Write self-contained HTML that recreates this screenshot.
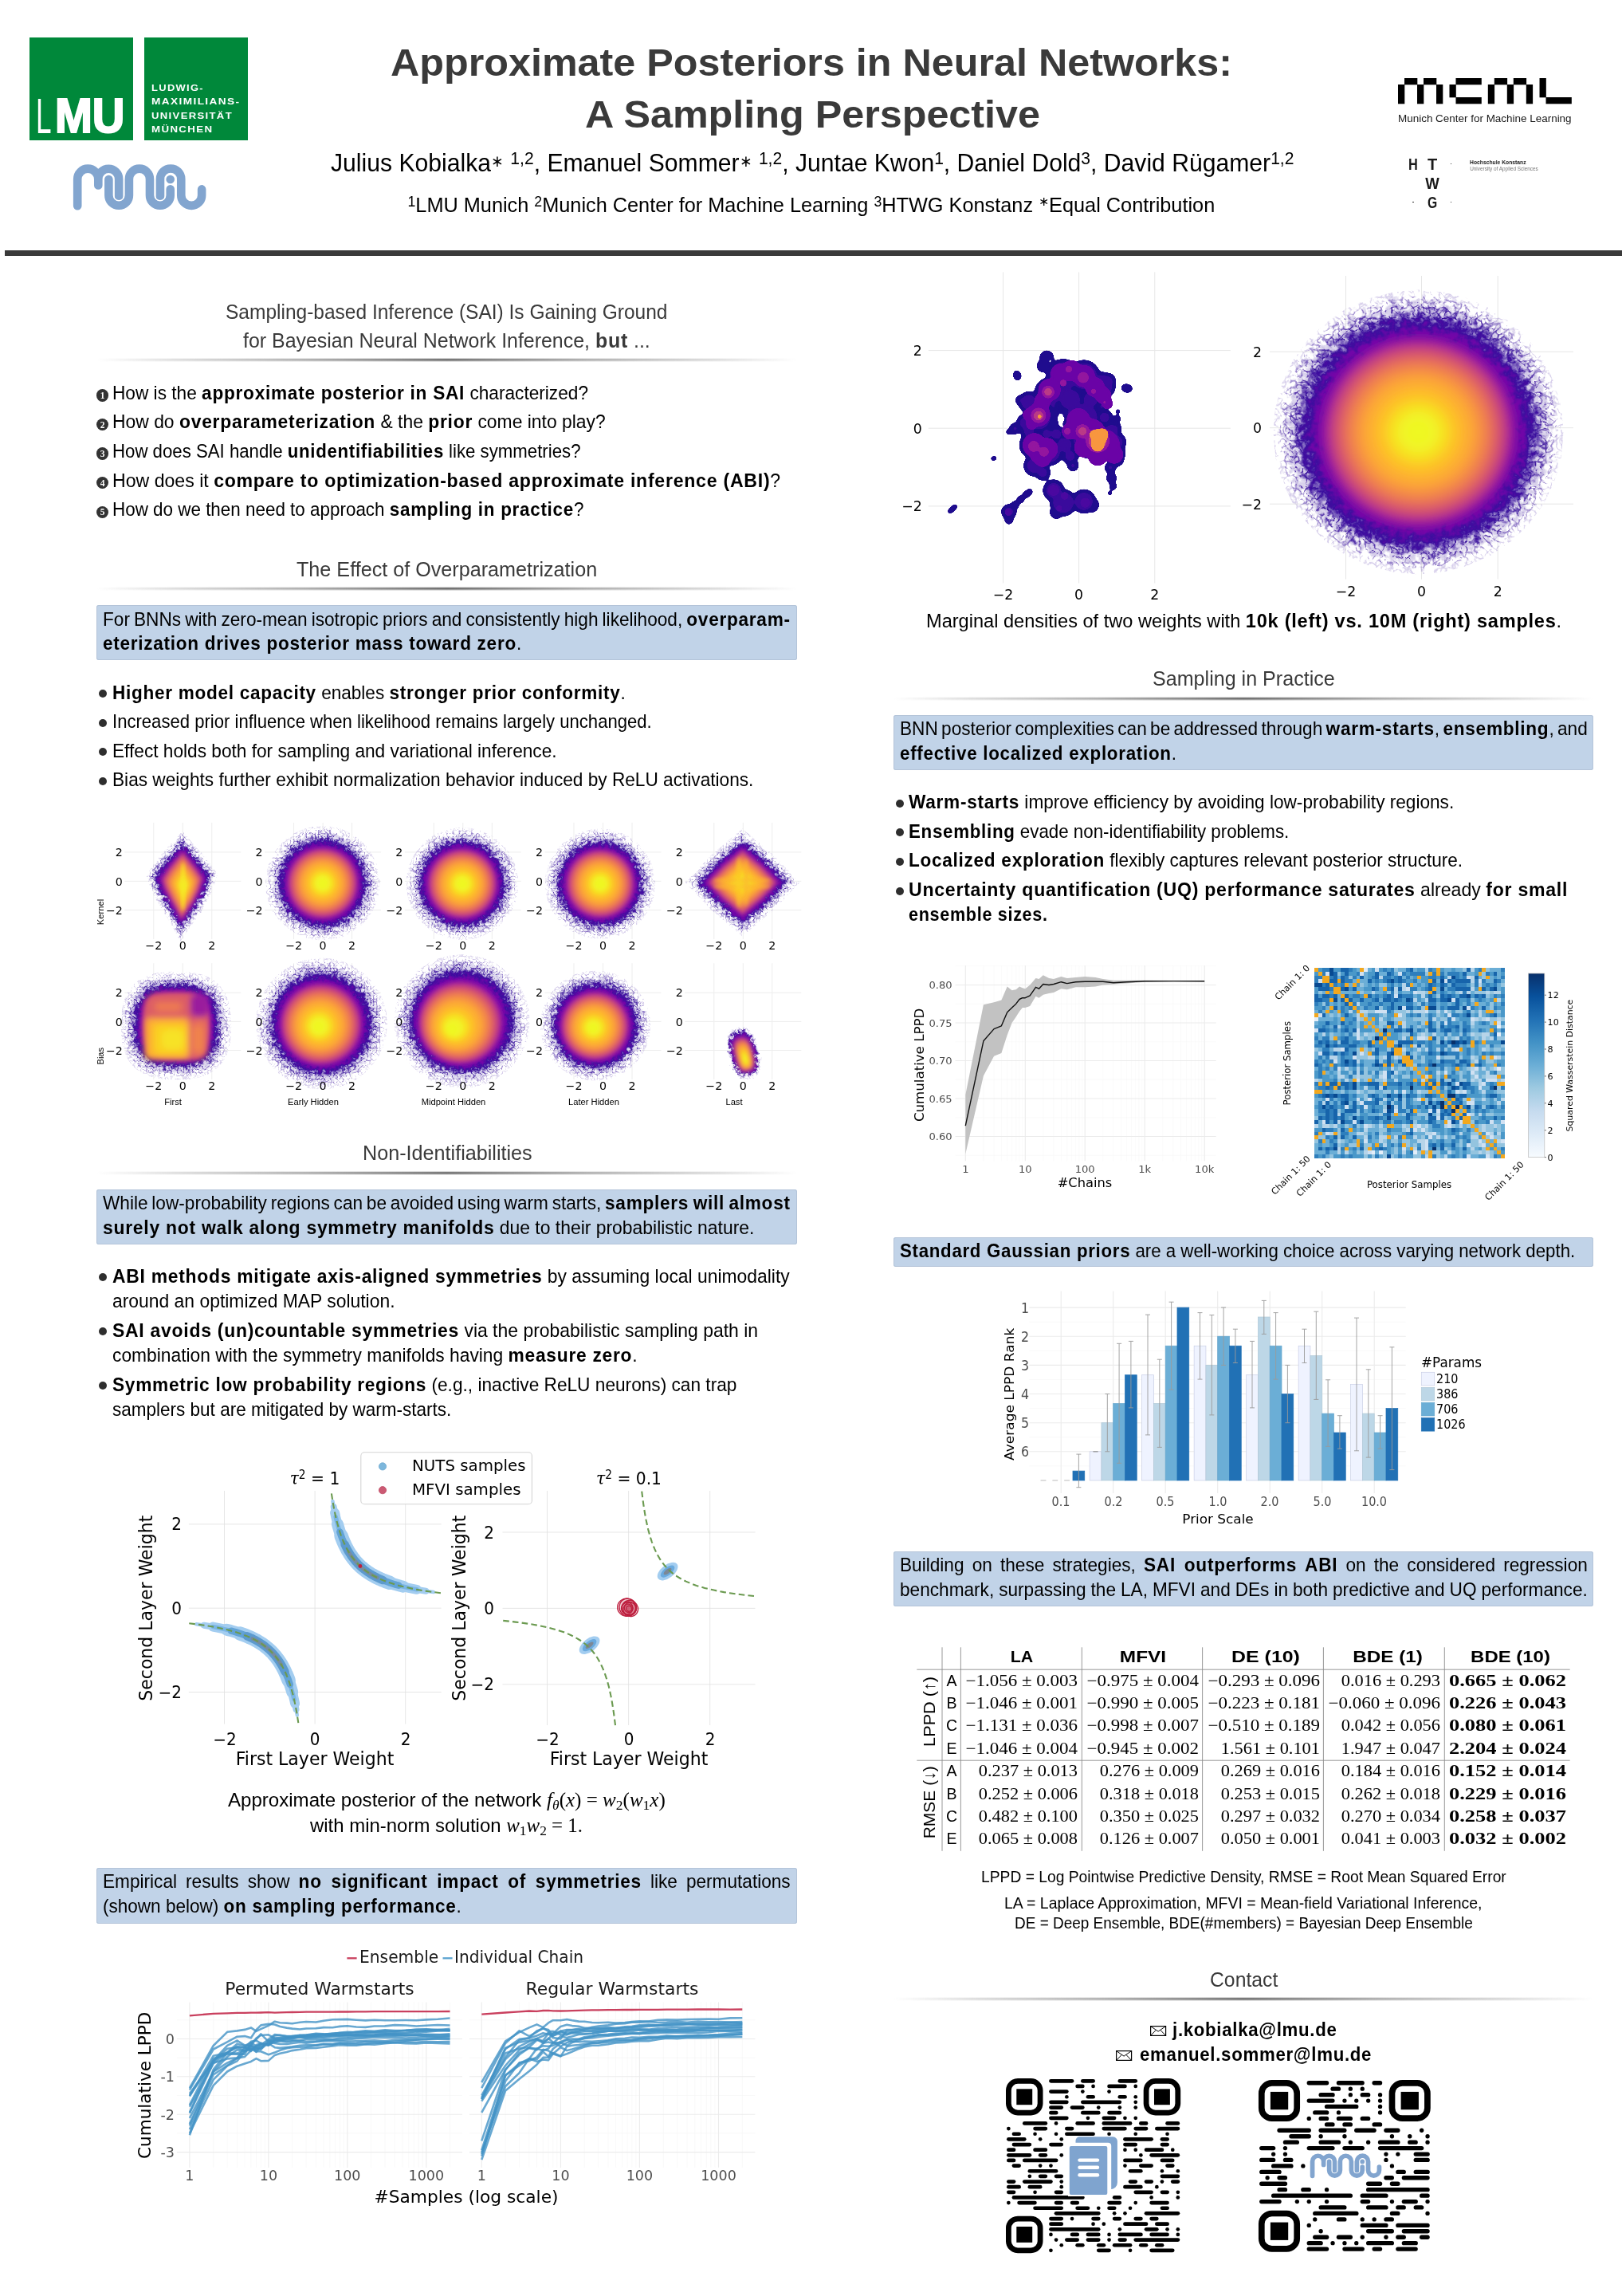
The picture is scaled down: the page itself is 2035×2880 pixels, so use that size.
<!DOCTYPE html><html lang="en"><head><meta charset="utf-8"><title>Approximate Posteriors in Neural Networks: A Sampling Perspective</title><style>
html,body{margin:0;padding:0;background:#fff}
html{width:2035px;height:2880px;overflow:hidden}
body{width:2035px;height:2880px;position:relative;overflow:hidden;color:#000}
.t{position:absolute;white-space:nowrap;line-height:1}
.t b{font-weight:700;letter-spacing:.032em}
svg{position:absolute;overflow:visible}
sup{font-size:70%;vertical-align:baseline;position:relative;top:-.42em}
.bm{display:inline-block;width:0;height:0}
sub{font-size:70%;vertical-align:baseline;position:relative;top:.22em}
</style></head><body>
<div style="position:absolute;left:36.8px;top:46.8px;width:129.8px;height:129.6px;background:#00883a"></div>
<div style="position:absolute;left:181px;top:46.8px;width:129.8px;height:129.6px;background:#00883a"></div>
<svg style="left:85px;top:200px" width="180" height="70" viewBox="0 0 180 70"><path d="M12.21,58.3 V24.64 A13.04,13.04 0 0 1 38.29,24.64 V32.4 M38.29,24.64 A12.925,12.925 0 0 1 64.14,24.64 V46.4" fill="none" stroke="#82a5cf" stroke-width="10.6" stroke-linecap="round" stroke-linejoin="round"/><path d="M115.97,46.6 V24.64 A13.15,13.15 0 0 1 142.27,24.64 V44.94 A12.93,12.93 0 0 0 168.13,44.94 V37.4" fill="none" stroke="#82a5cf" stroke-width="10.6" stroke-linecap="round" stroke-linejoin="round"/><path d="M51.38,24.97 V44.94 A12.76,12.76 0 0 0 76.9,44.94 V24.64 A13.04,13.04 0 0 1 102.98,24.64 V44.94 A12.875,12.875 0 0 0 128.73,44.94 V37.2" fill="none" stroke="#fff" stroke-width="13.399999999999999" stroke-linecap="round" stroke-linejoin="round"/><path d="M51.38,24.97 V44.94 A12.76,12.76 0 0 0 76.9,44.94 V24.64 A13.04,13.04 0 0 1 102.98,24.64 V44.94 A12.875,12.875 0 0 0 128.73,44.94 V37.2" fill="none" stroke="#82a5cf" stroke-width="10.6" stroke-linecap="round" stroke-linejoin="round"/><circle cx="128.7" cy="25" r="6.699999999999999" fill="#fff"/><circle cx="128.7" cy="25" r="5.3" fill="#82a5cf"/></svg>
<svg style="left:1753.8px;top:97.5px" width="224.0" height="33.0" fill="#000"><rect x="8.00" y="0.00" width="16.30" height="8.30"/><rect x="32.00" y="0.00" width="16.30" height="8.30"/><rect x="0.00" y="8.00" width="8.30" height="24.30"/><rect x="24.00" y="8.00" width="8.30" height="24.30"/><rect x="48.00" y="8.00" width="8.30" height="24.30"/><rect x="72.48" y="0.00" width="32.30" height="8.30"/><rect x="64.48" y="8.00" width="8.30" height="16.30"/><rect x="72.48" y="24.00" width="32.30" height="8.30"/><rect x="120.80" y="0.00" width="16.30" height="8.30"/><rect x="144.80" y="0.00" width="16.30" height="8.30"/><rect x="112.80" y="8.00" width="8.30" height="24.30"/><rect x="136.80" y="8.00" width="8.30" height="24.30"/><rect x="160.80" y="8.00" width="8.30" height="24.30"/><rect x="177.52" y="0.00" width="8.30" height="24.30"/><rect x="185.52" y="24.00" width="32.30" height="8.30"/></svg>
<div style="position:absolute;left:1819.8px;top:204.9px;width:1.4px;height:1.4px;background:#333"></div>
<div style="position:absolute;left:1772.3px;top:252.70000000000002px;width:1.4px;height:1.4px;background:#333"></div>
<div style="position:absolute;left:1819.8px;top:252.70000000000002px;width:1.4px;height:1.4px;background:#333"></div>
<div style="position:absolute;left:6.4px;top:314.3px;width:2028.6px;height:7px;background:#3a3a3a"></div>
<div style="position:absolute;left:121.0px;top:448.8px;width:879.0px;height:5.5px;background:linear-gradient(90deg,rgba(90,90,90,0) 0%,rgba(90,90,90,.22) 12%,rgba(90,90,90,.5) 30%,rgba(70,70,70,.8) 50%,rgba(90,90,90,.5) 70%,rgba(90,90,90,.22) 88%,rgba(90,90,90,0) 100%);-webkit-mask-image:linear-gradient(180deg,transparent 0%,#000 35%,#000 55%,transparent 100%);mask-image:linear-gradient(180deg,transparent 0%,#000 35%,#000 55%,transparent 100%)"></div>
<div style="position:absolute;left:121.0px;top:488.2px;width:15.4px;height:15.4px;border-radius:50%;background:#333"></div>
<div style="position:absolute;left:121.0px;top:524.8px;width:15.4px;height:15.4px;border-radius:50%;background:#333"></div>
<div style="position:absolute;left:121.0px;top:561.3px;width:15.4px;height:15.4px;border-radius:50%;background:#333"></div>
<div style="position:absolute;left:121.0px;top:597.9px;width:15.4px;height:15.4px;border-radius:50%;background:#333"></div>
<div style="position:absolute;left:121.0px;top:634.5px;width:15.4px;height:15.4px;border-radius:50%;background:#333"></div>
<div style="position:absolute;left:121.0px;top:735.6px;width:879.0px;height:5.5px;background:linear-gradient(90deg,rgba(90,90,90,0) 0%,rgba(90,90,90,.22) 12%,rgba(90,90,90,.5) 30%,rgba(70,70,70,.8) 50%,rgba(90,90,90,.5) 70%,rgba(90,90,90,.22) 88%,rgba(90,90,90,0) 100%);-webkit-mask-image:linear-gradient(180deg,transparent 0%,#000 35%,#000 55%,transparent 100%);mask-image:linear-gradient(180deg,transparent 0%,#000 35%,#000 55%,transparent 100%)"></div>
<div style="position:absolute;left:121.0px;top:759.2px;width:879.0px;height:69.3px;background:#c1d3e8;border-radius:3px;box-shadow:inset 0 0 0 1px #b4c4d9"></div>
<div style="position:absolute;left:124.0px;top:865.2px;width:10.0px;height:10.0px;border-radius:50%;background:#2e2e2e"></div>
<div style="position:absolute;left:124.0px;top:901.7px;width:10.0px;height:10.0px;border-radius:50%;background:#2e2e2e"></div>
<div style="position:absolute;left:124.0px;top:938.2px;width:10.0px;height:10.0px;border-radius:50%;background:#2e2e2e"></div>
<div style="position:absolute;left:124.0px;top:974.7px;width:10.0px;height:10.0px;border-radius:50%;background:#2e2e2e"></div>
<div style="position:absolute;left:121.0px;top:1468.5px;width:879.0px;height:5.5px;background:linear-gradient(90deg,rgba(90,90,90,0) 0%,rgba(90,90,90,.22) 12%,rgba(90,90,90,.5) 30%,rgba(70,70,70,.8) 50%,rgba(90,90,90,.5) 70%,rgba(90,90,90,.22) 88%,rgba(90,90,90,0) 100%);-webkit-mask-image:linear-gradient(180deg,transparent 0%,#000 35%,#000 55%,transparent 100%);mask-image:linear-gradient(180deg,transparent 0%,#000 35%,#000 55%,transparent 100%)"></div>
<div style="position:absolute;left:121.0px;top:1492.4px;width:879.0px;height:68.3px;background:#c1d3e8;border-radius:3px;box-shadow:inset 0 0 0 1px #b4c4d9"></div>
<div style="position:absolute;left:124.0px;top:1597.4px;width:10.0px;height:10.0px;border-radius:50%;background:#2e2e2e"></div>
<div style="position:absolute;left:124.0px;top:1665.4px;width:10.0px;height:10.0px;border-radius:50%;background:#2e2e2e"></div>
<div style="position:absolute;left:124.0px;top:1733.4px;width:10.0px;height:10.0px;border-radius:50%;background:#2e2e2e"></div>
<div style="position:absolute;left:121.0px;top:2342.8px;width:879.0px;height:70.3px;background:#c1d3e8;border-radius:3px;box-shadow:inset 0 0 0 1px #b4c4d9"></div>
<div style="position:absolute;left:1120.7px;top:873.6px;width:878.4px;height:5.5px;background:linear-gradient(90deg,rgba(90,90,90,0) 0%,rgba(90,90,90,.22) 12%,rgba(90,90,90,.5) 30%,rgba(70,70,70,.8) 50%,rgba(90,90,90,.5) 70%,rgba(90,90,90,.22) 88%,rgba(90,90,90,0) 100%);-webkit-mask-image:linear-gradient(180deg,transparent 0%,#000 35%,#000 55%,transparent 100%);mask-image:linear-gradient(180deg,transparent 0%,#000 35%,#000 55%,transparent 100%)"></div>
<div style="position:absolute;left:1120.9px;top:896.7px;width:878.4px;height:69.1px;background:#c1d3e8;border-radius:3px;box-shadow:inset 0 0 0 1px #b4c4d9"></div>
<div style="position:absolute;left:1124.0px;top:1002.7px;width:10.0px;height:10.0px;border-radius:50%;background:#2e2e2e"></div>
<div style="position:absolute;left:1124.0px;top:1039.4px;width:10.0px;height:10.0px;border-radius:50%;background:#2e2e2e"></div>
<div style="position:absolute;left:1124.0px;top:1076.0px;width:10.0px;height:10.0px;border-radius:50%;background:#2e2e2e"></div>
<div style="position:absolute;left:1124.0px;top:1112.6px;width:10.0px;height:10.0px;border-radius:50%;background:#2e2e2e"></div>
<div style="position:absolute;left:1120.9px;top:1551.7px;width:878.4px;height:37.5px;background:#c1d3e8;border-radius:3px;box-shadow:inset 0 0 0 1px #b4c4d9"></div>
<div style="position:absolute;left:1120.9px;top:1946.0px;width:878.4px;height:69.1px;background:#c1d3e8;border-radius:3px;box-shadow:inset 0 0 0 1px #b4c4d9"></div>
<div style="position:absolute;left:1120.7px;top:2504.8px;width:878.4px;height:5.5px;background:linear-gradient(90deg,rgba(90,90,90,0) 0%,rgba(90,90,90,.22) 12%,rgba(90,90,90,.5) 30%,rgba(70,70,70,.8) 50%,rgba(90,90,90,.5) 70%,rgba(90,90,90,.22) 88%,rgba(90,90,90,0) 100%);-webkit-mask-image:linear-gradient(180deg,transparent 0%,#000 35%,#000 55%,transparent 100%);mask-image:linear-gradient(180deg,transparent 0%,#000 35%,#000 55%,transparent 100%)"></div>
<svg style="left:1443.2px;top:2540.8px" width="20.2" height="13" viewBox="0 0 20.2 13"><rect x=".6" y=".6" width="19.0" height="11.8" fill="#fff" stroke="#000" stroke-width="1.2"/><path d="M.6,.6 L10.1,7.15 L19.599999999999998,.6 M.6,12.4 L7.271999999999999,5.46 M19.599999999999998,12.4 L12.927999999999999,5.46" fill="none" stroke="#000" stroke-width="1"/></svg>
<svg style="left:1400px;top:2572.3px" width="20.2" height="13" viewBox="0 0 20.2 13"><rect x=".6" y=".6" width="19.0" height="11.8" fill="#fff" stroke="#000" stroke-width="1.2"/><path d="M.6,.6 L10.1,7.15 L19.599999999999998,.6 M.6,12.4 L7.271999999999999,5.46 M19.599999999999998,12.4 L12.927999999999999,5.46" fill="none" stroke="#000" stroke-width="1"/></svg>
<svg width="0" height="0" style="left:0;top:0"><defs><filter id="fz" x="-30%" y="-30%" width="160%" height="160%" color-interpolation-filters="sRGB"><feGaussianBlur stdDeviation="1.2" result="b"/><feTurbulence type="fractalNoise" baseFrequency="0.22" numOctaves="3" seed="7" result="n"/><feDisplacementMap in="b" in2="n" scale="16" xChannelSelector="R" yChannelSelector="G"/></filter><filter id="fzb" x="-30%" y="-30%" width="160%" height="160%" color-interpolation-filters="sRGB"><feGaussianBlur stdDeviation="2.5" result="b"/><feTurbulence type="fractalNoise" baseFrequency="0.12" numOctaves="3" seed="3" result="n"/><feDisplacementMap in="b" in2="n" scale="34" xChannelSelector="R" yChannelSelector="G"/></filter><filter id="bl6" x="-30%" y="-30%" width="160%" height="160%"><feGaussianBlur stdDeviation="6"/></filter><filter id="bl5" x="-30%" y="-30%" width="160%" height="160%"><feGaussianBlur stdDeviation="3.6"/></filter><filter id="bl2"><feGaussianBlur stdDeviation="2"/></filter><filter id="bl3" x="-30%" y="-30%" width="160%" height="160%"><feGaussianBlur stdDeviation="2.4"/></filter><filter id="bl1"><feGaussianBlur stdDeviation="1"/></filter><filter id="vn" x="-5%" y="-5%" width="110%" height="110%" color-interpolation-filters="sRGB"><feTurbulence type="turbulence" baseFrequency="0.13" numOctaves="2" seed="5" result="t"/><feColorMatrix in="t" type="matrix" values="0 0 0 0 0.2  0 0 0 0 0.04  0 0 0 0 0.6  -8 0 0 0 1.1" result="l1"/><feColorMatrix in="t" type="matrix" values="0 0 0 0 0.2  0 0 0 0 0.04  0 0 0 0 0.6  0 -8 0 0 1.1" result="l2"/><feColorMatrix in="t" type="matrix" values="0 0 0 0 0.2  0 0 0 0 0.04  0 0 0 0 0.6  0 0 -8 0 1.1" result="l3"/><feMerge result="m"><feMergeNode in="l1"/><feMergeNode in="l2"/><feMergeNode in="l3"/></feMerge><feComposite in="m" in2="SourceGraphic" operator="in"/></filter><filter id="vnb" x="-5%" y="-5%" width="110%" height="110%" color-interpolation-filters="sRGB"><feTurbulence type="turbulence" baseFrequency="0.075" numOctaves="2" seed="9" result="t"/><feColorMatrix in="t" type="matrix" values="0 0 0 0 0.2  0 0 0 0 0.04  0 0 0 0 0.6  -8 0 0 0 1.1" result="l1"/><feColorMatrix in="t" type="matrix" values="0 0 0 0 0.2  0 0 0 0 0.04  0 0 0 0 0.6  0 -8 0 0 1.1" result="l2"/><feColorMatrix in="t" type="matrix" values="0 0 0 0 0.2  0 0 0 0 0.04  0 0 0 0 0.6  0 0 -8 0 1.1" result="l3"/><feMerge result="m"><feMergeNode in="l1"/><feMergeNode in="l2"/><feMergeNode in="l3"/></feMerge><feComposite in="m" in2="SourceGraphic" operator="in"/></filter></defs></svg>
<svg style="left:0;top:0" width="2035" height="2880" viewBox="0 0 2035 2880"><line x1="192.8" x2="192.8" y1="1031.9" y2="1178.1" stroke="#ededed" stroke-width="1"/><line x1="229.3" x2="229.3" y1="1031.9" y2="1178.1" stroke="#ededed" stroke-width="1"/><line x1="265.8" x2="265.8" y1="1031.9" y2="1178.1" stroke="#ededed" stroke-width="1"/><line x1="156.3" x2="302.3" y1="1068.9" y2="1068.9" stroke="#ededed" stroke-width="1"/><line x1="156.3" x2="302.3" y1="1105.3" y2="1105.3" stroke="#ededed" stroke-width="1"/><line x1="156.3" x2="302.3" y1="1141.6" y2="1141.6" stroke="#ededed" stroke-width="1"/><line x1="368.6" x2="368.6" y1="1031.9" y2="1178.1" stroke="#ededed" stroke-width="1"/><line x1="405.1" x2="405.1" y1="1031.9" y2="1178.1" stroke="#ededed" stroke-width="1"/><line x1="441.6" x2="441.6" y1="1031.9" y2="1178.1" stroke="#ededed" stroke-width="1"/><line x1="332.1" x2="478.1" y1="1068.9" y2="1068.9" stroke="#ededed" stroke-width="1"/><line x1="332.1" x2="478.1" y1="1105.3" y2="1105.3" stroke="#ededed" stroke-width="1"/><line x1="332.1" x2="478.1" y1="1141.6" y2="1141.6" stroke="#ededed" stroke-width="1"/><line x1="544.3" x2="544.3" y1="1031.9" y2="1178.1" stroke="#ededed" stroke-width="1"/><line x1="580.8" x2="580.8" y1="1031.9" y2="1178.1" stroke="#ededed" stroke-width="1"/><line x1="617.3" x2="617.3" y1="1031.9" y2="1178.1" stroke="#ededed" stroke-width="1"/><line x1="507.8" x2="653.8" y1="1068.9" y2="1068.9" stroke="#ededed" stroke-width="1"/><line x1="507.8" x2="653.8" y1="1105.3" y2="1105.3" stroke="#ededed" stroke-width="1"/><line x1="507.8" x2="653.8" y1="1141.6" y2="1141.6" stroke="#ededed" stroke-width="1"/><line x1="720.0" x2="720.0" y1="1031.9" y2="1178.1" stroke="#ededed" stroke-width="1"/><line x1="756.5" x2="756.5" y1="1031.9" y2="1178.1" stroke="#ededed" stroke-width="1"/><line x1="793.0" x2="793.0" y1="1031.9" y2="1178.1" stroke="#ededed" stroke-width="1"/><line x1="683.5" x2="829.5" y1="1068.9" y2="1068.9" stroke="#ededed" stroke-width="1"/><line x1="683.5" x2="829.5" y1="1105.3" y2="1105.3" stroke="#ededed" stroke-width="1"/><line x1="683.5" x2="829.5" y1="1141.6" y2="1141.6" stroke="#ededed" stroke-width="1"/><line x1="895.8" x2="895.8" y1="1031.9" y2="1178.1" stroke="#ededed" stroke-width="1"/><line x1="932.3" x2="932.3" y1="1031.9" y2="1178.1" stroke="#ededed" stroke-width="1"/><line x1="968.8" x2="968.8" y1="1031.9" y2="1178.1" stroke="#ededed" stroke-width="1"/><line x1="859.3" x2="1005.3" y1="1068.9" y2="1068.9" stroke="#ededed" stroke-width="1"/><line x1="859.3" x2="1005.3" y1="1105.3" y2="1105.3" stroke="#ededed" stroke-width="1"/><line x1="859.3" x2="1005.3" y1="1141.6" y2="1141.6" stroke="#ededed" stroke-width="1"/><line x1="192.8" x2="192.8" y1="1208.2" y2="1354.0" stroke="#ededed" stroke-width="1"/><line x1="229.3" x2="229.3" y1="1208.2" y2="1354.0" stroke="#ededed" stroke-width="1"/><line x1="265.8" x2="265.8" y1="1208.2" y2="1354.0" stroke="#ededed" stroke-width="1"/><line x1="156.3" x2="302.3" y1="1245.2" y2="1245.2" stroke="#ededed" stroke-width="1"/><line x1="156.3" x2="302.3" y1="1281.4" y2="1281.4" stroke="#ededed" stroke-width="1"/><line x1="156.3" x2="302.3" y1="1317.5" y2="1317.5" stroke="#ededed" stroke-width="1"/><line x1="368.6" x2="368.6" y1="1208.2" y2="1354.0" stroke="#ededed" stroke-width="1"/><line x1="405.1" x2="405.1" y1="1208.2" y2="1354.0" stroke="#ededed" stroke-width="1"/><line x1="441.6" x2="441.6" y1="1208.2" y2="1354.0" stroke="#ededed" stroke-width="1"/><line x1="332.1" x2="478.1" y1="1245.2" y2="1245.2" stroke="#ededed" stroke-width="1"/><line x1="332.1" x2="478.1" y1="1281.4" y2="1281.4" stroke="#ededed" stroke-width="1"/><line x1="332.1" x2="478.1" y1="1317.5" y2="1317.5" stroke="#ededed" stroke-width="1"/><line x1="544.3" x2="544.3" y1="1208.2" y2="1354.0" stroke="#ededed" stroke-width="1"/><line x1="580.8" x2="580.8" y1="1208.2" y2="1354.0" stroke="#ededed" stroke-width="1"/><line x1="617.3" x2="617.3" y1="1208.2" y2="1354.0" stroke="#ededed" stroke-width="1"/><line x1="507.8" x2="653.8" y1="1245.2" y2="1245.2" stroke="#ededed" stroke-width="1"/><line x1="507.8" x2="653.8" y1="1281.4" y2="1281.4" stroke="#ededed" stroke-width="1"/><line x1="507.8" x2="653.8" y1="1317.5" y2="1317.5" stroke="#ededed" stroke-width="1"/><line x1="720.0" x2="720.0" y1="1208.2" y2="1354.0" stroke="#ededed" stroke-width="1"/><line x1="756.5" x2="756.5" y1="1208.2" y2="1354.0" stroke="#ededed" stroke-width="1"/><line x1="793.0" x2="793.0" y1="1208.2" y2="1354.0" stroke="#ededed" stroke-width="1"/><line x1="683.5" x2="829.5" y1="1245.2" y2="1245.2" stroke="#ededed" stroke-width="1"/><line x1="683.5" x2="829.5" y1="1281.4" y2="1281.4" stroke="#ededed" stroke-width="1"/><line x1="683.5" x2="829.5" y1="1317.5" y2="1317.5" stroke="#ededed" stroke-width="1"/><line x1="895.8" x2="895.8" y1="1208.2" y2="1354.0" stroke="#ededed" stroke-width="1"/><line x1="932.3" x2="932.3" y1="1208.2" y2="1354.0" stroke="#ededed" stroke-width="1"/><line x1="968.8" x2="968.8" y1="1208.2" y2="1354.0" stroke="#ededed" stroke-width="1"/><line x1="859.3" x2="1005.3" y1="1245.2" y2="1245.2" stroke="#ededed" stroke-width="1"/><line x1="859.3" x2="1005.3" y1="1281.4" y2="1281.4" stroke="#ededed" stroke-width="1"/><line x1="859.3" x2="1005.3" y1="1317.5" y2="1317.5" stroke="#ededed" stroke-width="1"/><g filter="url(#vn)"><polygon points="229.1,1042.6 242.3,1058.5 259.4,1077.9 273.0,1096.6 265.1,1120.1 251.0,1145.7 236.6,1165.7 226.0,1180.9 216.8,1162.9 202.8,1140.1 188.7,1114.5 183.5,1097.9 197.1,1077.9 214.2,1058.5" fill="#2f0596" fill-opacity="0.2"/><polygon points="229.1,1046.6 241.5,1061.5 257.6,1079.8 270.4,1097.3 262.9,1119.4 249.7,1143.5 236.1,1162.3 226.2,1176.6 217.5,1159.7 204.3,1138.2 191.1,1114.2 186.2,1098.6 199.0,1079.8 215.1,1061.5" fill="#2f0596" fill-opacity="0.36"/><polygon points="229.1,1051.6 240.5,1065.3 255.3,1082.1 267.1,1098.2 260.2,1118.6 248.1,1140.7 235.6,1158.0 226.4,1171.2 218.5,1155.6 206.3,1135.9 194.2,1113.8 189.6,1099.4 201.4,1082.1 216.2,1065.3" fill="#2f0596" fill-opacity="0.65"/><polygon points="229.1,1056.1 239.6,1068.8 253.2,1084.2 264.1,1099.1 257.8,1117.8 246.6,1138.2 235.0,1154.2 226.7,1166.3 219.3,1152.0 208.1,1133.8 196.9,1113.4 192.7,1100.2 203.6,1084.2 217.2,1068.8" fill="#2f0596" fill-opacity="0.9"/></g><g filter="url(#fz)"><polygon points="229.1,1050.6 240.7,1064.6 255.7,1081.6 267.7,1098.0 260.8,1118.7 248.4,1141.2 235.7,1158.9 226.4,1172.3 218.3,1156.5 205.9,1136.4 193.6,1113.9 188.9,1099.3 200.9,1081.6 216.0,1064.6" fill="#3b1a9c" fill-opacity="0.16"/><polygon points="229.1,1056.1 239.6,1068.8 253.2,1084.2 264.1,1099.1 257.8,1117.8 246.6,1138.2 235.0,1154.2 226.7,1166.3 219.3,1152.0 208.1,1133.8 196.9,1113.4 192.7,1100.2 203.6,1084.2 217.2,1068.8" fill="#3d169e" fill-opacity="0.45"/><polygon points="229.1,1059.1 239.0,1071.0 251.9,1085.6 262.1,1099.6 256.2,1117.3 245.6,1136.6 234.7,1151.6 226.8,1163.1 219.9,1149.6 209.3,1132.4 198.7,1113.2 194.8,1100.7 205.0,1085.6 217.9,1071.0" fill="#3c0c9e"/><polygon points="229.2,1062.0 238.3,1073.3 250.2,1087.1 259.7,1100.3 254.2,1117.0 244.4,1135.2 234.4,1149.5 227.0,1160.3 220.6,1147.5 210.8,1131.3 201.1,1113.1 197.4,1101.3 206.9,1087.1 218.8,1073.3" fill="#560aa4"/><polygon points="229.2,1064.5 237.8,1075.2 248.9,1088.3 257.7,1100.9 252.6,1116.8 243.5,1134.1 234.1,1147.6 227.2,1157.9 221.2,1145.8 212.1,1130.4 203.0,1113.1 199.5,1101.9 208.4,1088.3 219.5,1075.2" fill="#6e06a8"/></g><g filter="url(#bl3)"><polygon points="229.2,1066.5 237.3,1076.8 247.8,1089.3 256.2,1101.4 251.3,1116.6 242.7,1133.2 233.8,1146.2 227.4,1156.0 221.7,1144.4 213.1,1129.6 204.5,1113.0 201.2,1102.3 209.6,1089.3 220.1,1076.8" fill="#8b0aa5"/><polygon points="229.3,1068.4 236.9,1078.3 246.8,1090.3 254.6,1101.9 250.1,1116.4 242.0,1132.3 233.6,1144.7 227.5,1154.1 222.2,1143.0 214.1,1128.8 206.0,1113.0 202.9,1102.7 210.8,1090.3 220.7,1078.3" fill="#a72197"/><polygon points="229.3,1070.4 236.5,1079.8 245.8,1091.3 253.1,1102.3 248.8,1116.2 241.2,1131.4 233.4,1143.2 227.7,1152.2 222.7,1141.6 215.0,1128.1 207.4,1113.0 204.6,1103.1 212.0,1091.3 221.2,1079.8" fill="#c33d80"/><polygon points="229.4,1072.9 235.9,1081.8 244.5,1092.5 251.3,1102.9 247.3,1116.0 240.3,1130.2 233.1,1141.4 227.8,1149.8 223.3,1139.8 216.2,1127.1 209.2,1112.9 206.6,1103.7 213.4,1092.5 221.9,1081.8" fill="#d6556d"/><polygon points="229.4,1075.5 235.4,1083.7 243.2,1093.8 249.4,1103.5 245.8,1115.7 239.4,1129.1 232.8,1139.5 228.0,1147.4 223.8,1138.0 217.4,1126.2 211.0,1112.9 208.6,1104.2 214.8,1093.8 222.6,1083.7" fill="#e56b5d"/><polygon points="229.5,1078.5 234.8,1086.1 241.8,1095.3 247.3,1104.2 244.1,1115.4 238.4,1127.7 232.5,1137.2 228.2,1144.5 224.5,1135.9 218.8,1125.0 213.1,1112.8 211.0,1104.9 216.5,1095.3 223.4,1086.1" fill="#f1844b"/><polygon points="229.6,1082.1 234.1,1088.8 240.1,1097.1 244.8,1105.1 242.1,1115.1 237.2,1126.0 232.2,1134.6 228.5,1141.1 225.3,1133.4 220.4,1123.7 215.5,1112.7 213.7,1105.7 218.4,1097.1 224.4,1088.8" fill="#f99a3e"/><polygon points="229.6,1085.7 233.5,1091.6 238.5,1098.9 242.5,1105.9 240.2,1114.7 236.1,1124.3 231.8,1131.9 228.7,1137.6 226.0,1130.8 221.9,1122.3 217.8,1112.7 216.3,1106.4 220.3,1098.9 225.3,1091.6" fill="#fdae32"/><polygon points="229.7,1090.9 232.6,1095.7 236.3,1101.5 239.3,1107.1 237.5,1114.2 234.5,1121.9 231.3,1128.0 229.1,1132.6 227.1,1127.1 224.0,1120.3 221.0,1112.6 219.8,1107.6 222.8,1101.5 226.5,1095.7" fill="#fdc328"/><polygon points="229.8,1096.2 231.8,1099.8 234.3,1104.2 236.3,1108.4 235.1,1113.7 233.0,1119.5 230.9,1124.0 229.4,1127.4 228.0,1123.4 226.0,1118.2 223.9,1112.4 223.2,1108.7 225.1,1104.2 227.6,1099.8" fill="#f7e024"/><polygon points="229.9,1101.2 231.1,1103.6 232.6,1106.6 233.8,1109.5 233.1,1113.2 231.9,1117.2 230.6,1120.3 229.6,1122.6 228.8,1119.8 227.6,1116.3 226.4,1112.3 225.9,1109.7 227.1,1106.6 228.6,1103.6" fill="#f1f426"/><polygon points="230.1,1106.6 230.6,1107.9 231.2,1109.4 231.7,1111.0 231.4,1112.9 230.9,1115.0 230.4,1116.7 230.0,1117.9 229.6,1116.4 229.1,1114.6 228.6,1112.5 228.4,1111.1 228.9,1109.4 229.5,1107.9" fill="#eff821"/></g><g filter="url(#bl2)" opacity=".8"><ellipse cx="229.6" cy="1112" rx="3" ry="30" fill="#f6e626"/></g><g filter="url(#vn)"><polygon points="476.5,1107.8 475.4,1120.3 472.2,1132.4 466.9,1143.7 459.7,1154.0 450.9,1162.8 440.6,1170.0 429.3,1175.3 417.2,1178.5 404.7,1179.6 392.2,1178.5 380.1,1175.3 368.8,1170.0 358.5,1162.8 349.7,1154.0 342.5,1143.7 337.2,1132.4 334.0,1120.3 332.9,1107.8 334.0,1095.3 337.2,1083.2 342.5,1071.9 349.7,1061.6 358.5,1052.8 368.8,1045.6 380.1,1040.3 392.2,1037.1 404.7,1036.0 417.2,1037.1 429.3,1040.3 440.6,1045.6 450.9,1052.8 459.7,1061.6 466.9,1071.9 472.2,1083.2 475.4,1095.3" fill="#2f0596" fill-opacity="0.2"/><polygon points="472.2,1107.8 471.2,1119.5 468.1,1130.9 463.2,1141.5 456.4,1151.2 448.1,1159.5 438.4,1166.3 427.8,1171.2 416.4,1174.3 404.7,1175.3 393.0,1174.3 381.6,1171.2 370.9,1166.3 361.3,1159.5 353.0,1151.2 346.2,1141.5 341.3,1130.9 338.2,1119.5 337.2,1107.8 338.2,1096.1 341.3,1084.7 346.2,1074.0 353.0,1064.4 361.3,1056.1 370.9,1049.3 381.6,1044.4 393.0,1041.3 404.7,1040.3 416.4,1041.3 427.8,1044.4 438.4,1049.3 448.1,1056.1 456.4,1064.4 463.2,1074.0 468.1,1084.7 471.2,1096.1" fill="#2f0596" fill-opacity="0.36"/><polygon points="466.8,1107.8 465.9,1118.6 463.1,1129.0 458.5,1138.8 452.3,1147.7 444.6,1155.4 435.8,1161.6 425.9,1166.2 415.5,1169.0 404.7,1169.9 393.9,1169.0 383.5,1166.2 373.6,1161.6 364.8,1155.4 357.1,1147.7 350.9,1138.8 346.3,1129.0 343.5,1118.6 342.6,1107.8 343.5,1097.0 346.3,1086.6 350.9,1076.8 357.1,1067.9 364.8,1060.2 373.6,1054.0 383.5,1049.4 393.9,1046.6 404.7,1045.7 415.5,1046.6 425.9,1049.4 435.7,1054.0 444.6,1060.2 452.3,1067.9 458.5,1076.8 463.1,1086.6 465.9,1097.0" fill="#2f0596" fill-opacity="0.65"/><polygon points="461.9,1107.8 461.1,1117.7 458.5,1127.4 454.3,1136.4 448.5,1144.6 441.5,1151.6 433.3,1157.4 424.3,1161.6 414.6,1164.2 404.7,1165.0 394.8,1164.2 385.1,1161.6 376.1,1157.4 367.9,1151.6 360.9,1144.6 355.1,1136.4 350.9,1127.4 348.3,1117.7 347.5,1107.8 348.3,1097.9 350.9,1088.2 355.1,1079.2 360.9,1071.0 367.9,1064.0 376.1,1058.2 385.1,1054.0 394.8,1051.4 404.7,1050.6 414.6,1051.4 424.3,1054.0 433.3,1058.2 441.5,1064.0 448.5,1071.0 454.3,1079.2 458.5,1088.2 461.1,1097.9" fill="#2f0596" fill-opacity="0.9"/></g><g filter="url(#fz)"><polygon points="467.9,1107.8 466.9,1118.8 464.1,1129.4 459.4,1139.4 453.1,1148.4 445.3,1156.2 436.3,1162.5 426.3,1167.2 415.7,1170.0 404.7,1171.0 393.7,1170.0 383.1,1167.2 373.1,1162.5 364.1,1156.2 356.3,1148.4 350.0,1139.4 345.3,1129.4 342.5,1118.8 341.5,1107.8 342.5,1096.8 345.3,1086.2 350.0,1076.2 356.3,1067.2 364.1,1059.4 373.1,1053.1 383.1,1048.4 393.7,1045.6 404.7,1044.6 415.7,1045.6 426.3,1048.4 436.3,1053.1 445.3,1059.4 453.1,1067.2 459.4,1076.2 464.1,1086.2 466.9,1096.8" fill="#3b1a9c" fill-opacity="0.16"/><polygon points="461.9,1107.8 461.1,1117.7 458.5,1127.4 454.3,1136.4 448.5,1144.6 441.5,1151.6 433.3,1157.4 424.3,1161.6 414.6,1164.2 404.7,1165.0 394.8,1164.2 385.1,1161.6 376.1,1157.4 367.9,1151.6 360.9,1144.6 355.1,1136.4 350.9,1127.4 348.3,1117.7 347.5,1107.8 348.3,1097.9 350.9,1088.2 355.1,1079.2 360.9,1071.0 367.9,1064.0 376.1,1058.2 385.1,1054.0 394.8,1051.4 404.7,1050.6 414.6,1051.4 424.3,1054.0 433.3,1058.2 441.5,1064.0 448.5,1071.0 454.3,1079.2 458.5,1088.2 461.1,1097.9" fill="#3d169e" fill-opacity="0.45"/><polygon points="458.7,1107.8 457.9,1117.2 455.4,1126.3 451.5,1134.8 446.1,1142.5 439.4,1149.2 431.7,1154.6 423.2,1158.5 414.1,1161.0 404.7,1161.8 395.3,1161.0 386.2,1158.5 377.7,1154.6 370.0,1149.2 363.3,1142.5 357.9,1134.8 354.0,1126.3 351.5,1117.2 350.7,1107.8 351.5,1098.4 354.0,1089.3 357.9,1080.8 363.3,1073.1 370.0,1066.4 377.7,1061.0 386.2,1057.1 395.3,1054.6 404.7,1053.8 414.1,1054.6 423.2,1057.1 431.7,1061.0 439.4,1066.4 446.1,1073.1 451.5,1080.8 455.4,1089.3 457.9,1098.4" fill="#3c0c9e"/><polygon points="455.5,1107.8 454.7,1116.6 452.4,1125.2 448.7,1133.2 443.6,1140.4 437.3,1146.7 430.1,1151.8 422.1,1155.5 413.5,1157.8 404.7,1158.6 395.9,1157.8 387.3,1155.5 379.3,1151.8 372.1,1146.7 365.8,1140.4 360.7,1133.2 357.0,1125.2 354.7,1116.6 353.9,1107.8 354.7,1099.0 357.0,1090.4 360.7,1082.4 365.8,1075.2 372.1,1068.9 379.3,1063.8 387.3,1060.1 395.9,1057.8 404.7,1057.0 413.5,1057.8 422.1,1060.1 430.1,1063.8 437.3,1068.9 443.6,1075.2 448.7,1082.4 452.4,1090.4 454.7,1099.0" fill="#560aa4"/><polygon points="452.8,1107.8 452.0,1116.1 449.9,1124.2 446.3,1131.8 441.5,1138.7 435.6,1144.6 428.7,1149.4 421.1,1153.0 413.0,1155.1 404.7,1155.9 396.4,1155.1 388.3,1153.0 380.7,1149.4 373.8,1144.6 367.9,1138.7 363.1,1131.8 359.5,1124.2 357.4,1116.1 356.6,1107.8 357.4,1099.5 359.5,1091.4 363.1,1083.8 367.9,1076.9 373.8,1071.0 380.7,1066.2 388.3,1062.6 396.4,1060.5 404.7,1059.7 413.0,1060.5 421.1,1062.6 428.7,1066.2 435.6,1071.0 441.5,1076.9 446.3,1083.8 449.9,1091.4 452.0,1099.5" fill="#6e06a8"/></g><g filter="url(#bl3)"><polygon points="450.6,1107.8 449.9,1115.8 447.8,1123.5 444.5,1130.8 439.9,1137.3 434.2,1143.0 427.6,1147.6 420.4,1150.9 412.7,1153.0 404.7,1153.7 396.7,1153.0 389.0,1150.9 381.8,1147.6 375.2,1143.0 369.5,1137.3 364.9,1130.8 361.6,1123.5 359.5,1115.8 358.8,1107.8 359.5,1099.8 361.6,1092.1 364.9,1084.8 369.5,1078.3 375.2,1072.6 381.7,1068.0 389.0,1064.7 396.7,1062.6 404.7,1061.9 412.7,1062.6 420.4,1064.7 427.6,1068.0 434.2,1072.6 439.9,1078.3 444.5,1084.8 447.8,1092.1 449.9,1099.8" fill="#8b0aa5"/><polygon points="448.4,1107.8 447.8,1115.4 445.8,1122.8 442.6,1129.7 438.2,1135.9 432.8,1141.3 426.6,1145.7 419.7,1148.9 412.3,1150.9 404.7,1151.5 397.1,1150.9 389.7,1148.9 382.8,1145.7 376.6,1141.3 371.2,1135.9 366.8,1129.7 363.6,1122.8 361.6,1115.4 361.0,1107.8 361.6,1100.2 363.6,1092.8 366.8,1085.9 371.2,1079.7 376.6,1074.3 382.8,1069.9 389.7,1066.7 397.1,1064.7 404.7,1064.1 412.3,1064.7 419.7,1066.7 426.6,1069.9 432.8,1074.3 438.2,1079.7 442.6,1085.9 445.8,1092.8 447.8,1100.2" fill="#a72197"/><polygon points="446.3,1107.8 445.6,1115.0 443.8,1122.0 440.7,1128.6 436.6,1134.5 431.4,1139.7 425.5,1143.8 418.9,1146.9 411.9,1148.7 404.7,1149.4 397.5,1148.7 390.5,1146.9 383.9,1143.8 378.0,1139.7 372.8,1134.5 368.7,1128.6 365.6,1122.0 363.8,1115.0 363.1,1107.8 363.8,1100.6 365.6,1093.6 368.7,1087.0 372.8,1081.1 378.0,1075.9 383.9,1071.8 390.5,1068.7 397.5,1066.9 404.7,1066.2 411.9,1066.9 418.9,1068.7 425.5,1071.8 431.4,1075.9 436.6,1081.1 440.7,1087.0 443.8,1093.6 445.6,1100.6" fill="#c33d80"/><polygon points="443.6,1107.8 443.0,1114.6 441.2,1121.1 438.4,1127.2 434.5,1132.8 429.7,1137.6 424.1,1141.5 418.0,1144.3 411.5,1146.1 404.7,1146.7 397.9,1146.1 391.4,1144.3 385.3,1141.5 379.7,1137.6 374.9,1132.8 371.0,1127.2 368.2,1121.1 366.4,1114.6 365.8,1107.8 366.4,1101.0 368.2,1094.5 371.0,1088.4 374.9,1082.8 379.7,1078.0 385.3,1074.1 391.4,1071.3 397.9,1069.5 404.7,1068.9 411.5,1069.5 418.0,1071.3 424.1,1074.1 429.7,1078.0 434.5,1082.8 438.4,1088.4 441.2,1094.5 443.0,1101.0" fill="#d6556d"/><polygon points="440.9,1107.8 440.3,1114.1 438.7,1120.2 436.0,1125.9 432.4,1131.1 428.0,1135.5 422.8,1139.1 417.1,1141.8 411.0,1143.4 404.7,1144.0 398.4,1143.4 392.3,1141.8 386.6,1139.1 381.4,1135.5 377.0,1131.1 373.4,1125.9 370.7,1120.2 369.1,1114.1 368.5,1107.8 369.1,1101.5 370.7,1095.4 373.4,1089.7 377.0,1084.5 381.4,1080.1 386.6,1076.5 392.3,1073.8 398.4,1072.2 404.7,1071.6 411.0,1072.2 417.1,1073.8 422.8,1076.5 428.0,1080.1 432.4,1084.5 436.0,1089.7 438.7,1095.4 440.3,1101.5" fill="#e56b5d"/><polygon points="437.6,1107.8 437.1,1113.5 435.7,1119.1 433.2,1124.3 429.9,1129.0 425.9,1133.0 421.2,1136.3 416.0,1138.8 410.4,1140.2 404.7,1140.7 399.0,1140.2 393.4,1138.8 388.2,1136.3 383.5,1133.0 379.5,1129.0 376.2,1124.3 373.7,1119.1 372.3,1113.5 371.8,1107.8 372.3,1102.1 373.7,1096.5 376.2,1091.3 379.5,1086.6 383.5,1082.6 388.2,1079.3 393.4,1076.8 399.0,1075.4 404.7,1074.9 410.4,1075.4 416.0,1076.8 421.2,1079.3 425.9,1082.6 429.9,1086.6 433.2,1091.3 435.7,1096.5 437.1,1102.1" fill="#f1844b"/><polygon points="433.9,1107.8 433.4,1112.9 432.1,1117.8 430.0,1122.4 427.0,1126.5 423.4,1130.1 419.3,1133.1 414.7,1135.2 409.8,1136.5 404.7,1137.0 399.6,1136.5 394.7,1135.2 390.1,1133.1 386.0,1130.1 382.4,1126.5 379.4,1122.4 377.3,1117.8 376.0,1112.9 375.5,1107.8 376.0,1102.7 377.3,1097.8 379.4,1093.2 382.4,1089.1 386.0,1085.5 390.1,1082.5 394.7,1080.4 399.6,1079.1 404.7,1078.6 409.8,1079.1 414.7,1080.4 419.3,1082.5 423.4,1085.5 427.0,1089.1 430.0,1093.2 432.1,1097.8 433.4,1102.7" fill="#f99a3e"/><polygon points="430.1,1107.8 429.7,1112.2 428.5,1116.5 426.7,1120.5 424.1,1124.1 421.0,1127.2 417.4,1129.8 413.4,1131.6 409.1,1132.8 404.7,1133.2 400.3,1132.8 396.0,1131.6 392.0,1129.8 388.4,1127.2 385.3,1124.1 382.7,1120.5 380.9,1116.5 379.7,1112.2 379.3,1107.8 379.7,1103.4 380.9,1099.1 382.7,1095.1 385.3,1091.5 388.4,1088.4 392.0,1085.8 396.0,1084.0 400.3,1082.8 404.7,1082.4 409.1,1082.8 413.4,1084.0 417.4,1085.8 421.0,1088.4 424.1,1091.5 426.7,1095.1 428.5,1099.1 429.7,1103.4" fill="#fdae32"/><polygon points="424.7,1107.8 424.4,1111.3 423.5,1114.6 422.0,1117.8 420.0,1120.6 417.5,1123.1 414.7,1125.1 411.5,1126.6 408.2,1127.5 404.7,1127.8 401.2,1127.5 397.9,1126.6 394.7,1125.1 391.9,1123.1 389.4,1120.6 387.4,1117.8 385.9,1114.6 385.0,1111.3 384.7,1107.8 385.0,1104.3 385.9,1101.0 387.4,1097.8 389.4,1095.0 391.9,1092.5 394.7,1090.5 397.9,1089.0 401.2,1088.1 404.7,1087.8 408.2,1088.1 411.5,1089.0 414.7,1090.5 417.5,1092.5 420.0,1095.0 422.0,1097.8 423.5,1101.0 424.4,1104.3" fill="#fdc328"/><polygon points="419.3,1107.8 419.1,1110.3 418.4,1112.8 417.3,1115.1 415.9,1117.2 414.1,1119.0 412.0,1120.4 409.7,1121.5 407.2,1122.2 404.7,1122.4 402.2,1122.2 399.7,1121.5 397.4,1120.4 395.3,1119.0 393.5,1117.2 392.1,1115.1 391.0,1112.8 390.3,1110.3 390.1,1107.8 390.3,1105.3 391.0,1102.8 392.1,1100.5 393.5,1098.4 395.3,1096.6 397.4,1095.2 399.7,1094.1 402.2,1093.4 404.7,1093.2 407.2,1093.4 409.7,1094.1 412.0,1095.2 414.1,1096.6 415.9,1098.4 417.3,1100.5 418.4,1102.8 419.1,1105.3" fill="#f7e024"/><polygon points="414.4,1107.8 414.3,1109.5 413.8,1111.1 413.1,1112.7 412.1,1114.0 410.9,1115.2 409.6,1116.2 408.0,1116.9 406.4,1117.4 404.7,1117.5 403.0,1117.4 401.4,1116.9 399.8,1116.2 398.5,1115.2 397.3,1114.0 396.3,1112.7 395.6,1111.1 395.1,1109.5 395.0,1107.8 395.1,1106.1 395.6,1104.5 396.3,1102.9 397.3,1101.6 398.5,1100.4 399.8,1099.4 401.4,1098.7 403.0,1098.2 404.7,1098.1 406.4,1098.2 408.0,1098.7 409.6,1099.4 410.9,1100.4 412.1,1101.6 413.1,1102.9 413.8,1104.5 414.3,1106.1" fill="#f1f426"/><polygon points="409.6,1107.8 409.5,1108.6 409.3,1109.5 408.9,1110.2 408.4,1110.9 407.8,1111.5 407.1,1112.0 406.4,1112.4 405.5,1112.6 404.7,1112.7 403.9,1112.6 403.0,1112.4 402.3,1112.0 401.6,1111.5 401.0,1110.9 400.5,1110.2 400.1,1109.5 399.9,1108.6 399.8,1107.8 399.9,1107.0 400.1,1106.1 400.5,1105.4 401.0,1104.7 401.6,1104.1 402.3,1103.6 403.0,1103.2 403.9,1103.0 404.7,1102.9 405.5,1103.0 406.4,1103.2 407.1,1103.6 407.8,1104.1 408.4,1104.7 408.9,1105.4 409.3,1106.1 409.5,1107.0" fill="#eff821"/></g><g filter="url(#vn)"><polygon points="650.5,1108.5 649.4,1120.7 646.2,1132.6 641.0,1143.7 634.0,1153.8 625.3,1162.5 615.2,1169.5 604.1,1174.7 592.2,1177.9 580.0,1179.0 567.8,1177.9 555.9,1174.7 544.8,1169.5 534.7,1162.5 526.0,1153.8 519.0,1143.7 513.8,1132.6 510.6,1120.7 509.5,1108.5 510.6,1096.3 513.8,1084.4 519.0,1073.3 526.0,1063.2 534.7,1054.5 544.8,1047.5 555.9,1042.3 567.8,1039.1 580.0,1038.0 592.2,1039.1 604.1,1042.3 615.2,1047.5 625.3,1054.5 634.0,1063.2 641.0,1073.3 646.2,1084.4 649.4,1096.3" fill="#2f0596" fill-opacity="0.2"/><polygon points="646.2,1108.5 645.2,1120.0 642.3,1131.2 637.4,1141.6 630.8,1151.1 622.6,1159.3 613.1,1165.9 602.7,1170.8 591.5,1173.7 580.0,1174.8 568.5,1173.7 557.3,1170.8 546.9,1165.9 537.4,1159.3 529.2,1151.1 522.6,1141.6 517.7,1131.2 514.8,1120.0 513.8,1108.5 514.8,1097.0 517.7,1085.8 522.6,1075.4 529.2,1065.9 537.4,1057.7 546.9,1051.1 557.3,1046.2 568.5,1043.3 580.0,1042.2 591.5,1043.3 602.7,1046.2 613.1,1051.1 622.6,1057.7 630.8,1065.9 637.4,1075.4 642.3,1085.8 645.2,1097.0" fill="#2f0596" fill-opacity="0.36"/><polygon points="641.0,1108.5 640.0,1119.1 637.3,1129.3 632.8,1139.0 626.7,1147.7 619.2,1155.2 610.5,1161.3 600.8,1165.8 590.6,1168.5 580.0,1169.5 569.4,1168.5 559.2,1165.8 549.5,1161.3 540.8,1155.2 533.3,1147.7 527.2,1139.0 522.7,1129.3 520.0,1119.1 519.0,1108.5 520.0,1097.9 522.7,1087.7 527.2,1078.0 533.3,1069.3 540.8,1061.8 549.5,1055.7 559.2,1051.2 569.4,1048.5 580.0,1047.5 590.6,1048.5 600.8,1051.2 610.5,1055.7 619.2,1061.8 626.7,1069.3 632.8,1078.0 637.3,1087.7 640.0,1097.9" fill="#2f0596" fill-opacity="0.65"/><polygon points="636.2,1108.5 635.3,1118.3 632.8,1127.7 628.7,1136.6 623.0,1144.6 616.1,1151.5 608.1,1157.2 599.2,1161.3 589.8,1163.8 580.0,1164.7 570.2,1163.8 560.8,1161.3 551.9,1157.2 543.9,1151.5 537.0,1144.6 531.3,1136.6 527.2,1127.7 524.7,1118.3 523.8,1108.5 524.7,1098.7 527.2,1089.3 531.3,1080.4 537.0,1072.4 543.9,1065.5 551.9,1059.8 560.8,1055.7 570.2,1053.2 580.0,1052.3 589.8,1053.2 599.2,1055.7 608.1,1059.8 616.1,1065.5 623.0,1072.4 628.7,1080.4 632.8,1089.3 635.3,1098.7" fill="#2f0596" fill-opacity="0.9"/></g><g filter="url(#fz)"><polygon points="642.0,1108.5 641.1,1119.3 638.3,1129.7 633.7,1139.5 627.5,1148.4 619.9,1156.0 611.0,1162.2 601.2,1166.8 590.8,1169.6 580.0,1170.5 569.2,1169.6 558.8,1166.8 549.0,1162.2 540.1,1156.0 532.5,1148.4 526.3,1139.5 521.7,1129.7 518.9,1119.3 518.0,1108.5 518.9,1097.7 521.7,1087.3 526.3,1077.5 532.5,1068.6 540.1,1061.0 549.0,1054.8 558.8,1050.2 569.2,1047.4 580.0,1046.5 590.8,1047.4 601.2,1050.2 611.0,1054.8 619.9,1061.0 627.5,1068.6 633.7,1077.5 638.3,1087.3 641.1,1097.7" fill="#3b1a9c" fill-opacity="0.16"/><polygon points="636.2,1108.5 635.3,1118.3 632.8,1127.7 628.7,1136.6 623.0,1144.6 616.1,1151.5 608.1,1157.2 599.2,1161.3 589.8,1163.8 580.0,1164.7 570.2,1163.8 560.8,1161.3 551.9,1157.2 543.9,1151.5 537.0,1144.6 531.3,1136.6 527.2,1127.7 524.7,1118.3 523.8,1108.5 524.7,1098.7 527.2,1089.3 531.3,1080.4 537.0,1072.4 543.9,1065.5 551.9,1059.8 560.8,1055.7 570.2,1053.2 580.0,1052.3 589.8,1053.2 599.2,1055.7 608.1,1059.8 616.1,1065.5 623.0,1072.4 628.7,1080.4 632.8,1089.3 635.3,1098.7" fill="#3d169e" fill-opacity="0.45"/><polygon points="633.0,1108.5 632.2,1117.7 629.8,1126.6 625.9,1135.0 620.6,1142.6 614.1,1149.1 606.5,1154.4 598.1,1158.3 589.2,1160.7 580.0,1161.5 570.8,1160.7 561.9,1158.3 553.5,1154.4 545.9,1149.1 539.4,1142.6 534.1,1135.0 530.2,1126.6 527.8,1117.7 527.0,1108.5 527.8,1099.3 530.2,1090.4 534.1,1082.0 539.4,1074.4 545.9,1067.9 553.5,1062.6 561.9,1058.7 570.8,1056.3 580.0,1055.5 589.2,1056.3 598.1,1058.7 606.5,1062.6 614.1,1067.9 620.6,1074.4 625.9,1082.0 629.8,1090.4 632.2,1099.3" fill="#3c0c9e"/><polygon points="629.8,1108.5 629.1,1117.2 626.8,1125.5 623.1,1133.4 618.2,1140.5 612.0,1146.7 604.9,1151.6 597.0,1155.3 588.7,1157.6 580.0,1158.3 571.3,1157.6 563.0,1155.3 555.1,1151.6 548.0,1146.7 541.8,1140.5 536.9,1133.4 533.2,1125.5 530.9,1117.2 530.2,1108.5 530.9,1099.8 533.2,1091.5 536.9,1083.6 541.8,1076.5 548.0,1070.3 555.1,1065.4 563.0,1061.7 571.3,1059.4 580.0,1058.7 588.7,1059.4 597.0,1061.7 604.9,1065.4 612.0,1070.3 618.2,1076.5 623.1,1083.6 626.8,1091.5 629.1,1099.8" fill="#560aa4"/><polygon points="627.2,1108.5 626.5,1116.7 624.3,1124.6 620.9,1132.1 616.1,1138.8 610.3,1144.6 603.6,1149.4 596.1,1152.8 588.2,1155.0 580.0,1155.7 571.8,1155.0 563.9,1152.8 556.4,1149.4 549.7,1144.6 543.9,1138.8 539.1,1132.1 535.7,1124.6 533.5,1116.7 532.8,1108.5 533.5,1100.3 535.7,1092.4 539.1,1084.9 543.9,1078.2 549.7,1072.4 556.4,1067.6 563.9,1064.2 571.8,1062.0 580.0,1061.3 588.2,1062.0 596.1,1064.2 603.6,1067.6 610.3,1072.4 616.1,1078.2 620.9,1084.9 624.3,1092.4 626.5,1100.3" fill="#6e06a8"/></g><g filter="url(#bl3)"><polygon points="625.0,1108.5 624.4,1116.3 622.3,1123.9 619.0,1131.0 614.5,1137.5 609.0,1143.0 602.5,1147.5 595.4,1150.8 587.8,1152.9 580.0,1153.5 572.2,1152.9 564.6,1150.8 557.5,1147.5 551.0,1143.0 545.5,1137.5 541.0,1131.0 537.7,1123.9 535.6,1116.3 535.0,1108.5 535.6,1100.7 537.7,1093.1 541.0,1086.0 545.5,1079.5 551.0,1074.0 557.5,1069.5 564.6,1066.2 572.2,1064.1 580.0,1063.5 587.8,1064.1 595.4,1066.2 602.5,1069.5 609.0,1074.0 614.5,1079.5 619.0,1086.0 622.3,1093.1 624.4,1100.7" fill="#8b0aa5"/><polygon points="622.9,1108.5 622.3,1116.0 620.3,1123.2 617.2,1130.0 612.9,1136.1 607.6,1141.4 601.5,1145.7 594.7,1148.8 587.5,1150.8 580.0,1151.4 572.5,1150.8 565.3,1148.8 558.5,1145.7 552.4,1141.4 547.1,1136.1 542.8,1130.0 539.7,1123.2 537.7,1116.0 537.1,1108.5 537.7,1101.0 539.7,1093.8 542.8,1087.0 547.1,1080.9 552.4,1075.6 558.5,1071.3 565.3,1068.2 572.5,1066.2 580.0,1065.6 587.5,1066.2 594.7,1068.2 601.5,1071.3 607.6,1075.6 612.9,1080.9 617.2,1087.0 620.3,1093.8 622.3,1101.0" fill="#a72197"/><polygon points="620.8,1108.5 620.2,1115.6 618.3,1122.5 615.3,1128.9 611.3,1134.7 606.2,1139.8 600.4,1143.8 594.0,1146.8 587.1,1148.7 580.0,1149.3 572.9,1148.7 566.0,1146.8 559.6,1143.8 553.8,1139.8 548.7,1134.7 544.7,1128.9 541.7,1122.5 539.8,1115.6 539.2,1108.5 539.8,1101.4 541.7,1094.5 544.7,1088.1 548.7,1082.3 553.8,1077.2 559.6,1073.2 566.0,1070.2 572.9,1068.3 580.0,1067.7 587.1,1068.3 594.0,1070.2 600.4,1073.2 606.2,1077.2 611.3,1082.3 615.3,1088.1 618.3,1094.5 620.2,1101.4" fill="#c33d80"/><polygon points="618.2,1108.5 617.6,1115.1 615.9,1121.6 613.0,1127.6 609.2,1133.0 604.5,1137.7 599.1,1141.5 593.1,1144.4 586.6,1146.1 580.0,1146.7 573.4,1146.1 566.9,1144.4 560.9,1141.5 555.5,1137.7 550.8,1133.0 547.0,1127.6 544.1,1121.6 542.4,1115.1 541.8,1108.5 542.4,1101.9 544.1,1095.4 547.0,1089.4 550.8,1084.0 555.5,1079.3 560.9,1075.5 566.9,1072.6 573.4,1070.9 580.0,1070.3 586.6,1070.9 593.1,1072.6 599.1,1075.5 604.5,1079.3 609.2,1084.0 613.0,1089.4 615.9,1095.4 617.6,1101.9" fill="#d6556d"/><polygon points="615.5,1108.5 615.0,1114.7 613.4,1120.6 610.8,1126.3 607.2,1131.3 602.8,1135.7 597.8,1139.3 592.1,1141.9 586.2,1143.5 580.0,1144.0 573.8,1143.5 567.9,1141.9 562.2,1139.3 557.2,1135.7 552.8,1131.3 549.2,1126.3 546.6,1120.6 545.0,1114.7 544.5,1108.5 545.0,1102.3 546.6,1096.4 549.2,1090.7 552.8,1085.7 557.2,1081.3 562.2,1077.7 567.9,1075.1 573.8,1073.5 580.0,1073.0 586.2,1073.5 592.1,1075.1 597.8,1077.7 602.8,1081.3 607.2,1085.7 610.8,1090.7 613.4,1096.4 615.0,1102.3" fill="#e56b5d"/><polygon points="612.3,1108.5 611.8,1114.1 610.4,1119.6 608.0,1124.7 604.8,1129.3 600.8,1133.3 596.2,1136.5 591.1,1138.9 585.6,1140.3 580.0,1140.8 574.4,1140.3 568.9,1138.9 563.8,1136.5 559.2,1133.3 555.2,1129.3 552.0,1124.7 549.6,1119.6 548.2,1114.1 547.7,1108.5 548.2,1102.9 549.6,1097.4 552.0,1092.3 555.2,1087.7 559.2,1083.7 563.8,1080.5 568.9,1078.1 574.4,1076.7 580.0,1076.2 585.6,1076.7 591.1,1078.1 596.2,1080.5 600.8,1083.7 604.8,1087.7 608.0,1092.3 610.4,1097.4 611.8,1102.9" fill="#f1844b"/><polygon points="608.6,1108.5 608.2,1113.5 606.9,1118.3 604.8,1122.8 601.9,1126.9 598.4,1130.4 594.3,1133.3 589.8,1135.4 585.0,1136.7 580.0,1137.1 575.0,1136.7 570.2,1135.4 565.7,1133.3 561.6,1130.4 558.1,1126.9 555.2,1122.8 553.1,1118.3 551.8,1113.5 551.4,1108.5 551.8,1103.5 553.1,1098.7 555.2,1094.2 558.1,1090.1 561.6,1086.6 565.7,1083.7 570.2,1081.6 575.0,1080.3 580.0,1079.9 585.0,1080.3 589.8,1081.6 594.3,1083.7 598.4,1086.6 601.9,1090.1 604.8,1094.2 606.9,1098.7 608.2,1103.5" fill="#f99a3e"/><polygon points="604.9,1108.5 604.5,1112.8 603.4,1117.0 601.6,1121.0 599.1,1124.5 596.0,1127.6 592.5,1130.1 588.5,1131.9 584.3,1133.0 580.0,1133.4 575.7,1133.0 571.5,1131.9 567.5,1130.1 564.0,1127.6 560.9,1124.5 558.4,1121.0 556.6,1117.0 555.5,1112.8 555.1,1108.5 555.5,1104.2 556.6,1100.0 558.4,1096.0 560.9,1092.5 564.0,1089.4 567.5,1086.9 571.5,1085.1 575.7,1084.0 580.0,1083.6 584.3,1084.0 588.5,1085.1 592.5,1086.9 596.0,1089.4 599.1,1092.5 601.6,1096.0 603.4,1100.0 604.5,1104.2" fill="#fdae32"/><polygon points="599.6,1108.5 599.3,1111.9 598.4,1115.2 597.0,1118.3 595.0,1121.1 592.6,1123.5 589.8,1125.5 586.7,1126.9 583.4,1127.8 580.0,1128.1 576.6,1127.8 573.3,1126.9 570.2,1125.5 567.4,1123.5 565.0,1121.1 563.0,1118.3 561.6,1115.2 560.7,1111.9 560.4,1108.5 560.7,1105.1 561.6,1101.8 563.0,1098.7 565.0,1095.9 567.4,1093.5 570.2,1091.5 573.3,1090.1 576.6,1089.2 580.0,1088.9 583.4,1089.2 586.7,1090.1 589.8,1091.5 592.6,1093.5 595.0,1095.9 597.0,1098.7 598.4,1101.8 599.3,1105.1" fill="#fdc328"/><polygon points="594.3,1108.5 594.1,1111.0 593.4,1113.4 592.4,1115.7 591.0,1117.7 589.2,1119.5 587.2,1120.9 584.9,1121.9 582.5,1122.6 580.0,1122.8 577.5,1122.6 575.1,1121.9 572.8,1120.9 570.8,1119.5 569.0,1117.7 567.6,1115.7 566.6,1113.4 565.9,1111.0 565.7,1108.5 565.9,1106.0 566.6,1103.6 567.6,1101.3 569.0,1099.3 570.8,1097.5 572.8,1096.1 575.1,1095.1 577.5,1094.4 580.0,1094.2 582.5,1094.4 584.9,1095.1 587.2,1096.1 589.2,1097.5 591.0,1099.3 592.4,1101.3 593.4,1103.6 594.1,1106.0" fill="#f7e024"/><polygon points="589.5,1108.5 589.4,1110.2 589.0,1111.8 588.3,1113.3 587.3,1114.6 586.1,1115.8 584.8,1116.8 583.3,1117.5 581.7,1117.9 580.0,1118.0 578.3,1117.9 576.7,1117.5 575.2,1116.8 573.9,1115.8 572.7,1114.6 571.7,1113.3 571.0,1111.8 570.6,1110.2 570.5,1108.5 570.6,1106.8 571.0,1105.2 571.7,1103.7 572.7,1102.4 573.9,1101.2 575.2,1100.2 576.7,1099.5 578.3,1099.1 580.0,1099.0 581.7,1099.1 583.3,1099.5 584.8,1100.2 586.1,1101.2 587.3,1102.4 588.3,1103.7 589.0,1105.2 589.4,1106.8" fill="#f1f426"/><polygon points="584.8,1108.5 584.7,1109.3 584.5,1110.1 584.1,1110.9 583.7,1111.6 583.1,1112.2 582.4,1112.6 581.6,1113.0 580.8,1113.2 580.0,1113.3 579.2,1113.2 578.4,1113.0 577.6,1112.6 576.9,1112.2 576.3,1111.6 575.9,1110.9 575.5,1110.1 575.3,1109.3 575.2,1108.5 575.3,1107.7 575.5,1106.9 575.9,1106.1 576.3,1105.4 576.9,1104.8 577.6,1104.4 578.4,1104.0 579.2,1103.8 580.0,1103.7 580.8,1103.8 581.6,1104.0 582.4,1104.4 583.1,1104.8 583.7,1105.4 584.1,1106.1 584.5,1106.9 584.7,1107.7" fill="#eff821"/></g><g filter="url(#vn)"><polygon points="822.2,1108.5 821.1,1120.5 818.0,1132.2 812.9,1143.1 806.0,1153.0 797.5,1161.5 787.6,1168.4 776.7,1173.5 765.0,1176.6 753.0,1177.7 741.0,1176.6 729.3,1173.5 718.4,1168.4 708.5,1161.5 700.0,1153.0 693.1,1143.1 688.0,1132.2 684.9,1120.5 683.8,1108.5 684.9,1096.5 688.0,1084.8 693.1,1073.9 700.0,1064.0 708.5,1055.5 718.4,1048.6 729.3,1043.5 741.0,1040.4 753.0,1039.3 765.0,1040.4 776.7,1043.5 787.6,1048.6 797.5,1055.5 806.0,1064.0 812.9,1073.9 818.0,1084.8 821.1,1096.5" fill="#2f0596" fill-opacity="0.2"/><polygon points="818.0,1108.5 817.0,1119.8 814.1,1130.7 809.3,1141.0 802.8,1150.3 794.8,1158.3 785.5,1164.8 775.2,1169.6 764.3,1172.5 753.0,1173.5 741.7,1172.5 730.8,1169.6 720.5,1164.8 711.2,1158.3 703.2,1150.3 696.7,1141.0 691.9,1130.7 689.0,1119.8 688.0,1108.5 689.0,1097.2 691.9,1086.3 696.7,1076.0 703.2,1066.7 711.2,1058.7 720.5,1052.2 730.8,1047.4 741.7,1044.5 753.0,1043.5 764.3,1044.5 775.2,1047.4 785.5,1052.2 794.8,1058.7 802.8,1066.7 809.3,1076.0 814.1,1086.3 817.0,1097.2" fill="#2f0596" fill-opacity="0.36"/><polygon points="812.8,1108.5 811.9,1118.9 809.2,1129.0 804.8,1138.4 798.8,1146.9 791.4,1154.3 782.9,1160.3 773.5,1164.7 763.4,1167.4 753.0,1168.3 742.6,1167.4 732.5,1164.7 723.1,1160.3 714.6,1154.3 707.2,1146.9 701.2,1138.4 696.8,1129.0 694.1,1118.9 693.2,1108.5 694.1,1098.1 696.8,1088.0 701.2,1078.6 707.2,1070.1 714.6,1062.7 723.1,1056.7 732.5,1052.3 742.6,1049.6 753.0,1048.7 763.4,1049.6 773.5,1052.3 782.9,1056.7 791.4,1062.7 798.8,1070.1 804.8,1078.6 809.2,1088.0 811.9,1098.1" fill="#2f0596" fill-opacity="0.65"/><polygon points="808.1,1108.5 807.3,1118.1 804.8,1127.4 800.7,1136.1 795.2,1143.9 788.4,1150.7 780.6,1156.2 771.9,1160.3 762.6,1162.8 753.0,1163.6 743.4,1162.8 734.1,1160.3 725.4,1156.2 717.6,1150.7 710.8,1143.9 705.3,1136.1 701.2,1127.4 698.7,1118.1 697.9,1108.5 698.7,1098.9 701.2,1089.6 705.3,1080.9 710.8,1073.1 717.6,1066.3 725.4,1060.8 734.1,1056.7 743.4,1054.2 753.0,1053.4 762.6,1054.2 771.9,1056.7 780.6,1060.8 788.4,1066.3 795.2,1073.1 800.7,1080.9 804.8,1089.6 807.3,1098.9" fill="#2f0596" fill-opacity="0.9"/></g><g filter="url(#fz)"><polygon points="813.8,1108.5 812.9,1119.1 810.2,1129.3 805.7,1138.9 799.6,1147.6 792.1,1155.1 783.4,1161.2 773.8,1165.7 763.6,1168.4 753.0,1169.3 742.4,1168.4 732.2,1165.7 722.6,1161.2 713.9,1155.1 706.4,1147.6 700.3,1138.9 695.8,1129.3 693.1,1119.1 692.2,1108.5 693.1,1097.9 695.8,1087.7 700.3,1078.1 706.4,1069.4 713.9,1061.9 722.6,1055.8 732.2,1051.3 742.4,1048.6 753.0,1047.7 763.6,1048.6 773.8,1051.3 783.4,1055.8 792.1,1061.9 799.6,1069.4 805.7,1078.1 810.2,1087.7 812.9,1097.9" fill="#3b1a9c" fill-opacity="0.16"/><polygon points="808.1,1108.5 807.3,1118.1 804.8,1127.4 800.7,1136.1 795.2,1143.9 788.4,1150.7 780.6,1156.2 771.9,1160.3 762.6,1162.8 753.0,1163.6 743.4,1162.8 734.1,1160.3 725.4,1156.2 717.6,1150.7 710.8,1143.9 705.3,1136.1 701.2,1127.4 698.7,1118.1 697.9,1108.5 698.7,1098.9 701.2,1089.6 705.3,1080.9 710.8,1073.1 717.6,1066.3 725.4,1060.8 734.1,1056.7 743.4,1054.2 753.0,1053.4 762.6,1054.2 771.9,1056.7 780.6,1060.8 788.4,1066.3 795.2,1073.1 800.7,1080.9 804.8,1089.6 807.3,1098.9" fill="#3d169e" fill-opacity="0.45"/><polygon points="805.0,1108.5 804.2,1117.5 801.9,1126.3 798.0,1134.5 792.8,1141.9 786.4,1148.3 779.0,1153.5 770.8,1157.4 762.0,1159.7 753.0,1160.5 744.0,1159.7 735.2,1157.4 727.0,1153.5 719.6,1148.3 713.2,1141.9 708.0,1134.5 704.1,1126.3 701.8,1117.5 701.0,1108.5 701.8,1099.5 704.1,1090.7 708.0,1082.5 713.2,1075.1 719.6,1068.7 727.0,1063.5 735.2,1059.6 744.0,1057.3 753.0,1056.5 762.0,1057.3 770.8,1059.6 779.0,1063.5 786.4,1068.7 792.8,1075.1 798.0,1082.5 801.9,1090.7 804.2,1099.5" fill="#3c0c9e"/><polygon points="801.9,1108.5 801.1,1117.0 798.9,1125.2 795.3,1132.9 790.4,1139.9 784.4,1145.9 777.4,1150.8 769.7,1154.4 761.5,1156.6 753.0,1157.4 744.5,1156.6 736.3,1154.4 728.6,1150.8 721.6,1145.9 715.6,1139.9 710.7,1132.9 707.1,1125.2 704.9,1117.0 704.1,1108.5 704.9,1100.0 707.1,1091.8 710.7,1084.1 715.6,1077.1 721.6,1071.1 728.6,1066.2 736.3,1062.6 744.5,1060.4 753.0,1059.6 761.5,1060.4 769.7,1062.6 777.4,1066.2 784.4,1071.1 790.4,1077.1 795.3,1084.1 798.9,1091.8 801.1,1100.0" fill="#560aa4"/><polygon points="799.3,1108.5 798.6,1116.5 796.5,1124.3 793.1,1131.6 788.5,1138.2 782.7,1144.0 776.1,1148.6 768.8,1152.0 761.0,1154.1 753.0,1154.8 745.0,1154.1 737.2,1152.0 729.9,1148.6 723.3,1144.0 717.5,1138.2 712.9,1131.6 709.5,1124.3 707.4,1116.5 706.7,1108.5 707.4,1100.5 709.5,1092.7 712.9,1085.4 717.5,1078.8 723.3,1073.0 729.9,1068.4 737.2,1065.0 745.0,1062.9 753.0,1062.2 761.0,1062.9 768.8,1065.0 776.1,1068.4 782.7,1073.0 788.5,1078.8 793.1,1085.4 796.5,1092.7 798.6,1100.5" fill="#6e06a8"/></g><g filter="url(#bl3)"><polygon points="797.2,1108.5 796.5,1116.2 794.5,1123.6 791.3,1130.6 786.9,1136.9 781.4,1142.4 775.1,1146.8 768.1,1150.0 760.7,1152.0 753.0,1152.7 745.3,1152.0 737.9,1150.0 730.9,1146.8 724.6,1142.4 719.1,1136.9 714.7,1130.6 711.5,1123.6 709.5,1116.2 708.8,1108.5 709.5,1100.8 711.5,1093.4 714.7,1086.4 719.1,1080.1 724.6,1074.6 730.9,1070.2 737.9,1067.0 745.3,1065.0 753.0,1064.3 760.7,1065.0 768.1,1067.0 775.1,1070.2 781.4,1074.6 786.9,1080.1 791.3,1086.4 794.5,1093.4 796.5,1100.8" fill="#8b0aa5"/><polygon points="795.1,1108.5 794.5,1115.8 792.6,1122.9 789.5,1129.6 785.3,1135.6 780.1,1140.8 774.1,1145.0 767.4,1148.1 760.3,1150.0 753.0,1150.6 745.7,1150.0 738.6,1148.1 731.9,1145.0 725.9,1140.8 720.7,1135.6 716.5,1129.6 713.4,1122.9 711.5,1115.8 710.9,1108.5 711.5,1101.2 713.4,1094.1 716.5,1087.4 720.7,1081.4 725.9,1076.2 731.9,1072.0 738.6,1068.9 745.7,1067.0 753.0,1066.4 760.3,1067.0 767.4,1068.9 774.1,1072.0 780.1,1076.2 785.3,1081.4 789.5,1087.4 792.6,1094.1 794.5,1101.2" fill="#a72197"/><polygon points="793.0,1108.5 792.4,1115.5 790.6,1122.2 787.7,1128.5 783.7,1134.2 778.7,1139.2 773.0,1143.2 766.7,1146.1 760.0,1147.9 753.0,1148.5 746.0,1147.9 739.3,1146.1 733.0,1143.2 727.3,1139.2 722.3,1134.2 718.3,1128.5 715.4,1122.2 713.6,1115.5 713.0,1108.5 713.6,1101.5 715.4,1094.8 718.3,1088.5 722.3,1082.8 727.3,1077.8 733.0,1073.8 739.3,1070.9 746.0,1069.1 753.0,1068.5 760.0,1069.1 766.7,1070.9 773.0,1073.8 778.7,1077.8 783.7,1082.8 787.7,1088.5 790.6,1094.8 792.4,1101.5" fill="#c33d80"/><polygon points="790.4,1108.5 789.9,1115.0 788.2,1121.3 785.4,1127.2 781.7,1132.6 777.1,1137.2 771.7,1140.9 765.8,1143.7 759.5,1145.4 753.0,1145.9 746.5,1145.4 740.2,1143.7 734.3,1140.9 728.9,1137.2 724.3,1132.6 720.6,1127.2 717.8,1121.3 716.1,1115.0 715.6,1108.5 716.1,1102.0 717.8,1095.7 720.6,1089.8 724.3,1084.4 728.9,1079.8 734.3,1076.1 740.2,1073.3 746.5,1071.6 753.0,1071.1 759.5,1071.6 765.8,1073.3 771.7,1076.1 777.1,1079.8 781.7,1084.4 785.4,1089.8 788.2,1095.7 789.9,1102.0" fill="#d6556d"/><polygon points="787.8,1108.5 787.3,1114.5 785.7,1120.4 783.2,1125.9 779.7,1130.9 775.4,1135.2 770.4,1138.7 764.9,1141.2 759.0,1142.8 753.0,1143.3 747.0,1142.8 741.1,1141.2 735.6,1138.7 730.6,1135.2 726.3,1130.9 722.8,1125.9 720.3,1120.4 718.7,1114.5 718.2,1108.5 718.7,1102.5 720.3,1096.6 722.8,1091.1 726.3,1086.1 730.6,1081.8 735.6,1078.3 741.1,1075.8 747.0,1074.2 753.0,1073.7 759.0,1074.2 764.9,1075.8 770.4,1078.3 775.4,1081.8 779.7,1086.1 783.2,1091.1 785.7,1096.6 787.3,1102.5" fill="#e56b5d"/><polygon points="784.7,1108.5 784.2,1114.0 782.8,1119.3 780.5,1124.4 777.3,1128.9 773.4,1132.8 768.9,1136.0 763.8,1138.3 758.5,1139.7 753.0,1140.2 747.5,1139.7 742.2,1138.3 737.1,1136.0 732.6,1132.8 728.7,1128.9 725.5,1124.4 723.2,1119.3 721.8,1114.0 721.3,1108.5 721.8,1103.0 723.2,1097.7 725.5,1092.6 728.7,1088.1 732.6,1084.2 737.1,1081.0 742.2,1078.7 747.5,1077.3 753.0,1076.8 758.5,1077.3 763.8,1078.7 768.9,1081.0 773.4,1084.2 777.3,1088.1 780.5,1092.6 782.8,1097.7 784.2,1103.0" fill="#f1844b"/><polygon points="781.1,1108.5 780.7,1113.4 779.4,1118.1 777.3,1122.5 774.5,1126.5 771.0,1130.0 767.0,1132.8 762.6,1134.9 757.9,1136.2 753.0,1136.6 748.1,1136.2 743.4,1134.9 739.0,1132.8 735.0,1130.0 731.5,1126.5 728.7,1122.5 726.6,1118.1 725.3,1113.4 724.9,1108.5 725.3,1103.6 726.6,1098.9 728.7,1094.5 731.5,1090.5 735.0,1087.0 739.0,1084.2 743.4,1082.1 748.1,1080.8 753.0,1080.4 757.9,1080.8 762.6,1082.1 767.0,1084.2 771.0,1087.0 774.5,1090.5 777.3,1094.5 779.4,1098.9 780.7,1103.6" fill="#f99a3e"/><polygon points="777.4,1108.5 777.1,1112.7 776.0,1116.9 774.2,1120.7 771.7,1124.2 768.7,1127.2 765.2,1129.7 761.4,1131.5 757.2,1132.6 753.0,1132.9 748.8,1132.6 744.6,1131.5 740.8,1129.7 737.3,1127.2 734.3,1124.2 731.8,1120.7 730.0,1116.9 728.9,1112.7 728.6,1108.5 728.9,1104.3 730.0,1100.1 731.8,1096.3 734.3,1092.8 737.3,1089.8 740.8,1087.3 744.6,1085.5 748.8,1084.4 753.0,1084.1 757.2,1084.4 761.4,1085.5 765.2,1087.3 768.7,1089.8 771.7,1092.8 774.2,1096.3 776.0,1100.1 777.1,1104.3" fill="#fdae32"/><polygon points="772.2,1108.5 771.9,1111.8 771.1,1115.1 769.7,1118.1 767.7,1120.9 765.4,1123.2 762.6,1125.2 759.6,1126.6 756.3,1127.4 753.0,1127.7 749.7,1127.4 746.4,1126.6 743.4,1125.2 740.6,1123.2 738.3,1120.9 736.3,1118.1 734.9,1115.1 734.1,1111.8 733.8,1108.5 734.1,1105.2 734.9,1101.9 736.3,1098.9 738.3,1096.1 740.6,1093.8 743.4,1091.8 746.4,1090.4 749.7,1089.6 753.0,1089.3 756.3,1089.6 759.6,1090.4 762.6,1091.8 765.4,1093.8 767.7,1096.1 769.7,1098.9 771.1,1101.9 771.9,1105.2" fill="#fdc328"/><polygon points="767.0,1108.5 766.8,1110.9 766.2,1113.3 765.2,1115.5 763.8,1117.5 762.0,1119.3 760.0,1120.7 757.8,1121.7 755.4,1122.3 753.0,1122.5 750.6,1122.3 748.2,1121.7 746.0,1120.7 744.0,1119.3 742.2,1117.5 740.8,1115.5 739.8,1113.3 739.2,1110.9 739.0,1108.5 739.2,1106.1 739.8,1103.7 740.8,1101.5 742.2,1099.5 744.0,1097.7 746.0,1096.3 748.2,1095.3 750.6,1094.7 753.0,1094.5 755.4,1094.7 757.8,1095.3 760.0,1096.3 762.0,1097.7 763.8,1099.5 765.2,1101.5 766.2,1103.7 766.8,1106.1" fill="#f7e024"/><polygon points="762.4,1108.5 762.2,1110.1 761.8,1111.7 761.1,1113.2 760.2,1114.5 759.0,1115.7 757.7,1116.6 756.2,1117.3 754.6,1117.7 753.0,1117.9 751.4,1117.7 749.8,1117.3 748.3,1116.6 747.0,1115.7 745.8,1114.5 744.9,1113.2 744.2,1111.7 743.8,1110.1 743.6,1108.5 743.8,1106.9 744.2,1105.3 744.9,1103.8 745.8,1102.5 747.0,1101.3 748.3,1100.4 749.8,1099.7 751.4,1099.3 753.0,1099.1 754.6,1099.3 756.2,1099.7 757.7,1100.4 759.0,1101.3 760.2,1102.5 761.1,1103.8 761.8,1105.3 762.2,1106.9" fill="#f1f426"/><polygon points="757.7,1108.5 757.6,1109.3 757.4,1110.1 757.1,1110.8 756.6,1111.5 756.0,1112.1 755.3,1112.6 754.6,1112.9 753.8,1113.1 753.0,1113.2 752.2,1113.1 751.4,1112.9 750.7,1112.6 750.0,1112.1 749.4,1111.5 748.9,1110.8 748.6,1110.1 748.4,1109.3 748.3,1108.5 748.4,1107.7 748.6,1106.9 748.9,1106.2 749.4,1105.5 750.0,1104.9 750.7,1104.4 751.4,1104.1 752.2,1103.9 753.0,1103.8 753.8,1103.9 754.6,1104.1 755.3,1104.4 756.0,1104.9 756.6,1105.5 757.1,1106.2 757.4,1106.9 757.6,1107.7" fill="#eff821"/></g><g filter="url(#vn)"><polygon points="931.5,1039.2 971.0,1073.1 1003.3,1107.0 971.0,1140.9 931.5,1174.8 892.0,1140.9 859.7,1107.0 892.0,1073.1" fill="#2f0596" fill-opacity="0.2"/><polygon points="931.5,1043.2 968.6,1075.1 999.0,1107.0 968.6,1138.9 931.5,1170.8 894.4,1138.9 864.0,1107.0 894.4,1075.1" fill="#2f0596" fill-opacity="0.36"/><polygon points="931.5,1048.3 965.7,1077.7 993.6,1107.0 965.7,1136.3 931.5,1165.7 897.3,1136.3 869.4,1107.0 897.3,1077.7" fill="#2f0596" fill-opacity="0.65"/><polygon points="931.5,1052.9 963.0,1080.0 988.7,1107.0 963.0,1134.0 931.5,1161.1 900.0,1134.0 874.3,1107.0 900.0,1080.0" fill="#2f0596" fill-opacity="0.9"/></g><g filter="url(#fz)"><polygon points="931.5,1047.3 966.2,1077.2 994.7,1107.0 966.2,1136.8 931.5,1166.7 896.8,1136.8 868.3,1107.0 896.8,1077.2" fill="#3b1a9c" fill-opacity="0.16"/><polygon points="931.5,1052.9 963.0,1080.0 988.7,1107.0 963.0,1134.0 931.5,1161.1 900.0,1134.0 874.3,1107.0 900.0,1080.0" fill="#3d169e" fill-opacity="0.45"/><polygon points="931.5,1056.0 961.2,1081.5 985.5,1107.0 961.2,1132.5 931.5,1158.0 901.8,1132.5 877.5,1107.0 901.8,1081.5" fill="#3c0c9e"/><polygon points="931.5,1059.1 959.5,1083.0 982.4,1107.0 959.5,1131.0 931.5,1154.9 903.5,1131.0 880.6,1107.0 903.5,1083.0" fill="#560aa4"/><polygon points="931.5,1061.6 958.1,1084.3 979.8,1107.0 958.1,1129.7 931.5,1152.4 904.9,1129.7 883.2,1107.0 904.9,1084.3" fill="#6e06a8"/></g><g filter="url(#bl3)"><polygon points="931.5,1063.7 957.0,1085.3 977.8,1107.0 957.0,1128.7 931.5,1150.3 906.0,1128.7 885.2,1107.0 906.0,1085.3" fill="#8b0aa5"/><polygon points="931.5,1065.7 955.8,1086.3 975.7,1107.0 955.8,1127.7 931.5,1148.3 907.2,1127.7 887.3,1107.0 907.2,1086.3" fill="#a72197"/><polygon points="931.5,1067.7 954.7,1087.4 973.6,1107.0 954.7,1126.6 931.5,1146.3 908.3,1126.6 889.4,1107.0 908.3,1087.4" fill="#c33d80"/><polygon points="931.5,1070.3 953.2,1088.6 971.0,1107.0 953.2,1125.4 931.5,1143.7 909.8,1125.4 892.0,1107.0 909.8,1088.6" fill="#d6556d"/><polygon points="931.5,1072.8 951.8,1089.9 968.4,1107.0 951.8,1124.1 931.5,1141.2 911.2,1124.1 894.6,1107.0 911.2,1089.9" fill="#e56b5d"/><polygon points="931.5,1075.9 950.1,1091.4 965.3,1107.0 950.1,1122.6 931.5,1138.1 912.9,1122.6 897.7,1107.0 912.9,1091.4" fill="#f1844b"/><polygon points="931.5,1079.5 948.0,1093.2 961.6,1107.0 948.0,1120.8 931.5,1134.5 915.0,1120.8 901.4,1107.0 915.0,1093.2" fill="#f99a3e"/><polygon points="931.5,1083.0 946.0,1095.0 957.9,1107.0 946.0,1119.0 931.5,1131.0 917.0,1119.0 905.1,1107.0 917.0,1095.0" fill="#fdae32"/><polygon points="931.5,1088.1 943.0,1097.6 952.5,1107.0 943.0,1116.4 931.5,1125.9 920.0,1116.4 910.5,1107.0 920.0,1097.6" fill="#fdc328"/><polygon points="931.5,1093.2 940.1,1100.1 947.1,1107.0 940.1,1113.9 931.5,1120.8 922.9,1113.9 915.9,1107.0 922.9,1100.1" fill="#f7e024"/><polygon points="931.5,1097.8 937.3,1102.4 942.1,1107.0 937.3,1111.6 931.5,1116.2 925.7,1111.6 920.9,1107.0 925.7,1102.4" fill="#f1f426"/><polygon points="931.5,1102.4 934.5,1104.7 937.0,1107.0 934.5,1109.3 931.5,1111.6 928.5,1109.3 926.0,1107.0 928.5,1104.7" fill="#eff821"/></g><g filter="url(#bl2)" opacity=".8"><ellipse cx="931" cy="1104" rx="36" ry="3" fill="#fdb42f"/><ellipse cx="931" cy="1112" rx="36" ry="3" fill="#fdb42f"/><ellipse cx="927" cy="1107" rx="3.5" ry="32" fill="#fdc527"/><ellipse cx="936" cy="1107" rx="3" ry="30" fill="#fdb42f"/></g><g filter="url(#vn)"><polygon points="290.2,1286.5 289.7,1300.7 288.3,1310.5 286.1,1318.9 282.9,1326.3 278.9,1332.8 274.0,1338.5 268.2,1343.3 261.6,1347.2 254.0,1350.3 245.5,1352.5 235.4,1353.9 221.0,1354.3 206.6,1353.9 196.5,1352.5 188.0,1350.3 180.4,1347.2 173.8,1343.3 168.0,1338.5 163.1,1332.8 159.1,1326.3 155.9,1318.9 153.7,1310.5 152.3,1300.7 151.8,1286.5 152.3,1272.3 153.7,1262.5 155.9,1254.1 159.1,1246.7 163.1,1240.2 168.0,1234.5 173.8,1229.7 180.4,1225.8 188.0,1222.7 196.5,1220.5 206.6,1219.1 221.0,1218.7 235.4,1219.1 245.5,1220.5 254.0,1222.7 261.6,1225.8 268.2,1229.7 274.0,1234.5 278.9,1240.2 282.9,1246.7 286.1,1254.1 288.3,1262.5 289.7,1272.3" fill="#2f0596" fill-opacity="0.2"/><polygon points="286.0,1286.5 285.6,1299.8 284.3,1309.0 282.2,1317.0 279.2,1323.9 275.4,1330.0 270.8,1335.3 265.4,1339.9 259.1,1343.6 252.0,1346.5 244.0,1348.6 234.6,1349.8 221.0,1350.2 207.4,1349.8 198.0,1348.6 190.0,1346.5 182.9,1343.6 176.6,1339.9 171.2,1335.3 166.6,1330.0 162.8,1323.9 159.8,1317.0 157.7,1309.0 156.4,1299.8 156.0,1286.5 156.4,1273.2 157.7,1264.0 159.8,1256.0 162.8,1249.1 166.6,1243.0 171.2,1237.7 176.6,1233.1 182.9,1229.4 190.0,1226.5 198.0,1224.4 207.4,1223.2 221.0,1222.8 234.6,1223.2 244.0,1224.4 252.0,1226.5 259.1,1229.4 265.4,1233.1 270.8,1237.7 275.4,1243.0 279.2,1249.1 282.2,1256.0 284.3,1264.0 285.6,1273.2" fill="#2f0596" fill-opacity="0.36"/><polygon points="280.8,1286.5 280.4,1298.7 279.2,1307.2 277.3,1314.5 274.5,1320.9 271.0,1326.5 266.8,1331.4 261.8,1335.6 256.1,1339.0 249.6,1341.7 242.1,1343.6 233.5,1344.8 221.0,1345.2 208.5,1344.8 199.9,1343.6 192.4,1341.7 185.9,1339.0 180.2,1335.6 175.2,1331.4 171.0,1326.5 167.5,1320.9 164.7,1314.5 162.8,1307.2 161.6,1298.7 161.2,1286.5 161.6,1274.3 162.8,1265.8 164.7,1258.5 167.5,1252.1 171.0,1246.5 175.2,1241.6 180.2,1237.4 185.9,1234.0 192.4,1231.3 199.9,1229.4 208.5,1228.2 221.0,1227.8 233.5,1228.2 242.1,1229.4 249.6,1231.3 256.1,1234.0 261.8,1237.4 266.8,1241.6 271.0,1246.5 274.5,1252.1 277.3,1258.5 279.2,1265.8 280.4,1274.3" fill="#2f0596" fill-opacity="0.65"/><polygon points="276.1,1286.5 275.8,1297.8 274.7,1305.6 272.9,1312.3 270.3,1318.2 267.1,1323.4 263.2,1327.9 258.6,1331.7 253.3,1334.9 247.3,1337.4 240.5,1339.1 232.5,1340.2 221.0,1340.6 209.5,1340.2 201.5,1339.1 194.7,1337.4 188.7,1334.9 183.4,1331.7 178.8,1327.9 174.9,1323.4 171.7,1318.2 169.1,1312.3 167.3,1305.6 166.2,1297.8 165.9,1286.5 166.2,1275.2 167.3,1267.4 169.1,1260.7 171.7,1254.8 174.9,1249.6 178.8,1245.1 183.4,1241.3 188.7,1238.1 194.7,1235.6 201.5,1233.9 209.5,1232.8 221.0,1232.4 232.5,1232.8 240.5,1233.9 247.3,1235.6 253.3,1238.1 258.6,1241.3 263.2,1245.1 267.1,1249.6 270.3,1254.8 272.9,1260.7 274.7,1267.4 275.8,1275.2" fill="#2f0596" fill-opacity="0.9"/></g><g filter="url(#fz)"><polygon points="281.8,1286.5 281.4,1299.0 280.2,1307.6 278.2,1315.0 275.5,1321.5 271.9,1327.2 267.6,1332.2 262.5,1336.4 256.7,1339.9 250.1,1342.6 242.5,1344.6 233.7,1345.8 221.0,1346.2 208.3,1345.8 199.5,1344.6 191.9,1342.6 185.3,1339.9 179.5,1336.4 174.4,1332.2 170.1,1327.2 166.5,1321.5 163.8,1315.0 161.8,1307.6 160.6,1299.0 160.2,1286.5 160.6,1274.0 161.8,1265.4 163.8,1258.0 166.5,1251.5 170.1,1245.8 174.4,1240.8 179.5,1236.6 185.3,1233.1 191.9,1230.4 199.5,1228.4 208.3,1227.2 221.0,1226.8 233.7,1227.2 242.5,1228.4 250.1,1230.4 256.7,1233.1 262.5,1236.6 267.6,1240.8 271.9,1245.8 275.5,1251.5 278.2,1258.0 280.2,1265.4 281.4,1274.0" fill="#3b1a9c" fill-opacity="0.16"/><polygon points="276.1,1286.5 275.8,1297.8 274.7,1305.6 272.9,1312.3 270.3,1318.2 267.1,1323.4 263.2,1327.9 258.6,1331.7 253.3,1334.9 247.3,1337.4 240.5,1339.1 232.5,1340.2 221.0,1340.6 209.5,1340.2 201.5,1339.1 194.7,1337.4 188.7,1334.9 183.4,1331.7 178.8,1327.9 174.9,1323.4 171.7,1318.2 169.1,1312.3 167.3,1305.6 166.2,1297.8 165.9,1286.5 166.2,1275.2 167.3,1267.4 169.1,1260.7 171.7,1254.8 174.9,1249.6 178.8,1245.1 183.4,1241.3 188.7,1238.1 194.7,1235.6 201.5,1233.9 209.5,1232.8 221.0,1232.4 232.5,1232.8 240.5,1233.9 247.3,1235.6 253.3,1238.1 258.6,1241.3 263.2,1245.1 267.1,1249.6 270.3,1254.8 272.9,1260.7 274.7,1267.4 275.8,1275.2" fill="#3d169e" fill-opacity="0.45"/><polygon points="273.0,1286.5 272.7,1297.1 271.6,1304.5 269.9,1310.9 267.6,1316.4 264.5,1321.3 260.8,1325.6 256.5,1329.2 251.5,1332.2 245.8,1334.5 239.4,1336.2 231.9,1337.2 221.0,1337.5 210.1,1337.2 202.6,1336.2 196.2,1334.5 190.5,1332.2 185.5,1329.2 181.2,1325.6 177.5,1321.3 174.4,1316.4 172.1,1310.9 170.4,1304.5 169.3,1297.1 169.0,1286.5 169.3,1275.9 170.4,1268.5 172.1,1262.1 174.4,1256.6 177.5,1251.7 181.2,1247.4 185.5,1243.8 190.5,1240.8 196.2,1238.5 202.6,1236.8 210.1,1235.8 221.0,1235.5 231.9,1235.8 239.4,1236.8 245.8,1238.5 251.5,1240.8 256.5,1243.8 260.8,1247.4 264.5,1251.7 267.6,1256.6 269.9,1262.1 271.6,1268.5 272.7,1275.9" fill="#3c0c9e"/><polygon points="269.9,1286.5 269.6,1296.5 268.6,1303.4 267.0,1309.4 264.8,1314.6 261.9,1319.2 258.4,1323.2 254.4,1326.6 249.7,1329.4 244.3,1331.6 238.3,1333.2 231.2,1334.1 221.0,1334.4 210.8,1334.1 203.7,1333.2 197.7,1331.6 192.3,1329.4 187.6,1326.6 183.6,1323.2 180.1,1319.2 177.2,1314.6 175.0,1309.4 173.4,1303.4 172.4,1296.5 172.1,1286.5 172.4,1276.5 173.4,1269.6 175.0,1263.6 177.2,1258.4 180.1,1253.8 183.6,1249.8 187.6,1246.4 192.3,1243.6 197.7,1241.4 203.7,1239.8 210.8,1238.9 221.0,1238.6 231.2,1238.9 238.3,1239.8 244.3,1241.4 249.7,1243.6 254.4,1246.4 258.4,1249.8 261.9,1253.8 264.8,1258.4 267.0,1263.6 268.6,1269.6 269.6,1276.5" fill="#560aa4"/><polygon points="267.3,1286.5 267.0,1296.0 266.1,1302.5 264.5,1308.2 262.4,1313.1 259.7,1317.5 256.4,1321.3 252.6,1324.5 248.2,1327.1 243.1,1329.2 237.4,1330.7 230.7,1331.6 221.0,1331.9 211.3,1331.6 204.6,1330.7 198.9,1329.2 193.8,1327.1 189.4,1324.5 185.6,1321.3 182.3,1317.5 179.6,1313.1 177.5,1308.2 175.9,1302.5 175.0,1296.0 174.7,1286.5 175.0,1277.0 175.9,1270.5 177.5,1264.8 179.6,1259.9 182.3,1255.5 185.6,1251.7 189.4,1248.5 193.8,1245.9 198.9,1243.8 204.6,1242.3 211.3,1241.4 221.0,1241.1 230.7,1241.4 237.4,1242.3 243.1,1243.8 248.2,1245.9 252.6,1248.5 256.4,1251.7 259.7,1255.5 262.4,1259.9 264.5,1264.8 266.1,1270.5 267.0,1277.0" fill="#6e06a8"/></g><g filter="url(#bl3)"><polygon points="265.2,1286.5 264.9,1295.6 264.0,1301.8 262.6,1307.2 260.6,1311.9 258.0,1316.1 254.9,1319.7 251.2,1322.8 246.9,1325.3 242.1,1327.3 236.6,1328.7 230.2,1329.6 221.0,1329.8 211.8,1329.6 205.4,1328.7 199.9,1327.3 195.1,1325.3 190.8,1322.8 187.1,1319.7 184.0,1316.1 181.4,1311.9 179.4,1307.2 178.0,1301.8 177.1,1295.6 176.8,1286.5 177.1,1277.4 178.0,1271.2 179.4,1265.8 181.4,1261.1 184.0,1256.9 187.1,1253.3 190.8,1250.2 195.1,1247.7 199.9,1245.7 205.4,1244.3 211.8,1243.4 221.0,1243.2 230.2,1243.4 236.6,1244.3 242.1,1245.7 246.9,1247.7 251.2,1250.2 254.9,1253.3 258.0,1256.9 260.6,1261.1 262.6,1265.8 264.0,1271.2 264.9,1277.4" fill="#8b0aa5"/><polygon points="263.1,1286.5 262.8,1295.1 262.0,1301.1 260.6,1306.2 258.7,1310.7 256.2,1314.7 253.3,1318.1 249.8,1321.1 245.7,1323.5 241.1,1325.4 235.9,1326.7 229.8,1327.5 221.0,1327.8 212.2,1327.5 206.1,1326.7 200.9,1325.4 196.3,1323.5 192.2,1321.1 188.7,1318.1 185.8,1314.7 183.3,1310.7 181.4,1306.2 180.0,1301.1 179.2,1295.1 178.9,1286.5 179.2,1277.9 180.0,1271.9 181.4,1266.8 183.3,1262.3 185.8,1258.3 188.7,1254.9 192.2,1251.9 196.3,1249.5 200.9,1247.6 206.1,1246.3 212.2,1245.5 221.0,1245.2 229.8,1245.5 235.9,1246.3 241.1,1247.6 245.7,1249.5 249.8,1251.9 253.3,1254.9 256.2,1258.3 258.7,1262.3 260.6,1266.8 262.0,1271.9 262.8,1277.9" fill="#a72197"/><polygon points="261.0,1286.5 260.8,1294.7 260.0,1300.4 258.7,1305.3 256.8,1309.5 254.5,1313.3 251.7,1316.6 248.3,1319.4 244.5,1321.7 240.1,1323.4 235.2,1324.7 229.4,1325.5 221.0,1325.8 212.6,1325.5 206.8,1324.7 201.9,1323.4 197.5,1321.7 193.7,1319.4 190.3,1316.6 187.5,1313.3 185.2,1309.5 183.3,1305.3 182.0,1300.4 181.2,1294.7 181.0,1286.5 181.2,1278.3 182.0,1272.6 183.3,1267.7 185.2,1263.5 187.5,1259.7 190.3,1256.4 193.7,1253.6 197.5,1251.3 201.9,1249.6 206.8,1248.3 212.6,1247.5 221.0,1247.2 229.4,1247.5 235.2,1248.3 240.1,1249.6 244.5,1251.3 248.3,1253.6 251.7,1256.4 254.5,1259.7 256.8,1263.5 258.7,1267.7 260.0,1272.6 260.8,1278.3" fill="#c33d80"/><polygon points="258.4,1286.5 258.2,1294.2 257.5,1299.5 256.2,1304.0 254.5,1308.0 252.3,1311.6 249.7,1314.6 246.6,1317.2 243.0,1319.4 238.9,1321.1 234.2,1322.3 228.8,1323.0 221.0,1323.2 213.2,1323.0 207.8,1322.3 203.1,1321.1 199.0,1319.4 195.4,1317.2 192.3,1314.6 189.7,1311.6 187.5,1308.0 185.8,1304.0 184.5,1299.5 183.8,1294.2 183.6,1286.5 183.8,1278.8 184.5,1273.5 185.8,1269.0 187.5,1265.0 189.7,1261.4 192.3,1258.4 195.4,1255.8 199.0,1253.6 203.1,1251.9 207.8,1250.7 213.2,1250.0 221.0,1249.8 228.8,1250.0 234.2,1250.7 238.9,1251.9 243.0,1253.6 246.6,1255.8 249.7,1258.4 252.3,1261.4 254.5,1265.0 256.2,1269.0 257.5,1273.5 258.2,1278.8" fill="#d6556d"/></g><g filter="url(#bl5)"><rect x="181" y="1246" width="80" height="84" rx="16" fill="#d6556d"/><rect x="183" y="1249" width="53" height="26" rx="8" fill="#dd5f65"/><rect x="194" y="1257" width="34" height="12" rx="6" fill="#ec7853"/><rect x="239" y="1247" width="23" height="28" rx="7" fill="#9a1a9d"/><rect x="240" y="1279" width="20" height="47" rx="7" fill="#e8705a"/><rect x="243" y="1287" width="11" height="32" rx="5" fill="#f1844b"/><rect x="181" y="1276" width="57" height="53" rx="7" fill="#f89c3d"/><rect x="186" y="1280" width="50" height="46" rx="7" fill="#fdb52e"/><rect x="193" y="1285" width="41" height="37" rx="8" fill="#fad024"/><rect x="203" y="1292" width="27" height="24" rx="8" fill="#f6e626" fill-opacity=".8"/></g><g filter="url(#vn)"><polygon points="486.0,1284.0 484.7,1298.3 481.0,1312.2 474.9,1325.2 466.7,1337.0 456.5,1347.2 444.7,1355.4 431.7,1361.5 417.8,1365.2 403.5,1366.5 389.2,1365.2 375.3,1361.5 362.3,1355.4 350.5,1347.2 340.3,1337.0 332.1,1325.2 326.0,1312.2 322.3,1298.3 321.0,1284.0 322.3,1269.7 326.0,1255.8 332.1,1242.8 340.3,1231.0 350.5,1220.8 362.3,1212.6 375.3,1206.5 389.2,1202.8 403.5,1201.5 417.8,1202.8 431.7,1206.5 444.7,1212.6 456.5,1220.8 466.7,1231.0 474.9,1242.8 481.0,1255.8 484.7,1269.7" fill="#2f0596" fill-opacity="0.2"/><polygon points="481.0,1284.0 479.8,1297.5 476.3,1310.5 470.6,1322.8 462.9,1333.8 453.3,1343.4 442.2,1351.1 430.0,1356.8 417.0,1360.3 403.5,1361.5 390.0,1360.3 377.0,1356.8 364.8,1351.1 353.7,1343.4 344.1,1333.8 336.4,1322.8 330.7,1310.5 327.2,1297.5 326.0,1284.0 327.2,1270.5 330.7,1257.5 336.4,1245.2 344.1,1234.2 353.7,1224.6 364.7,1216.9 377.0,1211.2 390.0,1207.7 403.5,1206.5 417.0,1207.7 430.0,1211.2 442.2,1216.9 453.3,1224.6 462.9,1234.2 470.6,1245.2 476.3,1257.5 479.8,1270.5" fill="#2f0596" fill-opacity="0.36"/><polygon points="474.8,1284.0 473.7,1296.4 470.5,1308.4 465.2,1319.7 458.1,1329.8 449.3,1338.6 439.1,1345.7 427.9,1351.0 415.9,1354.2 403.5,1355.3 391.1,1354.2 379.1,1351.0 367.9,1345.7 357.7,1338.6 348.9,1329.8 341.8,1319.7 336.5,1308.4 333.3,1296.4 332.2,1284.0 333.3,1271.6 336.5,1259.6 341.8,1248.3 348.9,1238.2 357.7,1229.4 367.8,1222.3 379.1,1217.0 391.1,1213.8 403.5,1212.7 415.9,1213.8 427.9,1217.0 439.1,1222.3 449.3,1229.4 458.1,1238.2 465.2,1248.3 470.5,1259.6 473.7,1271.6" fill="#2f0596" fill-opacity="0.65"/><polygon points="469.2,1284.0 468.2,1295.4 465.3,1306.5 460.4,1316.9 453.8,1326.2 445.7,1334.3 436.4,1340.9 426.0,1345.8 414.9,1348.7 403.5,1349.7 392.1,1348.7 381.0,1345.8 370.6,1340.9 361.3,1334.3 353.2,1326.2 346.6,1316.9 341.7,1306.5 338.8,1295.4 337.8,1284.0 338.8,1272.6 341.7,1261.5 346.6,1251.1 353.2,1241.8 361.3,1233.7 370.6,1227.1 381.0,1222.2 392.1,1219.3 403.5,1218.3 414.9,1219.3 426.0,1222.2 436.4,1227.1 445.7,1233.7 453.8,1241.8 460.4,1251.1 465.3,1261.5 468.2,1272.6" fill="#2f0596" fill-opacity="0.9"/></g><g filter="url(#fz)"><polygon points="476.0,1284.0 474.9,1296.6 471.7,1308.8 466.3,1320.3 459.1,1330.6 450.1,1339.6 439.8,1346.8 428.3,1352.2 416.1,1355.4 403.5,1356.5 390.9,1355.4 378.7,1352.2 367.2,1346.8 356.9,1339.6 347.9,1330.6 340.7,1320.3 335.3,1308.8 332.1,1296.6 331.0,1284.0 332.1,1271.4 335.3,1259.2 340.7,1247.7 347.9,1237.4 356.9,1228.4 367.2,1221.2 378.7,1215.8 390.9,1212.6 403.5,1211.5 416.1,1212.6 428.3,1215.8 439.8,1221.2 450.1,1228.4 459.1,1237.4 466.3,1247.7 471.7,1259.2 474.9,1271.4" fill="#3b1a9c" fill-opacity="0.16"/><polygon points="469.2,1284.0 468.2,1295.4 465.3,1306.5 460.4,1316.9 453.8,1326.2 445.7,1334.3 436.4,1340.9 426.0,1345.8 414.9,1348.7 403.5,1349.7 392.1,1348.7 381.0,1345.8 370.6,1340.9 361.3,1334.3 353.2,1326.2 346.6,1316.9 341.7,1306.5 338.8,1295.4 337.8,1284.0 338.8,1272.6 341.7,1261.5 346.6,1251.1 353.2,1241.8 361.3,1233.7 370.6,1227.1 381.0,1222.2 392.1,1219.3 403.5,1218.3 414.9,1219.3 426.0,1222.2 436.4,1227.1 445.7,1233.7 453.8,1241.8 460.4,1251.1 465.3,1261.5 468.2,1272.6" fill="#3d169e" fill-opacity="0.45"/><polygon points="465.5,1284.0 464.6,1294.8 461.8,1305.2 457.2,1315.0 451.0,1323.9 443.4,1331.5 434.5,1337.7 424.7,1342.3 414.3,1345.1 403.5,1346.0 392.7,1345.1 382.3,1342.3 372.5,1337.7 363.6,1331.5 356.0,1323.9 349.8,1315.0 345.2,1305.2 342.4,1294.8 341.5,1284.0 342.4,1273.2 345.2,1262.8 349.8,1253.0 356.0,1244.1 363.6,1236.5 372.5,1230.3 382.3,1225.7 392.7,1222.9 403.5,1222.0 414.3,1222.9 424.7,1225.7 434.5,1230.3 443.4,1236.5 451.0,1244.1 457.2,1253.0 461.8,1262.8 464.6,1273.2" fill="#3c0c9e"/><polygon points="461.5,1284.2 460.7,1294.4 458.0,1304.2 453.7,1313.4 447.9,1321.7 440.7,1328.9 432.4,1334.7 423.2,1339.0 413.4,1341.6 403.3,1342.5 393.1,1341.6 383.3,1339.0 374.1,1334.7 365.8,1328.9 358.6,1321.7 352.8,1313.4 348.5,1304.2 345.9,1294.4 345.0,1284.2 345.9,1274.1 348.5,1264.3 352.8,1255.1 358.6,1246.8 365.8,1239.6 374.1,1233.8 383.3,1229.5 393.1,1226.8 403.3,1226.0 413.4,1226.8 423.2,1229.5 432.4,1233.8 440.7,1239.6 447.9,1246.8 453.7,1255.1 458.0,1264.3 460.7,1274.1" fill="#560aa4"/><polygon points="458.2,1284.4 457.4,1294.0 454.9,1303.3 450.8,1312.0 445.3,1319.9 438.5,1326.7 430.7,1332.2 421.9,1336.3 412.6,1338.8 403.1,1339.6 393.5,1338.8 384.2,1336.3 375.5,1332.2 367.6,1326.7 360.8,1319.9 355.3,1312.0 351.2,1303.3 348.7,1294.0 347.9,1284.4 348.7,1274.9 351.2,1265.6 355.3,1256.9 360.8,1249.0 367.6,1242.2 375.5,1236.7 384.2,1232.6 393.5,1230.1 403.1,1229.3 412.6,1230.1 421.9,1232.6 430.6,1236.7 438.5,1242.2 445.3,1249.0 450.8,1256.9 454.9,1265.6 457.4,1274.9" fill="#6e06a8"/></g><g filter="url(#bl3)"><polygon points="455.6,1284.6 454.8,1293.8 452.4,1302.6 448.5,1310.9 443.3,1318.5 436.8,1325.0 429.2,1330.2 420.9,1334.1 412.1,1336.5 402.9,1337.3 393.7,1336.5 384.9,1334.1 376.6,1330.2 369.0,1325.0 362.5,1318.5 357.3,1310.9 353.4,1302.6 351.0,1293.8 350.2,1284.6 351.0,1275.4 353.4,1266.6 357.3,1258.2 362.5,1250.7 369.0,1244.2 376.5,1239.0 384.9,1235.1 393.7,1232.7 402.9,1231.9 412.1,1232.7 420.9,1235.1 429.2,1239.0 436.8,1244.2 443.3,1250.7 448.5,1258.2 452.4,1266.6 454.8,1275.4" fill="#8b0aa5"/><polygon points="453.0,1284.8 452.2,1293.5 449.9,1301.9 446.2,1309.9 441.2,1317.0 435.0,1323.2 427.9,1328.3 419.9,1332.0 411.5,1334.2 402.7,1335.0 394.0,1334.2 385.6,1332.0 377.6,1328.3 370.5,1323.2 364.3,1317.0 359.2,1309.9 355.5,1301.9 353.3,1293.5 352.5,1284.8 353.3,1276.0 355.5,1267.6 359.2,1259.7 364.3,1252.5 370.5,1246.3 377.6,1241.3 385.6,1237.6 394.0,1235.3 402.7,1234.5 411.5,1235.3 419.9,1237.6 427.8,1241.3 435.0,1246.3 441.2,1252.5 446.2,1259.7 449.9,1267.6 452.2,1276.0" fill="#a72197"/><polygon points="450.3,1284.9 449.6,1293.2 447.4,1301.2 443.9,1308.8 439.2,1315.6 433.3,1321.5 426.4,1326.3 418.9,1329.8 410.9,1331.9 402.6,1332.7 394.3,1331.9 386.3,1329.8 378.7,1326.3 371.9,1321.5 366.0,1315.6 361.2,1308.8 357.7,1301.2 355.6,1293.2 354.8,1284.9 355.6,1276.6 357.7,1268.6 361.2,1261.1 366.0,1254.2 371.9,1248.3 378.7,1243.6 386.3,1240.1 394.3,1237.9 402.6,1237.2 410.9,1237.9 418.9,1240.1 426.4,1243.6 433.3,1248.3 439.2,1254.2 443.9,1261.1 447.4,1268.6 449.6,1276.6" fill="#c33d80"/><polygon points="447.0,1285.1 446.3,1292.9 444.3,1300.4 441.0,1307.4 436.6,1313.8 431.1,1319.3 424.7,1323.8 417.6,1327.1 410.1,1329.1 402.4,1329.8 394.6,1329.1 387.1,1327.1 380.1,1323.8 373.7,1319.3 368.2,1313.8 363.7,1307.4 360.4,1300.4 358.4,1292.9 357.7,1285.1 358.4,1277.4 360.4,1269.9 363.7,1262.8 368.2,1256.4 373.7,1250.9 380.1,1246.5 387.1,1243.2 394.6,1241.2 402.4,1240.5 410.1,1241.2 417.6,1243.2 424.7,1246.5 431.1,1250.9 436.6,1256.4 441.0,1262.8 444.3,1269.9 446.3,1277.4" fill="#d6556d"/><polygon points="443.7,1285.3 443.1,1292.5 441.2,1299.5 438.2,1306.1 434.0,1312.0 428.9,1317.1 422.9,1321.3 416.4,1324.4 409.4,1326.2 402.2,1326.9 395.0,1326.2 388.0,1324.4 381.4,1321.3 375.5,1317.1 370.4,1312.0 366.2,1306.1 363.1,1299.5 361.3,1292.5 360.6,1285.3 361.3,1278.1 363.1,1271.1 366.2,1264.5 370.4,1258.6 375.5,1253.5 381.4,1249.3 388.0,1246.3 395.0,1244.4 402.2,1243.8 409.4,1244.4 416.4,1246.3 422.9,1249.3 428.9,1253.5 434.0,1258.6 438.2,1264.5 441.2,1271.1 443.1,1278.1" fill="#e56b5d"/><polygon points="439.8,1285.6 439.2,1292.1 437.5,1298.5 434.7,1304.5 430.9,1309.9 426.3,1314.5 420.9,1318.3 414.9,1321.1 408.5,1322.8 401.9,1323.4 395.4,1322.8 389.0,1321.1 383.0,1318.3 377.6,1314.5 373.0,1309.9 369.2,1304.5 366.4,1298.5 364.7,1292.1 364.1,1285.6 364.7,1279.0 366.4,1272.6 369.2,1266.6 373.0,1261.2 377.6,1256.6 383.0,1252.8 389.0,1250.0 395.4,1248.3 401.9,1247.7 408.5,1248.3 414.9,1250.0 420.8,1252.8 426.3,1256.6 430.9,1261.2 434.7,1266.6 437.5,1272.6 439.2,1279.0" fill="#f1844b"/><polygon points="435.1,1285.8 434.6,1291.7 433.1,1297.3 430.7,1302.6 427.3,1307.4 423.2,1311.5 418.4,1314.8 413.1,1317.3 407.5,1318.8 401.7,1319.3 395.8,1318.8 390.2,1317.3 384.9,1314.8 380.1,1311.5 376.0,1307.4 372.7,1302.6 370.2,1297.3 368.7,1291.7 368.2,1285.8 368.7,1280.0 370.2,1274.4 372.7,1269.1 376.0,1264.3 380.1,1260.2 384.9,1256.8 390.2,1254.4 395.8,1252.9 401.7,1252.4 407.5,1252.9 413.1,1254.4 418.4,1256.8 423.2,1260.2 427.3,1264.3 430.7,1269.1 433.1,1274.4 434.6,1280.0" fill="#f99a3e"/><polygon points="430.5,1286.1 430.1,1291.2 428.8,1296.1 426.6,1300.7 423.7,1304.9 420.1,1308.4 415.9,1311.4 411.3,1313.5 406.4,1314.8 401.4,1315.3 396.3,1314.8 391.4,1313.5 386.8,1311.4 382.6,1308.4 379.1,1304.9 376.1,1300.7 374.0,1296.1 372.7,1291.2 372.2,1286.1 372.7,1281.1 374.0,1276.2 376.1,1271.5 379.1,1267.4 382.6,1263.8 386.8,1260.9 391.4,1258.7 396.3,1257.4 401.4,1257.0 406.4,1257.4 411.3,1258.7 415.9,1260.9 420.1,1263.8 423.7,1267.4 426.6,1271.5 428.8,1276.2 430.1,1281.1" fill="#fdae32"/><polygon points="423.9,1286.5 423.6,1290.5 422.5,1294.4 420.8,1298.0 418.6,1301.3 415.7,1304.1 412.5,1306.4 408.8,1308.1 405.0,1309.1 401.0,1309.5 397.0,1309.1 393.1,1308.1 389.5,1306.4 386.2,1304.1 383.4,1301.3 381.1,1298.0 379.4,1294.4 378.4,1290.5 378.0,1286.5 378.4,1282.5 379.4,1278.7 381.1,1275.0 383.4,1271.8 386.2,1268.9 389.5,1266.7 393.1,1265.0 397.0,1263.9 401.0,1263.6 405.0,1263.9 408.8,1265.0 412.4,1266.7 415.7,1268.9 418.6,1271.8 420.8,1275.0 422.5,1278.7 423.6,1282.5" fill="#fdc328"/><polygon points="417.3,1286.9 417.1,1289.8 416.3,1292.6 415.1,1295.3 413.4,1297.7 411.3,1299.7 408.9,1301.4 406.3,1302.7 403.5,1303.4 400.6,1303.7 397.7,1303.4 394.9,1302.7 392.2,1301.4 389.8,1299.7 387.8,1297.7 386.1,1295.3 384.8,1292.6 384.1,1289.8 383.8,1286.9 384.1,1284.0 384.8,1281.2 386.1,1278.6 387.8,1276.2 389.8,1274.1 392.2,1272.4 394.9,1271.2 397.7,1270.4 400.6,1270.2 403.5,1270.4 406.3,1271.2 408.9,1272.4 411.3,1274.1 413.4,1276.2 415.1,1278.6 416.3,1281.2 417.1,1284.0" fill="#f7e024"/><polygon points="411.4,1287.3 411.2,1289.2 410.7,1291.1 409.9,1292.9 408.8,1294.5 407.4,1295.8 405.8,1296.9 404.0,1297.8 402.2,1298.3 400.2,1298.4 398.3,1298.3 396.4,1297.8 394.6,1296.9 393.0,1295.8 391.7,1294.5 390.6,1292.9 389.7,1291.1 389.2,1289.2 389.1,1287.3 389.2,1285.3 389.7,1283.5 390.6,1281.7 391.7,1280.1 393.0,1278.7 394.6,1277.6 396.4,1276.8 398.3,1276.3 400.2,1276.1 402.2,1276.3 404.0,1276.8 405.8,1277.6 407.4,1278.7 408.8,1280.1 409.9,1281.7 410.7,1283.5 411.2,1285.3" fill="#f1f426"/><polygon points="405.1,1288.0 405.0,1289.0 404.7,1289.9 404.3,1290.8 403.8,1291.6 403.1,1292.3 402.3,1292.8 401.4,1293.2 400.5,1293.5 399.5,1293.6 398.5,1293.5 397.6,1293.2 396.7,1292.8 395.9,1292.3 395.2,1291.6 394.7,1290.8 394.3,1289.9 394.0,1289.0 393.9,1288.0 394.0,1287.0 394.3,1286.1 394.7,1285.2 395.2,1284.4 395.9,1283.7 396.7,1283.2 397.6,1282.8 398.5,1282.5 399.5,1282.4 400.5,1282.5 401.4,1282.8 402.3,1283.2 403.1,1283.7 403.8,1284.4 404.3,1285.2 404.7,1286.1 405.0,1287.0" fill="#eff821"/></g><g filter="url(#vn)"><polygon points="664.6,1281.0 663.3,1295.5 659.5,1309.7 653.2,1322.9 644.7,1334.9 634.2,1345.2 622.1,1353.6 608.6,1359.7 594.3,1363.5 579.5,1364.8 564.7,1363.5 550.4,1359.7 536.9,1353.6 524.8,1345.2 514.3,1334.9 505.8,1322.9 499.5,1309.7 495.7,1295.5 494.4,1281.0 495.7,1266.5 499.5,1252.3 505.8,1239.1 514.3,1227.1 524.8,1216.8 536.9,1208.4 550.4,1202.3 564.7,1198.5 579.5,1197.2 594.3,1198.5 608.6,1202.3 622.1,1208.4 634.2,1216.8 644.7,1227.1 653.2,1239.1 659.5,1252.3 663.3,1266.5" fill="#2f0596" fill-opacity="0.2"/><polygon points="659.5,1281.0 658.3,1294.7 654.7,1307.9 648.8,1320.4 640.8,1331.6 630.9,1341.3 619.5,1349.2 606.9,1355.0 593.4,1358.6 579.5,1359.8 565.6,1358.6 552.1,1355.0 539.5,1349.2 528.1,1341.3 518.2,1331.6 510.2,1320.4 504.3,1307.9 500.7,1294.7 499.5,1281.0 500.7,1267.3 504.3,1254.1 510.2,1241.6 518.2,1230.4 528.1,1220.7 539.5,1212.8 552.1,1207.0 565.6,1203.4 579.5,1202.2 593.4,1203.4 606.9,1207.0 619.5,1212.8 630.9,1220.7 640.8,1230.4 648.8,1241.6 654.7,1254.1 658.3,1267.3" fill="#2f0596" fill-opacity="0.36"/><polygon points="653.1,1281.0 652.0,1293.6 648.7,1305.8 643.2,1317.2 635.9,1327.6 626.8,1336.5 616.3,1343.7 604.7,1349.1 592.3,1352.3 579.5,1353.5 566.7,1352.3 554.3,1349.1 542.7,1343.7 532.2,1336.5 523.1,1327.6 515.8,1317.2 510.3,1305.8 507.0,1293.6 505.9,1281.0 507.0,1268.4 510.3,1256.2 515.8,1244.8 523.1,1234.4 532.2,1225.5 542.7,1218.3 554.3,1212.9 566.7,1209.7 579.5,1208.5 592.3,1209.7 604.7,1212.9 616.3,1218.3 626.8,1225.5 635.9,1234.4 643.2,1244.8 648.7,1256.2 652.0,1268.4" fill="#2f0596" fill-opacity="0.65"/><polygon points="647.3,1281.0 646.3,1292.6 643.2,1303.8 638.3,1314.4 631.5,1323.9 623.1,1332.2 613.4,1338.8 602.7,1343.8 591.3,1346.8 579.5,1347.8 567.7,1346.8 556.3,1343.8 545.6,1338.8 535.9,1332.2 527.5,1323.9 520.7,1314.4 515.8,1303.8 512.7,1292.6 511.7,1281.0 512.7,1269.4 515.8,1258.2 520.7,1247.6 527.5,1238.1 535.9,1229.8 545.6,1223.2 556.3,1218.2 567.7,1215.2 579.5,1214.2 591.3,1215.2 602.7,1218.2 613.4,1223.2 623.1,1229.8 631.5,1238.1 638.3,1247.6 643.2,1258.2 646.3,1269.4" fill="#2f0596" fill-opacity="0.9"/></g><g filter="url(#fz)"><polygon points="654.4,1281.0 653.2,1293.8 649.9,1306.2 644.3,1317.9 636.9,1328.4 627.6,1337.5 616.9,1344.8 605.1,1350.3 592.5,1353.6 579.5,1354.7 566.5,1353.6 553.9,1350.3 542.1,1344.8 531.4,1337.5 522.1,1328.4 514.7,1317.9 509.1,1306.2 505.8,1293.8 504.6,1281.0 505.8,1268.2 509.1,1255.8 514.7,1244.1 522.1,1233.6 531.4,1224.5 542.1,1217.2 553.9,1211.7 566.5,1208.4 579.5,1207.3 592.5,1208.4 605.1,1211.7 616.9,1217.2 627.6,1224.5 636.9,1233.6 644.3,1244.1 649.9,1255.8 653.2,1268.2" fill="#3b1a9c" fill-opacity="0.16"/><polygon points="647.3,1281.0 646.3,1292.6 643.2,1303.8 638.3,1314.4 631.5,1323.9 623.1,1332.2 613.4,1338.8 602.7,1343.8 591.3,1346.8 579.5,1347.8 567.7,1346.8 556.3,1343.8 545.6,1338.8 535.9,1332.2 527.5,1323.9 520.7,1314.4 515.8,1303.8 512.7,1292.6 511.7,1281.0 512.7,1269.4 515.8,1258.2 520.7,1247.6 527.5,1238.1 535.9,1229.8 545.6,1223.2 556.3,1218.2 567.7,1215.2 579.5,1214.2 591.3,1215.2 602.7,1218.2 613.4,1223.2 623.1,1229.8 631.5,1238.1 638.3,1247.6 643.2,1258.2 646.3,1269.4" fill="#3d169e" fill-opacity="0.45"/><polygon points="643.5,1281.0 642.5,1291.9 639.6,1302.5 634.9,1312.5 628.5,1321.5 620.6,1329.3 611.5,1335.6 601.4,1340.2 590.6,1343.0 579.5,1344.0 568.4,1343.0 557.6,1340.2 547.5,1335.6 538.4,1329.3 530.5,1321.5 524.1,1312.5 519.4,1302.5 516.5,1291.9 515.5,1281.0 516.5,1270.1 519.4,1259.5 524.1,1249.5 530.5,1240.5 538.4,1232.7 547.5,1226.4 557.6,1221.8 568.4,1219.0 579.5,1218.0 590.6,1219.0 601.4,1221.8 611.5,1226.4 620.6,1232.7 628.5,1240.5 634.9,1249.5 639.6,1259.5 642.5,1270.1" fill="#3c0c9e"/><polygon points="638.9,1281.6 638.0,1291.9 635.3,1301.9 630.9,1311.2 624.9,1319.7 617.5,1327.0 608.9,1332.9 599.4,1337.2 589.2,1339.9 578.8,1340.8 568.3,1339.9 558.2,1337.2 548.7,1332.9 540.1,1327.0 532.7,1319.7 526.7,1311.2 522.2,1301.9 519.5,1291.9 518.6,1281.6 519.5,1271.3 522.2,1261.3 526.7,1252.0 532.7,1243.5 540.1,1236.2 548.7,1230.3 558.2,1226.0 568.3,1223.3 578.8,1222.4 589.2,1223.3 599.4,1226.0 608.9,1230.3 617.5,1236.2 624.9,1243.5 630.9,1252.0 635.3,1261.3 638.0,1271.3" fill="#560aa4"/><polygon points="635.1,1282.1 634.3,1291.8 631.7,1301.3 627.5,1310.1 621.8,1318.1 614.8,1325.1 606.7,1330.7 597.7,1334.8 588.1,1337.3 578.2,1338.2 568.3,1337.3 558.7,1334.8 549.7,1330.7 541.6,1325.1 534.5,1318.1 528.9,1310.1 524.7,1301.3 522.1,1291.8 521.2,1282.1 522.1,1272.4 524.7,1262.9 528.9,1254.1 534.5,1246.1 541.6,1239.1 549.7,1233.5 558.7,1229.4 568.3,1226.9 578.2,1226.0 588.1,1226.9 597.7,1229.4 606.7,1233.5 614.8,1239.1 621.8,1246.1 627.5,1254.1 631.7,1262.9 634.3,1272.4" fill="#6e06a8"/></g><g filter="url(#bl3)"><polygon points="632.1,1282.5 631.3,1291.8 628.8,1300.8 624.8,1309.3 619.4,1316.9 612.7,1323.5 604.9,1328.9 596.3,1332.8 587.1,1335.2 577.7,1336.0 568.3,1335.2 559.1,1332.8 550.5,1328.9 542.7,1323.5 536.0,1316.9 530.6,1309.3 526.6,1300.8 524.1,1291.8 523.3,1282.5 524.1,1273.2 526.6,1264.2 530.6,1255.7 536.0,1248.1 542.7,1241.5 550.5,1236.1 559.1,1232.2 568.3,1229.8 577.7,1229.0 587.1,1229.8 596.3,1232.2 604.9,1236.1 612.7,1241.5 619.4,1248.1 624.8,1255.7 628.8,1264.2 631.3,1273.2" fill="#8b0aa5"/><polygon points="629.1,1282.9 628.3,1291.8 625.9,1300.4 622.1,1308.4 616.9,1315.7 610.5,1322.0 603.1,1327.1 595.0,1330.9 586.2,1333.2 577.2,1333.9 568.2,1333.2 559.5,1330.9 551.3,1327.1 543.9,1322.0 537.5,1315.7 532.3,1308.4 528.5,1300.4 526.2,1291.8 525.4,1282.9 526.2,1274.0 528.5,1265.4 532.3,1257.4 537.5,1250.1 543.9,1243.8 551.3,1238.7 559.5,1234.9 568.2,1232.6 577.2,1231.9 586.2,1232.6 595.0,1234.9 603.1,1238.7 610.5,1243.8 616.9,1250.1 622.1,1257.4 625.9,1265.4 628.3,1274.0" fill="#a72197"/><polygon points="626.0,1283.3 625.3,1291.7 623.0,1299.9 619.4,1307.6 614.5,1314.5 608.4,1320.5 601.4,1325.3 593.6,1328.9 585.3,1331.1 576.7,1331.8 568.2,1331.1 559.9,1328.9 552.1,1325.3 545.1,1320.5 539.0,1314.5 534.1,1307.6 530.4,1299.9 528.2,1291.7 527.5,1283.3 528.2,1274.9 530.4,1266.7 534.1,1259.0 539.0,1252.1 545.1,1246.1 552.1,1241.3 559.9,1237.7 568.2,1235.5 576.7,1234.8 585.3,1235.5 593.6,1237.7 601.4,1241.3 608.4,1246.1 614.5,1252.1 619.4,1259.0 623.0,1266.7 625.3,1274.9" fill="#c33d80"/><polygon points="622.2,1283.8 621.5,1291.7 619.4,1299.3 616.0,1306.5 611.4,1313.0 605.8,1318.5 599.2,1323.1 591.9,1326.4 584.1,1328.5 576.1,1329.2 568.1,1328.5 560.4,1326.4 553.1,1323.1 546.5,1318.5 540.8,1313.0 536.2,1306.5 532.8,1299.3 530.8,1291.7 530.1,1283.8 530.8,1275.9 532.8,1268.3 536.2,1261.1 540.8,1254.6 546.5,1249.1 553.1,1244.5 560.4,1241.2 568.1,1239.1 576.1,1238.4 584.1,1239.1 591.9,1241.2 599.2,1244.5 605.8,1249.1 611.4,1254.6 616.0,1261.1 619.4,1268.3 621.5,1275.9" fill="#d6556d"/><polygon points="618.4,1284.3 617.8,1291.6 615.8,1298.7 612.7,1305.4 608.4,1311.4 603.1,1316.6 597.0,1320.9 590.2,1324.0 583.0,1325.9 575.5,1326.5 568.1,1325.9 560.9,1324.0 554.1,1320.9 548.0,1316.6 542.7,1311.4 538.4,1305.4 535.2,1298.7 533.3,1291.6 532.7,1284.3 533.3,1277.0 535.2,1269.9 538.4,1263.2 542.7,1257.2 548.0,1252.0 554.1,1247.7 560.9,1244.6 568.1,1242.7 575.5,1242.1 583.0,1242.7 590.2,1244.6 597.0,1247.7 603.1,1252.0 608.4,1257.2 612.7,1263.2 615.8,1269.9 617.8,1277.0" fill="#e56b5d"/><polygon points="613.9,1284.9 613.3,1291.6 611.5,1298.0 608.6,1304.1 604.7,1309.6 599.9,1314.3 594.3,1318.2 588.2,1321.0 581.6,1322.7 574.8,1323.3 568.0,1322.7 561.5,1321.0 555.3,1318.2 549.7,1314.3 544.9,1309.6 541.0,1304.1 538.1,1298.0 536.4,1291.6 535.8,1284.9 536.4,1278.2 538.1,1271.8 541.0,1265.7 544.9,1260.2 549.7,1255.5 555.3,1251.6 561.5,1248.8 568.0,1247.1 574.8,1246.5 581.6,1247.1 588.2,1248.8 594.3,1251.6 599.9,1255.5 604.7,1260.2 608.6,1265.7 611.5,1271.8 613.3,1278.2" fill="#f1844b"/><polygon points="608.5,1285.6 608.0,1291.5 606.5,1297.2 603.9,1302.6 600.5,1307.5 596.2,1311.7 591.3,1315.1 585.8,1317.6 580.0,1319.1 574.0,1319.6 568.0,1319.1 562.2,1317.6 556.7,1315.1 551.8,1311.7 547.5,1307.5 544.1,1302.6 541.5,1297.2 539.9,1291.5 539.4,1285.6 539.9,1279.7 541.5,1274.0 544.1,1268.6 547.5,1263.7 551.8,1259.5 556.7,1256.1 562.2,1253.6 568.0,1252.1 574.0,1251.6 580.0,1252.1 585.8,1253.6 591.3,1256.1 596.2,1259.5 600.5,1263.7 603.9,1268.6 606.5,1274.0 608.0,1279.7" fill="#f99a3e"/><polygon points="603.2,1286.3 602.8,1291.4 601.4,1296.4 599.2,1301.1 596.2,1305.3 592.5,1309.0 588.2,1311.9 583.4,1314.1 578.4,1315.5 573.1,1315.9 567.9,1315.5 562.9,1314.1 558.1,1311.9 553.8,1309.0 550.1,1305.3 547.1,1301.1 544.9,1296.4 543.5,1291.4 543.1,1286.3 543.5,1281.2 544.9,1276.2 547.1,1271.5 550.1,1267.3 553.8,1263.6 558.1,1260.7 562.9,1258.5 567.9,1257.1 573.1,1256.7 578.4,1257.1 583.4,1258.5 588.2,1260.7 592.5,1263.6 596.2,1267.3 599.2,1271.5 601.4,1276.2 602.8,1281.2" fill="#fdae32"/><polygon points="595.6,1287.3 595.3,1291.3 594.2,1295.3 592.4,1299.0 590.1,1302.3 587.2,1305.2 583.8,1307.5 580.0,1309.2 576.1,1310.3 571.9,1310.6 567.8,1310.3 563.8,1309.2 560.1,1307.5 556.7,1305.2 553.8,1302.3 551.4,1299.0 549.7,1295.3 548.6,1291.3 548.3,1287.3 548.6,1283.3 549.7,1279.3 551.4,1275.6 553.8,1272.3 556.7,1269.4 560.1,1267.1 563.8,1265.4 567.8,1264.3 571.9,1264.0 576.1,1264.3 580.0,1265.4 583.8,1267.1 587.2,1269.4 590.1,1272.3 592.4,1275.6 594.2,1279.3 595.3,1283.3" fill="#fdc328"/><polygon points="588.0,1288.3 587.8,1291.3 587.0,1294.1 585.7,1296.8 584.0,1299.2 581.8,1301.3 579.4,1303.0 576.7,1304.3 573.7,1305.1 570.7,1305.3 567.7,1305.1 564.8,1304.3 562.1,1303.0 559.6,1301.3 557.5,1299.2 555.8,1296.8 554.5,1294.1 553.7,1291.3 553.5,1288.3 553.7,1285.3 554.5,1282.5 555.8,1279.8 557.5,1277.4 559.6,1275.3 562.1,1273.6 564.8,1272.3 567.7,1271.5 570.7,1271.3 573.7,1271.5 576.7,1272.3 579.4,1273.6 581.8,1275.3 584.0,1277.4 585.7,1279.8 587.0,1282.5 587.8,1285.3" fill="#f7e024"/><polygon points="581.2,1289.2 581.0,1291.2 580.5,1293.1 579.6,1294.9 578.5,1296.5 577.1,1297.9 575.4,1299.0 573.6,1299.9 571.7,1300.4 569.7,1300.5 567.7,1300.4 565.7,1299.9 563.9,1299.0 562.3,1297.9 560.8,1296.5 559.7,1294.9 558.8,1293.1 558.3,1291.2 558.1,1289.2 558.3,1287.2 558.8,1285.3 559.7,1283.5 560.8,1281.9 562.3,1280.5 563.9,1279.4 565.7,1278.5 567.7,1278.0 569.7,1277.9 571.7,1278.0 573.6,1278.5 575.4,1279.4 577.1,1280.5 578.5,1281.9 579.6,1283.5 580.5,1285.3 581.0,1287.2" fill="#f1f426"/><polygon points="573.3,1291.0 573.2,1292.0 572.9,1292.9 572.5,1293.8 571.9,1294.6 571.2,1295.3 570.4,1295.9 569.5,1296.3 568.5,1296.6 567.5,1296.7 566.5,1296.6 565.5,1296.3 564.6,1295.9 563.8,1295.3 563.1,1294.6 562.5,1293.8 562.1,1292.9 561.8,1292.0 561.7,1291.0 561.8,1290.0 562.1,1289.1 562.5,1288.2 563.1,1287.4 563.8,1286.7 564.6,1286.1 565.5,1285.7 566.5,1285.4 567.5,1285.3 568.5,1285.4 569.5,1285.7 570.4,1286.1 571.2,1286.7 571.9,1287.4 572.5,1288.2 572.9,1289.1 573.2,1290.0" fill="#eff821"/></g><g filter="url(#vn)"><polygon points="816.2,1286.5 815.1,1298.5 812.0,1310.2 806.9,1321.1 800.0,1331.0 791.5,1339.5 781.6,1346.4 770.7,1351.5 759.0,1354.6 747.0,1355.7 735.0,1354.6 723.3,1351.5 712.4,1346.4 702.5,1339.5 694.0,1331.0 687.1,1321.1 682.0,1310.2 678.9,1298.5 677.8,1286.5 678.9,1274.5 682.0,1262.8 687.1,1251.9 694.0,1242.0 702.5,1233.5 712.4,1226.6 723.3,1221.5 735.0,1218.4 747.0,1217.3 759.0,1218.4 770.7,1221.5 781.6,1226.6 791.5,1233.5 800.0,1242.0 806.9,1251.9 812.0,1262.8 815.1,1274.5" fill="#2f0596" fill-opacity="0.2"/><polygon points="812.0,1286.5 811.0,1297.8 808.1,1308.7 803.3,1319.0 796.8,1328.3 788.8,1336.3 779.5,1342.8 769.2,1347.6 758.3,1350.5 747.0,1351.5 735.7,1350.5 724.8,1347.6 714.5,1342.8 705.2,1336.3 697.2,1328.3 690.7,1319.0 685.9,1308.7 683.0,1297.8 682.0,1286.5 683.0,1275.2 685.9,1264.3 690.7,1254.0 697.2,1244.7 705.2,1236.7 714.5,1230.2 724.8,1225.4 735.7,1222.5 747.0,1221.5 758.3,1222.5 769.2,1225.4 779.5,1230.2 788.8,1236.7 796.8,1244.7 803.3,1254.0 808.1,1264.3 811.0,1275.2" fill="#2f0596" fill-opacity="0.36"/><polygon points="806.8,1286.5 805.9,1296.9 803.2,1307.0 798.8,1316.4 792.8,1324.9 785.4,1332.3 776.9,1338.3 767.5,1342.7 757.4,1345.4 747.0,1346.3 736.6,1345.4 726.5,1342.7 717.1,1338.3 708.6,1332.3 701.2,1324.9 695.2,1316.4 690.8,1307.0 688.1,1296.9 687.2,1286.5 688.1,1276.1 690.8,1266.0 695.2,1256.6 701.2,1248.1 708.6,1240.7 717.1,1234.7 726.5,1230.3 736.6,1227.6 747.0,1226.7 757.4,1227.6 767.5,1230.3 776.9,1234.7 785.4,1240.7 792.8,1248.1 798.8,1256.6 803.2,1266.0 805.9,1276.1" fill="#2f0596" fill-opacity="0.65"/><polygon points="802.1,1286.5 801.3,1296.1 798.8,1305.4 794.7,1314.1 789.2,1321.9 782.4,1328.7 774.6,1334.2 765.9,1338.3 756.6,1340.8 747.0,1341.6 737.4,1340.8 728.1,1338.3 719.4,1334.2 711.6,1328.7 704.8,1321.9 699.3,1314.1 695.2,1305.4 692.7,1296.1 691.9,1286.5 692.7,1276.9 695.2,1267.6 699.3,1258.9 704.8,1251.1 711.6,1244.3 719.4,1238.8 728.1,1234.7 737.4,1232.2 747.0,1231.4 756.6,1232.2 765.9,1234.7 774.6,1238.8 782.4,1244.3 789.2,1251.1 794.7,1258.9 798.8,1267.6 801.3,1276.9" fill="#2f0596" fill-opacity="0.9"/></g><g filter="url(#fz)"><polygon points="807.8,1286.5 806.9,1297.1 804.2,1307.3 799.7,1316.9 793.6,1325.6 786.1,1333.1 777.4,1339.2 767.8,1343.7 757.6,1346.4 747.0,1347.3 736.4,1346.4 726.2,1343.7 716.6,1339.2 707.9,1333.1 700.4,1325.6 694.3,1316.9 689.8,1307.3 687.1,1297.1 686.2,1286.5 687.1,1275.9 689.8,1265.7 694.3,1256.1 700.4,1247.4 707.9,1239.9 716.6,1233.8 726.2,1229.3 736.4,1226.6 747.0,1225.7 757.6,1226.6 767.8,1229.3 777.4,1233.8 786.1,1239.9 793.6,1247.4 799.7,1256.1 804.2,1265.7 806.9,1275.9" fill="#3b1a9c" fill-opacity="0.16"/><polygon points="802.1,1286.5 801.3,1296.1 798.8,1305.4 794.7,1314.1 789.2,1321.9 782.4,1328.7 774.6,1334.2 765.9,1338.3 756.6,1340.8 747.0,1341.6 737.4,1340.8 728.1,1338.3 719.4,1334.2 711.6,1328.7 704.8,1321.9 699.3,1314.1 695.2,1305.4 692.7,1296.1 691.9,1286.5 692.7,1276.9 695.2,1267.6 699.3,1258.9 704.8,1251.1 711.6,1244.3 719.4,1238.8 728.1,1234.7 737.4,1232.2 747.0,1231.4 756.6,1232.2 765.9,1234.7 774.6,1238.8 782.4,1244.3 789.2,1251.1 794.7,1258.9 798.8,1267.6 801.3,1276.9" fill="#3d169e" fill-opacity="0.45"/><polygon points="799.0,1286.5 798.2,1295.5 795.9,1304.3 792.0,1312.5 786.8,1319.9 780.4,1326.3 773.0,1331.5 764.8,1335.4 756.0,1337.7 747.0,1338.5 738.0,1337.7 729.2,1335.4 721.0,1331.5 713.6,1326.3 707.2,1319.9 702.0,1312.5 698.1,1304.3 695.8,1295.5 695.0,1286.5 695.8,1277.5 698.1,1268.7 702.0,1260.5 707.2,1253.1 713.6,1246.7 721.0,1241.5 729.2,1237.6 738.0,1235.3 747.0,1234.5 756.0,1235.3 764.8,1237.6 773.0,1241.5 780.4,1246.7 786.8,1253.1 792.0,1260.5 795.9,1268.7 798.2,1277.5" fill="#3c0c9e"/><polygon points="795.7,1286.7 795.0,1295.2 792.8,1303.4 789.2,1311.1 784.3,1318.1 778.2,1324.1 771.3,1329.0 763.5,1332.6 755.3,1334.8 746.8,1335.6 738.3,1334.8 730.1,1332.6 722.4,1329.0 715.4,1324.1 709.4,1318.1 704.5,1311.1 700.9,1303.4 698.7,1295.2 697.9,1286.7 698.7,1278.2 700.9,1270.0 704.5,1262.2 709.4,1255.3 715.4,1249.2 722.4,1244.3 730.1,1240.7 738.3,1238.5 746.8,1237.8 755.3,1238.5 763.5,1240.7 771.3,1244.3 778.2,1249.2 784.3,1255.3 789.2,1262.2 792.8,1270.0 795.0,1278.2" fill="#560aa4"/><polygon points="792.9,1286.8 792.2,1294.9 790.2,1302.7 786.7,1310.0 782.1,1316.6 776.4,1322.3 769.8,1326.9 762.5,1330.3 754.7,1332.4 746.7,1333.1 738.6,1332.4 730.8,1330.3 723.5,1326.9 716.9,1322.3 711.2,1316.6 706.6,1310.0 703.2,1302.7 701.1,1294.9 700.4,1286.8 701.1,1278.8 703.2,1271.0 706.6,1263.7 711.2,1257.1 716.9,1251.4 723.5,1246.8 730.8,1243.3 738.6,1241.3 746.7,1240.5 754.7,1241.3 762.5,1243.3 769.8,1246.8 776.4,1251.4 782.1,1257.1 786.7,1263.7 790.2,1271.0 792.2,1278.8" fill="#6e06a8"/></g><g filter="url(#bl3)"><polygon points="790.8,1287.0 790.1,1294.6 788.1,1302.1 784.8,1309.0 780.4,1315.4 775.0,1320.8 768.6,1325.2 761.7,1328.5 754.2,1330.5 746.5,1331.2 738.9,1330.5 731.4,1328.5 724.4,1325.2 718.1,1320.8 712.7,1315.4 708.3,1309.0 705.0,1302.1 703.0,1294.6 702.3,1287.0 703.0,1279.3 705.0,1271.8 708.3,1264.9 712.7,1258.5 718.1,1253.1 724.4,1248.7 731.4,1245.4 738.9,1243.4 746.5,1242.8 754.2,1243.4 761.7,1245.4 768.6,1248.7 775.0,1253.1 780.4,1258.5 784.8,1264.9 788.1,1271.8 790.1,1279.3" fill="#8b0aa5"/><polygon points="788.5,1287.1 787.9,1294.4 786.0,1301.5 782.9,1308.1 778.7,1314.1 773.5,1319.3 767.5,1323.5 760.8,1326.6 753.7,1328.6 746.4,1329.2 739.1,1328.6 732.0,1326.6 725.4,1323.5 719.4,1319.3 714.2,1314.1 710.0,1308.1 706.9,1301.5 704.9,1294.4 704.3,1287.1 704.9,1279.8 706.9,1272.7 710.0,1266.0 714.2,1260.0 719.4,1254.8 725.4,1250.6 732.0,1247.5 739.1,1245.6 746.4,1244.9 753.7,1245.6 760.8,1247.5 767.5,1250.6 773.5,1254.8 778.7,1260.0 782.9,1266.0 786.0,1272.7 787.9,1279.8" fill="#a72197"/><polygon points="786.3,1287.2 785.7,1294.1 783.9,1300.9 781.0,1307.2 777.0,1312.9 772.0,1317.9 766.3,1321.9 760.0,1324.8 753.3,1326.6 746.3,1327.2 739.4,1326.6 732.6,1324.8 726.3,1321.9 720.6,1317.9 715.6,1312.9 711.6,1307.2 708.7,1300.9 706.9,1294.1 706.3,1287.2 706.9,1280.2 708.7,1273.5 711.6,1267.2 715.6,1261.5 720.6,1256.5 726.3,1252.5 732.6,1249.6 739.4,1247.8 746.3,1247.2 753.3,1247.8 760.0,1249.6 766.3,1252.5 772.0,1256.5 777.0,1261.5 781.0,1267.2 783.9,1273.5 785.7,1280.2" fill="#c33d80"/><polygon points="783.6,1287.3 783.0,1293.8 781.3,1300.1 778.6,1306.1 774.8,1311.4 770.2,1316.0 764.9,1319.8 759.0,1322.5 752.7,1324.2 746.2,1324.8 739.7,1324.2 733.4,1322.5 727.4,1319.8 722.1,1316.0 717.5,1311.4 713.7,1306.1 711.0,1300.1 709.3,1293.8 708.7,1287.3 709.3,1280.8 711.0,1274.5 713.7,1268.6 717.5,1263.3 722.1,1258.7 727.4,1254.9 733.4,1252.2 739.7,1250.5 746.2,1249.9 752.7,1250.5 759.0,1252.2 764.9,1254.9 770.2,1258.7 774.8,1263.3 778.6,1268.6 781.3,1274.5 783.0,1280.8" fill="#d6556d"/><polygon points="780.9,1287.5 780.3,1293.5 778.7,1299.4 776.2,1304.9 772.7,1309.9 768.4,1314.2 763.4,1317.7 757.9,1320.2 752.1,1321.8 746.0,1322.3 740.0,1321.8 734.1,1320.2 728.6,1317.7 723.6,1314.2 719.3,1309.9 715.8,1304.9 713.3,1299.4 711.7,1293.5 711.2,1287.5 711.7,1281.4 713.3,1275.6 715.8,1270.1 719.3,1265.1 723.6,1260.8 728.6,1257.3 734.1,1254.8 740.0,1253.2 746.0,1252.7 752.1,1253.2 757.9,1254.8 763.4,1257.3 768.4,1260.8 772.7,1265.1 776.2,1270.1 778.7,1275.6 780.3,1281.4" fill="#e56b5d"/><polygon points="777.6,1287.7 777.1,1293.2 775.6,1298.5 773.3,1303.5 770.1,1308.1 766.2,1312.0 761.7,1315.1 756.7,1317.5 751.3,1318.9 745.8,1319.4 740.3,1318.9 735.0,1317.5 730.0,1315.1 725.4,1312.0 721.5,1308.1 718.4,1303.5 716.0,1298.5 714.6,1293.2 714.1,1287.7 714.6,1282.2 716.0,1276.8 718.4,1271.8 721.5,1267.3 725.4,1263.4 730.0,1260.2 735.0,1257.9 740.3,1256.4 745.8,1256.0 751.3,1256.4 756.7,1257.9 761.7,1260.2 766.2,1263.4 770.1,1267.3 773.3,1271.8 775.6,1276.8 777.1,1282.2" fill="#f1844b"/><polygon points="773.7,1287.9 773.3,1292.8 772.0,1297.5 769.9,1301.9 767.1,1305.9 763.7,1309.4 759.7,1312.2 755.2,1314.3 750.5,1315.5 745.6,1316.0 740.7,1315.5 736.0,1314.3 731.6,1312.2 727.6,1309.4 724.1,1305.9 721.3,1301.9 719.2,1297.5 718.0,1292.8 717.5,1287.9 718.0,1283.0 719.2,1278.3 721.3,1273.8 724.1,1269.8 727.6,1266.4 731.6,1263.6 736.0,1261.5 740.7,1260.2 745.6,1259.8 750.5,1260.2 755.2,1261.5 759.7,1263.6 763.7,1266.4 767.1,1269.8 769.9,1273.8 772.0,1278.3 773.3,1283.0" fill="#f99a3e"/><polygon points="769.8,1288.1 769.5,1292.3 768.4,1296.4 766.6,1300.3 764.1,1303.8 761.1,1306.8 757.6,1309.3 753.8,1311.1 749.7,1312.2 745.4,1312.5 741.2,1312.2 737.1,1311.1 733.2,1309.3 729.7,1306.8 726.7,1303.8 724.2,1300.3 722.4,1296.4 721.3,1292.3 721.0,1288.1 721.3,1283.8 722.4,1279.7 724.2,1275.9 726.7,1272.4 729.7,1269.4 733.2,1266.9 737.1,1265.1 741.2,1264.0 745.4,1263.6 749.7,1264.0 753.8,1265.1 757.6,1266.9 761.1,1269.4 764.1,1272.4 766.6,1275.9 768.4,1279.7 769.5,1283.8" fill="#fdae32"/><polygon points="764.4,1288.4 764.1,1291.7 763.2,1295.0 761.8,1298.0 759.8,1300.8 757.5,1303.1 754.7,1305.1 751.7,1306.5 748.5,1307.3 745.1,1307.6 741.8,1307.3 738.5,1306.5 735.5,1305.1 732.7,1303.1 730.4,1300.8 728.4,1298.0 727.0,1295.0 726.2,1291.7 725.9,1288.4 726.2,1285.0 727.0,1281.8 728.4,1278.8 730.4,1276.0 732.7,1273.7 735.5,1271.7 738.5,1270.3 741.8,1269.4 745.1,1269.2 748.5,1269.4 751.7,1270.3 754.7,1271.7 757.5,1273.7 759.8,1276.0 761.8,1278.8 763.2,1281.8 764.1,1285.0" fill="#fdc328"/><polygon points="758.8,1288.7 758.6,1291.1 758.0,1293.5 757.0,1295.7 755.6,1297.7 753.8,1299.4 751.8,1300.8 749.6,1301.9 747.2,1302.5 744.8,1302.7 742.4,1302.5 740.0,1301.9 737.8,1300.8 735.8,1299.4 734.1,1297.7 732.7,1295.7 731.6,1293.5 731.0,1291.1 730.8,1288.7 731.0,1286.3 731.6,1283.9 732.7,1281.7 734.1,1279.7 735.8,1277.9 737.8,1276.5 740.0,1275.5 742.4,1274.9 744.8,1274.7 747.2,1274.9 749.6,1275.5 751.8,1276.5 753.8,1277.9 755.6,1279.7 757.0,1281.7 758.0,1283.9 758.6,1286.3" fill="#f7e024"/><polygon points="753.9,1289.0 753.8,1290.6 753.3,1292.2 752.6,1293.6 751.7,1295.0 750.6,1296.1 749.2,1297.1 747.7,1297.8 746.2,1298.2 744.5,1298.3 742.9,1298.2 741.3,1297.8 739.9,1297.1 738.5,1296.1 737.4,1295.0 736.4,1293.6 735.7,1292.2 735.3,1290.6 735.2,1289.0 735.3,1287.3 735.7,1285.8 736.4,1284.3 737.4,1282.9 738.5,1281.8 739.9,1280.9 741.3,1280.2 742.9,1279.7 744.5,1279.6 746.2,1279.7 747.7,1280.2 749.2,1280.9 750.6,1281.8 751.7,1282.9 752.6,1284.3 753.3,1285.8 753.8,1287.3" fill="#f1f426"/><polygon points="748.7,1289.5 748.6,1290.3 748.4,1291.1 748.1,1291.8 747.6,1292.5 747.0,1293.1 746.3,1293.6 745.6,1293.9 744.8,1294.1 744.0,1294.2 743.2,1294.1 742.4,1293.9 741.7,1293.6 741.0,1293.1 740.4,1292.5 739.9,1291.8 739.6,1291.1 739.4,1290.3 739.3,1289.5 739.4,1288.7 739.6,1287.9 739.9,1287.2 740.4,1286.5 741.0,1285.9 741.7,1285.4 742.4,1285.1 743.2,1284.9 744.0,1284.8 744.8,1284.9 745.6,1285.1 746.3,1285.4 747.0,1285.9 747.6,1286.5 748.1,1287.2 748.4,1287.9 748.6,1288.7" fill="#eff821"/></g><g filter="url(#vn)"><polygon points="950.8,1316.6 952.5,1324.0 953.4,1328.8 953.8,1332.9 953.9,1336.4 953.7,1339.6 953.1,1342.4 952.2,1344.9 951.0,1347.1 949.5,1348.9 947.5,1350.4 945.1,1351.7 941.0,1352.9 936.7,1353.7 934.0,1353.8 931.6,1353.4 929.3,1352.5 927.3,1351.1 925.3,1349.4 923.5,1347.1 921.8,1344.4 920.2,1341.2 918.7,1337.5 917.2,1332.9 915.2,1325.4 913.5,1318.0 912.6,1313.2 912.2,1309.1 912.1,1305.6 912.3,1302.4 912.9,1299.6 913.8,1297.1 915.0,1294.9 916.5,1293.1 918.5,1291.6 920.9,1290.3 925.0,1289.1 929.3,1288.3 932.0,1288.2 934.4,1288.6 936.7,1289.5 938.7,1290.9 940.7,1292.6 942.5,1294.9 944.2,1297.6 945.8,1300.8 947.3,1304.5 948.8,1309.1" fill="#2f0596" fill-opacity="0.2"/><polygon points="949.9,1316.8 951.5,1323.9 952.3,1328.4 952.8,1332.3 952.8,1335.7 952.6,1338.7 952.1,1341.3 951.2,1343.7 950.1,1345.8 948.6,1347.5 946.8,1348.9 944.4,1350.1 940.5,1351.3 936.6,1352.1 933.9,1352.1 931.6,1351.7 929.5,1350.9 927.6,1349.6 925.7,1347.9 924.0,1345.8 922.4,1343.3 920.8,1340.2 919.4,1336.6 918.0,1332.3 916.1,1325.2 914.5,1318.1 913.7,1313.6 913.2,1309.7 913.2,1306.3 913.4,1303.3 913.9,1300.7 914.8,1298.3 915.9,1296.2 917.4,1294.5 919.2,1293.1 921.6,1291.9 925.5,1290.7 929.4,1289.9 932.1,1289.9 934.4,1290.3 936.5,1291.1 938.4,1292.4 940.3,1294.1 942.0,1296.2 943.6,1298.7 945.2,1301.8 946.6,1305.4 948.0,1309.7" fill="#2f0596" fill-opacity="0.36"/><polygon points="948.8,1317.1 950.3,1323.7 951.1,1327.9 951.4,1331.5 951.5,1334.7 951.3,1337.5 950.8,1340.0 950.0,1342.2 949.0,1344.1 947.6,1345.7 945.9,1347.1 943.7,1348.2 940.0,1349.3 936.3,1350.0 933.9,1350.1 931.7,1349.7 929.8,1348.9 927.9,1347.7 926.2,1346.1 924.6,1344.2 923.1,1341.8 921.7,1338.9 920.3,1335.6 919.0,1331.5 917.2,1324.9 915.7,1318.3 914.9,1314.1 914.6,1310.5 914.5,1307.3 914.7,1304.5 915.2,1302.0 916.0,1299.8 917.0,1297.9 918.4,1296.3 920.1,1294.9 922.3,1293.8 926.0,1292.7 929.7,1292.0 932.1,1291.9 934.3,1292.3 936.2,1293.1 938.1,1294.3 939.8,1295.9 941.4,1297.8 942.9,1300.2 944.3,1303.1 945.7,1306.4 947.0,1310.5" fill="#2f0596" fill-opacity="0.65"/><polygon points="947.8,1317.3 949.2,1323.5 949.9,1327.5 950.3,1330.9 950.4,1333.8 950.2,1336.5 949.7,1338.8 949.0,1340.9 948.0,1342.7 946.7,1344.2 945.1,1345.4 943.0,1346.5 939.6,1347.5 936.1,1348.2 933.8,1348.2 931.8,1347.9 930.0,1347.1 928.2,1346.0 926.6,1344.6 925.1,1342.7 923.7,1340.5 922.4,1337.8 921.1,1334.7 919.9,1330.8 918.2,1324.7 916.8,1318.5 916.1,1314.5 915.7,1311.1 915.6,1308.2 915.8,1305.5 916.3,1303.2 917.0,1301.1 918.0,1299.3 919.3,1297.8 920.9,1296.6 923.0,1295.5 926.4,1294.5 929.9,1293.8 932.2,1293.8 934.2,1294.1 936.0,1294.9 937.8,1296.0 939.4,1297.4 940.9,1299.3 942.3,1301.5 943.6,1304.2 944.9,1307.3 946.1,1311.2" fill="#2f0596" fill-opacity="0.9"/></g><g filter="url(#fz)"><polygon points="948.8,1317.1 950.3,1323.7 951.1,1327.9 951.4,1331.5 951.5,1334.7 951.3,1337.5 950.8,1340.0 950.0,1342.2 949.0,1344.1 947.6,1345.7 945.9,1347.1 943.7,1348.2 940.0,1349.3 936.3,1350.0 933.9,1350.1 931.7,1349.7 929.8,1348.9 927.9,1347.7 926.2,1346.1 924.6,1344.2 923.1,1341.8 921.7,1338.9 920.3,1335.6 919.0,1331.5 917.2,1324.9 915.7,1318.3 914.9,1314.1 914.6,1310.5 914.5,1307.3 914.7,1304.5 915.2,1302.0 916.0,1299.8 917.0,1297.9 918.4,1296.3 920.1,1294.9 922.3,1293.8 926.0,1292.7 929.7,1292.0 932.1,1291.9 934.3,1292.3 936.2,1293.1 938.1,1294.3 939.8,1295.9 941.4,1297.8 942.9,1300.2 944.3,1303.1 945.7,1306.4 947.0,1310.5" fill="#3b1a9c" fill-opacity="0.16"/><polygon points="947.8,1317.3 949.2,1323.5 949.9,1327.5 950.3,1330.9 950.4,1333.8 950.2,1336.5 949.7,1338.8 949.0,1340.9 948.0,1342.7 946.7,1344.2 945.1,1345.4 943.0,1346.5 939.6,1347.5 936.1,1348.2 933.8,1348.2 931.8,1347.9 930.0,1347.1 928.2,1346.0 926.6,1344.6 925.1,1342.7 923.7,1340.5 922.4,1337.8 921.1,1334.7 919.9,1330.8 918.2,1324.7 916.8,1318.5 916.1,1314.5 915.7,1311.1 915.6,1308.2 915.8,1305.5 916.3,1303.2 917.0,1301.1 918.0,1299.3 919.3,1297.8 920.9,1296.6 923.0,1295.5 926.4,1294.5 929.9,1293.8 932.2,1293.8 934.2,1294.1 936.0,1294.9 937.8,1296.0 939.4,1297.4 940.9,1299.3 942.3,1301.5 943.6,1304.2 944.9,1307.3 946.1,1311.2" fill="#3d169e" fill-opacity="0.45"/><polygon points="947.1,1317.5 948.5,1323.4 949.1,1327.2 949.5,1330.4 949.5,1333.2 949.3,1335.7 948.9,1338.0 948.2,1339.9 947.3,1341.6 946.0,1343.1 944.5,1344.3 942.5,1345.3 939.3,1346.2 936.0,1346.9 933.8,1346.9 931.9,1346.6 930.1,1345.9 928.5,1344.8 926.9,1343.4 925.5,1341.7 924.1,1339.5 922.9,1337.0 921.7,1334.0 920.5,1330.4 918.9,1324.5 917.5,1318.6 916.9,1314.8 916.5,1311.6 916.5,1308.8 916.7,1306.3 917.1,1304.0 917.8,1302.1 918.7,1300.4 920.0,1298.9 921.5,1297.7 923.5,1296.7 926.7,1295.8 930.0,1295.1 932.2,1295.1 934.1,1295.4 935.9,1296.1 937.5,1297.2 939.1,1298.6 940.5,1300.3 941.9,1302.5 943.1,1305.0 944.3,1308.0 945.5,1311.6" fill="#3c0c9e"/><polygon points="946.3,1318.3 947.6,1323.9 948.2,1327.4 948.5,1330.5 948.6,1333.1 948.4,1335.5 948.0,1337.6 947.4,1339.5 946.5,1341.1 945.4,1342.4 943.9,1343.6 942.1,1344.5 939.1,1345.4 936.0,1346.0 934.0,1346.1 932.2,1345.7 930.5,1345.1 929.0,1344.1 927.6,1342.7 926.2,1341.0 925.0,1339.0 923.8,1336.6 922.6,1333.8 921.5,1330.4 920.0,1324.8 918.7,1319.2 918.1,1315.6 917.8,1312.6 917.7,1309.9 917.9,1307.6 918.3,1305.5 918.9,1303.6 919.8,1302.0 920.9,1300.6 922.4,1299.5 924.2,1298.6 927.2,1297.7 930.3,1297.1 932.3,1297.0 934.1,1297.3 935.8,1298.0 937.3,1299.0 938.7,1300.4 940.1,1302.0 941.3,1304.0 942.5,1306.4 943.7,1309.3 944.8,1312.7" fill="#560aa4"/><polygon points="945.6,1318.9 946.8,1324.2 947.4,1327.6 947.8,1330.5 947.8,1333.1 947.7,1335.3 947.3,1337.3 946.7,1339.1 945.9,1340.6 944.8,1341.9 943.5,1343.0 941.8,1343.9 938.9,1344.7 936.0,1345.3 934.1,1345.3 932.4,1345.0 930.9,1344.4 929.4,1343.4 928.1,1342.1 926.8,1340.5 925.6,1338.6 924.5,1336.3 923.4,1333.6 922.4,1330.3 921.0,1325.1 919.7,1319.7 919.1,1316.3 918.8,1313.5 918.7,1310.9 918.9,1308.7 919.2,1306.7 919.8,1304.9 920.7,1303.4 921.7,1302.1 923.1,1301.0 924.8,1300.1 927.6,1299.3 930.5,1298.7 932.4,1298.7 934.1,1299.0 935.7,1299.6 937.1,1300.6 938.5,1301.9 939.7,1303.5 940.9,1305.4 942.1,1307.7 943.1,1310.3 944.2,1313.6" fill="#6e06a8"/></g><g filter="url(#bl3)"><polygon points="945.0,1319.4 946.2,1324.5 946.8,1327.8 947.1,1330.6 947.2,1333.0 947.1,1335.2 946.7,1337.1 946.2,1338.8 945.4,1340.2 944.4,1341.5 943.1,1342.5 941.5,1343.3 938.8,1344.1 936.1,1344.7 934.2,1344.7 932.6,1344.4 931.2,1343.8 929.8,1342.9 928.5,1341.6 927.3,1340.1 926.2,1338.3 925.1,1336.1 924.1,1333.5 923.0,1330.3 921.7,1325.3 920.5,1320.2 919.9,1316.9 919.6,1314.1 919.5,1311.7 919.7,1309.5 920.0,1307.6 920.6,1305.9 921.4,1304.5 922.4,1303.2 923.6,1302.2 925.2,1301.4 927.9,1300.6 930.7,1300.0 932.5,1300.0 934.1,1300.3 935.6,1300.9 937.0,1301.8 938.2,1303.1 939.5,1304.6 940.6,1306.4 941.7,1308.6 942.7,1311.2 943.7,1314.4" fill="#8b0aa5"/><polygon points="944.5,1320.0 945.7,1324.8 946.2,1328.0 946.5,1330.6 946.6,1332.9 946.5,1335.0 946.2,1336.9 945.6,1338.5 944.9,1339.9 944.0,1341.0 942.8,1342.0 941.2,1342.8 938.7,1343.6 936.1,1344.1 934.3,1344.1 932.8,1343.8 931.4,1343.2 930.1,1342.3 928.9,1341.2 927.8,1339.7 926.7,1337.9 925.7,1335.8 924.7,1333.3 923.7,1330.3 922.4,1325.5 921.3,1320.6 920.7,1317.4 920.4,1314.8 920.3,1312.5 920.5,1310.4 920.8,1308.6 921.3,1307.0 922.0,1305.6 923.0,1304.4 924.2,1303.4 925.7,1302.6 928.3,1301.8 930.9,1301.3 932.6,1301.3 934.1,1301.6 935.5,1302.2 936.8,1303.1 938.0,1304.3 939.2,1305.7 940.3,1307.5 941.3,1309.6 942.3,1312.1 943.2,1315.1" fill="#a72197"/><polygon points="944.0,1320.5 945.1,1325.1 945.6,1328.1 945.9,1330.7 946.0,1332.9 945.9,1334.9 945.6,1336.6 945.1,1338.1 944.4,1339.5 943.5,1340.6 942.4,1341.5 940.9,1342.3 938.5,1343.0 936.1,1343.5 934.5,1343.5 933.0,1343.2 931.7,1342.6 930.5,1341.8 929.3,1340.7 928.2,1339.3 927.2,1337.6 926.2,1335.6 925.3,1333.2 924.4,1330.3 923.2,1325.7 922.1,1321.0 921.5,1318.0 921.2,1315.5 921.1,1313.3 921.3,1311.3 921.6,1309.5 922.1,1308.0 922.7,1306.7 923.6,1305.5 924.8,1304.6 926.2,1303.9 928.6,1303.1 931.1,1302.6 932.7,1302.6 934.1,1302.9 935.4,1303.5 936.7,1304.3 937.8,1305.5 938.9,1306.9 939.9,1308.6 940.9,1310.6 941.8,1312.9 942.8,1315.8" fill="#c33d80"/><polygon points="943.3,1321.1 944.4,1325.5 944.9,1328.3 945.2,1330.7 945.3,1332.8 945.2,1334.6 944.9,1336.3 944.4,1337.7 943.8,1339.0 943.0,1340.0 941.9,1340.9 940.6,1341.6 938.4,1342.3 936.1,1342.7 934.6,1342.7 933.3,1342.5 932.0,1341.9 930.9,1341.1 929.8,1340.1 928.8,1338.7 927.9,1337.1 926.9,1335.2 926.1,1333.0 925.2,1330.3 924.1,1325.9 923.0,1321.5 922.5,1318.7 922.2,1316.3 922.1,1314.2 922.2,1312.4 922.5,1310.7 923.0,1309.3 923.6,1308.0 924.4,1307.0 925.5,1306.1 926.8,1305.4 929.0,1304.7 931.3,1304.3 932.8,1304.3 934.1,1304.6 935.4,1305.1 936.5,1305.9 937.6,1307.0 938.6,1308.3 939.5,1309.9 940.5,1311.8 941.3,1314.0 942.2,1316.7" fill="#d6556d"/><polygon points="942.7,1321.8 943.7,1325.9 944.2,1328.5 944.4,1330.7 944.5,1332.7 944.4,1334.4 944.2,1336.0 943.8,1337.3 943.2,1338.5 942.4,1339.5 941.5,1340.3 940.3,1340.9 938.2,1341.6 936.1,1342.0 934.7,1342.0 933.5,1341.7 932.4,1341.2 931.3,1340.4 930.3,1339.4 929.4,1338.2 928.5,1336.7 927.6,1334.9 926.8,1332.8 926.0,1330.3 924.9,1326.2 924.0,1322.1 923.5,1319.4 923.2,1317.2 923.1,1315.2 923.2,1313.5 923.5,1312.0 923.9,1310.6 924.5,1309.4 925.2,1308.5 926.2,1307.6 927.4,1307.0 929.4,1306.4 931.5,1306.0 932.9,1306.0 934.1,1306.2 935.3,1306.7 936.3,1307.5 937.3,1308.5 938.3,1309.8 939.2,1311.2 940.0,1313.0 940.8,1315.1 941.6,1317.7" fill="#e56b5d"/><polygon points="941.9,1322.5 942.8,1326.3 943.3,1328.7 943.5,1330.8 943.6,1332.6 943.6,1334.2 943.3,1335.6 943.0,1336.8 942.5,1337.9 941.8,1338.8 940.9,1339.5 939.8,1340.1 938.0,1340.7 936.1,1341.0 934.9,1341.0 933.8,1340.8 932.8,1340.3 931.8,1339.6 930.9,1338.7 930.0,1337.5 929.2,1336.2 928.5,1334.5 927.7,1332.6 927.0,1330.3 926.0,1326.5 925.1,1322.7 924.7,1320.3 924.4,1318.2 924.3,1316.4 924.4,1314.9 924.6,1313.4 925.0,1312.2 925.5,1311.1 926.2,1310.2 927.0,1309.5 928.1,1308.9 929.9,1308.3 931.8,1308.0 933.1,1308.0 934.2,1308.2 935.2,1308.7 936.1,1309.4 937.0,1310.3 937.9,1311.5 938.7,1312.9 939.5,1314.5 940.2,1316.4 941.0,1318.8" fill="#f1844b"/><polygon points="941.1,1323.4 941.9,1326.8 942.3,1329.0 942.5,1330.8 942.6,1332.4 942.6,1333.8 942.4,1335.1 942.1,1336.2 941.6,1337.2 941.1,1338.0 940.3,1338.6 939.4,1339.1 937.8,1339.6 936.1,1339.9 935.0,1339.9 934.1,1339.7 933.2,1339.3 932.4,1338.6 931.6,1337.8 930.8,1336.8 930.1,1335.5 929.4,1334.1 928.8,1332.3 928.1,1330.2 927.2,1326.9 926.4,1323.5 926.0,1321.3 925.8,1319.5 925.7,1317.9 925.7,1316.4 925.9,1315.2 926.2,1314.1 926.7,1313.1 927.2,1312.3 928.0,1311.7 928.9,1311.1 930.5,1310.7 932.2,1310.3 933.3,1310.3 934.2,1310.6 935.1,1311.0 935.9,1311.6 936.7,1312.5 937.5,1313.5 938.2,1314.8 938.9,1316.2 939.5,1317.9 940.2,1320.0" fill="#f99a3e"/><polygon points="940.2,1324.3 940.9,1327.3 941.3,1329.2 941.5,1330.8 941.6,1332.2 941.6,1333.5 941.4,1334.6 941.2,1335.6 940.8,1336.4 940.3,1337.1 939.7,1337.7 938.9,1338.1 937.5,1338.6 936.1,1338.8 935.2,1338.8 934.4,1338.6 933.6,1338.2 932.9,1337.6 932.2,1336.9 931.6,1336.0 930.9,1334.9 930.4,1333.6 929.8,1332.1 929.2,1330.2 928.4,1327.2 927.7,1324.2 927.4,1322.3 927.1,1320.7 927.1,1319.3 927.1,1318.0 927.2,1316.9 927.5,1316.0 927.8,1315.1 928.3,1314.4 929.0,1313.9 929.8,1313.4 931.1,1313.0 932.5,1312.7 933.5,1312.7 934.3,1312.9 935.0,1313.3 935.8,1313.9 936.4,1314.6 937.1,1315.6 937.7,1316.6 938.3,1317.9 938.9,1319.5 939.4,1321.3" fill="#fdae32"/><polygon points="939.1,1325.6 939.6,1328.0 939.9,1329.5 940.1,1330.8 940.2,1331.9 940.2,1333.0 940.1,1333.8 939.9,1334.6 939.6,1335.3 939.3,1335.9 938.8,1336.3 938.2,1336.7 937.1,1337.0 936.1,1337.2 935.4,1337.2 934.7,1337.0 934.2,1336.7 933.6,1336.2 933.1,1335.6 932.6,1334.9 932.1,1334.0 931.6,1332.9 931.2,1331.7 930.7,1330.2 930.1,1327.8 929.5,1325.4 929.2,1323.8 929.0,1322.5 929.0,1321.4 929.0,1320.4 929.1,1319.5 929.3,1318.7 929.5,1318.0 929.9,1317.5 930.4,1317.0 931.0,1316.7 932.0,1316.4 933.1,1316.2 933.8,1316.2 934.4,1316.4 935.0,1316.7 935.5,1317.1 936.1,1317.7 936.6,1318.5 937.1,1319.4 937.5,1320.4 938.0,1321.7 938.4,1323.2" fill="#fdc328"/><polygon points="937.9,1326.8 938.4,1328.6 938.6,1329.8 938.7,1330.7 938.8,1331.6 938.8,1332.4 938.8,1333.0 938.7,1333.6 938.5,1334.1 938.2,1334.5 937.9,1334.8 937.5,1335.1 936.8,1335.3 936.0,1335.5 935.5,1335.4 935.1,1335.3 934.7,1335.1 934.3,1334.7 933.9,1334.2 933.5,1333.7 933.2,1333.0 932.9,1332.2 932.5,1331.3 932.2,1330.2 931.7,1328.3 931.3,1326.5 931.0,1325.4 930.9,1324.4 930.8,1323.5 930.8,1322.8 930.9,1322.1 931.0,1321.5 931.2,1321.0 931.4,1320.6 931.7,1320.3 932.2,1320.0 932.9,1319.8 933.6,1319.7 934.1,1319.7 934.6,1319.8 935.0,1320.1 935.4,1320.4 935.8,1320.9 936.1,1321.5 936.5,1322.1 936.8,1322.9 937.1,1323.9 937.5,1325.0" fill="#f7e024"/><polygon points="937.0,1327.9 937.3,1329.2 937.5,1330.0 937.6,1330.6 937.6,1331.2 937.7,1331.7 937.6,1332.2 937.6,1332.6 937.5,1332.9 937.3,1333.2 937.1,1333.5 936.8,1333.6 936.4,1333.8 935.9,1333.9 935.6,1333.8 935.3,1333.7 935.1,1333.5 934.8,1333.3 934.6,1333.0 934.3,1332.6 934.1,1332.1 933.9,1331.6 933.7,1330.9 933.4,1330.1 933.1,1328.9 932.8,1327.6 932.6,1326.8 932.5,1326.1 932.5,1325.5 932.4,1325.0 932.5,1324.6 932.5,1324.2 932.6,1323.8 932.8,1323.5 933.0,1323.3 933.3,1323.1 933.7,1323.0 934.2,1322.9 934.5,1322.9 934.8,1323.0 935.0,1323.2 935.3,1323.5 935.5,1323.8 935.8,1324.2 936.0,1324.7 936.2,1325.2 936.4,1325.9 936.7,1326.6" fill="#f1f426"/><polygon points="936.4,1329.8 936.5,1330.5 936.6,1330.9 936.7,1331.2 936.7,1331.6 936.8,1331.8 936.8,1332.1 936.7,1332.3 936.7,1332.5 936.6,1332.6 936.5,1332.7 936.4,1332.8 936.2,1332.9 936.0,1332.9 935.9,1332.9 935.7,1332.8 935.6,1332.7 935.5,1332.6 935.4,1332.4 935.3,1332.2 935.1,1332.0 935.0,1331.7 934.9,1331.3 934.8,1330.9 934.6,1330.2 934.5,1329.5 934.4,1329.1 934.3,1328.8 934.3,1328.4 934.2,1328.2 934.2,1327.9 934.3,1327.7 934.3,1327.5 934.4,1327.4 934.5,1327.3 934.6,1327.2 934.8,1327.1 935.0,1327.1 935.1,1327.1 935.3,1327.2 935.4,1327.3 935.5,1327.4 935.6,1327.6 935.7,1327.8 935.9,1328.0 936.0,1328.3 936.1,1328.7 936.2,1329.1" fill="#eff821"/></g></svg>
<svg style="left:0;top:0" width="2035" height="2880" viewBox="0 0 2035 2880"><line x1="281.5" x2="281.5" y1="1870" y2="2162.5" stroke="#e2e2e2" stroke-width=".85"/><line x1="395.1" x2="395.1" y1="1870" y2="2162.5" stroke="#e2e2e2" stroke-width=".85"/><line x1="508.7" x2="508.7" y1="1870" y2="2162.5" stroke="#e2e2e2" stroke-width=".85"/><line x1="236.9" x2="553.6" y1="2122.5" y2="2122.5" stroke="#e2e2e2" stroke-width=".85"/><line x1="236.9" x2="553.6" y1="2017.2" y2="2017.2" stroke="#e2e2e2" stroke-width=".85"/><line x1="236.9" x2="553.6" y1="1911.9" y2="1911.9" stroke="#e2e2e2" stroke-width=".85"/><path d="M417.4,1882.9 L418.4,1889.1 L419.6,1895.1 L420.8,1900.7 L422.0,1906.1 L423.3,1911.3 L424.7,1916.2 L426.1,1920.9 L427.7,1925.3 L429.2,1929.6 L430.9,1933.7 L432.6,1937.5 L434.5,1941.2 L436.4,1944.8 L438.4,1948.1 L440.5,1951.3 L442.7,1954.4 L445.0,1957.3 L447.4,1960.1 L450.0,1962.7 L452.7,1965.2 L455.5,1967.7 L458.4,1970.0 L461.5,1972.1 L464.7,1974.2 L468.1,1976.2 L471.6,1978.1 L475.4,1979.9 L479.3,1981.7 L483.4,1983.3 L487.7,1984.9 L492.2,1986.4 L496.9,1987.8 L501.8,1989.2 L507.0,1990.5 L512.5,1991.7 L518.2,1992.9 L524.2,1994.0 L530.4,1995.1 L537.0,1996.1 L543.9,1997.1" stroke="#a3cdf0" stroke-width="4.5" fill="none" stroke-linecap="round" stroke-linejoin="round"/><path d="M418.7,1890.3 L419.7,1895.8 L420.9,1901.1 L422.0,1906.2 L423.3,1911.0 L424.5,1915.6 L425.9,1920.0 L427.3,1924.2 L428.7,1928.3 L430.2,1932.1 L431.8,1935.8 L433.5,1939.3 L435.3,1942.7 L437.1,1946.0 L439.0,1949.1 L441.0,1952.0 L443.1,1954.8 L445.2,1957.5 L447.5,1960.1 L449.9,1962.6 L452.4,1965.0 L455.0,1967.3 L457.7,1969.4 L460.5,1971.5 L463.5,1973.5 L466.6,1975.4 L469.9,1977.2 L473.2,1978.9 L476.8,1980.6 L480.5,1982.2 L484.4,1983.7 L488.4,1985.2 L492.7,1986.5 L497.1,1987.9 L501.7,1989.2 L506.6,1990.4 L511.6,1991.5 L516.9,1992.6 L522.4,1993.7 L528.2,1994.7 L534.3,1995.7" stroke="#a3cdf0" stroke-width="8" fill="none" stroke-linecap="round" stroke-linejoin="round"/><path d="M420.1,1897.5 L421.1,1902.3 L422.2,1906.9 L423.3,1911.3 L424.5,1915.6 L425.7,1919.6 L427.0,1923.5 L428.4,1927.3 L429.7,1930.9 L431.2,1934.3 L432.7,1937.6 L434.2,1940.8 L435.9,1943.9 L437.6,1946.8 L439.3,1949.6 L441.2,1952.3 L443.1,1954.9 L445.1,1957.4 L447.2,1959.8 L449.4,1962.1 L451.6,1964.3 L454.0,1966.4 L456.4,1968.4 L459.0,1970.4 L461.6,1972.3 L464.4,1974.0 L467.3,1975.8 L470.3,1977.4 L473.4,1979.0 L476.7,1980.5 L480.1,1982.0 L483.6,1983.4 L487.3,1984.8 L491.2,1986.1 L495.2,1987.3 L499.3,1988.5 L503.7,1989.7 L508.2,1990.8 L512.9,1991.8 L517.8,1992.8 L522.9,1993.8" stroke="#a3cdf0" stroke-width="12" fill="none" stroke-linecap="round" stroke-linejoin="round"/><path d="M423.5,1911.9 L424.5,1915.4 L425.5,1918.8 L426.6,1922.1 L427.6,1925.3 L428.8,1928.4 L429.9,1931.3 L431.1,1934.2 L432.4,1937.0 L433.7,1939.7 L435.0,1942.3 L436.4,1944.8 L437.8,1947.2 L439.3,1949.5 L440.8,1951.8 L442.4,1954.0 L444.0,1956.1 L445.7,1958.1 L447.5,1960.1 L449.3,1962.0 L451.2,1963.9 L453.1,1965.7 L455.1,1967.4 L457.2,1969.1 L459.4,1970.7 L461.6,1972.2 L463.9,1973.7 L466.3,1975.2 L468.7,1976.6 L471.3,1977.9 L473.9,1979.3 L476.6,1980.5 L479.5,1981.8 L482.4,1982.9 L485.4,1984.1 L488.5,1985.2 L491.8,1986.3 L495.1,1987.3 L498.6,1988.3 L502.2,1989.3 L505.9,1990.2" stroke="#a3cdf0" stroke-width="15" fill="none" stroke-linecap="round" stroke-linejoin="round"/><path d="M428.0,1926.4 L428.9,1928.8 L429.8,1931.0 L430.7,1933.3 L431.7,1935.4 L432.6,1937.5 L433.6,1939.6 L434.7,1941.6 L435.7,1943.6 L436.8,1945.5 L437.9,1947.3 L439.0,1949.1 L440.2,1950.9 L441.4,1952.6 L442.6,1954.2 L443.9,1955.9 L445.1,1957.4 L446.5,1959.0 L447.8,1960.5 L449.2,1962.0 L450.7,1963.4 L452.1,1964.8 L453.6,1966.1 L455.2,1967.4 L456.8,1968.7 L458.4,1970.0 L460.1,1971.2 L461.8,1972.4 L463.6,1973.5 L465.4,1974.7 L467.3,1975.8 L469.2,1976.8 L471.1,1977.9 L473.1,1978.9 L475.2,1979.9 L477.3,1980.8 L479.5,1981.8 L481.8,1982.7 L484.0,1983.6 L486.4,1984.4 L488.8,1985.3" stroke="#a3cdf0" stroke-width="17.5" fill="none" stroke-linecap="round" stroke-linejoin="round"/><path d="M421.2,1902.7 L422.3,1907.2 L423.4,1911.5 L424.5,1915.6 L425.7,1919.5 L427.0,1923.3 L428.3,1927.0 L429.6,1930.5 L431.0,1933.9 L432.4,1937.1 L434.0,1940.2 L435.5,1943.2 L437.2,1946.1 L438.9,1948.9 L440.6,1951.5 L442.5,1954.1 L444.4,1956.5 L446.4,1958.9 L448.5,1961.2 L450.6,1963.4 L452.9,1965.4 L455.2,1967.5 L457.7,1969.4 L460.2,1971.3 L462.8,1973.0 L465.6,1974.8 L468.4,1976.4 L471.4,1978.0 L474.5,1979.5 L477.7,1981.0 L481.0,1982.4 L484.5,1983.8 L488.1,1985.1 L491.9,1986.3 L495.8,1987.5 L499.9,1988.7 L504.1,1989.8 L508.6,1990.8 L513.1,1991.9 L517.9,1992.9 L522.9,1993.8" stroke="#7ab6e5" stroke-width="5.5" fill="none" stroke-linecap="round" stroke-linejoin="round"/><path d="M426.3,1921.5 L427.3,1924.3 L428.3,1927.1 L429.3,1929.8 L430.4,1932.4 L431.5,1934.9 L432.6,1937.4 L433.7,1939.8 L434.9,1942.1 L436.1,1944.3 L437.4,1946.5 L438.7,1948.6 L440.1,1950.7 L441.4,1952.7 L442.9,1954.6 L444.3,1956.5 L445.8,1958.3 L447.4,1960.0 L449.0,1961.7 L450.7,1963.4 L452.4,1965.0 L454.2,1966.6 L456.0,1968.1 L457.9,1969.5 L459.8,1971.0 L461.8,1972.3 L463.8,1973.7 L465.9,1975.0 L468.1,1976.2 L470.4,1977.5 L472.7,1978.7 L475.1,1979.8 L477.5,1980.9 L480.1,1982.0 L482.7,1983.1 L485.4,1984.1 L488.2,1985.1 L491.0,1986.0 L494.0,1987.0 L497.0,1987.9 L500.2,1988.7" stroke="#62a3d6" stroke-width="8.5" fill="none" stroke-linecap="round" stroke-linejoin="round"/><path d="M432.6,1937.4 L433.4,1939.0 L434.2,1940.6 L435.0,1942.2 L435.8,1943.7 L436.6,1945.2 L437.5,1946.7 L438.4,1948.1 L439.3,1949.5 L440.2,1950.9 L441.1,1952.2 L442.1,1953.5 L443.1,1954.8 L444.1,1956.1 L445.1,1957.4 L446.1,1958.6 L447.2,1959.8 L448.2,1960.9 L449.3,1962.1 L450.5,1963.2 L451.6,1964.3 L452.8,1965.4 L454.0,1966.4 L455.2,1967.4 L456.5,1968.5 L457.7,1969.4 L459.0,1970.4 L460.3,1971.4 L461.7,1972.3 L463.1,1973.2 L464.5,1974.1 L465.9,1975.0 L467.4,1975.8 L468.9,1976.7 L470.4,1977.5 L472.0,1978.3 L473.6,1979.1 L475.2,1979.9 L476.9,1980.6 L478.6,1981.4 L480.3,1982.1" stroke="#5c9ace" stroke-width="10.5" fill="none" stroke-linecap="round" stroke-linejoin="round"/><path d="M437.1,1946.1 L437.8,1947.2 L438.5,1948.2 L439.1,1949.3 L439.8,1950.3 L440.5,1951.4 L441.3,1952.4 L442.0,1953.4 L442.7,1954.4 L443.5,1955.4 L444.2,1956.3 L445.0,1957.3 L445.8,1958.2 L446.6,1959.1 L447.4,1960.0 L448.2,1960.9 L449.0,1961.7 L449.9,1962.6 L450.7,1963.5 L451.6,1964.3 L452.5,1965.1 L453.4,1965.9 L454.3,1966.7 L455.2,1967.5 L456.2,1968.2 L457.1,1969.0 L458.1,1969.7 L459.1,1970.5 L460.1,1971.2 L461.1,1971.9 L462.2,1972.6 L463.2,1973.3 L464.3,1974.0 L465.4,1974.7 L466.5,1975.3 L467.6,1976.0 L468.7,1976.6 L469.9,1977.2 L471.1,1977.8 L472.3,1978.4 L473.5,1979.0" stroke="#7c8896" stroke-width="4.5" fill="none" stroke-linecap="round" stroke-linejoin="round" opacity=".85"/><path d="M372.8,2151.5 L371.8,2145.3 L370.6,2139.3 L369.4,2133.7 L368.2,2128.3 L366.9,2123.1 L365.5,2118.2 L364.1,2113.5 L362.5,2109.1 L361.0,2104.8 L359.3,2100.7 L357.6,2096.9 L355.7,2093.2 L353.8,2089.6 L351.8,2086.3 L349.7,2083.1 L347.5,2080.0 L345.2,2077.1 L342.8,2074.3 L340.2,2071.7 L337.5,2069.2 L334.7,2066.7 L331.8,2064.4 L328.7,2062.3 L325.5,2060.2 L322.1,2058.2 L318.6,2056.3 L314.8,2054.5 L310.9,2052.7 L306.8,2051.1 L302.5,2049.5 L298.0,2048.0 L293.3,2046.6 L288.4,2045.2 L283.2,2043.9 L277.7,2042.7 L272.0,2041.5 L266.0,2040.4 L259.8,2039.3 L253.2,2038.3 L246.3,2037.3" stroke="#a3cdf0" stroke-width="4.5" fill="none" stroke-linecap="round" stroke-linejoin="round"/><path d="M371.5,2144.1 L370.5,2138.6 L369.3,2133.3 L368.2,2128.2 L366.9,2123.4 L365.7,2118.8 L364.3,2114.4 L362.9,2110.2 L361.5,2106.1 L360.0,2102.3 L358.4,2098.6 L356.7,2095.1 L354.9,2091.7 L353.1,2088.4 L351.2,2085.3 L349.2,2082.4 L347.1,2079.6 L345.0,2076.9 L342.7,2074.3 L340.3,2071.8 L337.8,2069.4 L335.2,2067.1 L332.5,2065.0 L329.7,2062.9 L326.7,2060.9 L323.6,2059.0 L320.3,2057.2 L317.0,2055.5 L313.4,2053.8 L309.7,2052.2 L305.8,2050.7 L301.8,2049.2 L297.5,2047.9 L293.1,2046.5 L288.5,2045.2 L283.6,2044.0 L278.6,2042.9 L273.3,2041.8 L267.8,2040.7 L262.0,2039.7 L255.9,2038.7" stroke="#a3cdf0" stroke-width="8" fill="none" stroke-linecap="round" stroke-linejoin="round"/><path d="M370.1,2136.9 L369.1,2132.1 L368.0,2127.5 L366.9,2123.1 L365.7,2118.8 L364.5,2114.8 L363.2,2110.9 L361.8,2107.1 L360.5,2103.5 L359.0,2100.1 L357.5,2096.8 L356.0,2093.6 L354.3,2090.5 L352.6,2087.6 L350.9,2084.8 L349.0,2082.1 L347.1,2079.5 L345.1,2077.0 L343.0,2074.6 L340.8,2072.3 L338.6,2070.1 L336.2,2068.0 L333.8,2066.0 L331.2,2064.0 L328.6,2062.1 L325.8,2060.4 L322.9,2058.6 L319.9,2057.0 L316.8,2055.4 L313.5,2053.9 L310.1,2052.4 L306.6,2051.0 L302.9,2049.6 L299.0,2048.3 L295.0,2047.1 L290.9,2045.9 L286.5,2044.7 L282.0,2043.6 L277.3,2042.6 L272.4,2041.6 L267.3,2040.6" stroke="#a3cdf0" stroke-width="12" fill="none" stroke-linecap="round" stroke-linejoin="round"/><path d="M366.7,2122.5 L365.7,2119.0 L364.7,2115.6 L363.6,2112.3 L362.6,2109.1 L361.4,2106.0 L360.3,2103.1 L359.1,2100.2 L357.8,2097.4 L356.5,2094.7 L355.2,2092.1 L353.8,2089.6 L352.4,2087.2 L350.9,2084.9 L349.4,2082.6 L347.8,2080.4 L346.2,2078.3 L344.5,2076.3 L342.7,2074.3 L340.9,2072.4 L339.0,2070.5 L337.1,2068.7 L335.1,2067.0 L333.0,2065.3 L330.8,2063.7 L328.6,2062.2 L326.3,2060.7 L323.9,2059.2 L321.5,2057.8 L318.9,2056.5 L316.3,2055.1 L313.6,2053.9 L310.7,2052.6 L307.8,2051.5 L304.8,2050.3 L301.7,2049.2 L298.4,2048.1 L295.1,2047.1 L291.6,2046.1 L288.0,2045.1 L284.3,2044.2" stroke="#a3cdf0" stroke-width="15" fill="none" stroke-linecap="round" stroke-linejoin="round"/><path d="M362.2,2108.0 L361.3,2105.6 L360.4,2103.4 L359.5,2101.1 L358.5,2099.0 L357.6,2096.9 L356.6,2094.8 L355.5,2092.8 L354.5,2090.8 L353.4,2088.9 L352.3,2087.1 L351.2,2085.3 L350.0,2083.5 L348.8,2081.8 L347.6,2080.2 L346.3,2078.5 L345.1,2077.0 L343.7,2075.4 L342.4,2073.9 L341.0,2072.4 L339.5,2071.0 L338.1,2069.6 L336.6,2068.3 L335.0,2067.0 L333.4,2065.7 L331.8,2064.4 L330.1,2063.2 L328.4,2062.0 L326.6,2060.9 L324.8,2059.7 L322.9,2058.6 L321.0,2057.6 L319.1,2056.5 L317.1,2055.5 L315.0,2054.5 L312.9,2053.6 L310.7,2052.6 L308.4,2051.7 L306.2,2050.8 L303.8,2050.0 L301.4,2049.1" stroke="#a3cdf0" stroke-width="17.5" fill="none" stroke-linecap="round" stroke-linejoin="round"/><path d="M369.0,2131.7 L367.9,2127.2 L366.8,2122.9 L365.7,2118.8 L364.5,2114.9 L363.2,2111.1 L361.9,2107.4 L360.6,2103.9 L359.2,2100.5 L357.8,2097.3 L356.2,2094.2 L354.7,2091.2 L353.0,2088.3 L351.3,2085.5 L349.6,2082.9 L347.7,2080.3 L345.8,2077.9 L343.8,2075.5 L341.7,2073.2 L339.6,2071.0 L337.3,2069.0 L335.0,2066.9 L332.5,2065.0 L330.0,2063.1 L327.4,2061.4 L324.6,2059.6 L321.8,2058.0 L318.8,2056.4 L315.7,2054.9 L312.5,2053.4 L309.2,2052.0 L305.7,2050.6 L302.1,2049.3 L298.3,2048.1 L294.4,2046.9 L290.3,2045.7 L286.1,2044.6 L281.6,2043.6 L277.1,2042.5 L272.3,2041.5 L267.3,2040.6" stroke="#7ab6e5" stroke-width="5.5" fill="none" stroke-linecap="round" stroke-linejoin="round"/><path d="M363.9,2112.9 L362.9,2110.1 L361.9,2107.3 L360.9,2104.6 L359.8,2102.0 L358.7,2099.5 L357.6,2097.0 L356.5,2094.6 L355.3,2092.3 L354.1,2090.1 L352.8,2087.9 L351.5,2085.8 L350.1,2083.7 L348.8,2081.7 L347.3,2079.8 L345.9,2077.9 L344.4,2076.1 L342.8,2074.4 L341.2,2072.7 L339.5,2071.0 L337.8,2069.4 L336.0,2067.8 L334.2,2066.3 L332.3,2064.9 L330.4,2063.4 L328.4,2062.1 L326.4,2060.7 L324.3,2059.4 L322.1,2058.2 L319.8,2056.9 L317.5,2055.7 L315.1,2054.6 L312.7,2053.5 L310.1,2052.4 L307.5,2051.3 L304.8,2050.3 L302.0,2049.3 L299.2,2048.4 L296.2,2047.4 L293.2,2046.5 L290.0,2045.7" stroke="#62a3d6" stroke-width="8.5" fill="none" stroke-linecap="round" stroke-linejoin="round"/><path d="M357.6,2097.0 L356.8,2095.4 L356.0,2093.8 L355.2,2092.2 L354.4,2090.7 L353.6,2089.2 L352.7,2087.7 L351.8,2086.3 L350.9,2084.9 L350.0,2083.5 L349.1,2082.2 L348.1,2080.9 L347.1,2079.6 L346.1,2078.3 L345.1,2077.0 L344.1,2075.8 L343.0,2074.6 L342.0,2073.5 L340.9,2072.3 L339.7,2071.2 L338.6,2070.1 L337.4,2069.0 L336.2,2068.0 L335.0,2067.0 L333.7,2065.9 L332.5,2065.0 L331.2,2064.0 L329.9,2063.0 L328.5,2062.1 L327.1,2061.2 L325.7,2060.3 L324.3,2059.4 L322.8,2058.6 L321.3,2057.7 L319.8,2056.9 L318.2,2056.1 L316.6,2055.3 L315.0,2054.5 L313.3,2053.8 L311.6,2053.0 L309.9,2052.3" stroke="#5c9ace" stroke-width="10.5" fill="none" stroke-linecap="round" stroke-linejoin="round"/><path d="M353.1,2088.3 L352.4,2087.2 L351.7,2086.2 L351.1,2085.1 L350.4,2084.1 L349.7,2083.0 L348.9,2082.0 L348.2,2081.0 L347.5,2080.0 L346.7,2079.0 L346.0,2078.1 L345.2,2077.1 L344.4,2076.2 L343.6,2075.3 L342.8,2074.4 L342.0,2073.5 L341.2,2072.7 L340.3,2071.8 L339.5,2070.9 L338.6,2070.1 L337.7,2069.3 L336.8,2068.5 L335.9,2067.7 L335.0,2066.9 L334.0,2066.2 L333.1,2065.4 L332.1,2064.7 L331.1,2063.9 L330.1,2063.2 L329.1,2062.5 L328.0,2061.8 L327.0,2061.1 L325.9,2060.4 L324.8,2059.7 L323.7,2059.1 L322.6,2058.4 L321.5,2057.8 L320.3,2057.2 L319.1,2056.6 L317.9,2056.0 L316.7,2055.4" stroke="#7c8896" stroke-width="4.5" fill="none" stroke-linecap="round" stroke-linejoin="round" opacity=".85"/><path d="M415.9,1873.3 L417.0,1880.5 L418.1,1887.2 L419.3,1893.7 L420.6,1899.8 L421.9,1905.6 L423.3,1911.1 L424.8,1916.4 L426.3,1921.4 L427.9,1926.1 L429.6,1930.6 L431.4,1934.9 L433.3,1939.0 L435.3,1942.9 L437.4,1946.5 L439.6,1950.0 L441.9,1953.4 L444.4,1956.5 L447.0,1959.5 L449.7,1962.4 L452.5,1965.1 L455.5,1967.7 L458.6,1970.1 L461.9,1972.5 L465.4,1974.7 L469.1,1976.8 L472.9,1978.8 L477.0,1980.7 L481.3,1982.5 L485.8,1984.2 L490.5,1985.8 L495.4,1987.4 L500.7,1988.9 L506.2,1990.3 L512.0,1991.6 L518.0,1992.9 L524.4,1994.1 L531.2,1995.2 L538.3,1996.3 L545.7,1997.3 L553.6,1998.3" fill="none" stroke="#6b9a50" stroke-width="2.1" stroke-dasharray="7.6 4.2"/><path d="M374.3,2161.1 L373.2,2153.9 L372.1,2147.2 L370.9,2140.7 L369.6,2134.6 L368.3,2128.8 L366.9,2123.3 L365.4,2118.0 L363.9,2113.0 L362.3,2108.3 L360.6,2103.8 L358.8,2099.5 L356.9,2095.4 L354.9,2091.5 L352.8,2087.9 L350.6,2084.4 L348.3,2081.0 L345.8,2077.9 L343.2,2074.9 L340.5,2072.0 L337.7,2069.3 L334.7,2066.7 L331.6,2064.3 L328.3,2061.9 L324.8,2059.7 L321.1,2057.6 L317.3,2055.6 L313.2,2053.7 L308.9,2051.9 L304.4,2050.2 L299.7,2048.6 L294.8,2047.0 L289.5,2045.5 L284.0,2044.1 L278.2,2042.8 L272.2,2041.5 L265.8,2040.3 L259.0,2039.2 L251.9,2038.1 L244.5,2037.1 L236.6,2036.1" fill="none" stroke="#6b9a50" stroke-width="2.1" stroke-dasharray="7.6 4.2"/><circle cx="451.9" cy="1964.5" r="2.4" fill="#bf1f3e"/><line x1="686.5" x2="686.5" y1="1870" y2="2164" stroke="#e2e2e2" stroke-width=".85"/><line x1="788.6" x2="788.6" y1="1870" y2="2164" stroke="#e2e2e2" stroke-width=".85"/><line x1="890.7" x2="890.7" y1="1870" y2="2164" stroke="#e2e2e2" stroke-width=".85"/><line x1="630.5" x2="947.5" y1="2112.8" y2="2112.8" stroke="#e2e2e2" stroke-width=".85"/><line x1="630.5" x2="947.5" y1="2017.4" y2="2017.4" stroke="#e2e2e2" stroke-width=".85"/><line x1="630.5" x2="947.5" y1="1922.0" y2="1922.0" stroke="#e2e2e2" stroke-width=".85"/><g transform="rotate(-38 837.6 1971.1)"><ellipse cx="837.6" cy="1971.1" rx="15" ry="8.2" fill="#a3cdf0"/><ellipse cx="837.6" cy="1971.1" rx="10.5" ry="5" fill="#6aaade"/><ellipse cx="837.6" cy="1971.1" rx="6" ry="2.6" fill="#7c8896"/></g><g transform="rotate(-38 739.6 2063.7)"><ellipse cx="739.6" cy="2063.7" rx="15" ry="8.2" fill="#a3cdf0"/><ellipse cx="739.6" cy="2063.7" rx="10.5" ry="5" fill="#6aaade"/><ellipse cx="739.6" cy="2063.7" rx="6" ry="2.6" fill="#7c8896"/></g><path d="M805.2,1870.6 L806.2,1878.7 L807.2,1886.3 L808.3,1893.5 L809.4,1900.3 L810.6,1906.7 L811.9,1912.8 L813.2,1918.5 L814.7,1924.0 L816.2,1929.1 L817.8,1934.0 L819.5,1938.5 L821.3,1942.9 L823.2,1947.0 L825.2,1950.8 L827.3,1954.5 L829.5,1957.9 L831.9,1961.2 L834.4,1964.3 L837.1,1967.2 L839.9,1970.0 L842.9,1972.6 L846.1,1975.0 L849.4,1977.3 L852.9,1979.5 L856.7,1981.6 L860.6,1983.6 L864.8,1985.4 L869.2,1987.2 L873.9,1988.9 L878.9,1990.4 L884.1,1991.9 L889.7,1993.3 L895.5,1994.6 L901.7,1995.9 L908.3,1997.1 L915.3,1998.2 L922.6,1999.2 L930.4,2000.2 L938.6,2001.2 L947.4,2002.1" fill="none" stroke="#6b9a50" stroke-width="2.1" stroke-dasharray="7.6 4.2"/><path d="M772.0,2164.2 L771.0,2156.1 L770.0,2148.5 L768.9,2141.3 L767.8,2134.5 L766.6,2128.1 L765.3,2122.0 L764.0,2116.3 L762.5,2110.8 L761.0,2105.7 L759.4,2100.8 L757.7,2096.3 L755.9,2091.9 L754.0,2087.8 L752.0,2084.0 L749.9,2080.3 L747.7,2076.9 L745.3,2073.6 L742.8,2070.5 L740.1,2067.6 L737.3,2064.8 L734.3,2062.2 L731.1,2059.8 L727.8,2057.5 L724.3,2055.3 L720.5,2053.2 L716.6,2051.2 L712.4,2049.4 L708.0,2047.6 L703.3,2045.9 L698.3,2044.4 L693.1,2042.9 L687.5,2041.5 L681.7,2040.2 L675.5,2038.9 L668.9,2037.7 L661.9,2036.6 L654.6,2035.6 L646.8,2034.6 L638.6,2033.6 L629.8,2032.7" fill="none" stroke="#6b9a50" stroke-width="2.1" stroke-dasharray="7.6 4.2"/><g fill="#c0203f" fill-opacity=".13" stroke="#bd1e3e" stroke-width="1.3"><ellipse cx="788.6" cy="2017.4" rx="9" ry="8.4" transform="rotate(0 788.6 2017.4)"/><ellipse cx="790.1" cy="2016.4" rx="10.5" ry="9.8" transform="rotate(37 788.6 2017.4)"/><ellipse cx="787.1" cy="2018.4" rx="11" ry="10.2" transform="rotate(74 788.6 2017.4)"/><ellipse cx="789.1" cy="2018.9" rx="7.5" ry="7.0" transform="rotate(111 788.6 2017.4)"/><ellipse cx="787.6" cy="2015.9" rx="8.5" ry="7.9" transform="rotate(148 788.6 2017.4)"/><ellipse cx="790.6" cy="2018.4" rx="12" ry="11.2" transform="rotate(185 788.6 2017.4)"/><ellipse cx="788.6" cy="2017.4" rx="5.5" ry="5.1" transform="rotate(222 788.6 2017.4)"/><ellipse cx="788.1" cy="2017.9" rx="3.5" ry="3.3" transform="rotate(259 788.6 2017.4)"/></g><rect x="452.8" y="1821.8" width="214.6" height="65" rx="4.5" fill="#fff" fill-opacity=".85" stroke="#d4d4d4" stroke-width="1.1"/><circle cx="480" cy="1839.4" r="4.6" fill="#7db7dc" stroke="#6fa9d0" stroke-width=".8"/><circle cx="480" cy="1869.2" r="4.6" fill="#cb5a73" stroke="#bf4a64" stroke-width=".8"/></svg>
<svg style="left:0;top:0" width="2035" height="2880" viewBox="0 0 2035 2880"><line x1="267.7" x2="267.7" y1="2511.4" y2="2718.9" stroke="#f5f5f5" stroke-width=".6"/><line x1="285.1" x2="285.1" y1="2511.4" y2="2718.9" stroke="#f5f5f5" stroke-width=".6"/><line x1="297.5" x2="297.5" y1="2511.4" y2="2718.9" stroke="#f5f5f5" stroke-width=".6"/><line x1="307.1" x2="307.1" y1="2511.4" y2="2718.9" stroke="#f5f5f5" stroke-width=".6"/><line x1="314.9" x2="314.9" y1="2511.4" y2="2718.9" stroke="#f5f5f5" stroke-width=".6"/><line x1="321.5" x2="321.5" y1="2511.4" y2="2718.9" stroke="#f5f5f5" stroke-width=".6"/><line x1="327.3" x2="327.3" y1="2511.4" y2="2718.9" stroke="#f5f5f5" stroke-width=".6"/><line x1="332.3" x2="332.3" y1="2511.4" y2="2718.9" stroke="#f5f5f5" stroke-width=".6"/><line x1="366.6" x2="366.6" y1="2511.4" y2="2718.9" stroke="#f5f5f5" stroke-width=".6"/><line x1="384.1" x2="384.1" y1="2511.4" y2="2718.9" stroke="#f5f5f5" stroke-width=".6"/><line x1="396.4" x2="396.4" y1="2511.4" y2="2718.9" stroke="#f5f5f5" stroke-width=".6"/><line x1="406.0" x2="406.0" y1="2511.4" y2="2718.9" stroke="#f5f5f5" stroke-width=".6"/><line x1="413.8" x2="413.8" y1="2511.4" y2="2718.9" stroke="#f5f5f5" stroke-width=".6"/><line x1="420.5" x2="420.5" y1="2511.4" y2="2718.9" stroke="#f5f5f5" stroke-width=".6"/><line x1="426.2" x2="426.2" y1="2511.4" y2="2718.9" stroke="#f5f5f5" stroke-width=".6"/><line x1="431.3" x2="431.3" y1="2511.4" y2="2718.9" stroke="#f5f5f5" stroke-width=".6"/><line x1="465.6" x2="465.6" y1="2511.4" y2="2718.9" stroke="#f5f5f5" stroke-width=".6"/><line x1="483.0" x2="483.0" y1="2511.4" y2="2718.9" stroke="#f5f5f5" stroke-width=".6"/><line x1="495.4" x2="495.4" y1="2511.4" y2="2718.9" stroke="#f5f5f5" stroke-width=".6"/><line x1="505.0" x2="505.0" y1="2511.4" y2="2718.9" stroke="#f5f5f5" stroke-width=".6"/><line x1="512.8" x2="512.8" y1="2511.4" y2="2718.9" stroke="#f5f5f5" stroke-width=".6"/><line x1="519.4" x2="519.4" y1="2511.4" y2="2718.9" stroke="#f5f5f5" stroke-width=".6"/><line x1="525.2" x2="525.2" y1="2511.4" y2="2718.9" stroke="#f5f5f5" stroke-width=".6"/><line x1="530.2" x2="530.2" y1="2511.4" y2="2718.9" stroke="#f5f5f5" stroke-width=".6"/><line x1="564.5" x2="564.5" y1="2511.4" y2="2718.9" stroke="#f5f5f5" stroke-width=".6"/><line x1="221.9" x2="580" y1="2533.8" y2="2533.8" stroke="#f5f5f5" stroke-width=".6"/><line x1="221.9" x2="580" y1="2581.2" y2="2581.2" stroke="#f5f5f5" stroke-width=".6"/><line x1="221.9" x2="580" y1="2628.5" y2="2628.5" stroke="#f5f5f5" stroke-width=".6"/><line x1="221.9" x2="580" y1="2675.9" y2="2675.9" stroke="#f5f5f5" stroke-width=".6"/><line x1="237.9" x2="237.9" y1="2511.4" y2="2718.9" stroke="#ebebeb" stroke-width="1.1"/><line x1="336.9" x2="336.9" y1="2511.4" y2="2718.9" stroke="#ebebeb" stroke-width="1.1"/><line x1="435.8" x2="435.8" y1="2511.4" y2="2718.9" stroke="#ebebeb" stroke-width="1.1"/><line x1="534.8" x2="534.8" y1="2511.4" y2="2718.9" stroke="#ebebeb" stroke-width="1.1"/><line x1="221.9" x2="580" y1="2557.5" y2="2557.5" stroke="#ebebeb" stroke-width="1.1"/><line x1="221.9" x2="580" y1="2604.8" y2="2604.8" stroke="#ebebeb" stroke-width="1.1"/><line x1="221.9" x2="580" y1="2652.2" y2="2652.2" stroke="#ebebeb" stroke-width="1.1"/><line x1="221.9" x2="580" y1="2699.6" y2="2699.6" stroke="#ebebeb" stroke-width="1.1"/><g fill="none" stroke="#4292c6" stroke-opacity=".8" stroke-width="2.6" stroke-linejoin="round"><path d="M237.9,2619.1 L267.7,2566.0 L285.1,2548.8 L297.5,2547.4 L307.1,2545.9 L314.9,2543.4 L321.5,2547.9 L327.3,2545.1 L336.9,2540.8 L344.7,2535.7 L351.3,2537.3 L359.7,2537.6 L366.6,2538.3 L376.2,2536.8 L384.1,2536.0 L396.4,2536.5 L406.0,2534.7 L417.3,2533.3 L426.2,2533.1 L435.8,2532.9 L447.1,2533.7 L458.6,2534.4 L469.7,2533.7 L483.0,2534.2 L495.4,2534.2 L509.1,2534.0 L522.4,2534.3 L534.8,2533.4 L549.2,2532.8 L564.5,2531.5"/><path d="M237.9,2621.4 L267.7,2570.5 L285.1,2561.3 L297.5,2554.7 L307.1,2554.1 L314.9,2556.2 L321.5,2546.1 L327.3,2540.4 L336.9,2538.7 L344.7,2539.5 L351.3,2542.0 L359.7,2543.6 L366.6,2544.6 L376.2,2545.5 L384.1,2544.5 L396.4,2544.3 L406.0,2543.1 L417.3,2543.2 L426.2,2541.9 L435.8,2541.2 L447.1,2542.5 L458.6,2542.9 L469.7,2541.5 L483.0,2541.4 L495.4,2540.1 L509.1,2540.5 L522.4,2541.5 L534.8,2540.8 L549.2,2540.0 L564.5,2540.5"/><path d="M237.9,2626.2 L267.7,2584.8 L285.1,2565.9 L297.5,2559.6 L307.1,2565.5 L314.9,2566.5 L321.5,2568.8 L327.3,2570.4 L336.9,2559.1 L344.7,2562.0 L351.3,2559.2 L359.7,2557.2 L366.6,2556.3 L376.2,2554.0 L384.1,2553.8 L396.4,2552.0 L406.0,2552.0 L417.3,2551.1 L426.2,2550.9 L435.8,2550.6 L447.1,2548.5 L458.6,2547.4 L469.7,2547.7 L483.0,2546.4 L495.4,2547.0 L509.1,2546.9 L522.4,2545.8 L534.8,2545.4 L549.2,2546.3 L564.5,2544.8"/><path d="M237.9,2628.5 L267.7,2586.1 L285.1,2569.7 L297.5,2568.3 L307.1,2567.8 L314.9,2570.5 L321.5,2571.4 L327.3,2564.2 L336.9,2564.3 L344.7,2558.7 L351.3,2557.6 L359.7,2556.2 L366.6,2554.1 L376.2,2553.3 L384.1,2552.5 L396.4,2550.9 L406.0,2551.4 L417.3,2551.5 L426.2,2549.9 L435.8,2548.9 L447.1,2549.3 L458.6,2549.7 L469.7,2548.6 L483.0,2547.3 L495.4,2548.0 L509.1,2546.7 L522.4,2545.8 L534.8,2545.9 L549.2,2546.2 L564.5,2547.1"/><path d="M237.9,2629.5 L267.7,2578.7 L285.1,2575.0 L297.5,2566.8 L307.1,2568.7 L314.9,2560.9 L321.5,2559.6 L327.3,2563.2 L336.9,2565.8 L344.7,2558.8 L351.3,2559.0 L359.7,2558.3 L366.6,2557.1 L376.2,2555.2 L384.1,2554.3 L396.4,2554.0 L406.0,2552.4 L417.3,2552.7 L426.2,2553.3 L435.8,2553.0 L447.1,2552.2 L458.6,2552.5 L469.7,2552.3 L483.0,2551.6 L495.4,2550.6 L509.1,2550.8 L522.4,2550.4 L534.8,2548.8 L549.2,2547.4 L564.5,2547.1"/><path d="M237.9,2640.4 L267.7,2582.0 L285.1,2576.7 L297.5,2576.6 L307.1,2576.7 L314.9,2562.9 L321.5,2558.2 L327.3,2551.3 L336.9,2560.9 L344.7,2556.6 L351.3,2556.1 L359.7,2554.8 L366.6,2554.9 L376.2,2553.0 L384.1,2553.8 L396.4,2552.9 L406.0,2551.9 L417.3,2550.6 L426.2,2550.1 L435.8,2549.7 L447.1,2549.1 L458.6,2548.3 L469.7,2549.0 L483.0,2548.6 L495.4,2547.8 L509.1,2547.2 L522.4,2547.8 L534.8,2547.4 L549.2,2546.8 L564.5,2547.0"/><path d="M237.9,2642.7 L267.7,2588.1 L285.1,2574.7 L297.5,2568.1 L307.1,2572.4 L314.9,2565.9 L321.5,2556.6 L327.3,2553.0 L336.9,2552.3 L344.7,2556.9 L351.3,2556.5 L359.7,2556.3 L366.6,2556.4 L376.2,2555.2 L384.1,2556.1 L396.4,2554.8 L406.0,2555.6 L417.3,2554.7 L426.2,2554.3 L435.8,2554.5 L447.1,2553.4 L458.6,2553.0 L469.7,2552.5 L483.0,2551.3 L495.4,2551.9 L509.1,2552.8 L522.4,2552.7 L534.8,2551.8 L549.2,2552.1 L564.5,2552.4"/><path d="M237.9,2649.8 L267.7,2584.2 L285.1,2574.5 L297.5,2563.7 L307.1,2566.2 L314.9,2562.1 L321.5,2566.6 L327.3,2565.3 L336.9,2558.0 L344.7,2552.1 L351.3,2552.9 L359.7,2554.3 L366.6,2554.8 L376.2,2555.4 L384.1,2556.2 L396.4,2555.6 L406.0,2554.5 L417.3,2553.5 L426.2,2553.1 L435.8,2552.1 L447.1,2552.9 L458.6,2553.6 L469.7,2553.4 L483.0,2553.6 L495.4,2553.8 L509.1,2553.4 L522.4,2552.6 L534.8,2552.3 L549.2,2552.5 L564.5,2551.3"/><path d="M237.9,2650.8 L267.7,2587.8 L285.1,2582.4 L297.5,2581.4 L307.1,2568.1 L314.9,2573.0 L321.5,2565.3 L327.3,2562.9 L336.9,2564.7 L344.7,2558.1 L351.3,2559.4 L359.7,2559.7 L366.6,2559.2 L376.2,2559.5 L384.1,2557.9 L396.4,2557.7 L406.0,2557.9 L417.3,2558.0 L426.2,2556.8 L435.8,2556.3 L447.1,2555.4 L458.6,2554.6 L469.7,2553.7 L483.0,2552.6 L495.4,2552.4 L509.1,2553.3 L522.4,2553.3 L534.8,2553.9 L549.2,2554.7 L564.5,2554.1"/><path d="M237.9,2656.9 L267.7,2598.7 L285.1,2587.6 L297.5,2581.7 L307.1,2573.0 L314.9,2570.5 L321.5,2567.4 L327.3,2563.2 L336.9,2565.4 L344.7,2560.4 L351.3,2560.1 L359.7,2561.5 L366.6,2560.4 L376.2,2559.8 L384.1,2560.8 L396.4,2560.3 L406.0,2559.5 L417.3,2558.2 L426.2,2558.5 L435.8,2558.1 L447.1,2557.1 L458.6,2556.4 L469.7,2555.5 L483.0,2555.9 L495.4,2555.7 L509.1,2556.5 L522.4,2555.8 L534.8,2555.1 L549.2,2554.9 L564.5,2554.5"/><path d="M237.9,2664.0 L267.7,2598.4 L285.1,2580.0 L297.5,2571.1 L307.1,2572.6 L314.9,2569.2 L321.5,2573.9 L327.3,2567.2 L336.9,2563.1 L344.7,2568.2 L351.3,2568.9 L359.7,2568.1 L366.6,2567.3 L376.2,2565.8 L384.1,2565.3 L396.4,2565.4 L406.0,2563.8 L417.3,2564.1 L426.2,2562.6 L435.8,2562.9 L447.1,2562.5 L458.6,2561.1 L469.7,2561.5 L483.0,2561.6 L495.4,2560.7 L509.1,2559.6 L522.4,2558.4 L534.8,2557.9 L549.2,2556.8 L564.5,2557.1"/><path d="M237.9,2666.4 L267.7,2602.4 L285.1,2591.0 L297.5,2581.6 L307.1,2579.9 L314.9,2572.0 L321.5,2568.7 L327.3,2568.3 L336.9,2562.2 L344.7,2563.0 L351.3,2563.9 L359.7,2564.0 L366.6,2563.0 L376.2,2561.8 L384.1,2562.6 L396.4,2561.2 L406.0,2560.1 L417.3,2560.1 L426.2,2560.0 L435.8,2560.6 L447.1,2560.2 L458.6,2559.9 L469.7,2559.4 L483.0,2560.2 L495.4,2558.7 L509.1,2558.5 L522.4,2558.6 L534.8,2557.7 L549.2,2557.6 L564.5,2557.6"/><path d="M237.9,2671.1 L267.7,2608.6 L285.1,2591.4 L297.5,2585.3 L307.1,2573.6 L314.9,2567.2 L321.5,2573.3 L327.3,2573.2 L336.9,2577.2 L344.7,2574.6 L351.3,2571.7 L359.7,2569.2 L366.6,2568.3 L376.2,2567.7 L384.1,2567.5 L396.4,2565.9 L406.0,2564.2 L417.3,2564.6 L426.2,2563.3 L435.8,2564.1 L447.1,2564.1 L458.6,2563.9 L469.7,2562.6 L483.0,2562.5 L495.4,2562.2 L509.1,2561.4 L522.4,2561.9 L534.8,2560.8 L549.2,2561.3 L564.5,2560.7"/><path d="M237.9,2675.9 L267.7,2615.8 L285.1,2598.5 L297.5,2591.7 L307.1,2588.6 L314.9,2585.9 L321.5,2582.1 L327.3,2585.2 L336.9,2584.9 L344.7,2577.9 L351.3,2575.8 L359.7,2574.1 L366.6,2572.1 L376.2,2570.8 L384.1,2569.2 L396.4,2569.0 L406.0,2567.7 L417.3,2566.4 L426.2,2565.3 L435.8,2565.6 L447.1,2565.7 L458.6,2564.2 L469.7,2564.7 L483.0,2563.1 L495.4,2562.2 L509.1,2563.1 L522.4,2563.5 L534.8,2562.5 L549.2,2562.9 L564.5,2563.4"/><path d="M237.9,2678.2 L267.7,2595.9 L285.1,2575.2 L297.5,2575.6 L307.1,2571.5 L314.9,2564.6 L321.5,2570.4 L327.3,2570.5 L336.9,2562.0 L344.7,2553.5 L351.3,2553.0 L359.7,2554.1 L366.6,2554.0 L376.2,2552.9 L384.1,2552.7 L396.4,2551.6 L406.0,2552.1 L417.3,2552.4 L426.2,2552.5 L435.8,2552.7 L447.1,2551.4 L458.6,2550.5 L469.7,2549.7 L483.0,2549.9 L495.4,2550.0 L509.1,2549.8 L522.4,2548.3 L534.8,2546.8 L549.2,2545.8 L564.5,2546.9"/></g><path d="M237.9,2528.3 L267.7,2525.9 L285.1,2525.4 L297.5,2524.8 L307.1,2524.9 L314.9,2524.7 L321.5,2524.6 L327.3,2524.5 L336.9,2524.2 L344.7,2524.7 L351.3,2524.4 L359.7,2524.1 L366.6,2524.0 L376.2,2523.9 L384.1,2523.7 L396.4,2523.6 L406.0,2523.6 L417.3,2523.6 L426.2,2523.5 L435.8,2523.5 L447.1,2523.4 L458.6,2523.3 L469.7,2523.2 L483.0,2523.1 L495.4,2523.1 L509.1,2523.2 L522.4,2523.1 L534.8,2523.1 L549.2,2523.1 L564.5,2523.0" fill="none" stroke="#c9405e" stroke-width="2.3"/><line x1="634.1" x2="634.1" y1="2511.4" y2="2718.9" stroke="#f5f5f5" stroke-width=".6"/><line x1="651.6" x2="651.6" y1="2511.4" y2="2718.9" stroke="#f5f5f5" stroke-width=".6"/><line x1="663.9" x2="663.9" y1="2511.4" y2="2718.9" stroke="#f5f5f5" stroke-width=".6"/><line x1="673.5" x2="673.5" y1="2511.4" y2="2718.9" stroke="#f5f5f5" stroke-width=".6"/><line x1="681.4" x2="681.4" y1="2511.4" y2="2718.9" stroke="#f5f5f5" stroke-width=".6"/><line x1="688.0" x2="688.0" y1="2511.4" y2="2718.9" stroke="#f5f5f5" stroke-width=".6"/><line x1="693.8" x2="693.8" y1="2511.4" y2="2718.9" stroke="#f5f5f5" stroke-width=".6"/><line x1="698.8" x2="698.8" y1="2511.4" y2="2718.9" stroke="#f5f5f5" stroke-width=".6"/><line x1="733.2" x2="733.2" y1="2511.4" y2="2718.9" stroke="#f5f5f5" stroke-width=".6"/><line x1="750.6" x2="750.6" y1="2511.4" y2="2718.9" stroke="#f5f5f5" stroke-width=".6"/><line x1="763.0" x2="763.0" y1="2511.4" y2="2718.9" stroke="#f5f5f5" stroke-width=".6"/><line x1="772.6" x2="772.6" y1="2511.4" y2="2718.9" stroke="#f5f5f5" stroke-width=".6"/><line x1="780.5" x2="780.5" y1="2511.4" y2="2718.9" stroke="#f5f5f5" stroke-width=".6"/><line x1="787.1" x2="787.1" y1="2511.4" y2="2718.9" stroke="#f5f5f5" stroke-width=".6"/><line x1="792.8" x2="792.8" y1="2511.4" y2="2718.9" stroke="#f5f5f5" stroke-width=".6"/><line x1="797.9" x2="797.9" y1="2511.4" y2="2718.9" stroke="#f5f5f5" stroke-width=".6"/><line x1="832.3" x2="832.3" y1="2511.4" y2="2718.9" stroke="#f5f5f5" stroke-width=".6"/><line x1="849.7" x2="849.7" y1="2511.4" y2="2718.9" stroke="#f5f5f5" stroke-width=".6"/><line x1="862.1" x2="862.1" y1="2511.4" y2="2718.9" stroke="#f5f5f5" stroke-width=".6"/><line x1="871.7" x2="871.7" y1="2511.4" y2="2718.9" stroke="#f5f5f5" stroke-width=".6"/><line x1="879.5" x2="879.5" y1="2511.4" y2="2718.9" stroke="#f5f5f5" stroke-width=".6"/><line x1="886.2" x2="886.2" y1="2511.4" y2="2718.9" stroke="#f5f5f5" stroke-width=".6"/><line x1="891.9" x2="891.9" y1="2511.4" y2="2718.9" stroke="#f5f5f5" stroke-width=".6"/><line x1="897.0" x2="897.0" y1="2511.4" y2="2718.9" stroke="#f5f5f5" stroke-width=".6"/><line x1="931.3" x2="931.3" y1="2511.4" y2="2718.9" stroke="#f5f5f5" stroke-width=".6"/><line x1="588.9" x2="947.4" y1="2533.8" y2="2533.8" stroke="#f5f5f5" stroke-width=".6"/><line x1="588.9" x2="947.4" y1="2581.2" y2="2581.2" stroke="#f5f5f5" stroke-width=".6"/><line x1="588.9" x2="947.4" y1="2628.5" y2="2628.5" stroke="#f5f5f5" stroke-width=".6"/><line x1="588.9" x2="947.4" y1="2675.9" y2="2675.9" stroke="#f5f5f5" stroke-width=".6"/><line x1="604.3" x2="604.3" y1="2511.4" y2="2718.9" stroke="#ebebeb" stroke-width="1.1"/><line x1="703.4" x2="703.4" y1="2511.4" y2="2718.9" stroke="#ebebeb" stroke-width="1.1"/><line x1="802.4" x2="802.4" y1="2511.4" y2="2718.9" stroke="#ebebeb" stroke-width="1.1"/><line x1="901.5" x2="901.5" y1="2511.4" y2="2718.9" stroke="#ebebeb" stroke-width="1.1"/><line x1="588.9" x2="947.4" y1="2557.5" y2="2557.5" stroke="#ebebeb" stroke-width="1.1"/><line x1="588.9" x2="947.4" y1="2604.8" y2="2604.8" stroke="#ebebeb" stroke-width="1.1"/><line x1="588.9" x2="947.4" y1="2652.2" y2="2652.2" stroke="#ebebeb" stroke-width="1.1"/><line x1="588.9" x2="947.4" y1="2699.6" y2="2699.6" stroke="#ebebeb" stroke-width="1.1"/><g fill="none" stroke="#4292c6" stroke-opacity=".8" stroke-width="2.6" stroke-linejoin="round"><path d="M604.3,2612.0 L634.1,2560.4 L651.6,2549.1 L663.9,2543.4 L673.5,2539.4 L681.4,2543.1 L688.0,2537.4 L693.8,2534.2 L703.4,2534.3 L711.2,2533.0 L717.8,2534.3 L726.2,2535.6 L733.2,2535.8 L742.8,2537.0 L750.6,2537.3 L763.0,2536.8 L772.6,2537.5 L783.9,2537.0 L792.8,2536.0 L802.4,2535.2 L813.7,2535.5 L825.3,2533.9 L836.4,2533.4 L849.7,2533.6 L862.1,2533.1 L875.8,2532.8 L889.1,2532.6 L901.5,2532.7 L916.0,2531.4 L931.3,2531.2"/><path d="M604.3,2619.1 L634.1,2563.0 L651.6,2547.3 L663.9,2554.2 L673.5,2548.9 L681.4,2543.9 L688.0,2548.1 L693.8,2548.0 L703.4,2552.4 L711.2,2552.4 L717.8,2549.3 L726.2,2547.5 L733.2,2545.8 L742.8,2542.8 L750.6,2541.6 L763.0,2540.4 L772.6,2538.6 L783.9,2538.1 L792.8,2536.8 L802.4,2536.6 L813.7,2535.9 L825.3,2537.0 L836.4,2536.6 L849.7,2535.8 L862.1,2536.9 L875.8,2535.5 L889.1,2536.3 L901.5,2536.1 L916.0,2536.6 L931.3,2536.1"/><path d="M604.3,2630.9 L634.1,2580.5 L651.6,2559.2 L663.9,2556.6 L673.5,2553.5 L681.4,2550.3 L688.0,2551.8 L693.8,2553.5 L703.4,2547.8 L711.2,2546.0 L717.8,2546.0 L726.2,2544.7 L733.2,2544.7 L742.8,2545.0 L750.6,2544.6 L763.0,2544.5 L772.6,2544.1 L783.9,2542.3 L792.8,2541.9 L802.4,2540.3 L813.7,2539.5 L825.3,2540.4 L836.4,2538.8 L849.7,2537.7 L862.1,2538.8 L875.8,2537.7 L889.1,2537.9 L901.5,2537.9 L916.0,2536.7 L931.3,2537.5"/><path d="M604.3,2633.3 L634.1,2570.1 L651.6,2557.9 L663.9,2556.2 L673.5,2547.4 L681.4,2544.6 L688.0,2546.0 L693.8,2553.9 L703.4,2549.5 L711.2,2549.4 L717.8,2549.1 L726.2,2548.9 L733.2,2547.7 L742.8,2547.4 L750.6,2546.4 L763.0,2544.8 L772.6,2544.2 L783.9,2544.1 L792.8,2543.2 L802.4,2542.9 L813.7,2541.7 L825.3,2541.3 L836.4,2539.9 L849.7,2539.0 L862.1,2538.7 L875.8,2539.6 L889.1,2540.4 L901.5,2539.2 L916.0,2538.5 L931.3,2538.4"/><path d="M604.3,2633.3 L634.1,2583.0 L651.6,2566.8 L663.9,2560.9 L673.5,2557.0 L681.4,2553.8 L688.0,2549.9 L693.8,2556.0 L703.4,2557.4 L711.2,2546.8 L717.8,2546.4 L726.2,2545.8 L733.2,2547.2 L742.8,2547.8 L750.6,2547.8 L763.0,2546.9 L772.6,2545.9 L783.9,2546.2 L792.8,2545.3 L802.4,2545.7 L813.7,2545.8 L825.3,2544.4 L836.4,2543.7 L849.7,2542.8 L862.1,2542.8 L875.8,2542.4 L889.1,2542.7 L901.5,2542.6 L916.0,2541.5 L931.3,2540.5"/><path d="M604.3,2635.6 L634.1,2591.0 L651.6,2571.4 L663.9,2564.5 L673.5,2558.2 L681.4,2562.7 L688.0,2561.5 L693.8,2563.0 L703.4,2554.3 L711.2,2555.9 L717.8,2554.3 L726.2,2552.0 L733.2,2551.8 L742.8,2550.8 L750.6,2549.5 L763.0,2547.8 L772.6,2547.7 L783.9,2547.5 L792.8,2548.0 L802.4,2546.4 L813.7,2547.0 L825.3,2547.2 L836.4,2546.2 L849.7,2545.5 L862.1,2544.5 L875.8,2544.6 L889.1,2543.5 L901.5,2544.3 L916.0,2544.4 L931.3,2543.4"/><path d="M604.3,2649.8 L634.1,2595.9 L651.6,2577.3 L663.9,2568.7 L673.5,2569.8 L681.4,2572.1 L688.0,2569.6 L693.8,2562.2 L703.4,2562.3 L711.2,2565.8 L717.8,2562.1 L726.2,2559.4 L733.2,2556.7 L742.8,2554.2 L750.6,2552.5 L763.0,2551.8 L772.6,2550.5 L783.9,2550.5 L792.8,2550.4 L802.4,2550.0 L813.7,2548.3 L825.3,2547.1 L836.4,2547.6 L849.7,2547.6 L862.1,2547.4 L875.8,2547.2 L889.1,2546.9 L901.5,2546.7 L916.0,2546.8 L931.3,2546.0"/><path d="M604.3,2685.3 L634.1,2596.5 L651.6,2574.8 L663.9,2568.9 L673.5,2571.3 L681.4,2563.4 L688.0,2556.7 L693.8,2561.7 L703.4,2567.0 L711.2,2562.2 L717.8,2559.9 L726.2,2557.8 L733.2,2555.3 L742.8,2553.9 L750.6,2552.5 L763.0,2552.7 L772.6,2551.7 L783.9,2550.3 L792.8,2550.8 L802.4,2551.1 L813.7,2549.6 L825.3,2548.1 L836.4,2548.8 L849.7,2547.9 L862.1,2548.3 L875.8,2547.1 L889.1,2546.5 L901.5,2546.9 L916.0,2547.1 L931.3,2546.0"/><path d="M604.3,2697.2 L634.1,2603.5 L651.6,2588.2 L663.9,2582.5 L673.5,2569.6 L681.4,2566.4 L688.0,2566.8 L693.8,2565.9 L703.4,2561.0 L711.2,2558.1 L717.8,2557.5 L726.2,2557.7 L733.2,2556.9 L742.8,2556.1 L750.6,2555.0 L763.0,2553.8 L772.6,2552.9 L783.9,2551.8 L792.8,2550.9 L802.4,2550.8 L813.7,2550.8 L825.3,2550.2 L836.4,2549.5 L849.7,2549.7 L862.1,2549.7 L875.8,2550.2 L889.1,2549.2 L901.5,2547.8 L916.0,2548.1 L931.3,2548.7"/><path d="M604.3,2699.6 L634.1,2617.0 L651.6,2600.1 L663.9,2582.3 L673.5,2585.9 L681.4,2583.4 L688.0,2584.3 L693.8,2576.2 L703.4,2568.0 L711.2,2572.1 L717.8,2570.5 L726.2,2567.9 L733.2,2565.7 L742.8,2562.8 L750.6,2562.7 L763.0,2561.7 L772.6,2560.8 L783.9,2559.8 L792.8,2559.0 L802.4,2557.2 L813.7,2555.9 L825.3,2555.7 L836.4,2555.5 L849.7,2554.9 L862.1,2554.7 L875.8,2553.0 L889.1,2552.8 L901.5,2552.0 L916.0,2550.7 L931.3,2550.4"/><path d="M604.3,2701.9 L634.1,2610.5 L651.6,2587.4 L663.9,2585.1 L673.5,2580.3 L681.4,2570.8 L688.0,2572.2 L693.8,2576.3 L703.4,2579.4 L711.2,2567.1 L717.8,2565.7 L726.2,2565.0 L733.2,2564.1 L742.8,2562.8 L750.6,2562.5 L763.0,2559.8 L772.6,2558.8 L783.9,2558.7 L792.8,2559.1 L802.4,2558.1 L813.7,2557.4 L825.3,2555.8 L836.4,2554.7 L849.7,2554.0 L862.1,2554.4 L875.8,2554.5 L889.1,2554.2 L901.5,2554.0 L916.0,2552.3 L931.3,2551.8"/><path d="M604.3,2704.3 L634.1,2603.0 L651.6,2591.0 L663.9,2582.4 L673.5,2583.2 L681.4,2573.7 L688.0,2579.6 L693.8,2570.0 L703.4,2562.7 L711.2,2558.7 L717.8,2560.8 L726.2,2561.3 L733.2,2560.6 L742.8,2560.9 L750.6,2560.3 L763.0,2559.2 L772.6,2557.4 L783.9,2556.7 L792.8,2555.6 L802.4,2555.9 L813.7,2554.8 L825.3,2554.7 L836.4,2553.4 L849.7,2554.2 L862.1,2553.0 L875.8,2553.5 L889.1,2553.0 L901.5,2552.6 L916.0,2553.0 L931.3,2551.7"/><path d="M604.3,2709.0 L634.1,2622.6 L651.6,2607.7 L663.9,2597.9 L673.5,2589.7 L681.4,2580.8 L688.0,2580.6 L693.8,2575.0 L703.4,2578.9 L711.2,2576.3 L717.8,2573.6 L726.2,2569.9 L733.2,2567.5 L742.8,2565.6 L750.6,2565.7 L763.0,2564.2 L772.6,2562.4 L783.9,2561.9 L792.8,2560.8 L802.4,2560.1 L813.7,2560.3 L825.3,2558.1 L836.4,2556.8 L849.7,2557.1 L862.1,2556.2 L875.8,2556.2 L889.1,2555.9 L901.5,2555.3 L916.0,2555.2 L931.3,2555.0"/><path d="M604.3,2628.5 L634.1,2575.6 L651.6,2569.5 L663.9,2568.0 L673.5,2559.0 L681.4,2559.7 L688.0,2550.5 L693.8,2550.9 L703.4,2547.7 L711.2,2551.7 L717.8,2550.3 L726.2,2550.6 L733.2,2550.7 L742.8,2550.5 L750.6,2549.1 L763.0,2547.6 L772.6,2547.8 L783.9,2547.2 L792.8,2545.8 L802.4,2545.3 L813.7,2545.9 L825.3,2546.0 L836.4,2546.1 L849.7,2546.1 L862.1,2545.5 L875.8,2545.7 L889.1,2543.9 L901.5,2543.7 L916.0,2543.3 L931.3,2542.6"/><path d="M604.3,2632.3 L634.1,2568.9 L651.6,2561.6 L663.9,2559.6 L673.5,2557.2 L681.4,2561.5 L688.0,2557.8 L693.8,2550.9 L703.4,2541.9 L711.2,2539.7 L717.8,2541.1 L726.2,2541.8 L733.2,2543.7 L742.8,2543.9 L750.6,2544.1 L763.0,2543.1 L772.6,2543.7 L783.9,2543.3 L792.8,2542.8 L802.4,2541.6 L813.7,2540.6 L825.3,2540.4 L836.4,2541.1 L849.7,2540.2 L862.1,2539.2 L875.8,2539.2 L889.1,2539.6 L901.5,2539.5 L916.0,2540.2 L931.3,2539.4"/></g><path d="M604.3,2526.7 L634.1,2524.5 L651.6,2523.3 L663.9,2522.5 L673.5,2522.8 L681.4,2522.0 L688.0,2521.9 L693.8,2522.3 L703.4,2522.5 L711.2,2522.4 L717.8,2522.1 L726.2,2521.8 L733.2,2521.6 L742.8,2521.4 L750.6,2521.3 L763.0,2521.2 L772.6,2521.2 L783.9,2521.0 L792.8,2521.0 L802.4,2520.8 L813.7,2520.8 L825.3,2520.8 L836.4,2520.7 L849.7,2520.7 L862.1,2520.6 L875.8,2520.5 L889.1,2520.5 L901.5,2520.5 L916.0,2520.6 L931.3,2520.5" fill="none" stroke="#c9405e" stroke-width="2.3"/><line x1="435.4" x2="447.6" y1="2456.3" y2="2456.3" stroke="#c9405e" stroke-width="2.3"/><line x1="555.5" x2="567.6" y1="2456.3" y2="2456.3" stroke="#5ba3d0" stroke-width="2.3"/></svg>
<svg style="left:0;top:0" width="2035" height="2880" viewBox="0 0 2035 2880"><line x1="1258.6" x2="1258.6" y1="341.4" y2="731.5" stroke="#e6e6e6"/><line x1="1353.6" x2="1353.6" y1="341.4" y2="731.5" stroke="#e6e6e6"/><line x1="1448.8" x2="1448.8" y1="341.4" y2="731.5" stroke="#e6e6e6"/><line x1="1164.8" x2="1543.8" y1="439.6" y2="439.6" stroke="#e6e6e6"/><line x1="1164.8" x2="1543.8" y1="537.2" y2="537.2" stroke="#e6e6e6"/><line x1="1164.8" x2="1543.8" y1="634.9" y2="634.9" stroke="#e6e6e6"/><line x1="1688.5" x2="1688.5" y1="346" y2="726.6" stroke="#e6e6e6"/><line x1="1783.5" x2="1783.5" y1="346" y2="726.6" stroke="#e6e6e6"/><line x1="1879.2" x2="1879.2" y1="346" y2="726.6" stroke="#e6e6e6"/><line x1="1593" x2="1974" y1="441.2" y2="441.2" stroke="#e6e6e6"/><line x1="1593" x2="1974" y1="536.7" y2="536.7" stroke="#e6e6e6"/><line x1="1593" x2="1974" y1="632.2" y2="632.2" stroke="#e6e6e6"/><g filter="url(#vnb)"><polygon points="1961.6,542.0 1958.9,573.0 1950.6,603.0 1937.2,631.2 1919.0,656.6 1896.6,678.6 1870.6,696.5 1841.8,709.6 1811.1,717.6 1779.5,720.4 1747.9,717.6 1717.2,709.6 1688.4,696.5 1662.4,678.6 1640.0,656.6 1621.8,631.2 1608.4,603.0 1600.1,573.0 1597.4,542.0 1600.1,511.0 1608.4,481.0 1621.8,452.8 1640.0,427.4 1662.4,405.4 1688.4,387.5 1717.2,374.4 1747.9,366.4 1779.5,363.6 1811.1,366.4 1841.8,374.4 1870.6,387.5 1896.6,405.4 1919.0,427.4 1937.2,452.8 1950.6,481.0 1958.9,511.0" fill="#2f0596" fill-opacity="0.2"/><polygon points="1953.5,542.0 1950.9,571.6 1943.0,600.3 1930.2,627.2 1912.8,651.5 1891.3,672.5 1866.5,689.6 1839.0,702.1 1809.7,709.8 1779.5,712.4 1749.3,709.8 1720.0,702.1 1692.5,689.6 1667.7,672.5 1646.2,651.5 1628.8,627.2 1616.0,600.3 1608.1,571.6 1605.5,542.0 1608.1,512.4 1616.0,483.7 1628.8,456.8 1646.2,432.5 1667.7,411.5 1692.5,394.4 1720.0,381.9 1749.3,374.2 1779.5,371.6 1809.7,374.2 1839.0,381.9 1866.5,394.4 1891.3,411.5 1912.8,432.5 1930.2,456.8 1943.0,483.7 1950.9,512.4" fill="#2f0596" fill-opacity="0.36"/><polygon points="1943.3,542.0 1940.9,569.9 1933.5,596.9 1921.4,622.2 1905.0,645.1 1884.8,664.9 1861.4,681.0 1835.5,692.8 1808.0,700.0 1779.5,702.5 1751.0,700.0 1723.5,692.8 1697.6,681.0 1674.2,664.9 1654.0,645.1 1637.6,622.2 1625.5,596.9 1618.1,569.9 1615.7,542.0 1618.1,514.1 1625.5,487.1 1637.6,461.8 1654.0,438.9 1674.2,419.1 1697.6,403.0 1723.5,391.2 1751.0,384.0 1779.5,381.5 1808.0,384.0 1835.5,391.2 1861.4,403.0 1884.8,419.1 1905.0,438.9 1921.4,461.8 1933.5,487.1 1940.9,514.1" fill="#2f0596" fill-opacity="0.65"/><polygon points="1933.2,542.0 1930.9,568.1 1923.9,593.5 1912.6,617.3 1897.2,638.8 1878.3,657.3 1856.3,672.4 1832.1,683.4 1806.2,690.2 1779.5,692.5 1752.8,690.2 1726.9,683.4 1702.7,672.4 1680.7,657.3 1661.8,638.8 1646.4,617.3 1635.1,593.5 1628.1,568.1 1625.8,542.0 1628.1,515.9 1635.1,490.5 1646.4,466.7 1661.8,445.2 1680.7,426.7 1702.6,411.6 1726.9,400.6 1752.8,393.8 1779.5,391.5 1806.2,393.8 1832.1,400.6 1856.3,411.6 1878.3,426.7 1897.2,445.2 1912.6,466.7 1923.9,490.5 1930.9,515.9" fill="#2f0596" fill-opacity="0.9"/></g><g filter="url(#fzb)"><polygon points="1944.8,542.0 1942.3,570.1 1934.8,597.4 1922.7,622.9 1906.1,646.1 1885.8,666.0 1862.2,682.2 1836.0,694.1 1808.2,701.4 1779.5,703.9 1750.8,701.4 1723.0,694.1 1696.9,682.2 1673.2,666.0 1652.9,646.1 1636.3,622.9 1624.2,597.4 1616.7,570.1 1614.2,542.0 1616.7,513.9 1624.2,486.6 1636.3,461.1 1652.9,437.9 1673.2,418.0 1696.8,401.8 1723.0,389.9 1750.8,382.6 1779.5,380.1 1808.2,382.6 1836.0,389.9 1862.1,401.8 1885.8,418.0 1906.1,437.9 1922.7,461.1 1934.8,486.6 1942.3,513.9" fill="#3b1a9c" fill-opacity="0.2"/><polygon points="1933.2,542.0 1930.9,568.1 1923.9,593.5 1912.6,617.3 1897.2,638.8 1878.3,657.3 1856.3,672.4 1832.1,683.4 1806.2,690.2 1779.5,692.5 1752.8,690.2 1726.9,683.4 1702.7,672.4 1680.7,657.3 1661.8,638.8 1646.4,617.3 1635.1,593.5 1628.1,568.1 1625.8,542.0 1628.1,515.9 1635.1,490.5 1646.4,466.7 1661.8,445.2 1680.7,426.7 1702.6,411.6 1726.9,400.6 1752.8,393.8 1779.5,391.5 1806.2,393.8 1832.1,400.6 1856.3,411.6 1878.3,426.7 1897.2,445.2 1912.6,466.7 1923.9,490.5 1930.9,515.9" fill="#3d169e" fill-opacity="0.6"/><polygon points="1924.5,542.0 1922.3,566.7 1915.8,590.6 1905.1,613.0 1890.6,633.3 1872.7,650.8 1852.0,665.0 1829.1,675.4 1804.7,681.8 1779.5,684.0 1754.3,681.8 1729.9,675.4 1707.0,665.0 1686.3,650.8 1668.4,633.3 1653.9,613.0 1643.2,590.6 1636.7,566.7 1634.5,542.0 1636.7,517.3 1643.2,493.4 1653.9,471.0 1668.4,450.7 1686.3,433.2 1707.0,419.0 1729.9,408.6 1754.3,402.2 1779.5,400.0 1804.7,402.2 1829.1,408.6 1852.0,419.0 1872.7,433.2 1890.6,450.7 1905.1,471.0 1915.8,493.4 1922.3,517.3" fill="#3c0c9e"/><polygon points="1915.8,542.0 1913.7,565.2 1907.6,587.7 1897.5,608.7 1883.9,627.8 1867.1,644.3 1847.7,657.6 1826.1,667.4 1803.2,673.5 1779.5,675.5 1755.8,673.5 1732.9,667.4 1711.4,657.6 1691.9,644.3 1675.1,627.8 1661.5,608.7 1651.4,587.7 1645.3,565.2 1643.2,542.0 1645.3,518.8 1651.4,496.3 1661.5,475.3 1675.1,456.2 1691.9,439.7 1711.3,426.4 1732.9,416.6 1755.8,410.5 1779.5,408.5 1803.2,410.5 1826.1,416.6 1847.6,426.4 1867.1,439.7 1883.9,456.2 1897.5,475.3 1907.6,496.3 1913.7,518.8" fill="#560aa4"/><polygon points="1908.5,542.0 1906.6,563.9 1900.8,585.2 1891.3,605.2 1878.4,623.2 1862.5,638.8 1844.0,651.4 1823.6,660.8 1801.9,666.5 1779.5,668.4 1757.1,666.5 1735.4,660.8 1715.0,651.4 1696.5,638.8 1680.6,623.2 1667.7,605.2 1658.2,585.2 1652.4,563.9 1650.5,542.0 1652.4,520.1 1658.2,498.8 1667.7,478.8 1680.6,460.8 1696.5,445.2 1715.0,432.6 1735.4,423.2 1757.1,417.5 1779.5,415.6 1801.9,417.5 1823.6,423.2 1844.0,432.6 1862.5,445.2 1878.4,460.8 1891.3,478.8 1900.8,498.8 1906.6,520.1" fill="#6e06a8"/></g><g filter="url(#bl6)"><polygon points="1902.8,542.0 1900.9,563.0 1895.3,583.3 1886.2,602.4 1873.9,619.6 1858.7,634.5 1841.1,646.5 1821.7,655.4 1800.9,660.9 1779.5,662.7 1758.1,660.9 1737.3,655.4 1717.9,646.5 1700.3,634.5 1685.1,619.6 1672.8,602.4 1663.7,583.3 1658.1,563.0 1656.2,542.0 1658.1,521.0 1663.7,500.7 1672.8,481.6 1685.1,464.4 1700.3,449.5 1717.9,437.5 1737.3,428.6 1758.1,423.1 1779.5,421.3 1800.9,423.1 1821.7,428.6 1841.1,437.5 1858.7,449.5 1873.9,464.4 1886.2,481.7 1895.3,500.7 1900.9,521.0" fill="#8b0aa5"/><polygon points="1897.0,542.0 1895.2,562.0 1889.9,581.3 1881.2,599.5 1869.5,615.9 1855.0,630.1 1838.2,641.6 1819.7,650.1 1799.9,655.3 1779.5,657.0 1759.1,655.3 1739.3,650.1 1720.8,641.6 1704.0,630.1 1689.5,615.9 1677.8,599.5 1669.1,581.3 1663.8,562.0 1662.0,542.0 1663.8,522.0 1669.1,502.7 1677.8,484.5 1689.5,468.1 1704.0,453.9 1720.8,442.4 1739.3,433.9 1759.1,428.7 1779.5,427.0 1799.9,428.7 1819.7,433.9 1838.2,442.4 1855.0,453.9 1869.5,468.1 1881.2,484.5 1889.9,502.7 1895.2,522.0" fill="#a72197"/><polygon points="1891.2,542.0 1889.5,561.0 1884.4,579.4 1876.2,596.7 1865.0,612.3 1851.3,625.8 1835.3,636.7 1817.7,644.7 1798.9,649.7 1779.5,651.3 1760.1,649.7 1741.3,644.7 1723.7,636.7 1707.7,625.8 1694.0,612.3 1682.8,596.7 1674.6,579.4 1669.5,561.0 1667.8,542.0 1669.5,523.0 1674.6,504.6 1682.8,487.3 1694.0,471.7 1707.7,458.2 1723.7,447.3 1741.3,439.3 1760.1,434.3 1779.5,432.7 1798.9,434.3 1817.7,439.3 1835.3,447.3 1851.3,458.2 1865.0,471.7 1876.2,487.3 1884.4,504.6 1889.5,523.0" fill="#c33d80"/><polygon points="1883.9,542.0 1882.3,559.8 1877.6,577.0 1869.9,593.1 1859.5,607.7 1846.6,620.3 1831.7,630.5 1815.2,638.1 1797.6,642.7 1779.5,644.2 1761.4,642.7 1743.8,638.1 1727.3,630.5 1712.4,620.3 1699.5,607.7 1689.1,593.1 1681.4,577.0 1676.7,559.8 1675.1,542.0 1676.7,524.2 1681.4,507.0 1689.1,490.9 1699.5,476.3 1712.4,463.7 1727.3,453.5 1743.8,445.9 1761.4,441.3 1779.5,439.8 1797.6,441.3 1815.2,445.9 1831.7,453.5 1846.6,463.7 1859.5,476.3 1869.9,490.9 1877.6,507.0 1882.3,524.2" fill="#d6556d"/><polygon points="1876.7,542.0 1875.2,558.5 1870.8,574.5 1863.6,589.6 1853.9,603.2 1841.9,614.9 1828.1,624.4 1812.7,631.4 1796.4,635.7 1779.5,637.1 1762.6,635.7 1746.3,631.4 1730.9,624.4 1717.1,614.9 1705.1,603.2 1695.4,589.6 1688.2,574.5 1683.8,558.5 1682.3,542.0 1683.8,525.5 1688.2,509.5 1695.4,494.4 1705.1,480.8 1717.1,469.1 1730.9,459.6 1746.3,452.6 1762.6,448.3 1779.5,446.9 1796.4,448.3 1812.7,452.6 1828.1,459.6 1841.9,469.1 1853.9,480.8 1863.6,494.4 1870.8,509.5 1875.2,525.5" fill="#e56b5d"/><polygon points="1868.0,542.0 1866.6,557.0 1862.6,571.6 1856.1,585.3 1847.3,597.7 1836.4,608.4 1823.7,617.0 1809.8,623.4 1794.9,627.3 1779.5,628.6 1764.1,627.3 1749.2,623.4 1735.3,617.0 1722.6,608.4 1711.7,597.7 1702.9,585.3 1696.4,571.6 1692.4,557.0 1691.0,542.0 1692.4,527.0 1696.4,512.4 1702.9,498.7 1711.7,486.3 1722.6,475.6 1735.3,467.0 1749.2,460.6 1764.1,456.7 1779.5,455.4 1794.9,456.7 1809.8,460.6 1823.7,467.0 1836.4,475.6 1847.3,486.3 1856.1,498.7 1862.6,512.4 1866.6,527.0" fill="#f1844b"/><polygon points="1857.8,542.0 1856.6,555.3 1853.1,568.2 1847.3,580.3 1839.5,591.3 1829.8,600.7 1818.7,608.4 1806.3,614.1 1793.1,617.5 1779.5,618.7 1765.9,617.5 1752.7,614.1 1740.3,608.4 1729.2,600.7 1719.5,591.3 1711.7,580.3 1705.9,568.2 1702.4,555.3 1701.2,542.0 1702.4,528.7 1705.9,515.8 1711.7,503.7 1719.5,492.7 1729.2,483.3 1740.3,475.6 1752.7,469.9 1765.9,466.5 1779.5,465.3 1793.1,466.5 1806.3,469.9 1818.6,475.6 1829.8,483.3 1839.5,492.7 1847.3,503.7 1853.1,515.8 1856.6,528.7" fill="#f99a3e"/><polygon points="1847.7,542.0 1846.6,553.6 1843.5,564.8 1838.5,575.4 1831.7,584.9 1823.3,593.1 1813.6,599.8 1802.8,604.7 1791.3,607.7 1779.5,608.7 1767.7,607.7 1756.2,604.7 1745.4,599.8 1735.7,593.1 1727.3,584.9 1720.5,575.4 1715.5,564.8 1712.4,553.6 1711.3,542.0 1712.4,530.4 1715.5,519.2 1720.5,508.6 1727.3,499.1 1735.7,490.9 1745.4,484.2 1756.2,479.3 1767.7,476.3 1779.5,475.3 1791.3,476.3 1802.8,479.3 1813.6,484.2 1823.3,490.9 1831.7,499.1 1838.5,508.6 1843.5,519.2 1846.6,530.4" fill="#fdae32"/><polygon points="1833.2,542.0 1832.3,551.1 1829.9,560.0 1826.0,568.3 1820.6,575.8 1814.0,582.2 1806.3,587.5 1797.8,591.4 1788.8,593.7 1779.5,594.5 1770.2,593.7 1761.2,591.4 1752.7,587.5 1745.0,582.2 1738.4,575.8 1733.0,568.3 1729.1,560.0 1726.7,551.1 1725.8,542.0 1726.7,532.9 1729.1,524.0 1733.0,515.7 1738.4,508.2 1745.0,501.8 1752.7,496.5 1761.2,492.6 1770.2,490.3 1779.5,489.5 1788.8,490.3 1797.8,492.6 1806.3,496.5 1814.0,501.8 1820.6,508.2 1826.0,515.7 1829.9,524.0 1832.3,532.9" fill="#fdc328"/><polygon points="1818.7,542.0 1818.1,548.7 1816.3,555.1 1813.4,561.2 1809.5,566.6 1804.7,571.4 1799.1,575.2 1792.9,578.0 1786.3,579.8 1779.5,580.3 1772.7,579.8 1766.1,578.0 1759.9,575.2 1754.3,571.4 1749.5,566.6 1745.6,561.2 1742.7,555.1 1740.9,548.7 1740.3,542.0 1740.9,535.3 1742.7,528.9 1745.6,522.8 1749.5,517.4 1754.3,512.6 1759.9,508.8 1766.1,506.0 1772.7,504.2 1779.5,503.7 1786.3,504.2 1792.9,506.0 1799.1,508.8 1804.7,512.6 1809.5,517.4 1813.4,522.8 1816.3,528.9 1818.1,535.3" fill="#f7e024"/><polygon points="1805.6,542.0 1805.2,546.4 1804.0,550.7 1802.1,554.8 1799.5,558.4 1796.3,561.6 1792.5,564.1 1788.4,566.0 1784.0,567.2 1779.5,567.6 1775.0,567.2 1770.6,566.0 1766.5,564.1 1762.7,561.6 1759.5,558.4 1756.9,554.8 1755.0,550.7 1753.8,546.4 1753.4,542.0 1753.8,537.6 1755.0,533.3 1756.9,529.2 1759.5,525.6 1762.7,522.4 1766.5,519.9 1770.6,518.0 1775.0,516.8 1779.5,516.4 1784.0,516.8 1788.4,518.0 1792.5,519.9 1796.3,522.4 1799.5,525.6 1802.1,529.2 1804.0,533.3 1805.2,537.6" fill="#f1f426"/><polygon points="1792.5,542.0 1792.4,544.2 1791.8,546.4 1790.8,548.4 1789.5,550.2 1787.9,551.8 1786.0,553.1 1784.0,554.0 1781.8,554.6 1779.5,554.8 1777.2,554.6 1775.0,554.0 1773.0,553.1 1771.1,551.8 1769.5,550.2 1768.2,548.4 1767.2,546.4 1766.6,544.2 1766.5,542.0 1766.6,539.8 1767.2,537.6 1768.2,535.6 1769.5,533.8 1771.1,532.2 1773.0,530.9 1775.0,530.0 1777.2,529.4 1779.5,529.2 1781.8,529.4 1784.0,530.0 1786.0,530.9 1787.9,532.2 1789.5,533.8 1790.8,535.6 1791.8,537.6 1792.4,539.8" fill="#eff821"/></g></svg>
<svg style="left:1170px;top:420px" width="280.0" height="260.0" viewBox="0 0 1622 1506"><defs><filter id="goo" x="-10%" y="-10%" width="120%" height="120%" color-interpolation-filters="sRGB"><feGaussianBlur stdDeviation="11" result="b"/><feColorMatrix in="b" type="matrix" values="1 0 0 0 0  0 1 0 0 0  0 0 1 0 0  0 0 0 22 -9"/></filter></defs><g filter="url(#goo)" fill="#1f0c8e"><circle cx="830" cy="165" r="52"/><circle cx="805" cy="225" r="48"/><circle cx="950" cy="300" r="125"/><circle cx="1100" cy="300" r="118"/><circle cx="1230" cy="370" r="100"/><circle cx="1275" cy="335" r="58"/><circle cx="850" cy="420" r="110"/><circle cx="700" cy="490" r="78"/><circle cx="640" cy="475" r="38"/><circle cx="600" cy="680" r="42"/><circle cx="680" cy="640" r="70"/><circle cx="555" cy="705" r="22"/><circle cx="770" cy="600" r="110"/><circle cx="730" cy="800" r="100"/><circle cx="850" cy="850" r="100"/><circle cx="1100" cy="600" r="120"/><circle cx="1150" cy="750" r="150"/><circle cx="1280" cy="800" r="100"/><circle cx="1335" cy="900" r="58"/><circle cx="1347" cy="555" r="18"/><circle cx="1342" cy="610" r="26"/><circle cx="1335" cy="670" r="36"/><circle cx="740" cy="950" r="78"/><circle cx="800" cy="1000" r="58"/><circle cx="1300" cy="1040" r="38"/><circle cx="1312" cy="1100" r="28"/><circle cx="1288" cy="1150" r="18"/><circle cx="1020" cy="950" r="42"/><circle cx="1000" cy="470" r="95"/><circle cx="1010" cy="575" r="55"/><circle cx="900" cy="720" r="60"/><circle cx="960" cy="800" r="75"/><circle cx="1000" cy="880" r="60"/><circle cx="880" cy="520" r="40"/><circle cx="1250" cy="600" r="60"/><circle cx="1300" cy="700" r="70"/><circle cx="1150" cy="470" r="75"/><circle cx="830" cy="720" r="55"/><circle cx="880" cy="640" r="35"/><circle cx="1292" cy="965" r="42"/><circle cx="960" cy="560" r="30"/><circle cx="700" cy="700" r="60"/><circle cx="885" cy="575" r="32"/><circle cx="980" cy="645" r="34"/><circle cx="1335" cy="780" r="72"/><circle cx="1345" cy="860" r="58"/><circle cx="1230" cy="520" r="42"/><circle cx="880" cy="1130" r="78"/><circle cx="950" cy="1220" r="98"/><circle cx="1100" cy="1210" r="88"/><circle cx="1155" cy="1235" r="55"/><circle cx="900" cy="1290" r="48"/><circle cx="555" cy="1285" r="56"/><circle cx="555" cy="1345" r="32"/><circle cx="600" cy="1235" r="30"/><circle cx="640" cy="1195" r="28"/><circle cx="680" cy="1160" r="26"/><circle cx="705" cy="1140" r="24"/><ellipse cx="615" cy="295" rx="30" ry="38" transform="rotate(-15 615 295)"/><ellipse cx="1412" cy="388" rx="42" ry="32" transform="rotate(10 1412 388)"/><ellipse cx="445" cy="898" rx="25" ry="17" transform="rotate(-15 445 898)"/><ellipse cx="145" cy="1265" rx="47" ry="20" transform="rotate(-42 145 1265)"/></g><g filter="url(#goo)" fill="#3a0a9c"><circle cx="950" cy="300" r="99"/><circle cx="1100" cy="300" r="92"/><circle cx="1230" cy="370" r="74"/><circle cx="1275" cy="335" r="32"/><circle cx="850" cy="420" r="84"/><circle cx="700" cy="490" r="52"/><circle cx="640" cy="475" r="12"/><circle cx="600" cy="680" r="16"/><circle cx="680" cy="640" r="44"/><circle cx="770" cy="600" r="84"/><circle cx="730" cy="800" r="74"/><circle cx="850" cy="850" r="74"/><circle cx="1100" cy="600" r="94"/><circle cx="1150" cy="750" r="124"/><circle cx="1280" cy="800" r="74"/><circle cx="1335" cy="900" r="32"/><circle cx="1335" cy="670" r="10"/><circle cx="740" cy="950" r="52"/><circle cx="800" cy="1000" r="32"/><circle cx="1300" cy="1040" r="12"/><circle cx="1020" cy="950" r="16"/><circle cx="1000" cy="470" r="69"/><circle cx="1010" cy="575" r="29"/><circle cx="900" cy="720" r="34"/><circle cx="960" cy="800" r="49"/><circle cx="1000" cy="880" r="34"/><circle cx="880" cy="520" r="14"/><circle cx="1250" cy="600" r="34"/><circle cx="1300" cy="700" r="44"/><circle cx="1150" cy="470" r="49"/><circle cx="830" cy="720" r="29"/><circle cx="880" cy="640" r="9"/><circle cx="1292" cy="965" r="16"/><circle cx="700" cy="700" r="34"/><circle cx="885" cy="575" r="6"/><circle cx="980" cy="645" r="8"/><circle cx="1335" cy="780" r="46"/><circle cx="1345" cy="860" r="32"/><circle cx="1230" cy="520" r="16"/><circle cx="880" cy="1130" r="52"/><circle cx="950" cy="1220" r="72"/><circle cx="1100" cy="1210" r="62"/><circle cx="555" cy="1285" r="30"/></g><g filter="url(#goo)" fill="#4a08a0"><circle cx="880" cy="1130" r="40"/><circle cx="960" cy="1170" r="28"/><circle cx="1110" cy="1220" r="36"/><circle cx="920" cy="1260" r="22"/><circle cx="550" cy="1290" r="26"/></g><g filter="url(#goo)" fill="#6a03a6"><circle cx="930" cy="280" r="70"/><circle cx="1010" cy="260" r="75"/><circle cx="1100" cy="300" r="80"/><circle cx="1180" cy="380" r="70"/><circle cx="1240" cy="440" r="60"/><circle cx="1270" cy="500" r="40"/><circle cx="850" cy="400" r="80"/><circle cx="800" cy="480" r="60"/><circle cx="770" cy="580" r="85"/><circle cx="700" cy="580" r="45"/><circle cx="720" cy="650" r="40"/><circle cx="740" cy="800" r="85"/><circle cx="830" cy="830" r="80"/><circle cx="800" cy="900" r="60"/><circle cx="760" cy="880" r="50"/><circle cx="1060" cy="620" r="85"/><circle cx="1000" cy="700" r="60"/><circle cx="1150" cy="720" r="110"/><circle cx="1250" cy="800" r="110"/><circle cx="1320" cy="870" r="65"/><circle cx="1100" cy="820" r="70"/><circle cx="1200" cy="880" r="70"/></g><g filter="url(#goo)" fill="#93169f"><circle cx="1095" cy="310" r="40"/><circle cx="990" cy="250" r="25"/><circle cx="950" cy="350" r="25"/><circle cx="840" cy="415" r="45"/><circle cx="770" cy="585" r="55"/><circle cx="735" cy="810" r="40"/><circle cx="810" cy="850" r="35"/><circle cx="1090" cy="700" r="50"/><circle cx="1200" cy="770" r="85"/><circle cx="980" cy="700" r="25"/><circle cx="1170" cy="410" r="20"/><circle cx="1250" cy="490" r="15"/></g><g filter="url(#goo)" fill="#b93a87"><circle cx="840" cy="415" r="28"/><circle cx="770" cy="588" r="35"/><circle cx="1090" cy="700" r="30"/><circle cx="1200" cy="770" r="65"/><circle cx="735" cy="810" r="12"/></g><g filter="url(#goo)" fill="#f8963f"><circle cx="1212" cy="742" r="58"/><circle cx="1200" cy="800" r="48"/><circle cx="1235" cy="722" r="42"/><circle cx="1175" cy="725" r="34"/><circle cx="778" cy="594" r="17"/><circle cx="812" cy="858" r="8"/></g><ellipse cx="930" cy="597" rx="16" ry="24" fill="#fff" transform="rotate(25 930 597)"/><ellipse cx="855" cy="191" rx="5" ry="8" fill="#fff" transform="rotate(25 855 191)"/></svg>
<svg style="left:0;top:0" width="2035" height="2880" viewBox="0 0 2035 2880"><line x1="1233.9" x2="1233.9" y1="1210.9" y2="1456.3" stroke="#f6f6f6" stroke-width=".6"/><line x1="1247.1" x2="1247.1" y1="1210.9" y2="1456.3" stroke="#f6f6f6" stroke-width=".6"/><line x1="1256.4" x2="1256.4" y1="1210.9" y2="1456.3" stroke="#f6f6f6" stroke-width=".6"/><line x1="1263.7" x2="1263.7" y1="1210.9" y2="1456.3" stroke="#f6f6f6" stroke-width=".6"/><line x1="1269.6" x2="1269.6" y1="1210.9" y2="1456.3" stroke="#f6f6f6" stroke-width=".6"/><line x1="1274.7" x2="1274.7" y1="1210.9" y2="1456.3" stroke="#f6f6f6" stroke-width=".6"/><line x1="1279.0" x2="1279.0" y1="1210.9" y2="1456.3" stroke="#f6f6f6" stroke-width=".6"/><line x1="1282.8" x2="1282.8" y1="1210.9" y2="1456.3" stroke="#f6f6f6" stroke-width=".6"/><line x1="1308.8" x2="1308.8" y1="1210.9" y2="1456.3" stroke="#f6f6f6" stroke-width=".6"/><line x1="1322.0" x2="1322.0" y1="1210.9" y2="1456.3" stroke="#f6f6f6" stroke-width=".6"/><line x1="1331.4" x2="1331.4" y1="1210.9" y2="1456.3" stroke="#f6f6f6" stroke-width=".6"/><line x1="1338.7" x2="1338.7" y1="1210.9" y2="1456.3" stroke="#f6f6f6" stroke-width=".6"/><line x1="1344.6" x2="1344.6" y1="1210.9" y2="1456.3" stroke="#f6f6f6" stroke-width=".6"/><line x1="1349.6" x2="1349.6" y1="1210.9" y2="1456.3" stroke="#f6f6f6" stroke-width=".6"/><line x1="1354.0" x2="1354.0" y1="1210.9" y2="1456.3" stroke="#f6f6f6" stroke-width=".6"/><line x1="1357.8" x2="1357.8" y1="1210.9" y2="1456.3" stroke="#f6f6f6" stroke-width=".6"/><line x1="1383.8" x2="1383.8" y1="1210.9" y2="1456.3" stroke="#f6f6f6" stroke-width=".6"/><line x1="1397.0" x2="1397.0" y1="1210.9" y2="1456.3" stroke="#f6f6f6" stroke-width=".6"/><line x1="1406.4" x2="1406.4" y1="1210.9" y2="1456.3" stroke="#f6f6f6" stroke-width=".6"/><line x1="1413.6" x2="1413.6" y1="1210.9" y2="1456.3" stroke="#f6f6f6" stroke-width=".6"/><line x1="1419.6" x2="1419.6" y1="1210.9" y2="1456.3" stroke="#f6f6f6" stroke-width=".6"/><line x1="1424.6" x2="1424.6" y1="1210.9" y2="1456.3" stroke="#f6f6f6" stroke-width=".6"/><line x1="1428.9" x2="1428.9" y1="1210.9" y2="1456.3" stroke="#f6f6f6" stroke-width=".6"/><line x1="1432.8" x2="1432.8" y1="1210.9" y2="1456.3" stroke="#f6f6f6" stroke-width=".6"/><line x1="1458.8" x2="1458.8" y1="1210.9" y2="1456.3" stroke="#f6f6f6" stroke-width=".6"/><line x1="1472.0" x2="1472.0" y1="1210.9" y2="1456.3" stroke="#f6f6f6" stroke-width=".6"/><line x1="1481.3" x2="1481.3" y1="1210.9" y2="1456.3" stroke="#f6f6f6" stroke-width=".6"/><line x1="1488.6" x2="1488.6" y1="1210.9" y2="1456.3" stroke="#f6f6f6" stroke-width=".6"/><line x1="1494.5" x2="1494.5" y1="1210.9" y2="1456.3" stroke="#f6f6f6" stroke-width=".6"/><line x1="1499.6" x2="1499.6" y1="1210.9" y2="1456.3" stroke="#f6f6f6" stroke-width=".6"/><line x1="1503.9" x2="1503.9" y1="1210.9" y2="1456.3" stroke="#f6f6f6" stroke-width=".6"/><line x1="1507.7" x2="1507.7" y1="1210.9" y2="1456.3" stroke="#f6f6f6" stroke-width=".6"/><line x1="1198.6" x2="1525.7" y1="1449.2" y2="1449.2" stroke="#f6f6f6" stroke-width=".6"/><line x1="1198.6" x2="1525.7" y1="1401.8" y2="1401.8" stroke="#f6f6f6" stroke-width=".6"/><line x1="1198.6" x2="1525.7" y1="1354.2" y2="1354.2" stroke="#f6f6f6" stroke-width=".6"/><line x1="1198.6" x2="1525.7" y1="1306.8" y2="1306.8" stroke="#f6f6f6" stroke-width=".6"/><line x1="1198.6" x2="1525.7" y1="1259.2" y2="1259.2" stroke="#f6f6f6" stroke-width=".6"/><line x1="1198.6" x2="1525.7" y1="1211.8" y2="1211.8" stroke="#f6f6f6" stroke-width=".6"/><line x1="1211.3" x2="1211.3" y1="1210.9" y2="1456.3" stroke="#ebebeb" stroke-width="1.1"/><line x1="1286.3" x2="1286.3" y1="1210.9" y2="1456.3" stroke="#ebebeb" stroke-width="1.1"/><line x1="1361.2" x2="1361.2" y1="1210.9" y2="1456.3" stroke="#ebebeb" stroke-width="1.1"/><line x1="1436.2" x2="1436.2" y1="1210.9" y2="1456.3" stroke="#ebebeb" stroke-width="1.1"/><line x1="1511.2" x2="1511.2" y1="1210.9" y2="1456.3" stroke="#ebebeb" stroke-width="1.1"/><line x1="1198.6" x2="1525.7" y1="1425.5" y2="1425.5" stroke="#ebebeb" stroke-width="1.1"/><line x1="1198.6" x2="1525.7" y1="1378.0" y2="1378.0" stroke="#ebebeb" stroke-width="1.1"/><line x1="1198.6" x2="1525.7" y1="1330.5" y2="1330.5" stroke="#ebebeb" stroke-width="1.1"/><line x1="1198.6" x2="1525.7" y1="1283.0" y2="1283.0" stroke="#ebebeb" stroke-width="1.1"/><line x1="1198.6" x2="1525.7" y1="1235.5" y2="1235.5" stroke="#ebebeb" stroke-width="1.1"/><path d="M1211.3,1373.2 L1233.9,1260.2 L1247.1,1257.3 L1256.4,1254.5 L1263.7,1237.4 L1269.6,1242.2 L1274.7,1241.2 L1279.0,1237.4 L1282.8,1239.3 L1286.3,1240.2 L1292.2,1235.5 L1299.5,1227.0 L1303.5,1227.9 L1308.8,1223.2 L1316.1,1227.0 L1322.0,1227.9 L1331.4,1225.0 L1338.7,1227.0 L1349.6,1226.0 L1361.2,1225.0 L1374.4,1226.0 L1383.8,1227.9 L1397.0,1229.8 L1413.6,1229.8 L1436.2,1229.8 L1472.0,1230.0 L1511.2,1230.3 L1511.2,1231.2 L1472.0,1231.2 L1436.2,1231.7 L1413.6,1233.6 L1397.0,1234.5 L1383.8,1235.5 L1374.4,1237.4 L1361.2,1238.3 L1349.6,1238.3 L1338.7,1241.2 L1331.4,1240.2 L1322.0,1245.0 L1316.1,1246.0 L1308.8,1247.8 L1303.5,1251.7 L1299.5,1249.8 L1292.2,1262.1 L1286.3,1264.0 L1282.8,1264.0 L1279.0,1268.8 L1274.7,1275.4 L1269.6,1283.0 L1263.7,1298.2 L1256.4,1321.0 L1247.1,1324.8 L1233.9,1349.5 L1211.3,1447.4 Z" fill="#c2c2c2"/><path d="M1211.3,1412.2 L1233.9,1305.8 L1247.1,1290.6 L1256.4,1286.8 L1263.7,1269.7 L1269.6,1264.0 L1274.7,1259.2 L1279.0,1253.5 L1282.8,1251.7 L1286.3,1251.7 L1292.2,1248.8 L1299.5,1238.3 L1303.5,1240.2 L1308.8,1234.5 L1316.1,1235.5 L1322.0,1234.5 L1331.4,1231.7 L1338.7,1233.6 L1349.6,1231.7 L1361.2,1231.2 L1374.4,1231.2 L1383.8,1231.2 L1397.0,1232.7 L1413.6,1231.7 L1436.2,1230.8 L1472.0,1230.6 L1511.2,1230.8" fill="none" stroke="#111" stroke-width="1.4" stroke-linejoin="round"/><defs><linearGradient id="cb" x1="0" y1="1" x2="0" y2="0"><stop offset="0.000" stop-color="#f7fbff"/><stop offset="0.125" stop-color="#deebf7"/><stop offset="0.250" stop-color="#c6dbef"/><stop offset="0.375" stop-color="#9ecae1"/><stop offset="0.500" stop-color="#6baed6"/><stop offset="0.625" stop-color="#4292c6"/><stop offset="0.750" stop-color="#2171b5"/><stop offset="0.875" stop-color="#08519c"/><stop offset="1.000" stop-color="#08306b"/></linearGradient></defs><rect x="1917.6" y="1221" width="20.2" height="230.6" fill="url(#cb)" stroke="#bbb" stroke-width=".7"/><line x1="1937.8" x2="1940" y1="1451.6" y2="1451.6" stroke="#555" stroke-width=".8"/><line x1="1937.8" x2="1940" y1="1417.7" y2="1417.7" stroke="#555" stroke-width=".8"/><line x1="1937.8" x2="1940" y1="1383.8" y2="1383.8" stroke="#555" stroke-width=".8"/><line x1="1937.8" x2="1940" y1="1349.9" y2="1349.9" stroke="#555" stroke-width=".8"/><line x1="1937.8" x2="1940" y1="1316.0" y2="1316.0" stroke="#555" stroke-width=".8"/><line x1="1937.8" x2="1940" y1="1282.1" y2="1282.1" stroke="#555" stroke-width=".8"/><line x1="1937.8" x2="1940" y1="1248.2" y2="1248.2" stroke="#555" stroke-width=".8"/></svg>
<svg style="left:1648.9px;top:1214.2px" width="239" height="239" viewBox="0 0 50 50" shape-rendering="crispEdges"><rect width="50" height="50" fill="#4a98c9"/><path d="M0 0h1v1h-1zM12 0h1v1h-1zM32 0h1v1h-1zM44 0h1v1h-1zM1 1h1v1h-1zM30 1h1v1h-1zM32 1h1v1h-1zM43 1h1v1h-1zM2 2h2v1h-2zM27 2h1v1h-1zM45 2h1v1h-1zM2 3h2v1h-2zM6 3h1v1h-1zM11 3h1v1h-1zM30 3h1v1h-1zM4 4h1v1h-1zM8 4h1v1h-1zM10 4h1v1h-1zM25 4h1v1h-1zM5 5h2v1h-2zM18 5h1v1h-1zM31 5h1v1h-1zM43 5h1v1h-1zM3 6h1v1h-1zM5 6h2v1h-2zM11 6h1v1h-1zM30 6h1v1h-1zM7 7h1v1h-1zM13 7h1v1h-1zM4 8h1v1h-1zM8 8h1v1h-1zM47 8h1v1h-1zM9 9h1v1h-1zM42 9h1v1h-1zM4 10h1v1h-1zM10 10h1v1h-1zM29 10h1v1h-1zM3 11h1v1h-1zM6 11h1v1h-1zM11 11h1v1h-1zM45 11h2v1h-2zM0 12h1v1h-1zM12 12h1v1h-1zM21 12h1v1h-1zM7 13h1v1h-1zM13 13h1v1h-1zM15 13h1v1h-1zM14 14h1v1h-1zM22 14h1v1h-1zM29 14h1v1h-1zM47 14h1v1h-1zM13 15h1v1h-1zM15 15h1v1h-1zM19 15h1v1h-1zM16 16h1v1h-1zM46 16h1v1h-1zM17 17h1v1h-1zM19 17h1v1h-1zM5 18h1v1h-1zM18 18h1v1h-1zM25 18h1v1h-1zM30 18h1v1h-1zM15 19h1v1h-1zM17 19h1v1h-1zM19 19h2v1h-2zM41 19h1v1h-1zM44 19h1v1h-1zM19 20h2v1h-2zM25 20h1v1h-1zM41 20h1v1h-1zM12 21h1v1h-1zM21 21h2v1h-2zM38 21h1v1h-1zM14 22h1v1h-1zM21 22h2v1h-2zM23 23h2v1h-2zM44 23h1v1h-1zM46 23h1v1h-1zM23 24h3v1h-3zM4 25h1v1h-1zM18 25h1v1h-1zM20 25h1v1h-1zM24 25h2v1h-2zM41 25h1v1h-1zM47 25h1v1h-1zM26 26h1v1h-1zM29 26h1v1h-1zM37 26h1v1h-1zM2 27h1v1h-1zM27 27h1v1h-1zM28 28h1v1h-1zM30 28h1v1h-1zM34 28h1v1h-1zM48 28h1v1h-1zM10 29h1v1h-1zM14 29h1v1h-1zM26 29h1v1h-1zM29 29h1v1h-1zM1 30h1v1h-1zM3 30h1v1h-1zM6 30h1v1h-1zM18 30h1v1h-1zM28 30h1v1h-1zM30 30h1v1h-1zM32 30h1v1h-1zM48 30h2v1h-2zM5 31h1v1h-1zM31 31h1v1h-1zM0 32h2v1h-2zM30 32h1v1h-1zM32 32h1v1h-1zM33 33h1v1h-1zM28 34h1v1h-1zM34 34h1v1h-1zM36 34h1v1h-1zM40 34h1v1h-1zM35 35h1v1h-1zM34 36h1v1h-1zM36 36h1v1h-1zM38 36h1v1h-1zM26 37h1v1h-1zM37 37h1v1h-1zM39 37h1v1h-1zM21 38h1v1h-1zM36 38h1v1h-1zM38 38h1v1h-1zM37 39h1v1h-1zM39 39h2v1h-2zM34 40h1v1h-1zM39 40h2v1h-2zM19 41h2v1h-2zM25 41h1v1h-1zM41 41h1v1h-1zM9 42h1v1h-1zM42 42h1v1h-1zM1 43h1v1h-1zM5 43h1v1h-1zM43 43h1v1h-1zM0 44h1v1h-1zM19 44h1v1h-1zM23 44h1v1h-1zM44 44h1v1h-1zM2 45h1v1h-1zM11 45h1v1h-1zM45 45h1v1h-1zM47 45h1v1h-1zM11 46h1v1h-1zM16 46h1v1h-1zM23 46h1v1h-1zM46 46h1v1h-1zM8 47h1v1h-1zM14 47h1v1h-1zM25 47h1v1h-1zM45 47h1v1h-1zM47 47h1v1h-1zM28 48h1v1h-1zM30 48h1v1h-1zM48 48h1v1h-1zM30 49h1v1h-1zM49 49h1v1h-1z" fill="#f2a81f"/><path d="M1 0h1v1h-1zM5 0h2v1h-2zM10 0h1v1h-1zM15 0h1v1h-1zM17 0h1v1h-1zM19 0h1v1h-1zM27 0h2v1h-2zM31 0h1v1h-1zM33 0h1v1h-1zM36 0h1v1h-1zM42 0h1v1h-1zM0 1h1v1h-1zM7 1h1v1h-1zM9 1h2v1h-2zM14 1h2v1h-2zM24 1h1v1h-1zM38 1h1v1h-1zM42 1h1v1h-1zM46 1h1v1h-1zM49 1h1v1h-1zM14 2h1v1h-1zM20 2h1v1h-1zM26 2h1v1h-1zM28 2h2v1h-2zM32 2h1v1h-1zM34 2h1v1h-1zM38 2h1v1h-1zM47 2h1v1h-1zM15 3h1v1h-1zM17 3h1v1h-1zM24 3h2v1h-2zM28 3h2v1h-2zM6 4h1v1h-1zM11 4h1v1h-1zM14 4h1v1h-1zM16 4h1v1h-1zM19 4h1v1h-1zM22 4h1v1h-1zM27 4h1v1h-1zM29 4h1v1h-1zM32 4h1v1h-1zM40 4h1v1h-1zM44 4h1v1h-1zM46 4h1v1h-1zM0 5h1v1h-1zM9 5h1v1h-1zM13 5h2v1h-2zM28 5h1v1h-1zM42 5h1v1h-1zM45 5h1v1h-1zM49 5h1v1h-1zM0 6h1v1h-1zM4 6h1v1h-1zM18 6h1v1h-1zM22 6h1v1h-1zM25 6h1v1h-1zM34 6h1v1h-1zM36 6h1v1h-1zM49 6h1v1h-1zM1 7h1v1h-1zM9 7h1v1h-1zM12 7h1v1h-1zM15 7h1v1h-1zM17 7h1v1h-1zM27 7h1v1h-1zM29 7h1v1h-1zM31 7h1v1h-1zM37 7h1v1h-1zM41 7h1v1h-1zM48 7h1v1h-1zM10 8h2v1h-2zM13 8h2v1h-2zM23 8h1v1h-1zM27 8h1v1h-1zM32 8h1v1h-1zM38 8h2v1h-2zM42 8h1v1h-1zM44 8h1v1h-1zM46 8h1v1h-1zM49 8h1v1h-1zM1 9h1v1h-1zM5 9h1v1h-1zM7 9h1v1h-1zM12 9h2v1h-2zM15 9h2v1h-2zM18 9h2v1h-2zM21 9h3v1h-3zM33 9h2v1h-2zM36 9h1v1h-1zM38 9h1v1h-1zM45 9h1v1h-1zM47 9h1v1h-1zM0 10h2v1h-2zM8 10h1v1h-1zM11 10h1v1h-1zM14 10h2v1h-2zM18 10h1v1h-1zM21 10h1v1h-1zM26 10h1v1h-1zM34 10h1v1h-1zM42 10h1v1h-1zM48 10h2v1h-2zM4 11h1v1h-1zM8 11h1v1h-1zM10 11h1v1h-1zM20 11h1v1h-1zM36 11h1v1h-1zM39 11h1v1h-1zM49 11h1v1h-1zM7 12h1v1h-1zM9 12h1v1h-1zM14 12h3v1h-3zM19 12h2v1h-2zM24 12h1v1h-1zM26 12h1v1h-1zM31 12h1v1h-1zM34 12h1v1h-1zM38 12h1v1h-1zM42 12h1v1h-1zM45 12h1v1h-1zM49 12h1v1h-1zM5 13h1v1h-1zM8 13h2v1h-2zM16 13h1v1h-1zM19 13h1v1h-1zM38 13h3v1h-3zM1 14h2v1h-2zM4 14h2v1h-2zM8 14h1v1h-1zM10 14h1v1h-1zM12 14h1v1h-1zM16 14h1v1h-1zM27 14h1v1h-1zM31 14h1v1h-1zM36 14h2v1h-2zM40 14h1v1h-1zM43 14h1v1h-1zM45 14h1v1h-1zM49 14h1v1h-1zM0 15h2v1h-2zM3 15h1v1h-1zM7 15h1v1h-1zM9 15h2v1h-2zM12 15h1v1h-1zM29 15h1v1h-1zM31 15h1v1h-1zM34 15h1v1h-1zM46 15h2v1h-2zM4 16h1v1h-1zM9 16h1v1h-1zM12 16h3v1h-3zM19 16h2v1h-2zM23 16h1v1h-1zM28 16h1v1h-1zM36 16h1v1h-1zM44 16h1v1h-1zM0 17h1v1h-1zM3 17h1v1h-1zM7 17h1v1h-1zM20 17h2v1h-2zM26 17h1v1h-1zM36 17h2v1h-2zM46 17h1v1h-1zM6 18h1v1h-1zM9 18h2v1h-2zM19 18h3v1h-3zM24 18h1v1h-1zM33 18h1v1h-1zM39 18h1v1h-1zM0 19h1v1h-1zM4 19h1v1h-1zM9 19h1v1h-1zM12 19h2v1h-2zM16 19h1v1h-1zM18 19h1v1h-1zM26 19h1v1h-1zM29 19h1v1h-1zM31 19h1v1h-1zM34 19h1v1h-1zM43 19h1v1h-1zM45 19h4v1h-4zM2 20h1v1h-1zM11 20h2v1h-2zM16 20h3v1h-3zM24 20h1v1h-1zM29 20h1v1h-1zM31 20h2v1h-2zM39 20h1v1h-1zM42 20h1v1h-1zM9 21h2v1h-2zM17 21h2v1h-2zM25 21h1v1h-1zM31 21h1v1h-1zM35 21h1v1h-1zM39 21h1v1h-1zM42 21h1v1h-1zM4 22h1v1h-1zM6 22h1v1h-1zM9 22h1v1h-1zM28 22h2v1h-2zM32 22h1v1h-1zM39 22h1v1h-1zM42 22h1v1h-1zM45 22h1v1h-1zM47 22h2v1h-2zM8 23h2v1h-2zM16 23h1v1h-1zM27 23h1v1h-1zM29 23h3v1h-3zM39 23h2v1h-2zM43 23h1v1h-1zM1 24h1v1h-1zM3 24h1v1h-1zM12 24h1v1h-1zM18 24h1v1h-1zM20 24h1v1h-1zM29 24h1v1h-1zM31 24h1v1h-1zM44 24h1v1h-1zM48 24h2v1h-2zM3 25h1v1h-1zM6 25h1v1h-1zM21 25h1v1h-1zM28 25h2v1h-2zM34 25h2v1h-2zM39 25h1v1h-1zM44 25h1v1h-1zM49 25h1v1h-1zM2 26h1v1h-1zM10 26h1v1h-1zM12 26h1v1h-1zM17 26h1v1h-1zM19 26h1v1h-1zM30 26h2v1h-2zM36 26h1v1h-1zM38 26h1v1h-1zM0 27h1v1h-1zM4 27h1v1h-1zM7 27h2v1h-2zM14 27h1v1h-1zM23 27h1v1h-1zM29 27h1v1h-1zM31 27h1v1h-1zM40 27h1v1h-1zM46 27h1v1h-1zM0 28h1v1h-1zM2 28h2v1h-2zM5 28h1v1h-1zM16 28h1v1h-1zM22 28h1v1h-1zM25 28h1v1h-1zM31 28h1v1h-1zM33 28h1v1h-1zM36 28h2v1h-2zM39 28h2v1h-2zM49 28h1v1h-1zM2 29h3v1h-3zM7 29h1v1h-1zM15 29h1v1h-1zM19 29h2v1h-2zM22 29h4v1h-4zM27 29h1v1h-1zM37 29h1v1h-1zM40 29h1v1h-1zM44 29h1v1h-1zM23 30h1v1h-1zM26 30h1v1h-1zM36 30h1v1h-1zM45 30h1v1h-1zM47 30h1v1h-1zM0 31h1v1h-1zM7 31h1v1h-1zM12 31h1v1h-1zM14 31h2v1h-2zM19 31h3v1h-3zM23 31h2v1h-2zM26 31h3v1h-3zM35 31h1v1h-1zM42 31h1v1h-1zM2 32h1v1h-1zM4 32h1v1h-1zM8 32h1v1h-1zM20 32h1v1h-1zM22 32h1v1h-1zM33 32h1v1h-1zM36 32h1v1h-1zM42 32h1v1h-1zM45 32h2v1h-2zM0 33h1v1h-1zM9 33h1v1h-1zM18 33h1v1h-1zM28 33h1v1h-1zM32 33h1v1h-1zM40 33h4v1h-4zM48 33h1v1h-1zM2 34h1v1h-1zM6 34h1v1h-1zM9 34h2v1h-2zM12 34h1v1h-1zM15 34h1v1h-1zM19 34h1v1h-1zM25 34h1v1h-1zM35 34h1v1h-1zM46 34h1v1h-1zM48 34h1v1h-1zM21 35h1v1h-1zM25 35h1v1h-1zM31 35h1v1h-1zM34 35h1v1h-1zM42 35h2v1h-2zM46 35h1v1h-1zM49 35h1v1h-1zM0 36h1v1h-1zM6 36h1v1h-1zM9 36h1v1h-1zM11 36h1v1h-1zM14 36h1v1h-1zM16 36h2v1h-2zM26 36h1v1h-1zM28 36h1v1h-1zM30 36h1v1h-1zM32 36h1v1h-1zM7 37h1v1h-1zM14 37h1v1h-1zM17 37h1v1h-1zM28 37h2v1h-2zM43 37h1v1h-1zM45 37h1v1h-1zM47 37h3v1h-3zM1 38h2v1h-2zM8 38h2v1h-2zM12 38h2v1h-2zM26 38h1v1h-1zM42 38h1v1h-1zM44 38h1v1h-1zM8 39h1v1h-1zM11 39h1v1h-1zM13 39h1v1h-1zM18 39h1v1h-1zM20 39h4v1h-4zM25 39h1v1h-1zM28 39h1v1h-1zM43 39h1v1h-1zM45 39h2v1h-2zM48 39h1v1h-1zM4 40h1v1h-1zM13 40h2v1h-2zM23 40h1v1h-1zM27 40h3v1h-3zM33 40h1v1h-1zM43 40h2v1h-2zM7 41h1v1h-1zM33 41h1v1h-1zM0 42h2v1h-2zM5 42h1v1h-1zM8 42h1v1h-1zM10 42h1v1h-1zM12 42h1v1h-1zM20 42h3v1h-3zM31 42h3v1h-3zM35 42h1v1h-1zM38 42h1v1h-1zM14 43h1v1h-1zM19 43h1v1h-1zM23 43h1v1h-1zM33 43h1v1h-1zM35 43h1v1h-1zM37 43h1v1h-1zM39 43h2v1h-2zM44 43h1v1h-1zM47 43h1v1h-1zM49 43h1v1h-1zM4 44h1v1h-1zM8 44h1v1h-1zM16 44h1v1h-1zM24 44h2v1h-2zM29 44h1v1h-1zM38 44h1v1h-1zM40 44h1v1h-1zM43 44h1v1h-1zM49 44h1v1h-1zM5 45h1v1h-1zM9 45h1v1h-1zM12 45h1v1h-1zM14 45h1v1h-1zM19 45h1v1h-1zM22 45h1v1h-1zM30 45h1v1h-1zM32 45h1v1h-1zM37 45h1v1h-1zM39 45h1v1h-1zM1 46h1v1h-1zM4 46h1v1h-1zM8 46h1v1h-1zM15 46h1v1h-1zM17 46h1v1h-1zM19 46h1v1h-1zM27 46h1v1h-1zM32 46h1v1h-1zM34 46h2v1h-2zM39 46h1v1h-1zM47 46h1v1h-1zM2 47h1v1h-1zM9 47h1v1h-1zM15 47h1v1h-1zM19 47h1v1h-1zM22 47h1v1h-1zM30 47h1v1h-1zM37 47h1v1h-1zM43 47h1v1h-1zM46 47h1v1h-1zM7 48h1v1h-1zM10 48h1v1h-1zM19 48h1v1h-1zM22 48h1v1h-1zM24 48h1v1h-1zM33 48h2v1h-2zM37 48h1v1h-1zM39 48h1v1h-1zM49 48h1v1h-1zM1 49h1v1h-1zM5 49h2v1h-2zM8 49h1v1h-1zM10 49h3v1h-3zM14 49h1v1h-1zM24 49h2v1h-2zM28 49h1v1h-1zM35 49h1v1h-1zM37 49h1v1h-1zM43 49h2v1h-2zM48 49h1v1h-1z" fill="#4a98c9"/><path d="M2 0h2v1h-2zM9 0h1v1h-1zM18 0h1v1h-1zM20 0h1v1h-1zM24 0h1v1h-1zM30 0h1v1h-1zM43 0h1v1h-1zM49 0h1v1h-1zM2 1h1v1h-1zM11 1h1v1h-1zM20 1h1v1h-1zM23 1h1v1h-1zM25 1h4v1h-4zM31 1h1v1h-1zM33 1h1v1h-1zM35 1h3v1h-3zM45 1h1v1h-1zM0 2h2v1h-2zM4 2h1v1h-1zM8 2h1v1h-1zM10 2h1v1h-1zM15 2h1v1h-1zM18 2h2v1h-2zM21 2h1v1h-1zM24 2h1v1h-1zM30 2h2v1h-2zM37 2h1v1h-1zM39 2h1v1h-1zM49 2h1v1h-1zM0 3h1v1h-1zM8 3h2v1h-2zM16 3h1v1h-1zM18 3h1v1h-1zM21 3h1v1h-1zM23 3h1v1h-1zM26 3h1v1h-1zM36 3h1v1h-1zM42 3h1v1h-1zM44 3h1v1h-1zM48 3h1v1h-1zM2 4h1v1h-1zM5 4h1v1h-1zM7 4h1v1h-1zM20 4h1v1h-1zM24 4h1v1h-1zM31 4h1v1h-1zM34 4h1v1h-1zM37 4h3v1h-3zM42 4h1v1h-1zM45 4h1v1h-1zM47 4h1v1h-1zM4 5h1v1h-1zM16 5h1v1h-1zM19 5h1v1h-1zM25 5h2v1h-2zM29 5h1v1h-1zM35 5h2v1h-2zM20 6h1v1h-1zM33 6h1v1h-1zM39 6h1v1h-1zM4 7h1v1h-1zM10 7h2v1h-2zM16 7h1v1h-1zM18 7h1v1h-1zM20 7h1v1h-1zM23 7h3v1h-3zM34 7h1v1h-1zM36 7h1v1h-1zM43 7h1v1h-1zM47 7h1v1h-1zM49 7h1v1h-1zM2 8h2v1h-2zM15 8h1v1h-1zM20 8h1v1h-1zM22 8h1v1h-1zM40 8h1v1h-1zM43 8h1v1h-1zM0 9h1v1h-1zM3 9h1v1h-1zM10 9h1v1h-1zM14 9h1v1h-1zM17 9h1v1h-1zM24 9h2v1h-2zM28 9h1v1h-1zM30 9h2v1h-2zM40 9h1v1h-1zM49 9h1v1h-1zM2 10h1v1h-1zM7 10h1v1h-1zM9 10h1v1h-1zM13 10h1v1h-1zM19 10h1v1h-1zM27 10h1v1h-1zM33 10h1v1h-1zM41 10h1v1h-1zM47 10h1v1h-1zM1 11h1v1h-1zM7 11h1v1h-1zM19 11h1v1h-1zM40 11h1v1h-1zM25 12h1v1h-1zM27 12h1v1h-1zM30 12h1v1h-1zM36 12h2v1h-2zM39 12h1v1h-1zM46 12h1v1h-1zM10 13h1v1h-1zM30 13h1v1h-1zM35 13h1v1h-1zM9 14h1v1h-1zM33 14h1v1h-1zM35 14h1v1h-1zM39 14h1v1h-1zM44 14h1v1h-1zM2 15h1v1h-1zM8 15h1v1h-1zM20 15h1v1h-1zM22 15h1v1h-1zM25 15h1v1h-1zM35 15h2v1h-2zM39 15h2v1h-2zM3 16h1v1h-1zM5 16h1v1h-1zM7 16h1v1h-1zM27 16h1v1h-1zM33 16h1v1h-1zM37 16h1v1h-1zM40 16h1v1h-1zM43 16h1v1h-1zM47 16h1v1h-1zM49 16h1v1h-1zM9 17h1v1h-1zM18 17h1v1h-1zM34 17h1v1h-1zM39 17h1v1h-1zM0 18h1v1h-1zM2 18h2v1h-2zM7 18h1v1h-1zM17 18h1v1h-1zM38 18h1v1h-1zM40 18h1v1h-1zM47 18h1v1h-1zM2 19h1v1h-1zM5 19h1v1h-1zM10 19h2v1h-2zM27 19h2v1h-2zM30 19h1v1h-1zM40 19h1v1h-1zM42 19h1v1h-1zM0 20h2v1h-2zM4 20h1v1h-1zM6 20h3v1h-3zM15 20h1v1h-1zM21 20h1v1h-1zM30 20h1v1h-1zM33 20h2v1h-2zM46 20h1v1h-1zM2 21h2v1h-2zM20 21h1v1h-1zM30 21h1v1h-1zM33 21h1v1h-1zM40 21h1v1h-1zM8 22h1v1h-1zM15 22h1v1h-1zM31 22h1v1h-1zM35 22h3v1h-3zM40 22h1v1h-1zM44 22h1v1h-1zM46 22h1v1h-1zM49 22h1v1h-1zM1 23h1v1h-1zM3 23h1v1h-1zM7 23h1v1h-1zM37 23h1v1h-1zM0 24h1v1h-1zM2 24h1v1h-1zM4 24h1v1h-1zM7 24h1v1h-1zM9 24h1v1h-1zM30 24h1v1h-1zM34 24h3v1h-3zM40 24h1v1h-1zM43 24h1v1h-1zM1 25h1v1h-1zM5 25h1v1h-1zM7 25h1v1h-1zM9 25h1v1h-1zM12 25h1v1h-1zM15 25h1v1h-1zM27 25h1v1h-1zM32 25h2v1h-2zM36 25h1v1h-1zM38 25h1v1h-1zM42 25h1v1h-1zM48 25h1v1h-1zM1 26h1v1h-1zM3 26h1v1h-1zM5 26h1v1h-1zM33 26h1v1h-1zM1 27h1v1h-1zM10 27h1v1h-1zM12 27h1v1h-1zM16 27h1v1h-1zM19 27h1v1h-1zM25 27h1v1h-1zM30 27h1v1h-1zM36 27h1v1h-1zM47 27h1v1h-1zM1 28h1v1h-1zM9 28h1v1h-1zM19 28h1v1h-1zM35 28h1v1h-1zM5 29h1v1h-1zM30 29h2v1h-2zM0 30h1v1h-1zM2 30h1v1h-1zM9 30h1v1h-1zM12 30h2v1h-2zM19 30h3v1h-3zM24 30h1v1h-1zM27 30h1v1h-1zM29 30h1v1h-1zM34 30h1v1h-1zM46 30h1v1h-1zM1 31h2v1h-2zM4 31h1v1h-1zM9 31h1v1h-1zM22 31h1v1h-1zM29 31h1v1h-1zM33 31h1v1h-1zM40 31h2v1h-2zM49 31h1v1h-1zM25 32h1v1h-1zM41 32h1v1h-1zM1 33h1v1h-1zM6 33h1v1h-1zM10 33h1v1h-1zM14 33h1v1h-1zM16 33h1v1h-1zM20 33h2v1h-2zM25 33h2v1h-2zM31 33h1v1h-1zM37 33h1v1h-1zM45 33h1v1h-1zM4 34h1v1h-1zM7 34h1v1h-1zM17 34h1v1h-1zM20 34h1v1h-1zM24 34h1v1h-1zM30 34h1v1h-1zM38 34h1v1h-1zM1 35h1v1h-1zM5 35h1v1h-1zM13 35h3v1h-3zM22 35h1v1h-1zM24 35h1v1h-1zM28 35h1v1h-1zM36 35h2v1h-2zM1 36h1v1h-1zM3 36h1v1h-1zM5 36h1v1h-1zM7 36h1v1h-1zM12 36h1v1h-1zM15 36h1v1h-1zM22 36h1v1h-1zM24 36h2v1h-2zM27 36h1v1h-1zM35 36h1v1h-1zM39 36h1v1h-1zM43 36h1v1h-1zM45 36h1v1h-1zM47 36h1v1h-1zM49 36h1v1h-1zM1 37h2v1h-2zM4 37h1v1h-1zM12 37h1v1h-1zM16 37h1v1h-1zM22 37h2v1h-2zM33 37h1v1h-1zM35 37h1v1h-1zM40 37h1v1h-1zM42 37h1v1h-1zM44 37h1v1h-1zM4 38h1v1h-1zM18 38h1v1h-1zM25 38h1v1h-1zM34 38h1v1h-1zM2 39h1v1h-1zM4 39h1v1h-1zM6 39h1v1h-1zM12 39h1v1h-1zM14 39h2v1h-2zM17 39h1v1h-1zM36 39h1v1h-1zM44 39h1v1h-1zM49 39h1v1h-1zM8 40h2v1h-2zM11 40h1v1h-1zM15 40h2v1h-2zM18 40h2v1h-2zM21 40h2v1h-2zM24 40h1v1h-1zM31 40h1v1h-1zM37 40h1v1h-1zM42 40h1v1h-1zM45 40h1v1h-1zM10 41h1v1h-1zM31 41h2v1h-2zM3 42h2v1h-2zM19 42h1v1h-1zM25 42h1v1h-1zM37 42h1v1h-1zM40 42h1v1h-1zM0 43h1v1h-1zM7 43h2v1h-2zM16 43h1v1h-1zM24 43h1v1h-1zM36 43h1v1h-1zM3 44h1v1h-1zM14 44h1v1h-1zM22 44h1v1h-1zM37 44h1v1h-1zM39 44h1v1h-1zM1 45h1v1h-1zM4 45h1v1h-1zM33 45h1v1h-1zM36 45h1v1h-1zM40 45h1v1h-1zM12 46h1v1h-1zM20 46h1v1h-1zM22 46h1v1h-1zM30 46h1v1h-1zM4 47h1v1h-1zM7 47h1v1h-1zM10 47h1v1h-1zM16 47h1v1h-1zM18 47h1v1h-1zM27 47h1v1h-1zM36 47h1v1h-1zM49 47h1v1h-1zM3 48h1v1h-1zM25 48h1v1h-1zM0 49h1v1h-1zM2 49h1v1h-1zM7 49h1v1h-1zM9 49h1v1h-1zM16 49h1v1h-1zM22 49h1v1h-1zM31 49h1v1h-1zM36 49h1v1h-1zM39 49h1v1h-1zM47 49h1v1h-1z" fill="#2e7ebc"/><path d="M4 0h1v1h-1zM4 1h1v1h-1zM36 2h1v1h-1zM20 3h1v1h-1zM33 3h1v1h-1zM0 4h2v1h-2zM8 5h1v1h-1zM33 5h1v1h-1zM47 5h1v1h-1zM40 7h1v1h-1zM5 8h1v1h-1zM24 8h1v1h-1zM35 8h1v1h-1zM22 10h1v1h-1zM30 10h2v1h-2zM39 10h1v1h-1zM40 12h1v1h-1zM25 16h1v1h-1zM33 19h1v1h-1zM37 19h1v1h-1zM39 19h1v1h-1zM49 19h1v1h-1zM3 20h1v1h-1zM22 20h1v1h-1zM10 22h1v1h-1zM20 22h1v1h-1zM33 22h1v1h-1zM8 24h1v1h-1zM16 25h1v1h-1zM10 30h1v1h-1zM35 30h1v1h-1zM38 30h1v1h-1zM10 31h1v1h-1zM36 31h1v1h-1zM3 33h1v1h-1zM5 33h1v1h-1zM19 33h1v1h-1zM22 33h1v1h-1zM8 35h1v1h-1zM30 35h1v1h-1zM2 36h1v1h-1zM31 36h1v1h-1zM40 36h1v1h-1zM19 37h1v1h-1zM30 38h1v1h-1zM10 39h1v1h-1zM19 39h1v1h-1zM7 40h1v1h-1zM12 40h1v1h-1zM36 40h1v1h-1zM5 47h1v1h-1zM19 49h1v1h-1z" fill="#084a92"/><path d="M7 0h2v1h-2zM25 0h1v1h-1zM40 0h1v1h-1zM5 1h1v1h-1zM8 1h1v1h-1zM16 1h1v1h-1zM19 1h1v1h-1zM39 1h1v1h-1zM47 1h1v1h-1zM5 2h1v1h-1zM7 2h1v1h-1zM12 2h1v1h-1zM16 2h1v1h-1zM22 2h1v1h-1zM33 2h1v1h-1zM42 2h1v1h-1zM4 3h2v1h-2zM7 3h1v1h-1zM14 3h1v1h-1zM19 3h1v1h-1zM22 3h1v1h-1zM31 3h1v1h-1zM35 3h1v1h-1zM37 3h4v1h-4zM47 3h1v1h-1zM3 4h1v1h-1zM30 4h1v1h-1zM33 4h1v1h-1zM36 4h1v1h-1zM1 5h3v1h-3zM7 5h1v1h-1zM10 5h1v1h-1zM15 5h1v1h-1zM20 5h1v1h-1zM22 5h1v1h-1zM30 5h1v1h-1zM37 5h4v1h-4zM44 5h1v1h-1zM46 5h1v1h-1zM31 6h1v1h-1zM0 7h1v1h-1zM2 7h2v1h-2zM5 7h1v1h-1zM8 7h1v1h-1zM14 7h1v1h-1zM19 7h1v1h-1zM22 7h1v1h-1zM30 7h1v1h-1zM33 7h1v1h-1zM35 7h1v1h-1zM38 7h2v1h-2zM42 7h1v1h-1zM44 7h1v1h-1zM0 8h2v1h-2zM7 8h1v1h-1zM9 8h1v1h-1zM12 8h1v1h-1zM16 8h1v1h-1zM18 8h2v1h-2zM21 8h1v1h-1zM25 8h1v1h-1zM30 8h2v1h-2zM33 8h2v1h-2zM37 8h1v1h-1zM8 9h1v1h-1zM20 9h1v1h-1zM37 9h1v1h-1zM5 10h1v1h-1zM16 10h1v1h-1zM20 10h1v1h-1zM24 10h2v1h-2zM35 10h3v1h-3zM44 10h1v1h-1zM2 12h1v1h-1zM8 12h1v1h-1zM47 12h1v1h-1zM3 14h1v1h-1zM7 14h1v1h-1zM19 14h2v1h-2zM30 14h1v1h-1zM5 15h1v1h-1zM30 15h1v1h-1zM33 15h1v1h-1zM37 15h1v1h-1zM1 16h2v1h-2zM8 16h1v1h-1zM10 16h1v1h-1zM21 16h2v1h-2zM24 16h1v1h-1zM30 16h2v1h-2zM34 16h2v1h-2zM39 16h1v1h-1zM25 17h1v1h-1zM47 17h1v1h-1zM8 18h1v1h-1zM31 18h1v1h-1zM1 19h1v1h-1zM3 19h1v1h-1zM7 19h2v1h-2zM14 19h1v1h-1zM22 19h4v1h-4zM35 19h1v1h-1zM38 19h1v1h-1zM5 20h1v1h-1zM9 20h2v1h-2zM14 20h1v1h-1zM27 20h1v1h-1zM36 20h2v1h-2zM8 21h1v1h-1zM16 21h1v1h-1zM2 22h2v1h-2zM5 22h1v1h-1zM7 22h1v1h-1zM16 22h1v1h-1zM19 22h1v1h-1zM24 22h1v1h-1zM30 22h1v1h-1zM34 22h1v1h-1zM19 23h1v1h-1zM25 23h1v1h-1zM10 24h1v1h-1zM16 24h1v1h-1zM19 24h1v1h-1zM22 24h1v1h-1zM33 24h1v1h-1zM38 24h2v1h-2zM0 25h1v1h-1zM8 25h1v1h-1zM10 25h1v1h-1zM17 25h1v1h-1zM19 25h1v1h-1zM23 25h1v1h-1zM30 25h1v1h-1zM37 25h1v1h-1zM40 25h1v1h-1zM43 25h1v1h-1zM20 27h1v1h-1zM33 29h1v1h-1zM36 29h1v1h-1zM4 30h2v1h-2zM7 30h2v1h-2zM14 30h3v1h-3zM22 30h1v1h-1zM25 30h1v1h-1zM31 30h1v1h-1zM33 30h1v1h-1zM39 30h2v1h-2zM3 31h1v1h-1zM6 31h1v1h-1zM8 31h1v1h-1zM16 31h1v1h-1zM18 31h1v1h-1zM30 31h1v1h-1zM37 31h1v1h-1zM39 31h1v1h-1zM46 31h1v1h-1zM35 32h1v1h-1zM2 33h1v1h-1zM4 33h1v1h-1zM7 33h2v1h-2zM15 33h1v1h-1zM24 33h1v1h-1zM29 33h2v1h-2zM38 33h2v1h-2zM46 33h2v1h-2zM8 34h1v1h-1zM16 34h1v1h-1zM22 34h1v1h-1zM37 34h1v1h-1zM3 35h1v1h-1zM7 35h1v1h-1zM10 35h1v1h-1zM16 35h1v1h-1zM19 35h1v1h-1zM32 35h1v1h-1zM38 35h1v1h-1zM4 36h1v1h-1zM10 36h1v1h-1zM20 36h1v1h-1zM29 36h1v1h-1zM42 36h1v1h-1zM46 36h1v1h-1zM3 37h1v1h-1zM5 37h1v1h-1zM8 37h3v1h-3zM15 37h1v1h-1zM20 37h1v1h-1zM25 37h1v1h-1zM31 37h1v1h-1zM34 37h1v1h-1zM3 38h1v1h-1zM5 38h1v1h-1zM7 38h1v1h-1zM19 38h1v1h-1zM24 38h1v1h-1zM33 38h1v1h-1zM35 38h1v1h-1zM39 38h1v1h-1zM1 39h1v1h-1zM3 39h1v1h-1zM5 39h1v1h-1zM7 39h1v1h-1zM16 39h1v1h-1zM24 39h1v1h-1zM30 39h2v1h-2zM33 39h1v1h-1zM38 39h1v1h-1zM47 39h1v1h-1zM0 40h1v1h-1zM3 40h1v1h-1zM5 40h1v1h-1zM25 40h1v1h-1zM30 40h1v1h-1zM2 42h1v1h-1zM7 42h1v1h-1zM36 42h1v1h-1zM25 43h1v1h-1zM5 44h1v1h-1zM7 44h1v1h-1zM10 44h1v1h-1zM5 46h1v1h-1zM31 46h1v1h-1zM33 46h1v1h-1zM36 46h1v1h-1zM1 47h1v1h-1zM3 47h1v1h-1zM12 47h1v1h-1zM17 47h1v1h-1zM33 47h1v1h-1zM39 47h1v1h-1z" fill="#1764ab"/><path d="M11 0h1v1h-1zM14 0h1v1h-1zM22 0h2v1h-2zM26 0h1v1h-1zM34 0h2v1h-2zM37 0h2v1h-2zM46 0h3v1h-3zM13 1h1v1h-1zM17 1h2v1h-2zM21 1h1v1h-1zM34 1h1v1h-1zM40 1h2v1h-2zM48 1h1v1h-1zM6 2h1v1h-1zM11 2h1v1h-1zM13 2h1v1h-1zM23 2h1v1h-1zM25 2h1v1h-1zM43 2h1v1h-1zM46 2h1v1h-1zM48 2h1v1h-1zM10 3h1v1h-1zM12 3h2v1h-2zM27 3h1v1h-1zM32 3h1v1h-1zM45 3h2v1h-2zM49 3h1v1h-1zM9 4h1v1h-1zM13 4h1v1h-1zM15 4h1v1h-1zM21 4h1v1h-1zM26 4h1v1h-1zM28 4h1v1h-1zM35 4h1v1h-1zM48 4h1v1h-1zM11 5h2v1h-2zM17 5h1v1h-1zM27 5h1v1h-1zM32 5h1v1h-1zM34 5h1v1h-1zM48 5h1v1h-1zM2 6h1v1h-1zM7 6h4v1h-4zM13 6h2v1h-2zM16 6h2v1h-2zM23 6h2v1h-2zM32 6h1v1h-1zM35 6h1v1h-1zM41 6h1v1h-1zM6 7h1v1h-1zM26 7h1v1h-1zM46 7h1v1h-1zM6 8h1v1h-1zM17 8h1v1h-1zM28 8h1v1h-1zM45 8h1v1h-1zM4 9h1v1h-1zM6 9h1v1h-1zM26 9h1v1h-1zM29 9h1v1h-1zM32 9h1v1h-1zM35 9h1v1h-1zM39 9h1v1h-1zM41 9h1v1h-1zM43 9h2v1h-2zM48 9h1v1h-1zM3 10h1v1h-1zM6 10h1v1h-1zM12 10h1v1h-1zM32 10h1v1h-1zM38 10h1v1h-1zM43 10h1v1h-1zM45 10h1v1h-1zM0 11h1v1h-1zM2 11h1v1h-1zM5 11h1v1h-1zM25 11h1v1h-1zM30 11h2v1h-2zM33 11h1v1h-1zM42 11h1v1h-1zM44 11h1v1h-1zM47 11h1v1h-1zM3 12h1v1h-1zM5 12h1v1h-1zM10 12h1v1h-1zM17 12h1v1h-1zM29 12h1v1h-1zM33 12h1v1h-1zM41 12h1v1h-1zM44 12h1v1h-1zM48 12h1v1h-1zM1 13h4v1h-4zM6 13h1v1h-1zM14 13h1v1h-1zM18 13h1v1h-1zM20 13h1v1h-1zM24 13h2v1h-2zM32 13h1v1h-1zM37 13h1v1h-1zM0 14h1v1h-1zM6 14h1v1h-1zM13 14h1v1h-1zM15 14h1v1h-1zM21 14h1v1h-1zM24 14h3v1h-3zM38 14h1v1h-1zM42 14h1v1h-1zM4 15h1v1h-1zM14 15h1v1h-1zM16 15h1v1h-1zM18 15h1v1h-1zM24 15h1v1h-1zM26 15h1v1h-1zM28 15h1v1h-1zM38 15h1v1h-1zM42 15h4v1h-4zM6 16h1v1h-1zM15 16h1v1h-1zM17 16h1v1h-1zM26 16h1v1h-1zM32 16h1v1h-1zM38 16h1v1h-1zM41 16h2v1h-2zM45 16h1v1h-1zM48 16h1v1h-1zM1 17h1v1h-1zM5 17h2v1h-2zM8 17h1v1h-1zM12 17h1v1h-1zM16 17h1v1h-1zM22 17h1v1h-1zM30 17h1v1h-1zM32 17h2v1h-2zM40 17h1v1h-1zM49 17h1v1h-1zM1 18h1v1h-1zM13 18h1v1h-1zM15 18h1v1h-1zM22 18h1v1h-1zM26 18h1v1h-1zM35 18h1v1h-1zM41 18h1v1h-1zM43 18h1v1h-1zM13 20h1v1h-1zM23 20h1v1h-1zM38 20h1v1h-1zM40 20h1v1h-1zM43 20h2v1h-2zM47 20h2v1h-2zM1 21h1v1h-1zM4 21h1v1h-1zM14 21h1v1h-1zM24 21h1v1h-1zM26 21h1v1h-1zM28 21h1v1h-1zM41 21h1v1h-1zM43 21h1v1h-1zM46 21h1v1h-1zM49 21h1v1h-1zM0 22h1v1h-1zM17 22h2v1h-2zM25 22h1v1h-1zM27 22h1v1h-1zM38 22h1v1h-1zM41 22h1v1h-1zM43 22h1v1h-1zM0 23h1v1h-1zM2 23h1v1h-1zM6 23h1v1h-1zM20 23h1v1h-1zM33 23h1v1h-1zM49 23h1v1h-1zM6 24h1v1h-1zM13 24h3v1h-3zM21 24h1v1h-1zM26 24h2v1h-2zM32 24h1v1h-1zM37 24h1v1h-1zM47 24h1v1h-1zM2 25h1v1h-1zM11 25h1v1h-1zM13 25h2v1h-2zM22 25h1v1h-1zM45 25h2v1h-2zM0 26h1v1h-1zM4 26h1v1h-1zM7 26h1v1h-1zM9 26h1v1h-1zM14 26h3v1h-3zM18 26h1v1h-1zM21 26h1v1h-1zM24 26h1v1h-1zM27 26h2v1h-2zM32 26h1v1h-1zM35 26h1v1h-1zM39 26h1v1h-1zM43 26h1v1h-1zM45 26h1v1h-1zM3 27h1v1h-1zM5 27h1v1h-1zM22 27h1v1h-1zM24 27h1v1h-1zM26 27h1v1h-1zM28 27h1v1h-1zM33 27h1v1h-1zM35 27h1v1h-1zM37 27h1v1h-1zM39 27h1v1h-1zM43 27h2v1h-2zM4 28h1v1h-1zM8 28h1v1h-1zM15 28h1v1h-1zM21 28h1v1h-1zM26 28h2v1h-2zM43 28h1v1h-1zM9 29h1v1h-1zM12 29h1v1h-1zM11 30h1v1h-1zM17 30h1v1h-1zM41 30h2v1h-2zM11 31h1v1h-1zM32 31h1v1h-1zM38 31h1v1h-1zM44 31h2v1h-2zM3 32h1v1h-1zM5 32h2v1h-2zM9 32h2v1h-2zM13 32h1v1h-1zM16 32h2v1h-2zM24 32h1v1h-1zM26 32h1v1h-1zM31 32h1v1h-1zM34 32h1v1h-1zM40 32h1v1h-1zM43 32h1v1h-1zM47 32h1v1h-1zM11 33h2v1h-2zM17 33h1v1h-1zM23 33h1v1h-1zM27 33h1v1h-1zM34 33h1v1h-1zM44 33h1v1h-1zM49 33h1v1h-1zM0 34h2v1h-2zM5 34h1v1h-1zM32 34h2v1h-2zM42 34h2v1h-2zM45 34h1v1h-1zM0 35h1v1h-1zM4 35h1v1h-1zM6 35h1v1h-1zM9 35h1v1h-1zM18 35h1v1h-1zM26 35h2v1h-2zM39 35h1v1h-1zM44 35h2v1h-2zM47 35h1v1h-1zM48 36h1v1h-1zM0 37h1v1h-1zM13 37h1v1h-1zM24 37h1v1h-1zM27 37h1v1h-1zM38 37h1v1h-1zM41 37h1v1h-1zM46 37h1v1h-1zM0 38h1v1h-1zM10 38h1v1h-1zM14 38h3v1h-3zM20 38h1v1h-1zM22 38h1v1h-1zM31 38h1v1h-1zM37 38h1v1h-1zM47 38h3v1h-3zM9 39h1v1h-1zM26 39h2v1h-2zM35 39h1v1h-1zM41 39h2v1h-2zM1 40h1v1h-1zM17 40h1v1h-1zM20 40h1v1h-1zM32 40h1v1h-1zM47 40h2v1h-2zM1 41h1v1h-1zM6 41h1v1h-1zM9 41h1v1h-1zM12 41h1v1h-1zM16 41h1v1h-1zM18 41h1v1h-1zM21 41h2v1h-2zM30 41h1v1h-1zM37 41h1v1h-1zM39 41h1v1h-1zM42 41h1v1h-1zM49 41h1v1h-1zM11 42h1v1h-1zM14 42h3v1h-3zM30 42h1v1h-1zM34 42h1v1h-1zM39 42h1v1h-1zM41 42h1v1h-1zM47 42h1v1h-1zM49 42h1v1h-1zM2 43h1v1h-1zM9 43h2v1h-2zM15 43h1v1h-1zM18 43h1v1h-1zM20 43h3v1h-3zM26 43h3v1h-3zM32 43h1v1h-1zM34 43h1v1h-1zM9 44h1v1h-1zM11 44h2v1h-2zM15 44h1v1h-1zM20 44h1v1h-1zM27 44h1v1h-1zM31 44h1v1h-1zM33 44h1v1h-1zM35 44h1v1h-1zM3 45h1v1h-1zM8 45h1v1h-1zM10 45h1v1h-1zM15 45h2v1h-2zM25 45h2v1h-2zM31 45h1v1h-1zM34 45h2v1h-2zM46 45h1v1h-1zM0 46h1v1h-1zM2 46h2v1h-2zM7 46h1v1h-1zM21 46h1v1h-1zM25 46h1v1h-1zM37 46h1v1h-1zM45 46h1v1h-1zM0 47h1v1h-1zM11 47h1v1h-1zM20 47h1v1h-1zM24 47h1v1h-1zM32 47h1v1h-1zM35 47h1v1h-1zM38 47h1v1h-1zM40 47h1v1h-1zM42 47h1v1h-1zM48 47h1v1h-1zM0 48h3v1h-3zM4 48h2v1h-2zM9 48h1v1h-1zM12 48h1v1h-1zM16 48h1v1h-1zM20 48h1v1h-1zM36 48h1v1h-1zM38 48h1v1h-1zM40 48h1v1h-1zM47 48h1v1h-1zM3 49h1v1h-1zM17 49h1v1h-1zM21 49h1v1h-1zM23 49h1v1h-1zM33 49h1v1h-1zM38 49h1v1h-1zM41 49h2v1h-2z" fill="#6baed6"/><path d="M13 0h1v1h-1zM0 13h1v1h-1zM48 15h1v1h-1zM48 17h1v1h-1zM48 26h1v1h-1zM15 48h1v1h-1zM17 48h1v1h-1zM26 48h1v1h-1z" fill="#e3eef9"/><path d="M16 0h1v1h-1zM3 1h1v1h-1zM12 1h1v1h-1zM22 1h1v1h-1zM40 2h1v1h-1zM1 3h1v1h-1zM34 3h1v1h-1zM43 3h1v1h-1zM24 5h1v1h-1zM26 6h1v1h-1zM21 7h1v1h-1zM36 8h1v1h-1zM23 10h1v1h-1zM40 10h1v1h-1zM16 11h3v1h-3zM29 11h1v1h-1zM34 11h1v1h-1zM1 12h1v1h-1zM22 12h1v1h-1zM35 12h1v1h-1zM36 13h1v1h-1zM41 13h1v1h-1zM45 13h1v1h-1zM34 14h1v1h-1zM48 14h1v1h-1zM0 16h1v1h-1zM11 16h1v1h-1zM11 17h1v1h-1zM11 18h1v1h-1zM27 18h2v1h-2zM7 21h1v1h-1zM37 21h1v1h-1zM1 22h1v1h-1zM12 22h1v1h-1zM10 23h1v1h-1zM32 23h1v1h-1zM47 23h1v1h-1zM5 24h1v1h-1zM6 26h1v1h-1zM42 26h1v1h-1zM18 27h1v1h-1zM34 27h1v1h-1zM41 27h1v1h-1zM18 28h1v1h-1zM42 28h1v1h-1zM11 29h1v1h-1zM45 29h3v1h-3zM37 30h1v1h-1zM44 30h1v1h-1zM43 31h1v1h-1zM23 32h1v1h-1zM37 32h1v1h-1zM39 32h1v1h-1zM3 34h1v1h-1zM11 34h1v1h-1zM14 34h1v1h-1zM27 34h1v1h-1zM12 35h1v1h-1zM40 35h2v1h-2zM8 36h1v1h-1zM13 36h1v1h-1zM21 37h1v1h-1zM30 37h1v1h-1zM32 37h1v1h-1zM40 38h1v1h-1zM32 39h1v1h-1zM2 40h1v1h-1zM10 40h1v1h-1zM35 40h1v1h-1zM38 40h1v1h-1zM46 40h1v1h-1zM49 40h1v1h-1zM13 41h1v1h-1zM27 41h1v1h-1zM35 41h1v1h-1zM26 42h1v1h-1zM28 42h1v1h-1zM3 43h1v1h-1zM31 43h1v1h-1zM45 43h1v1h-1zM30 44h1v1h-1zM46 44h1v1h-1zM13 45h1v1h-1zM29 45h1v1h-1zM43 45h1v1h-1zM49 45h1v1h-1zM29 46h1v1h-1zM40 46h1v1h-1zM44 46h1v1h-1zM23 47h1v1h-1zM29 47h1v1h-1zM14 48h1v1h-1zM40 49h1v1h-1zM45 49h1v1h-1z" fill="#d0e1f2"/><path d="M21 0h1v1h-1zM39 0h1v1h-1zM45 0h1v1h-1zM6 1h1v1h-1zM29 1h1v1h-1zM44 1h1v1h-1zM9 2h1v1h-1zM44 2h1v1h-1zM12 4h1v1h-1zM17 4h2v1h-2zM41 4h1v1h-1zM49 4h1v1h-1zM1 6h1v1h-1zM12 6h1v1h-1zM19 6h1v1h-1zM29 6h1v1h-1zM37 6h1v1h-1zM42 6h3v1h-3zM46 6h1v1h-1zM32 7h1v1h-1zM45 7h1v1h-1zM41 8h1v1h-1zM2 9h1v1h-1zM27 9h1v1h-1zM46 9h1v1h-1zM17 10h1v1h-1zM28 10h1v1h-1zM46 10h1v1h-1zM14 11h2v1h-2zM21 11h3v1h-3zM35 11h1v1h-1zM37 11h2v1h-2zM41 11h1v1h-1zM48 11h1v1h-1zM4 12h1v1h-1zM6 12h1v1h-1zM13 12h1v1h-1zM18 12h1v1h-1zM23 12h1v1h-1zM28 12h1v1h-1zM32 12h1v1h-1zM12 13h1v1h-1zM21 13h3v1h-3zM26 13h4v1h-4zM33 13h2v1h-2zM43 13h1v1h-1zM46 13h2v1h-2zM49 13h1v1h-1zM11 14h1v1h-1zM17 14h2v1h-2zM28 14h1v1h-1zM32 14h1v1h-1zM46 14h1v1h-1zM11 15h1v1h-1zM17 15h1v1h-1zM21 15h1v1h-1zM27 15h1v1h-1zM32 15h1v1h-1zM41 15h1v1h-1zM49 15h1v1h-1zM29 16h1v1h-1zM4 17h1v1h-1zM10 17h1v1h-1zM14 17h2v1h-2zM23 17h2v1h-2zM27 17h1v1h-1zM29 17h1v1h-1zM35 17h1v1h-1zM38 17h1v1h-1zM42 17h2v1h-2zM4 18h1v1h-1zM12 18h1v1h-1zM14 18h1v1h-1zM32 18h1v1h-1zM36 18h1v1h-1zM42 18h1v1h-1zM45 18h1v1h-1zM48 18h2v1h-2zM6 19h1v1h-1zM21 19h1v1h-1zM32 19h1v1h-1zM28 20h1v1h-1zM35 20h1v1h-1zM45 20h1v1h-1zM49 20h1v1h-1zM0 21h1v1h-1zM11 21h1v1h-1zM13 21h1v1h-1zM15 21h1v1h-1zM19 21h1v1h-1zM34 21h1v1h-1zM45 21h1v1h-1zM47 21h2v1h-2zM11 22h1v1h-1zM13 22h1v1h-1zM23 22h1v1h-1zM26 22h1v1h-1zM11 23h3v1h-3zM17 23h1v1h-1zM22 23h1v1h-1zM26 23h1v1h-1zM28 23h1v1h-1zM34 23h3v1h-3zM38 23h1v1h-1zM42 23h1v1h-1zM45 23h1v1h-1zM17 24h1v1h-1zM28 24h1v1h-1zM41 24h1v1h-1zM45 24h2v1h-2zM26 25h1v1h-1zM13 26h1v1h-1zM22 26h2v1h-2zM25 26h1v1h-1zM34 26h1v1h-1zM40 26h1v1h-1zM46 26h1v1h-1zM49 26h1v1h-1zM9 27h1v1h-1zM13 27h1v1h-1zM15 27h1v1h-1zM17 27h1v1h-1zM38 27h1v1h-1zM42 27h1v1h-1zM48 27h2v1h-2zM10 28h1v1h-1zM12 28h3v1h-3zM20 28h1v1h-1zM23 28h2v1h-2zM32 28h1v1h-1zM38 28h1v1h-1zM41 28h1v1h-1zM44 28h1v1h-1zM1 29h1v1h-1zM6 29h1v1h-1zM13 29h1v1h-1zM16 29h2v1h-2zM32 29h1v1h-1zM34 29h2v1h-2zM38 29h2v1h-2zM42 29h1v1h-1zM48 29h1v1h-1zM34 31h1v1h-1zM48 31h1v1h-1zM7 32h1v1h-1zM12 32h1v1h-1zM14 32h2v1h-2zM18 32h2v1h-2zM28 32h2v1h-2zM48 32h2v1h-2zM13 33h1v1h-1zM13 34h1v1h-1zM21 34h1v1h-1zM23 34h1v1h-1zM26 34h1v1h-1zM29 34h1v1h-1zM31 34h1v1h-1zM39 34h1v1h-1zM47 34h1v1h-1zM11 35h1v1h-1zM17 35h1v1h-1zM20 35h1v1h-1zM23 35h1v1h-1zM29 35h1v1h-1zM18 36h1v1h-1zM23 36h1v1h-1zM41 36h1v1h-1zM44 36h1v1h-1zM6 37h1v1h-1zM11 37h1v1h-1zM11 38h1v1h-1zM17 38h1v1h-1zM23 38h1v1h-1zM27 38h3v1h-3zM45 38h2v1h-2zM0 39h1v1h-1zM29 39h1v1h-1zM34 39h1v1h-1zM26 40h1v1h-1zM41 40h1v1h-1zM4 41h1v1h-1zM8 41h1v1h-1zM11 41h1v1h-1zM15 41h1v1h-1zM24 41h1v1h-1zM28 41h1v1h-1zM36 41h1v1h-1zM40 41h1v1h-1zM43 41h1v1h-1zM45 41h2v1h-2zM48 41h1v1h-1zM6 42h1v1h-1zM17 42h2v1h-2zM23 42h1v1h-1zM27 42h1v1h-1zM29 42h1v1h-1zM43 42h1v1h-1zM45 42h2v1h-2zM48 42h1v1h-1zM6 43h1v1h-1zM13 43h1v1h-1zM17 43h1v1h-1zM41 43h2v1h-2zM1 44h2v1h-2zM6 44h1v1h-1zM28 44h1v1h-1zM36 44h1v1h-1zM45 44h1v1h-1zM47 44h2v1h-2zM0 45h1v1h-1zM7 45h1v1h-1zM18 45h1v1h-1zM20 45h2v1h-2zM23 45h2v1h-2zM38 45h1v1h-1zM41 45h2v1h-2zM44 45h1v1h-1zM6 46h1v1h-1zM9 46h2v1h-2zM13 46h2v1h-2zM24 46h1v1h-1zM26 46h1v1h-1zM38 46h1v1h-1zM41 46h2v1h-2zM48 46h2v1h-2zM13 47h1v1h-1zM21 47h1v1h-1zM34 47h1v1h-1zM44 47h1v1h-1zM11 48h1v1h-1zM18 48h1v1h-1zM21 48h1v1h-1zM27 48h1v1h-1zM29 48h1v1h-1zM31 48h2v1h-2zM41 48h2v1h-2zM44 48h1v1h-1zM46 48h1v1h-1zM4 49h1v1h-1zM13 49h1v1h-1zM15 49h1v1h-1zM18 49h1v1h-1zM20 49h1v1h-1zM26 49h2v1h-2zM32 49h1v1h-1zM46 49h1v1h-1z" fill="#94c4df"/><path d="M29 0h1v1h-1zM41 0h1v1h-1zM17 2h1v1h-1zM35 2h1v1h-1zM41 2h1v1h-1zM41 3h1v1h-1zM23 4h1v1h-1zM43 4h1v1h-1zM21 5h1v1h-1zM23 5h1v1h-1zM41 5h1v1h-1zM15 6h1v1h-1zM21 6h1v1h-1zM27 6h2v1h-2zM38 6h1v1h-1zM40 6h1v1h-1zM45 6h1v1h-1zM47 6h2v1h-2zM28 7h1v1h-1zM26 8h1v1h-1zM29 8h1v1h-1zM48 8h1v1h-1zM11 9h1v1h-1zM9 11h1v1h-1zM12 11h2v1h-2zM24 11h1v1h-1zM26 11h3v1h-3zM32 11h1v1h-1zM43 11h1v1h-1zM11 12h1v1h-1zM43 12h1v1h-1zM11 13h1v1h-1zM17 13h1v1h-1zM31 13h1v1h-1zM42 13h1v1h-1zM44 13h1v1h-1zM48 13h1v1h-1zM23 14h1v1h-1zM41 14h1v1h-1zM6 15h1v1h-1zM23 15h1v1h-1zM2 17h1v1h-1zM13 17h1v1h-1zM28 17h1v1h-1zM31 17h1v1h-1zM41 17h1v1h-1zM44 17h2v1h-2zM23 18h1v1h-1zM29 18h1v1h-1zM34 18h1v1h-1zM37 18h1v1h-1zM44 18h1v1h-1zM46 18h1v1h-1zM26 20h1v1h-1zM5 21h2v1h-2zM23 21h1v1h-1zM27 21h1v1h-1zM29 21h1v1h-1zM32 21h1v1h-1zM36 21h1v1h-1zM44 21h1v1h-1zM4 23h2v1h-2zM14 23h2v1h-2zM18 23h1v1h-1zM21 23h1v1h-1zM41 23h1v1h-1zM48 23h1v1h-1zM11 24h1v1h-1zM42 24h1v1h-1zM8 26h1v1h-1zM11 26h1v1h-1zM20 26h1v1h-1zM41 26h1v1h-1zM44 26h1v1h-1zM47 26h1v1h-1zM6 27h1v1h-1zM11 27h1v1h-1zM21 27h1v1h-1zM32 27h1v1h-1zM45 27h1v1h-1zM6 28h2v1h-2zM11 28h1v1h-1zM17 28h1v1h-1zM29 28h1v1h-1zM45 28h3v1h-3zM0 29h1v1h-1zM8 29h1v1h-1zM18 29h1v1h-1zM21 29h1v1h-1zM28 29h1v1h-1zM41 29h1v1h-1zM43 29h1v1h-1zM49 29h1v1h-1zM43 30h1v1h-1zM13 31h1v1h-1zM17 31h1v1h-1zM11 32h1v1h-1zM21 32h1v1h-1zM27 32h1v1h-1zM38 32h1v1h-1zM44 32h1v1h-1zM18 34h1v1h-1zM41 34h1v1h-1zM44 34h1v1h-1zM49 34h1v1h-1zM2 35h1v1h-1zM48 35h1v1h-1zM21 36h1v1h-1zM18 37h1v1h-1zM6 38h1v1h-1zM32 38h1v1h-1zM41 38h1v1h-1zM43 38h1v1h-1zM6 40h1v1h-1zM0 41h1v1h-1zM2 41h2v1h-2zM5 41h1v1h-1zM14 41h1v1h-1zM17 41h1v1h-1zM23 41h1v1h-1zM26 41h1v1h-1zM29 41h1v1h-1zM34 41h1v1h-1zM38 41h1v1h-1zM44 41h1v1h-1zM47 41h1v1h-1zM13 42h1v1h-1zM24 42h1v1h-1zM44 42h1v1h-1zM4 43h1v1h-1zM11 43h2v1h-2zM29 43h2v1h-2zM38 43h1v1h-1zM46 43h1v1h-1zM48 43h1v1h-1zM13 44h1v1h-1zM17 44h2v1h-2zM21 44h1v1h-1zM26 44h1v1h-1zM32 44h1v1h-1zM34 44h1v1h-1zM41 44h2v1h-2zM6 45h1v1h-1zM17 45h1v1h-1zM27 45h2v1h-2zM48 45h1v1h-1zM18 46h1v1h-1zM28 46h1v1h-1zM43 46h1v1h-1zM6 47h1v1h-1zM26 47h1v1h-1zM28 47h1v1h-1zM41 47h1v1h-1zM6 48h1v1h-1zM8 48h1v1h-1zM13 48h1v1h-1zM23 48h1v1h-1zM35 48h1v1h-1zM43 48h1v1h-1zM45 48h1v1h-1zM29 49h1v1h-1zM34 49h1v1h-1z" fill="#b6d4e9"/><path d="M18 16h1v1h-1zM16 18h1v1h-1zM36 19h1v1h-1zM31 25h1v1h-1zM25 31h1v1h-1zM47 31h1v1h-1zM35 33h2v1h-2zM33 35h1v1h-1zM19 36h1v1h-1zM33 36h1v1h-1zM37 36h1v1h-1zM36 37h1v1h-1zM31 47h1v1h-1z" fill="#08306b"/></svg>
<svg style="left:0;top:0" width="2035" height="2880" viewBox="0 0 2035 2880"><line x1="1291.4" x2="1763.7" y1="1658.2" y2="1658.2" stroke="#f5f5f5" stroke-width=".6"/><line x1="1291.4" x2="1763.7" y1="1694.3" y2="1694.3" stroke="#f5f5f5" stroke-width=".6"/><line x1="1291.4" x2="1763.7" y1="1730.5" y2="1730.5" stroke="#f5f5f5" stroke-width=".6"/><line x1="1291.4" x2="1763.7" y1="1766.6" y2="1766.6" stroke="#f5f5f5" stroke-width=".6"/><line x1="1291.4" x2="1763.7" y1="1802.8" y2="1802.8" stroke="#f5f5f5" stroke-width=".6"/><line x1="1291.4" x2="1763.7" y1="1838.9" y2="1838.9" stroke="#f5f5f5" stroke-width=".6"/><line x1="1291.4" x2="1763.7" y1="1640.1" y2="1640.1" stroke="#ebebeb" stroke-width="1.1"/><line x1="1291.4" x2="1763.7" y1="1676.2" y2="1676.2" stroke="#ebebeb" stroke-width="1.1"/><line x1="1291.4" x2="1763.7" y1="1712.4" y2="1712.4" stroke="#ebebeb" stroke-width="1.1"/><line x1="1291.4" x2="1763.7" y1="1748.5" y2="1748.5" stroke="#ebebeb" stroke-width="1.1"/><line x1="1291.4" x2="1763.7" y1="1784.7" y2="1784.7" stroke="#ebebeb" stroke-width="1.1"/><line x1="1291.4" x2="1763.7" y1="1820.8" y2="1820.8" stroke="#ebebeb" stroke-width="1.1"/><line x1="1331.2" x2="1331.2" y1="1619.4" y2="1873" stroke="#ebebeb" stroke-width="1.1"/><line x1="1396.7" x2="1396.7" y1="1619.4" y2="1873" stroke="#ebebeb" stroke-width="1.1"/><line x1="1462.2" x2="1462.2" y1="1619.4" y2="1873" stroke="#ebebeb" stroke-width="1.1"/><line x1="1527.7" x2="1527.7" y1="1619.4" y2="1873" stroke="#ebebeb" stroke-width="1.1"/><line x1="1593.2" x2="1593.2" y1="1619.4" y2="1873" stroke="#ebebeb" stroke-width="1.1"/><line x1="1658.7" x2="1658.7" y1="1619.4" y2="1873" stroke="#ebebeb" stroke-width="1.1"/><line x1="1724.2" x2="1724.2" y1="1619.4" y2="1873" stroke="#ebebeb" stroke-width="1.1"/><line x1="1305.6" x2="1312.4" y1="1857.0" y2="1857.0" stroke="#aaa" stroke-width=".8"/><line x1="1320.4" x2="1327.2" y1="1857.0" y2="1857.0" stroke="#aaa" stroke-width=".8"/><line x1="1335.2" x2="1342.0" y1="1857.0" y2="1857.0" stroke="#aaa" stroke-width=".8"/><rect x="1345.98" y="1845.1" width="14.78" height="11.9" fill="#2171b5" stroke="#2171b5" stroke-width=".7"/><rect x="1367.14" y="1820.8" width="14.78" height="36.2" fill="#eff3ff" stroke="#c9cfe6" stroke-width=".7"/><rect x="1381.92" y="1784.7" width="14.78" height="72.3" fill="#bdd7e7" stroke="#b0c8d8" stroke-width=".7"/><rect x="1396.70" y="1760.5" width="14.78" height="96.5" fill="#6baed6" stroke="#64a6ce" stroke-width=".7"/><rect x="1411.48" y="1724.7" width="14.78" height="132.3" fill="#2171b5" stroke="#2171b5" stroke-width=".7"/><rect x="1432.64" y="1724.7" width="14.78" height="132.3" fill="#eff3ff" stroke="#c9cfe6" stroke-width=".7"/><rect x="1447.42" y="1760.5" width="14.78" height="96.5" fill="#bdd7e7" stroke="#b0c8d8" stroke-width=".7"/><rect x="1462.20" y="1688.2" width="14.78" height="168.8" fill="#6baed6" stroke="#64a6ce" stroke-width=".7"/><rect x="1476.98" y="1640.1" width="14.78" height="216.9" fill="#2171b5" stroke="#2171b5" stroke-width=".7"/><rect x="1498.14" y="1688.2" width="14.78" height="168.8" fill="#eff3ff" stroke="#c9cfe6" stroke-width=".7"/><rect x="1512.92" y="1712.4" width="14.78" height="144.6" fill="#bdd7e7" stroke="#b0c8d8" stroke-width=".7"/><rect x="1527.70" y="1676.2" width="14.78" height="180.8" fill="#6baed6" stroke="#64a6ce" stroke-width=".7"/><rect x="1542.48" y="1688.2" width="14.78" height="168.8" fill="#2171b5" stroke="#2171b5" stroke-width=".7"/><rect x="1563.64" y="1724.7" width="14.78" height="132.3" fill="#eff3ff" stroke="#c9cfe6" stroke-width=".7"/><rect x="1578.42" y="1652.0" width="14.78" height="205.0" fill="#bdd7e7" stroke="#b0c8d8" stroke-width=".7"/><rect x="1593.20" y="1688.2" width="14.78" height="168.8" fill="#6baed6" stroke="#64a6ce" stroke-width=".7"/><rect x="1607.98" y="1748.5" width="14.78" height="108.5" fill="#2171b5" stroke="#2171b5" stroke-width=".7"/><rect x="1629.14" y="1688.2" width="14.78" height="168.8" fill="#eff3ff" stroke="#c9cfe6" stroke-width=".7"/><rect x="1643.92" y="1700.5" width="14.78" height="156.5" fill="#bdd7e7" stroke="#b0c8d8" stroke-width=".7"/><rect x="1658.70" y="1773.1" width="14.78" height="83.9" fill="#6baed6" stroke="#64a6ce" stroke-width=".7"/><rect x="1673.48" y="1797.0" width="14.78" height="60.0" fill="#2171b5" stroke="#2171b5" stroke-width=".7"/><rect x="1694.64" y="1736.6" width="14.78" height="120.4" fill="#eff3ff" stroke="#c9cfe6" stroke-width=".7"/><rect x="1709.42" y="1773.1" width="14.78" height="83.9" fill="#bdd7e7" stroke="#b0c8d8" stroke-width=".7"/><rect x="1724.20" y="1797.0" width="14.78" height="60.0" fill="#6baed6" stroke="#64a6ce" stroke-width=".7"/><rect x="1738.98" y="1766.6" width="14.78" height="90.4" fill="#2171b5" stroke="#2171b5" stroke-width=".7"/><path d="M1353.4,1824.1V1865.7M1350.4,1824.1h6M1350.4,1865.7h6M1374.5,1820.8V1820.8M1371.5,1820.8h6M1371.5,1820.8h6M1389.3,1748.5V1820.8M1386.3,1748.5h6M1386.3,1820.8h6M1404.1,1685.3V1835.3M1401.1,1685.3h6M1401.1,1835.3h6M1418.9,1682.4V1765.9M1415.9,1682.4h6M1415.9,1765.9h6M1440.0,1649.1V1799.9M1437.0,1649.1h6M1437.0,1799.9h6M1454.8,1705.2V1815.4M1451.8,1705.2h6M1451.8,1815.4h6M1469.6,1633.2V1743.1M1466.6,1633.2h6M1466.6,1743.1h6M1505.5,1646.6V1730.1M1502.5,1646.6h6M1502.5,1730.1h6M1520.3,1649.5V1774.9M1517.3,1649.5h6M1517.3,1774.9h6M1535.1,1640.1V1712.4M1532.1,1640.1h6M1532.1,1712.4h6M1549.9,1667.2V1709.5M1546.9,1667.2h6M1546.9,1709.5h6M1571.0,1682.4V1765.9M1568.0,1682.4h6M1568.0,1765.9h6M1585.8,1631.4V1673.4M1582.8,1631.4h6M1582.8,1673.4h6M1600.6,1646.6V1730.1M1597.6,1646.6h6M1597.6,1730.1h6M1615.4,1712.4V1784.7M1612.4,1712.4h6M1612.4,1784.7h6M1636.5,1667.2V1709.5M1633.5,1667.2h6M1633.5,1709.5h6M1651.3,1645.2V1755.4M1648.3,1645.2h6M1648.3,1755.4h6M1666.1,1730.8V1814.3M1663.1,1730.8h6M1663.1,1814.3h6M1680.9,1775.7V1817.2M1677.9,1775.7h6M1677.9,1817.2h6M1702.0,1653.1V1819.8M1699.0,1653.1h6M1699.0,1819.8h6M1716.8,1717.8V1828.1M1713.8,1717.8h6M1713.8,1828.1h6M1731.6,1775.7V1817.2M1728.6,1775.7h6M1728.6,1817.2h6M1746.4,1689.8V1843.6M1743.4,1689.8h6M1743.4,1843.6h6" fill="none" stroke="#9a9a9a" stroke-width=".9"/><rect x="1783.3" y="1721.3" width="16.4" height="16.6" fill="#eff3ff" stroke="#c9cfe6" stroke-width=".7"/><rect x="1783.3" y="1740.4" width="16.4" height="16.6" fill="#bdd7e7" stroke="#b0c8d8" stroke-width=".7"/><rect x="1783.3" y="1759.4" width="16.4" height="16.6" fill="#6baed6" stroke="#64a6ce" stroke-width=".7"/><rect x="1783.3" y="1778.5" width="16.4" height="16.6" fill="#2171b5" stroke="#2171b5" stroke-width=".7"/></svg>
<svg style="left:0;top:0" width="2035" height="2880" viewBox="0 0 2035 2880"><line x1="1182" x2="1182" y1="2066.3" y2="2321.8" stroke="#8c8c8c" stroke-width=".9"/><line x1="1205.4" x2="1205.4" y1="2066.3" y2="2321.8" stroke="#8c8c8c" stroke-width=".9"/><line x1="1357.3" x2="1357.3" y1="2066.3" y2="2321.8" stroke="#8c8c8c" stroke-width=".9"/><line x1="1508.6" x2="1508.6" y1="2066.3" y2="2321.8" stroke="#8c8c8c" stroke-width=".9"/><line x1="1660.4" x2="1660.4" y1="2066.3" y2="2321.8" stroke="#8c8c8c" stroke-width=".9"/><line x1="1812.3" x2="1812.3" y1="2066.3" y2="2321.8" stroke="#8c8c8c" stroke-width=".9"/><line x1="1150.3" x2="1969.7" y1="2094.2" y2="2094.2" stroke="#8c8c8c" stroke-width=".9"/><line x1="1150.3" x2="1969.7" y1="2208.2" y2="2208.2" stroke="#8c8c8c" stroke-width=".9"/></svg>
<svg style="left:1262px;top:2607.3px" width="219.2" height="219.2" viewBox="0 0 219.2 219.2"><g fill="#000"><rect x="54.1" y="1.0" width="31.3" height="4.7" rx="2.4"/><rect x="94.0" y="1.0" width="18.0" height="4.7" rx="2.4"/><rect x="140.5" y="1.0" width="24.6" height="4.7" rx="2.4"/><rect x="87.3" y="7.6" width="11.4" height="4.7" rx="2.4"/><rect x="107.2" y="7.6" width="4.7" height="4.7" rx="2.4"/><rect x="127.2" y="7.6" width="24.6" height="4.7" rx="2.4"/><rect x="160.4" y="7.6" width="4.7" height="4.7" rx="2.4"/><rect x="54.1" y="14.2" width="24.6" height="4.7" rx="2.4"/><rect x="94.0" y="14.2" width="4.7" height="4.7" rx="2.4"/><rect x="127.2" y="14.2" width="4.7" height="4.7" rx="2.4"/><rect x="74.0" y="20.9" width="4.7" height="4.7" rx="2.4"/><rect x="100.6" y="20.9" width="11.4" height="4.7" rx="2.4"/><rect x="140.5" y="20.9" width="11.4" height="4.7" rx="2.4"/><rect x="160.4" y="20.9" width="4.7" height="4.7" rx="2.4"/><rect x="54.1" y="27.5" width="24.6" height="4.7" rx="2.4"/><rect x="94.0" y="27.5" width="51.2" height="4.7" rx="2.4"/><rect x="160.4" y="27.5" width="4.7" height="4.7" rx="2.4"/><rect x="54.1" y="34.2" width="18.0" height="4.7" rx="2.4"/><rect x="80.7" y="34.2" width="18.0" height="4.7" rx="2.4"/><rect x="113.9" y="34.2" width="4.7" height="4.7" rx="2.4"/><rect x="140.5" y="34.2" width="4.7" height="4.7" rx="2.4"/><rect x="160.4" y="34.2" width="4.7" height="4.7" rx="2.4"/><rect x="54.1" y="40.8" width="11.4" height="4.7" rx="2.4"/><rect x="94.0" y="40.8" width="24.6" height="4.7" rx="2.4"/><rect x="127.2" y="40.8" width="18.0" height="4.7" rx="2.4"/><rect x="54.1" y="47.5" width="24.6" height="4.7" rx="2.4"/><rect x="100.6" y="47.5" width="4.7" height="4.7" rx="2.4"/><rect x="120.5" y="47.5" width="18.0" height="4.7" rx="2.4"/><rect x="147.1" y="47.5" width="4.7" height="4.7" rx="2.4"/><rect x="160.4" y="47.5" width="4.7" height="4.7" rx="2.4"/><rect x="20.9" y="54.1" width="31.3" height="4.7" rx="2.4"/><rect x="60.7" y="54.1" width="4.7" height="4.7" rx="2.4"/><rect x="87.3" y="54.1" width="24.6" height="4.7" rx="2.4"/><rect x="120.5" y="54.1" width="37.9" height="4.7" rx="2.4"/><rect x="167.0" y="54.1" width="11.4" height="4.7" rx="2.4"/><rect x="200.2" y="54.1" width="18.0" height="4.7" rx="2.4"/><rect x="1.0" y="60.7" width="4.7" height="4.7" rx="2.4"/><rect x="34.2" y="60.7" width="18.0" height="4.7" rx="2.4"/><rect x="74.0" y="60.7" width="11.4" height="4.7" rx="2.4"/><rect x="120.5" y="60.7" width="31.3" height="4.7" rx="2.4"/><rect x="160.4" y="60.7" width="18.0" height="4.7" rx="2.4"/><rect x="187.0" y="60.7" width="31.3" height="4.7" rx="2.4"/><rect x="7.6" y="67.4" width="11.4" height="4.7" rx="2.4"/><rect x="34.2" y="67.4" width="4.7" height="4.7" rx="2.4"/><rect x="60.7" y="67.4" width="4.7" height="4.7" rx="2.4"/><rect x="74.0" y="67.4" width="37.9" height="4.7" rx="2.4"/><rect x="127.2" y="67.4" width="4.7" height="4.7" rx="2.4"/><rect x="160.4" y="67.4" width="4.7" height="4.7" rx="2.4"/><rect x="200.2" y="67.4" width="4.7" height="4.7" rx="2.4"/><rect x="1.0" y="74.0" width="24.6" height="4.7" rx="2.4"/><rect x="40.8" y="74.0" width="4.7" height="4.7" rx="2.4"/><rect x="67.4" y="74.0" width="4.7" height="4.7" rx="2.4"/><rect x="147.1" y="74.0" width="37.9" height="4.7" rx="2.4"/><rect x="193.6" y="74.0" width="11.4" height="4.7" rx="2.4"/><rect x="7.6" y="80.7" width="24.6" height="4.7" rx="2.4"/><rect x="54.1" y="80.7" width="18.0" height="4.7" rx="2.4"/><rect x="147.1" y="80.7" width="18.0" height="4.7" rx="2.4"/><rect x="193.6" y="80.7" width="11.4" height="4.7" rx="2.4"/><rect x="1.0" y="87.3" width="11.4" height="4.7" rx="2.4"/><rect x="34.2" y="87.3" width="18.0" height="4.7" rx="2.4"/><rect x="147.1" y="87.3" width="4.7" height="4.7" rx="2.4"/><rect x="160.4" y="87.3" width="4.7" height="4.7" rx="2.4"/><rect x="173.7" y="87.3" width="24.6" height="4.7" rx="2.4"/><rect x="206.9" y="87.3" width="4.7" height="4.7" rx="2.4"/><rect x="1.0" y="94.0" width="31.3" height="4.7" rx="2.4"/><rect x="40.8" y="94.0" width="11.4" height="4.7" rx="2.4"/><rect x="67.4" y="94.0" width="4.7" height="4.7" rx="2.4"/><rect x="167.0" y="94.0" width="4.7" height="4.7" rx="2.4"/><rect x="180.3" y="94.0" width="37.9" height="4.7" rx="2.4"/><rect x="1.0" y="100.6" width="11.4" height="4.7" rx="2.4"/><rect x="20.9" y="100.6" width="44.6" height="4.7" rx="2.4"/><rect x="147.1" y="100.6" width="24.6" height="4.7" rx="2.4"/><rect x="193.6" y="100.6" width="18.0" height="4.7" rx="2.4"/><rect x="7.6" y="107.2" width="11.4" height="4.7" rx="2.4"/><rect x="40.8" y="107.2" width="4.7" height="4.7" rx="2.4"/><rect x="54.1" y="107.2" width="4.7" height="4.7" rx="2.4"/><rect x="147.1" y="107.2" width="4.7" height="4.7" rx="2.4"/><rect x="167.0" y="107.2" width="18.0" height="4.7" rx="2.4"/><rect x="200.2" y="107.2" width="11.4" height="4.7" rx="2.4"/><rect x="27.5" y="113.9" width="37.9" height="4.7" rx="2.4"/><rect x="153.7" y="113.9" width="18.0" height="4.7" rx="2.4"/><rect x="193.6" y="113.9" width="4.7" height="4.7" rx="2.4"/><rect x="213.5" y="113.9" width="4.7" height="4.7" rx="2.4"/><rect x="27.5" y="120.5" width="4.7" height="4.7" rx="2.4"/><rect x="40.8" y="120.5" width="11.4" height="4.7" rx="2.4"/><rect x="60.7" y="120.5" width="11.4" height="4.7" rx="2.4"/><rect x="193.6" y="120.5" width="24.6" height="4.7" rx="2.4"/><rect x="1.0" y="127.2" width="11.4" height="4.7" rx="2.4"/><rect x="20.9" y="127.2" width="37.9" height="4.7" rx="2.4"/><rect x="67.4" y="127.2" width="4.7" height="4.7" rx="2.4"/><rect x="153.7" y="127.2" width="11.4" height="4.7" rx="2.4"/><rect x="173.7" y="127.2" width="11.4" height="4.7" rx="2.4"/><rect x="193.6" y="127.2" width="4.7" height="4.7" rx="2.4"/><rect x="206.9" y="127.2" width="11.4" height="4.7" rx="2.4"/><rect x="1.0" y="133.8" width="18.0" height="4.7" rx="2.4"/><rect x="27.5" y="133.8" width="18.0" height="4.7" rx="2.4"/><rect x="67.4" y="133.8" width="4.7" height="4.7" rx="2.4"/><rect x="147.1" y="133.8" width="24.6" height="4.7" rx="2.4"/><rect x="187.0" y="133.8" width="4.7" height="4.7" rx="2.4"/><rect x="1.0" y="140.5" width="11.4" height="4.7" rx="2.4"/><rect x="34.2" y="140.5" width="4.7" height="4.7" rx="2.4"/><rect x="60.7" y="140.5" width="11.4" height="4.7" rx="2.4"/><rect x="160.4" y="140.5" width="24.6" height="4.7" rx="2.4"/><rect x="193.6" y="140.5" width="11.4" height="4.7" rx="2.4"/><rect x="213.5" y="140.5" width="4.7" height="4.7" rx="2.4"/><rect x="7.6" y="147.1" width="91.1" height="4.7" rx="2.4"/><rect x="133.8" y="147.1" width="11.4" height="4.7" rx="2.4"/><rect x="180.3" y="147.1" width="4.7" height="4.7" rx="2.4"/><rect x="213.5" y="147.1" width="4.7" height="4.7" rx="2.4"/><rect x="1.0" y="153.7" width="4.7" height="4.7" rx="2.4"/><rect x="14.2" y="153.7" width="24.6" height="4.7" rx="2.4"/><rect x="60.7" y="153.7" width="11.4" height="4.7" rx="2.4"/><rect x="80.7" y="153.7" width="11.4" height="4.7" rx="2.4"/><rect x="127.2" y="153.7" width="18.0" height="4.7" rx="2.4"/><rect x="160.4" y="153.7" width="4.7" height="4.7" rx="2.4"/><rect x="180.3" y="153.7" width="24.6" height="4.7" rx="2.4"/><rect x="34.2" y="160.4" width="37.9" height="4.7" rx="2.4"/><rect x="87.3" y="160.4" width="18.0" height="4.7" rx="2.4"/><rect x="113.9" y="160.4" width="4.7" height="4.7" rx="2.4"/><rect x="127.2" y="160.4" width="11.4" height="4.7" rx="2.4"/><rect x="153.7" y="160.4" width="4.7" height="4.7" rx="2.4"/><rect x="193.6" y="160.4" width="11.4" height="4.7" rx="2.4"/><rect x="60.7" y="167.0" width="57.9" height="4.7" rx="2.4"/><rect x="133.8" y="167.0" width="4.7" height="4.7" rx="2.4"/><rect x="147.1" y="167.0" width="4.7" height="4.7" rx="2.4"/><rect x="173.7" y="167.0" width="44.6" height="4.7" rx="2.4"/><rect x="54.1" y="173.7" width="18.0" height="4.7" rx="2.4"/><rect x="80.7" y="173.7" width="4.7" height="4.7" rx="2.4"/><rect x="107.2" y="173.7" width="11.4" height="4.7" rx="2.4"/><rect x="133.8" y="173.7" width="11.4" height="4.7" rx="2.4"/><rect x="160.4" y="173.7" width="11.4" height="4.7" rx="2.4"/><rect x="180.3" y="173.7" width="11.4" height="4.7" rx="2.4"/><rect x="54.1" y="180.3" width="18.0" height="4.7" rx="2.4"/><rect x="107.2" y="180.3" width="4.7" height="4.7" rx="2.4"/><rect x="120.5" y="180.3" width="4.7" height="4.7" rx="2.4"/><rect x="147.1" y="180.3" width="31.3" height="4.7" rx="2.4"/><rect x="187.0" y="180.3" width="18.0" height="4.7" rx="2.4"/><rect x="54.1" y="187.0" width="64.5" height="4.7" rx="2.4"/><rect x="140.5" y="187.0" width="4.7" height="4.7" rx="2.4"/><rect x="173.7" y="187.0" width="18.0" height="4.7" rx="2.4"/><rect x="200.2" y="187.0" width="4.7" height="4.7" rx="2.4"/><rect x="213.5" y="187.0" width="4.7" height="4.7" rx="2.4"/><rect x="54.1" y="193.6" width="4.7" height="4.7" rx="2.4"/><rect x="80.7" y="193.6" width="11.4" height="4.7" rx="2.4"/><rect x="100.6" y="193.6" width="18.0" height="4.7" rx="2.4"/><rect x="127.2" y="193.6" width="4.7" height="4.7" rx="2.4"/><rect x="140.5" y="193.6" width="31.3" height="4.7" rx="2.4"/><rect x="180.3" y="193.6" width="24.6" height="4.7" rx="2.4"/><rect x="213.5" y="193.6" width="4.7" height="4.7" rx="2.4"/><rect x="60.7" y="200.2" width="4.7" height="4.7" rx="2.4"/><rect x="74.0" y="200.2" width="18.0" height="4.7" rx="2.4"/><rect x="100.6" y="200.2" width="18.0" height="4.7" rx="2.4"/><rect x="127.2" y="200.2" width="4.7" height="4.7" rx="2.4"/><rect x="140.5" y="200.2" width="11.4" height="4.7" rx="2.4"/><rect x="160.4" y="200.2" width="57.9" height="4.7" rx="2.4"/><rect x="67.4" y="206.9" width="4.7" height="4.7" rx="2.4"/><rect x="87.3" y="206.9" width="11.4" height="4.7" rx="2.4"/><rect x="113.9" y="206.9" width="11.4" height="4.7" rx="2.4"/><rect x="133.8" y="206.9" width="24.6" height="4.7" rx="2.4"/><rect x="167.0" y="206.9" width="11.4" height="4.7" rx="2.4"/><rect x="187.0" y="206.9" width="11.4" height="4.7" rx="2.4"/><rect x="54.1" y="213.5" width="4.7" height="4.7" rx="2.4"/><rect x="113.9" y="213.5" width="18.0" height="4.7" rx="2.4"/><rect x="153.7" y="213.5" width="4.7" height="4.7" rx="2.4"/><rect x="180.3" y="213.5" width="31.3" height="4.7" rx="2.4"/></g><rect x="3.4" y="3.4" width="39.7" height="39.7" rx="11.6" fill="none" stroke="#000" stroke-width="6.8"/><rect x="13.3" y="13.3" width="19.9" height="19.9" fill="#000"/><rect x="176.1" y="3.4" width="39.7" height="39.7" rx="11.6" fill="none" stroke="#000" stroke-width="6.8"/><rect x="186.0" y="13.3" width="19.9" height="19.9" fill="#000"/><rect x="3.4" y="176.1" width="39.7" height="39.7" rx="11.6" fill="none" stroke="#000" stroke-width="6.8"/><rect x="13.3" y="186.0" width="19.9" height="19.9" fill="#000"/></svg>
<svg style="left:1341px;top:2680.4px" width="61" height="74" viewBox="0 0 61 74"><path d="M13.5,0.3 H55.4 a5.5,5.5 0 0 1 5.5,5.5 V57.8 a8.5,8.5 0 0 1 -8.5,8.5 H8.5 V5.3 a5,5 0 0 1 5,-5 Z" fill="#7fa4cf"/><path d="M-1,7.7 H49.2 a4,4 0 0 1 4,4 V75 H-1 Z" fill="#fff"/><rect x="0.8" y="11.9" width="47.5" height="61" rx="2" fill="#7fa4cf"/><g stroke="#fff" stroke-width="4.4" stroke-linecap="round"><line x1="13.5" x2="36" y1="29.6" y2="29.6"/><line x1="13.5" x2="36" y1="38.8" y2="38.8"/><line x1="13.5" x2="36" y1="48.3" y2="48.3"/></g></svg>
<svg style="left:1579.2px;top:2609.2px" width="215.8" height="215.8" viewBox="0 0 215.8 215.8"><g fill="#000"><rect x="60.6" y="1.1" width="27.6" height="5.3" rx="2.6"/><rect x="97.8" y="1.1" width="35.0" height="5.3" rx="2.6"/><rect x="142.5" y="1.1" width="12.7" height="5.3" rx="2.6"/><rect x="90.4" y="8.5" width="12.7" height="5.3" rx="2.6"/><rect x="112.7" y="8.5" width="5.3" height="5.3" rx="2.6"/><rect x="127.6" y="8.5" width="5.3" height="5.3" rx="2.6"/><rect x="75.5" y="16.0" width="20.2" height="5.3" rx="2.6"/><rect x="112.7" y="16.0" width="5.3" height="5.3" rx="2.6"/><rect x="127.6" y="16.0" width="12.7" height="5.3" rx="2.6"/><rect x="149.9" y="16.0" width="5.3" height="5.3" rx="2.6"/><rect x="60.6" y="23.4" width="35.0" height="5.3" rx="2.6"/><rect x="105.3" y="23.4" width="5.3" height="5.3" rx="2.6"/><rect x="120.1" y="23.4" width="5.3" height="5.3" rx="2.6"/><rect x="135.0" y="23.4" width="5.3" height="5.3" rx="2.6"/><rect x="149.9" y="23.4" width="5.3" height="5.3" rx="2.6"/><rect x="82.9" y="30.8" width="42.5" height="5.3" rx="2.6"/><rect x="149.9" y="30.8" width="5.3" height="5.3" rx="2.6"/><rect x="68.1" y="38.3" width="20.2" height="5.3" rx="2.6"/><rect x="97.8" y="38.3" width="5.3" height="5.3" rx="2.6"/><rect x="149.9" y="38.3" width="5.3" height="5.3" rx="2.6"/><rect x="60.6" y="45.7" width="5.3" height="5.3" rx="2.6"/><rect x="75.5" y="45.7" width="12.7" height="5.3" rx="2.6"/><rect x="97.8" y="45.7" width="20.2" height="5.3" rx="2.6"/><rect x="127.6" y="45.7" width="12.7" height="5.3" rx="2.6"/><rect x="82.9" y="53.2" width="12.7" height="5.3" rx="2.6"/><rect x="105.3" y="53.2" width="12.7" height="5.3" rx="2.6"/><rect x="142.5" y="53.2" width="12.7" height="5.3" rx="2.6"/><rect x="23.4" y="60.6" width="42.5" height="5.3" rx="2.6"/><rect x="75.5" y="60.6" width="35.0" height="5.3" rx="2.6"/><rect x="120.1" y="60.6" width="27.6" height="5.3" rx="2.6"/><rect x="157.3" y="60.6" width="20.2" height="5.3" rx="2.6"/><rect x="202.0" y="60.6" width="5.3" height="5.3" rx="2.6"/><rect x="38.3" y="68.1" width="27.6" height="5.3" rx="2.6"/><rect x="75.5" y="68.1" width="5.3" height="5.3" rx="2.6"/><rect x="105.3" y="68.1" width="5.3" height="5.3" rx="2.6"/><rect x="164.8" y="68.1" width="5.3" height="5.3" rx="2.6"/><rect x="187.1" y="68.1" width="5.3" height="5.3" rx="2.6"/><rect x="209.4" y="68.1" width="5.3" height="5.3" rx="2.6"/><rect x="30.8" y="75.5" width="20.2" height="5.3" rx="2.6"/><rect x="75.5" y="75.5" width="27.6" height="5.3" rx="2.6"/><rect x="112.7" y="75.5" width="5.3" height="5.3" rx="2.6"/><rect x="135.0" y="75.5" width="5.3" height="5.3" rx="2.6"/><rect x="149.9" y="75.5" width="27.6" height="5.3" rx="2.6"/><rect x="187.1" y="75.5" width="12.7" height="5.3" rx="2.6"/><rect x="209.4" y="75.5" width="5.3" height="5.3" rx="2.6"/><rect x="1.1" y="82.9" width="20.2" height="5.3" rx="2.6"/><rect x="30.8" y="82.9" width="5.3" height="5.3" rx="2.6"/><rect x="60.6" y="82.9" width="35.0" height="5.3" rx="2.6"/><rect x="105.3" y="82.9" width="27.6" height="5.3" rx="2.6"/><rect x="149.9" y="82.9" width="57.4" height="5.3" rx="2.6"/><rect x="16.0" y="90.4" width="5.3" height="5.3" rx="2.6"/><rect x="30.8" y="90.4" width="5.3" height="5.3" rx="2.6"/><rect x="157.3" y="90.4" width="5.3" height="5.3" rx="2.6"/><rect x="172.2" y="90.4" width="5.3" height="5.3" rx="2.6"/><rect x="194.6" y="90.4" width="20.2" height="5.3" rx="2.6"/><rect x="1.1" y="97.8" width="20.2" height="5.3" rx="2.6"/><rect x="30.8" y="97.8" width="12.7" height="5.3" rx="2.6"/><rect x="157.3" y="97.8" width="5.3" height="5.3" rx="2.6"/><rect x="194.6" y="97.8" width="20.2" height="5.3" rx="2.6"/><rect x="16.0" y="105.3" width="27.6" height="5.3" rx="2.6"/><rect x="53.2" y="105.3" width="5.3" height="5.3" rx="2.6"/><rect x="164.8" y="105.3" width="5.3" height="5.3" rx="2.6"/><rect x="1.1" y="112.7" width="27.6" height="5.3" rx="2.6"/><rect x="172.2" y="112.7" width="12.7" height="5.3" rx="2.6"/><rect x="194.6" y="112.7" width="20.2" height="5.3" rx="2.6"/><rect x="8.5" y="120.1" width="5.3" height="5.3" rx="2.6"/><rect x="23.4" y="120.1" width="12.7" height="5.3" rx="2.6"/><rect x="157.3" y="120.1" width="12.7" height="5.3" rx="2.6"/><rect x="179.7" y="120.1" width="35.0" height="5.3" rx="2.6"/><rect x="1.1" y="127.6" width="35.0" height="5.3" rx="2.6"/><rect x="135.0" y="127.6" width="20.2" height="5.3" rx="2.6"/><rect x="164.8" y="127.6" width="12.7" height="5.3" rx="2.6"/><rect x="23.4" y="135.0" width="12.7" height="5.3" rx="2.6"/><rect x="53.2" y="135.0" width="12.7" height="5.3" rx="2.6"/><rect x="82.9" y="135.0" width="5.3" height="5.3" rx="2.6"/><rect x="135.0" y="135.0" width="79.7" height="5.3" rx="2.6"/><rect x="16.0" y="142.5" width="102.0" height="5.3" rx="2.6"/><rect x="127.6" y="142.5" width="35.0" height="5.3" rx="2.6"/><rect x="202.0" y="142.5" width="12.7" height="5.3" rx="2.6"/><rect x="1.1" y="149.9" width="27.6" height="5.3" rx="2.6"/><rect x="45.7" y="149.9" width="5.3" height="5.3" rx="2.6"/><rect x="60.6" y="149.9" width="5.3" height="5.3" rx="2.6"/><rect x="82.9" y="149.9" width="5.3" height="5.3" rx="2.6"/><rect x="127.6" y="149.9" width="12.7" height="5.3" rx="2.6"/><rect x="164.8" y="149.9" width="5.3" height="5.3" rx="2.6"/><rect x="179.7" y="149.9" width="20.2" height="5.3" rx="2.6"/><rect x="209.4" y="149.9" width="5.3" height="5.3" rx="2.6"/><rect x="75.5" y="157.3" width="35.0" height="5.3" rx="2.6"/><rect x="135.0" y="157.3" width="27.6" height="5.3" rx="2.6"/><rect x="172.2" y="157.3" width="12.7" height="5.3" rx="2.6"/><rect x="194.6" y="157.3" width="12.7" height="5.3" rx="2.6"/><rect x="68.1" y="164.8" width="57.4" height="5.3" rx="2.6"/><rect x="164.8" y="164.8" width="12.7" height="5.3" rx="2.6"/><rect x="209.4" y="164.8" width="5.3" height="5.3" rx="2.6"/><rect x="68.1" y="172.2" width="5.3" height="5.3" rx="2.6"/><rect x="97.8" y="172.2" width="12.7" height="5.3" rx="2.6"/><rect x="127.6" y="172.2" width="5.3" height="5.3" rx="2.6"/><rect x="142.5" y="172.2" width="5.3" height="5.3" rx="2.6"/><rect x="157.3" y="172.2" width="12.7" height="5.3" rx="2.6"/><rect x="60.6" y="179.7" width="5.3" height="5.3" rx="2.6"/><rect x="127.6" y="179.7" width="35.0" height="5.3" rx="2.6"/><rect x="172.2" y="179.7" width="42.5" height="5.3" rx="2.6"/><rect x="75.5" y="187.1" width="5.3" height="5.3" rx="2.6"/><rect x="135.0" y="187.1" width="35.0" height="5.3" rx="2.6"/><rect x="179.7" y="187.1" width="35.0" height="5.3" rx="2.6"/><rect x="68.1" y="194.6" width="20.2" height="5.3" rx="2.6"/><rect x="97.8" y="194.6" width="20.2" height="5.3" rx="2.6"/><rect x="127.6" y="194.6" width="5.3" height="5.3" rx="2.6"/><rect x="157.3" y="194.6" width="5.3" height="5.3" rx="2.6"/><rect x="172.2" y="194.6" width="12.7" height="5.3" rx="2.6"/><rect x="202.0" y="194.6" width="12.7" height="5.3" rx="2.6"/><rect x="60.6" y="202.0" width="20.2" height="5.3" rx="2.6"/><rect x="90.4" y="202.0" width="5.3" height="5.3" rx="2.6"/><rect x="105.3" y="202.0" width="5.3" height="5.3" rx="2.6"/><rect x="120.1" y="202.0" width="5.3" height="5.3" rx="2.6"/><rect x="135.0" y="202.0" width="35.0" height="5.3" rx="2.6"/><rect x="179.7" y="202.0" width="20.2" height="5.3" rx="2.6"/><rect x="60.6" y="209.4" width="27.6" height="5.3" rx="2.6"/><rect x="105.3" y="209.4" width="27.6" height="5.3" rx="2.6"/><rect x="142.5" y="209.4" width="12.7" height="5.3" rx="2.6"/><rect x="172.2" y="209.4" width="27.6" height="5.3" rx="2.6"/></g><rect x="3.8" y="3.8" width="44.4" height="44.4" rx="13.0" fill="none" stroke="#000" stroke-width="7.7"/><rect x="14.9" y="14.9" width="22.3" height="22.3" fill="#000"/><rect x="167.5" y="3.8" width="44.4" height="44.4" rx="13.0" fill="none" stroke="#000" stroke-width="7.7"/><rect x="178.6" y="14.9" width="22.3" height="22.3" fill="#000"/><rect x="3.8" y="167.5" width="44.4" height="44.4" rx="13.0" fill="none" stroke="#000" stroke-width="7.7"/><rect x="14.9" y="178.6" width="22.3" height="22.3" fill="#000"/></svg>
<svg style="left:1639.572px;top:2698.2872px" width="96.84" height="37.660000000000004" viewBox="0 0 180 70"><path d="M12.21,58.3 V24.64 A13.04,13.04 0 0 1 38.29,24.64 V32.4 M38.29,24.64 A12.925,12.925 0 0 1 64.14,24.64 V46.4" fill="none" stroke="#82a5cf" stroke-width="10.6" stroke-linecap="round" stroke-linejoin="round"/><path d="M115.97,46.6 V24.64 A13.15,13.15 0 0 1 142.27,24.64 V44.94 A12.93,12.93 0 0 0 168.13,44.94 V37.4" fill="none" stroke="#82a5cf" stroke-width="10.6" stroke-linecap="round" stroke-linejoin="round"/><path d="M51.38,24.97 V44.94 A12.76,12.76 0 0 0 76.9,44.94 V24.64 A13.04,13.04 0 0 1 102.98,24.64 V44.94 A12.875,12.875 0 0 0 128.73,44.94 V37.2" fill="none" stroke="#fff" stroke-width="13.399999999999999" stroke-linecap="round" stroke-linejoin="round"/><path d="M51.38,24.97 V44.94 A12.76,12.76 0 0 0 76.9,44.94 V24.64 A13.04,13.04 0 0 1 102.98,24.64 V44.94 A12.875,12.875 0 0 0 128.73,44.94 V37.2" fill="none" stroke="#82a5cf" stroke-width="10.6" stroke-linecap="round" stroke-linejoin="round"/><circle cx="128.7" cy="25" r="6.699999999999999" fill="#fff"/><circle cx="128.7" cy="25" r="5.3" fill="#82a5cf"/></svg>
<div class="t" style="font-size:62.6px;font-family:'Liberation Sans', sans-serif;color:#fff;left:45.0px;top:114px;transform:translate(0,-0.50px) scaleX(0.5601);transform-origin:0 53.00px"><span style="font-weight:400">L</span></div>
<div class="t" style="font-size:61.5px;font-family:'Liberation Sans', sans-serif;color:#fff;font-weight:700;left:68.5px;top:114px;transform:scaleX(0.9147);transform-origin:0 52.00px;-webkit-text-stroke:2.2px #fff">MU</div>
<div class="t" style="font-size:11.6px;font-family:'Liberation Sans', sans-serif;color:#fff;font-weight:700;letter-spacing:1.2px;left:190.0px;top:104px;transform:translate(0,-0.20px) scaleX(1.1133);transform-origin:0 10.00px">LUDWIG-</div>
<div class="t" style="font-size:11.6px;font-family:'Liberation Sans', sans-serif;color:#fff;font-weight:700;letter-spacing:1.2px;left:190.0px;top:121px;transform:translate(0,0.20px) scaleX(1.1748);transform-origin:0 10.00px">MAXIMILIANS-</div>
<div class="t" style="font-size:11.6px;font-family:'Liberation Sans', sans-serif;color:#fff;font-weight:700;letter-spacing:1.2px;left:190.0px;top:139px;transform:translate(0,-0.40px) scaleX(1.1271);transform-origin:0 10.00px">UNIVERSITÄT</div>
<div class="t" style="font-size:11.6px;font-family:'Liberation Sans', sans-serif;color:#fff;font-weight:700;letter-spacing:1.2px;left:190.0px;top:156px;transform:scaleX(1.1455);transform-origin:0 10.00px">MÜNCHEN</div>
<div class="t" style="font-size:48px;font-family:'Liberation Sans', sans-serif;color:#3a3a3a;font-weight:700;left:490.0px;top:55px;transform:translate(0,0.20px) scaleX(1.0473);transform-origin:0 40.00px">Approximate Posteriors in Neural Networks:</div>
<div class="t" style="font-size:48px;font-family:'Liberation Sans', sans-serif;color:#3a3a3a;font-weight:700;left:733.5px;top:120px;transform:translate(0,0.40px) scaleX(1.0475);transform-origin:0 40.00px">A Sampling Perspective</div>
<div class="t" style="font-size:32px;font-family:'Liberation Sans', sans-serif;left:415.0px;top:188px;transform:translate(0,-0.20px) scaleX(0.9415);transform-origin:0 27.00px">Julius Kobialka<span style="font-size:62%;position:relative;top:-.32em">∗</span> <sup>1,2</sup>, Emanuel Sommer<span style="font-size:62%;position:relative;top:-.32em">∗</span> <sup>1,2</sup>, Juntae Kwon<sup>1</sup>, Daniel Dold<sup>3</sup>, David Rügamer<sup>1,2</sup></div>
<div class="t" style="font-size:25.3px;font-family:'Liberation Sans', sans-serif;left:511.5px;top:245px"><sup>1</sup>LMU Munich <sup>2</sup>Munich Center for Machine Learning <sup>3</sup>HTWG Konstanz <span style="font-size:62%;position:relative;top:-.48em">∗</span>Equal Contribution</div>
<div class="t" style="font-size:12.4px;font-family:'Liberation Sans', sans-serif;color:#1a1a1a;left:1753.8px;top:143px;transform:translate(0,0.20px) scaleX(1.0856);transform-origin:0 10.00px">Munich Center for Machine Learning</div>
<div class="t" style="font-size:21px;font-family:'Liberation Sans', sans-serif;color:#1a1a1a;font-weight:700;left:1772.8px;top:196px;transform:translate(-50%,-0.70px) scaleX(0.7778);transform-origin:50% 18.00px">H</div>
<div class="t" style="font-size:21px;font-family:'Liberation Sans', sans-serif;color:#1a1a1a;font-weight:700;left:1796.8px;top:196px;transform:translate(-50%,-0.70px) scaleX(0.9510);transform-origin:50% 18.00px">T</div>
<div class="t" style="font-size:21px;font-family:'Liberation Sans', sans-serif;color:#1a1a1a;font-weight:700;left:1797.0px;top:219px;transform:translate(-50%,0.10px) scaleX(0.8826);transform-origin:50% 18.00px">W</div>
<div class="t" style="font-size:21px;font-family:'Liberation Sans', sans-serif;color:#1a1a1a;font-weight:700;left:1796.8px;top:243px;transform:translate(-50%,0.10px) scaleX(0.7465);transform-origin:50% 18.00px">G</div>
<div class="t" style="font-size:6.4px;font-family:'Liberation Sans', sans-serif;color:#222;font-weight:700;left:1844.2px;top:200px;transform:translate(0,0.70px) scaleX(1.0574);transform-origin:0 5.00px">Hochschule Konstanz</div>
<div class="t" style="font-size:6.4px;font-family:'Liberation Sans', sans-serif;color:#777;left:1844.2px;top:208px;transform:translate(0,0.60px);transform-origin:0 5.00px">University of Applied Sciences</div>
<div class="t" style="font-size:26.6px;font-family:'Liberation Sans', sans-serif;color:#3a3a3a;left:283.0px;top:377px;transform:translate(0,0.50px) scaleX(0.9215);transform-origin:0 22.00px">Sampling-based Inference (SAI) Is Gaining Ground</div>
<div class="t" style="font-size:26.6px;font-family:'Liberation Sans', sans-serif;color:#3a3a3a;left:305.0px;top:413px;transform:translate(0,0.50px) scaleX(0.9372);transform-origin:0 22.00px">for Bayesian Neural Network Inference, <b>but</b> ...</div>
<div class="t" style="font-size:11.5px;font-family:'Liberation Serif', serif;color:#fff;font-weight:700;left:128.7px;top:490px;transform:translate(-50%,1.00px);transform-origin:50% 9.00px">1</div>
<div class="t" style="font-size:23.7px;font-family:'Liberation Sans', sans-serif;left:141.0px;top:481px;transform:translate(0,0.80px) scaleX(0.9565);transform-origin:0 19.00px">How is the <b>approximate posterior in SAI</b> characterized?</div>
<div class="t" style="font-size:11.5px;font-family:'Liberation Serif', serif;color:#fff;font-weight:700;left:128.7px;top:527px;transform:translate(-50%,0.57px);transform-origin:50% 9.00px">2</div>
<div class="t" style="font-size:23.7px;font-family:'Liberation Sans', sans-serif;left:141.0px;top:517px;transform:translate(0,1.37px) scaleX(0.9661);transform-origin:0 19.00px">How do <b>overparameterization</b> &amp; the <b>prior</b> come into play?</div>
<div class="t" style="font-size:11.5px;font-family:'Liberation Serif', serif;color:#fff;font-weight:700;left:128.7px;top:564px;transform:translate(-50%,0.14px);transform-origin:50% 9.00px">3</div>
<div class="t" style="font-size:23.7px;font-family:'Liberation Sans', sans-serif;left:141.0px;top:554px;transform:translate(0,0.94px) scaleX(0.9377);transform-origin:0 19.00px">How does SAI handle <b>unidentifiabilities</b> like symmetries?</div>
<div class="t" style="font-size:11.5px;font-family:'Liberation Serif', serif;color:#fff;font-weight:700;left:128.7px;top:600px;transform:translate(-50%,0.71px);transform-origin:50% 9.00px">4</div>
<div class="t" style="font-size:23.7px;font-family:'Liberation Sans', sans-serif;left:141.0px;top:590px;transform:translate(0,1.51px) scaleX(0.9754);transform-origin:0 19.00px">How does it <b>compare to optimization-based approximate inference (ABI)</b>?</div>
<div class="t" style="font-size:11.5px;font-family:'Liberation Serif', serif;color:#fff;font-weight:700;left:128.7px;top:637px;transform:translate(-50%,0.28px);transform-origin:50% 9.00px">5</div>
<div class="t" style="font-size:23.7px;font-family:'Liberation Sans', sans-serif;left:141.0px;top:627px;transform:translate(0,1.08px) scaleX(0.9465);transform-origin:0 19.00px">How do we then need to approach <b>sampling in practice</b>?</div>
<div class="t" style="font-size:26.6px;font-family:'Liberation Sans', sans-serif;color:#3a3a3a;left:372.3px;top:700px;transform:translate(0,0.50px) scaleX(0.9463);transform-origin:0 22.00px">The Effect of Overparametrization</div>
<div class="t" style="font-size:23.7px;font-family:'Liberation Sans', sans-serif;word-spacing:-1.26px;left:129.3px;top:765px;transform:translate(0,0.60px) scaleX(0.9550);transform-origin:0 19.00px">For BNNs with zero-mean isotropic priors and consistently high likelihood, <b>overparam-</b></div>
<div class="t" style="font-size:23.7px;font-family:'Liberation Sans', sans-serif;left:129.3px;top:795px;transform:translate(0,1.40px) scaleX(0.9523);transform-origin:0 19.00px"><b>eterization drives posterior mass toward zero</b>.</div>
<div class="t" style="font-size:23.7px;font-family:'Liberation Sans', sans-serif;left:140.8px;top:857px;transform:translate(0,0.60px) scaleX(0.9524);transform-origin:0 19.00px"><b>Higher model capacity</b> enables <b>stronger prior conformity</b>.</div>
<div class="t" style="font-size:23.7px;font-family:'Liberation Sans', sans-serif;left:140.8px;top:893px;transform:translate(0,1.10px) scaleX(0.9327);transform-origin:0 19.00px">Increased prior influence when likelihood remains largely unchanged.</div>
<div class="t" style="font-size:23.7px;font-family:'Liberation Sans', sans-serif;left:140.8px;top:930px;transform:translate(0,0.60px) scaleX(0.9566);transform-origin:0 19.00px">Effect holds both for sampling and variational inference.</div>
<div class="t" style="font-size:23.7px;font-family:'Liberation Sans', sans-serif;left:140.8px;top:966px;transform:translate(0,1.10px) scaleX(0.9561);transform-origin:0 19.00px">Bias weights further exhibit normalization behavior induced by ReLU activations.</div>
<div class="t" style="font-size:26.6px;font-family:'Liberation Sans', sans-serif;color:#3a3a3a;left:454.5px;top:1433px;transform:translate(0,0.40px) scaleX(0.9466);transform-origin:0 22.00px">Non-Identifiabilities</div>
<div class="t" style="font-size:23.7px;font-family:'Liberation Sans', sans-serif;word-spacing:-1.60px;left:129.3px;top:1497px;transform:translate(0,1.20px) scaleX(0.9550);transform-origin:0 19.00px">While low-probability regions can be avoided using warm starts, <b>samplers will almost</b></div>
<div class="t" style="font-size:23.7px;font-family:'Liberation Sans', sans-serif;left:129.3px;top:1528px;transform:translate(0,1.40px) scaleX(0.9670);transform-origin:0 19.00px"><b>surely not walk along symmetry manifolds</b> due to their probabilistic nature.</div>
<div class="t" style="font-size:23.7px;font-family:'Liberation Sans', sans-serif;left:140.8px;top:1589px;transform:translate(0,0.80px) scaleX(0.9657);transform-origin:0 19.00px"><b>ABI methods mitigate axis-aligned symmetries</b> by assuming local unimodality</div>
<div class="t" style="font-size:23.7px;font-family:'Liberation Sans', sans-serif;left:140.8px;top:1620px;transform:translate(0,1.00px) scaleX(0.9661);transform-origin:0 19.00px">around an optimized MAP solution.</div>
<div class="t" style="font-size:23.7px;font-family:'Liberation Sans', sans-serif;left:140.8px;top:1657px;transform:translate(0,0.80px) scaleX(0.9687);transform-origin:0 19.00px"><b>SAI avoids (un)countable symmetries</b> via the probabilistic sampling path in</div>
<div class="t" style="font-size:23.7px;font-family:'Liberation Sans', sans-serif;left:140.8px;top:1688px;transform:translate(0,1.00px) scaleX(0.9621);transform-origin:0 19.00px">combination with the symmetry manifolds having <b>measure zero</b>.</div>
<div class="t" style="font-size:23.7px;font-family:'Liberation Sans', sans-serif;left:140.8px;top:1725px;transform:translate(0,0.80px) scaleX(0.9567);transform-origin:0 19.00px"><b>Symmetric low probability regions</b> (e.g., inactive ReLU neurons) can trap</div>
<div class="t" style="font-size:23.7px;font-family:'Liberation Sans', sans-serif;left:140.8px;top:1756px;transform:translate(0,1.00px) scaleX(0.9504);transform-origin:0 19.00px">samplers but are mitigated by warm-starts.</div>
<div class="t" style="font-size:23.7px;font-family:'Liberation Sans', sans-serif;left:285.7px;top:2246px;transform:translate(0,0.40px) scaleX(1.0163);transform-origin:0 20.00px">Approximate posterior of the network <span style="font-family:'Liberation Serif',serif;font-style:italic;font-size:104%">f<sub>θ</sub></span><span style="font-family:'Liberation Serif',serif;font-size:104%">(</span><span style="font-family:'Liberation Serif',serif;font-style:italic;font-size:104%">x</span><span style="font-family:'Liberation Serif',serif;font-size:104%">) = </span><span style="font-family:'Liberation Serif',serif;font-style:italic;font-size:104%">w</span><span style="font-family:'Liberation Serif',serif;font-size:104%"><sub>2</sub>(</span><span style="font-family:'Liberation Serif',serif;font-style:italic;font-size:104%">w</span><span style="font-family:'Liberation Serif',serif;font-size:104%"><sub>1</sub></span><span style="font-family:'Liberation Serif',serif;font-style:italic;font-size:104%">x</span><span style="font-family:'Liberation Serif',serif;font-size:104%">)</span></div>
<div class="t" style="font-size:23.7px;font-family:'Liberation Sans', sans-serif;left:389.2px;top:2277px;transform:translate(0,0.50px) scaleX(1.0108);transform-origin:0 20.00px">with min-norm solution <span style="font-family:'Liberation Serif',serif;font-style:italic;font-size:104%">w</span><span style="font-family:'Liberation Serif',serif;font-size:104%"><sub>1</sub></span><span style="font-family:'Liberation Serif',serif;font-style:italic;font-size:104%">w</span><span style="font-family:'Liberation Serif',serif;font-size:104%"><sub>2</sub> = 1.</span></div>
<div class="t" style="font-size:23.7px;font-family:'Liberation Sans', sans-serif;word-spacing:4.98px;left:129.3px;top:2348px;transform:translate(0,0.80px) scaleX(0.9550);transform-origin:0 19.00px">Empirical results show <b>no significant impact of symmetries</b> like permutations</div>
<div class="t" style="font-size:23.7px;font-family:'Liberation Sans', sans-serif;left:129.3px;top:2379px;transform:translate(0,0.90px) scaleX(0.9511);transform-origin:0 19.00px">(shown below) <b>on sampling performance</b>.</div>
<div class="t" style="font-size:23.7px;font-family:'Liberation Sans', sans-serif;left:1161.7px;top:767px;transform:translate(0,0.70px) scaleX(0.9949);transform-origin:0 19.00px">Marginal densities of two weights with <b>10k (left) vs. 10M (right) samples</b>.</div>
<div class="t" style="font-size:26.6px;font-family:'Liberation Sans', sans-serif;color:#3a3a3a;left:1445.8px;top:838px;transform:translate(0,0.30px) scaleX(0.9438);transform-origin:0 22.00px">Sampling in Practice</div>
<div class="t" style="font-size:23.7px;font-family:'Liberation Sans', sans-serif;word-spacing:-2.04px;left:1129.0px;top:902px;transform:translate(0,0.90px) scaleX(0.9550);transform-origin:0 19.00px">BNN posterior complexities can be addressed through <b>warm-starts</b>, <b>ensembling</b>, and</div>
<div class="t" style="font-size:23.7px;font-family:'Liberation Sans', sans-serif;left:1129.0px;top:933px;transform:translate(0,0.90px) scaleX(0.9452);transform-origin:0 19.00px"><b>effective localized exploration</b>.</div>
<div class="t" style="font-size:23.7px;font-family:'Liberation Sans', sans-serif;left:1140.3px;top:994px;transform:translate(0,1.10px) scaleX(0.9547);transform-origin:0 19.00px"><b>Warm-starts</b> improve efficiency by avoiding low-probability regions.</div>
<div class="t" style="font-size:23.7px;font-family:'Liberation Sans', sans-serif;left:1140.3px;top:1031px;transform:translate(0,0.80px) scaleX(0.9422);transform-origin:0 19.00px"><b>Ensembling</b> evade non-identifiability problems.</div>
<div class="t" style="font-size:23.7px;font-family:'Liberation Sans', sans-serif;left:1140.3px;top:1067px;transform:translate(0,1.40px) scaleX(0.9529);transform-origin:0 19.00px"><b>Localized exploration</b> flexibly captures relevant posterior structure.</div>
<div class="t" style="font-size:23.7px;font-family:'Liberation Sans', sans-serif;left:1140.3px;top:1104px;transform:translate(0,1.00px) scaleX(0.9746);transform-origin:0 19.00px"><b>Uncertainty quantification (UQ) performance saturates</b> already <b>for small</b></div>
<div class="t" style="font-size:23.7px;font-family:'Liberation Sans', sans-serif;left:1140.3px;top:1135px;transform:translate(0,1.20px) scaleX(0.9110);transform-origin:0 19.00px"><b>ensemble sizes.</b></div>
<div class="t" style="font-size:23.7px;font-family:'Liberation Sans', sans-serif;left:1129.0px;top:1557px;transform:translate(0,0.90px) scaleX(0.9397);transform-origin:0 19.00px"><b>Standard Gaussian priors</b> are a well-working choice across varying network depth.</div>
<div class="t" style="font-size:23.7px;font-family:'Liberation Sans', sans-serif;word-spacing:4.07px;left:1129.0px;top:1951px;transform:translate(0,1.20px) scaleX(0.9550);transform-origin:0 19.00px">Building on these strategies, <b>SAI outperforms ABI</b> on the considered regression</div>
<div class="t" style="font-size:23.7px;font-family:'Liberation Sans', sans-serif;word-spacing:-0.31px;left:1129.0px;top:1982px;transform:translate(0,1.30px) scaleX(0.9550);transform-origin:0 19.00px">benchmark, surpassing the LA, MFVI and DEs in both predictive and UQ performance.</div>
<div class="t" style="font-size:20.7px;font-family:'Liberation Sans', sans-serif;left:1231.1px;top:2343px;transform:translate(0,0.80px) scaleX(0.9306);transform-origin:0 17.00px">LPPD = Log Pointwise Predictive Density, RMSE = Root Mean Squared Error</div>
<div class="t" style="font-size:20.7px;font-family:'Liberation Sans', sans-serif;left:1260.2px;top:2376px;transform:translate(0,0.60px) scaleX(0.9399);transform-origin:0 17.00px">LA = Laplace Approximation, MFVI = Mean-field Variational Inference,</div>
<div class="t" style="font-size:20.7px;font-family:'Liberation Sans', sans-serif;left:1273.0px;top:2401px;transform:translate(0,0.80px) scaleX(0.9171);transform-origin:0 17.00px">DE = Deep Ensemble, BDE(#members) = Bayesian Deep Ensemble</div>
<div class="t" style="font-size:26.6px;font-family:'Liberation Sans', sans-serif;color:#3a3a3a;left:1517.9px;top:2469px;transform:translate(0,0.50px) scaleX(0.9307);transform-origin:0 22.00px">Contact</div>
<div class="t" style="font-size:23.7px;font-family:'Liberation Sans', sans-serif;left:1471.0px;top:2534px;transform:translate(0,0.70px) scaleX(0.9374);transform-origin:0 19.00px"><b>j.kobialka@lmu.de</b></div>
<div class="t" style="font-size:23.7px;font-family:'Liberation Sans', sans-serif;left:1429.6px;top:2565px;transform:translate(0,1.20px) scaleX(0.9387);transform-origin:0 19.00px"><b>emanuel.sommer@lmu.de</b></div>
<div class="t" style="font-size:14.2px;font-family:'DejaVu Sans', 'Liberation Sans', sans-serif;left:153.8px;top:1062px;transform:translate(-100%,0.10px);transform-origin:100% 12.00px">2</div>
<div class="t" style="font-size:14.2px;font-family:'DejaVu Sans', 'Liberation Sans', sans-serif;left:153.8px;top:1098px;transform:translate(-100%,0.50px);transform-origin:100% 12.00px">0</div>
<div class="t" style="font-size:14.2px;font-family:'DejaVu Sans', 'Liberation Sans', sans-serif;left:153.8px;top:1135px;transform:translate(-100%,-0.20px);transform-origin:100% 12.00px">−2</div>
<div class="t" style="font-size:14.2px;font-family:'DejaVu Sans', 'Liberation Sans', sans-serif;left:192.8px;top:1179px;transform:translate(-50%,0.00px);transform-origin:50% 12.00px">−2</div>
<div class="t" style="font-size:14.2px;font-family:'DejaVu Sans', 'Liberation Sans', sans-serif;left:229.3px;top:1179px;transform:translate(-50%,0.00px);transform-origin:50% 12.00px">0</div>
<div class="t" style="font-size:14.2px;font-family:'DejaVu Sans', 'Liberation Sans', sans-serif;left:265.8px;top:1179px;transform:translate(-50%,0.00px);transform-origin:50% 12.00px">2</div>
<div class="t" style="font-size:14.2px;font-family:'DejaVu Sans', 'Liberation Sans', sans-serif;left:329.6px;top:1062px;transform:translate(-100%,0.10px);transform-origin:100% 12.00px">2</div>
<div class="t" style="font-size:14.2px;font-family:'DejaVu Sans', 'Liberation Sans', sans-serif;left:329.6px;top:1098px;transform:translate(-100%,0.50px);transform-origin:100% 12.00px">0</div>
<div class="t" style="font-size:14.2px;font-family:'DejaVu Sans', 'Liberation Sans', sans-serif;left:329.6px;top:1135px;transform:translate(-100%,-0.20px);transform-origin:100% 12.00px">−2</div>
<div class="t" style="font-size:14.2px;font-family:'DejaVu Sans', 'Liberation Sans', sans-serif;left:368.6px;top:1179px;transform:translate(-50%,0.00px);transform-origin:50% 12.00px">−2</div>
<div class="t" style="font-size:14.2px;font-family:'DejaVu Sans', 'Liberation Sans', sans-serif;left:405.1px;top:1179px;transform:translate(-50%,0.00px);transform-origin:50% 12.00px">0</div>
<div class="t" style="font-size:14.2px;font-family:'DejaVu Sans', 'Liberation Sans', sans-serif;left:441.6px;top:1179px;transform:translate(-50%,0.00px);transform-origin:50% 12.00px">2</div>
<div class="t" style="font-size:14.2px;font-family:'DejaVu Sans', 'Liberation Sans', sans-serif;left:505.3px;top:1062px;transform:translate(-100%,0.10px);transform-origin:100% 12.00px">2</div>
<div class="t" style="font-size:14.2px;font-family:'DejaVu Sans', 'Liberation Sans', sans-serif;left:505.3px;top:1098px;transform:translate(-100%,0.50px);transform-origin:100% 12.00px">0</div>
<div class="t" style="font-size:14.2px;font-family:'DejaVu Sans', 'Liberation Sans', sans-serif;left:505.3px;top:1135px;transform:translate(-100%,-0.20px);transform-origin:100% 12.00px">−2</div>
<div class="t" style="font-size:14.2px;font-family:'DejaVu Sans', 'Liberation Sans', sans-serif;left:544.3px;top:1179px;transform:translate(-50%,0.00px);transform-origin:50% 12.00px">−2</div>
<div class="t" style="font-size:14.2px;font-family:'DejaVu Sans', 'Liberation Sans', sans-serif;left:580.8px;top:1179px;transform:translate(-50%,0.00px);transform-origin:50% 12.00px">0</div>
<div class="t" style="font-size:14.2px;font-family:'DejaVu Sans', 'Liberation Sans', sans-serif;left:617.3px;top:1179px;transform:translate(-50%,0.00px);transform-origin:50% 12.00px">2</div>
<div class="t" style="font-size:14.2px;font-family:'DejaVu Sans', 'Liberation Sans', sans-serif;left:681.0px;top:1062px;transform:translate(-100%,0.10px);transform-origin:100% 12.00px">2</div>
<div class="t" style="font-size:14.2px;font-family:'DejaVu Sans', 'Liberation Sans', sans-serif;left:681.0px;top:1098px;transform:translate(-100%,0.50px);transform-origin:100% 12.00px">0</div>
<div class="t" style="font-size:14.2px;font-family:'DejaVu Sans', 'Liberation Sans', sans-serif;left:681.0px;top:1135px;transform:translate(-100%,-0.20px);transform-origin:100% 12.00px">−2</div>
<div class="t" style="font-size:14.2px;font-family:'DejaVu Sans', 'Liberation Sans', sans-serif;left:720.0px;top:1179px;transform:translate(-50%,0.00px);transform-origin:50% 12.00px">−2</div>
<div class="t" style="font-size:14.2px;font-family:'DejaVu Sans', 'Liberation Sans', sans-serif;left:756.5px;top:1179px;transform:translate(-50%,0.00px);transform-origin:50% 12.00px">0</div>
<div class="t" style="font-size:14.2px;font-family:'DejaVu Sans', 'Liberation Sans', sans-serif;left:793.0px;top:1179px;transform:translate(-50%,0.00px);transform-origin:50% 12.00px">2</div>
<div class="t" style="font-size:14.2px;font-family:'DejaVu Sans', 'Liberation Sans', sans-serif;left:856.8px;top:1062px;transform:translate(-100%,0.10px);transform-origin:100% 12.00px">2</div>
<div class="t" style="font-size:14.2px;font-family:'DejaVu Sans', 'Liberation Sans', sans-serif;left:856.8px;top:1098px;transform:translate(-100%,0.50px);transform-origin:100% 12.00px">0</div>
<div class="t" style="font-size:14.2px;font-family:'DejaVu Sans', 'Liberation Sans', sans-serif;left:856.8px;top:1135px;transform:translate(-100%,-0.20px);transform-origin:100% 12.00px">−2</div>
<div class="t" style="font-size:14.2px;font-family:'DejaVu Sans', 'Liberation Sans', sans-serif;left:895.8px;top:1179px;transform:translate(-50%,0.00px);transform-origin:50% 12.00px">−2</div>
<div class="t" style="font-size:14.2px;font-family:'DejaVu Sans', 'Liberation Sans', sans-serif;left:932.3px;top:1179px;transform:translate(-50%,0.00px);transform-origin:50% 12.00px">0</div>
<div class="t" style="font-size:14.2px;font-family:'DejaVu Sans', 'Liberation Sans', sans-serif;left:968.8px;top:1179px;transform:translate(-50%,0.00px);transform-origin:50% 12.00px">2</div>
<div class="t" style="font-size:14.2px;font-family:'DejaVu Sans', 'Liberation Sans', sans-serif;left:153.8px;top:1238px;transform:translate(-100%,0.40px);transform-origin:100% 12.00px">2</div>
<div class="t" style="font-size:14.2px;font-family:'DejaVu Sans', 'Liberation Sans', sans-serif;left:153.8px;top:1275px;transform:translate(-100%,-0.40px);transform-origin:100% 12.00px">0</div>
<div class="t" style="font-size:14.2px;font-family:'DejaVu Sans', 'Liberation Sans', sans-serif;left:153.8px;top:1311px;transform:translate(-100%,-0.30px);transform-origin:100% 12.00px">−2</div>
<div class="t" style="font-size:14.2px;font-family:'DejaVu Sans', 'Liberation Sans', sans-serif;left:192.8px;top:1355px;transform:translate(-50%,-0.10px);transform-origin:50% 12.00px">−2</div>
<div class="t" style="font-size:14.2px;font-family:'DejaVu Sans', 'Liberation Sans', sans-serif;left:229.3px;top:1355px;transform:translate(-50%,-0.10px);transform-origin:50% 12.00px">0</div>
<div class="t" style="font-size:14.2px;font-family:'DejaVu Sans', 'Liberation Sans', sans-serif;left:265.8px;top:1355px;transform:translate(-50%,-0.10px);transform-origin:50% 12.00px">2</div>
<div class="t" style="font-size:14.2px;font-family:'DejaVu Sans', 'Liberation Sans', sans-serif;left:329.6px;top:1238px;transform:translate(-100%,0.40px);transform-origin:100% 12.00px">2</div>
<div class="t" style="font-size:14.2px;font-family:'DejaVu Sans', 'Liberation Sans', sans-serif;left:329.6px;top:1275px;transform:translate(-100%,-0.40px);transform-origin:100% 12.00px">0</div>
<div class="t" style="font-size:14.2px;font-family:'DejaVu Sans', 'Liberation Sans', sans-serif;left:329.6px;top:1311px;transform:translate(-100%,-0.30px);transform-origin:100% 12.00px">−2</div>
<div class="t" style="font-size:14.2px;font-family:'DejaVu Sans', 'Liberation Sans', sans-serif;left:368.6px;top:1355px;transform:translate(-50%,-0.10px);transform-origin:50% 12.00px">−2</div>
<div class="t" style="font-size:14.2px;font-family:'DejaVu Sans', 'Liberation Sans', sans-serif;left:405.1px;top:1355px;transform:translate(-50%,-0.10px);transform-origin:50% 12.00px">0</div>
<div class="t" style="font-size:14.2px;font-family:'DejaVu Sans', 'Liberation Sans', sans-serif;left:441.6px;top:1355px;transform:translate(-50%,-0.10px);transform-origin:50% 12.00px">2</div>
<div class="t" style="font-size:14.2px;font-family:'DejaVu Sans', 'Liberation Sans', sans-serif;left:505.3px;top:1238px;transform:translate(-100%,0.40px);transform-origin:100% 12.00px">2</div>
<div class="t" style="font-size:14.2px;font-family:'DejaVu Sans', 'Liberation Sans', sans-serif;left:505.3px;top:1275px;transform:translate(-100%,-0.40px);transform-origin:100% 12.00px">0</div>
<div class="t" style="font-size:14.2px;font-family:'DejaVu Sans', 'Liberation Sans', sans-serif;left:505.3px;top:1311px;transform:translate(-100%,-0.30px);transform-origin:100% 12.00px">−2</div>
<div class="t" style="font-size:14.2px;font-family:'DejaVu Sans', 'Liberation Sans', sans-serif;left:544.3px;top:1355px;transform:translate(-50%,-0.10px);transform-origin:50% 12.00px">−2</div>
<div class="t" style="font-size:14.2px;font-family:'DejaVu Sans', 'Liberation Sans', sans-serif;left:580.8px;top:1355px;transform:translate(-50%,-0.10px);transform-origin:50% 12.00px">0</div>
<div class="t" style="font-size:14.2px;font-family:'DejaVu Sans', 'Liberation Sans', sans-serif;left:617.3px;top:1355px;transform:translate(-50%,-0.10px);transform-origin:50% 12.00px">2</div>
<div class="t" style="font-size:14.2px;font-family:'DejaVu Sans', 'Liberation Sans', sans-serif;left:681.0px;top:1238px;transform:translate(-100%,0.40px);transform-origin:100% 12.00px">2</div>
<div class="t" style="font-size:14.2px;font-family:'DejaVu Sans', 'Liberation Sans', sans-serif;left:681.0px;top:1275px;transform:translate(-100%,-0.40px);transform-origin:100% 12.00px">0</div>
<div class="t" style="font-size:14.2px;font-family:'DejaVu Sans', 'Liberation Sans', sans-serif;left:681.0px;top:1311px;transform:translate(-100%,-0.30px);transform-origin:100% 12.00px">−2</div>
<div class="t" style="font-size:14.2px;font-family:'DejaVu Sans', 'Liberation Sans', sans-serif;left:720.0px;top:1355px;transform:translate(-50%,-0.10px);transform-origin:50% 12.00px">−2</div>
<div class="t" style="font-size:14.2px;font-family:'DejaVu Sans', 'Liberation Sans', sans-serif;left:756.5px;top:1355px;transform:translate(-50%,-0.10px);transform-origin:50% 12.00px">0</div>
<div class="t" style="font-size:14.2px;font-family:'DejaVu Sans', 'Liberation Sans', sans-serif;left:793.0px;top:1355px;transform:translate(-50%,-0.10px);transform-origin:50% 12.00px">2</div>
<div class="t" style="font-size:14.2px;font-family:'DejaVu Sans', 'Liberation Sans', sans-serif;left:856.8px;top:1238px;transform:translate(-100%,0.40px);transform-origin:100% 12.00px">2</div>
<div class="t" style="font-size:14.2px;font-family:'DejaVu Sans', 'Liberation Sans', sans-serif;left:856.8px;top:1275px;transform:translate(-100%,-0.40px);transform-origin:100% 12.00px">0</div>
<div class="t" style="font-size:14.2px;font-family:'DejaVu Sans', 'Liberation Sans', sans-serif;left:856.8px;top:1311px;transform:translate(-100%,-0.30px);transform-origin:100% 12.00px">−2</div>
<div class="t" style="font-size:14.2px;font-family:'DejaVu Sans', 'Liberation Sans', sans-serif;left:895.8px;top:1355px;transform:translate(-50%,-0.10px);transform-origin:50% 12.00px">−2</div>
<div class="t" style="font-size:14.2px;font-family:'DejaVu Sans', 'Liberation Sans', sans-serif;left:932.3px;top:1355px;transform:translate(-50%,-0.10px);transform-origin:50% 12.00px">0</div>
<div class="t" style="font-size:14.2px;font-family:'DejaVu Sans', 'Liberation Sans', sans-serif;left:968.8px;top:1355px;transform:translate(-50%,-0.10px);transform-origin:50% 12.00px">2</div>
<div class="t" style="font-size:11.7px;font-family:'Liberation Sans', sans-serif;left:217.4px;top:1376px;transform:translate(-50%,-0.40px) scaleX(0.9550);transform-origin:50% 10.00px">First</div>
<div class="t" style="font-size:11.7px;font-family:'Liberation Sans', sans-serif;left:393.3px;top:1376px;transform:translate(-50%,-0.40px) scaleX(0.9550);transform-origin:50% 10.00px">Early Hidden</div>
<div class="t" style="font-size:11.7px;font-family:'Liberation Sans', sans-serif;left:569.0px;top:1376px;transform:translate(-50%,-0.40px) scaleX(0.9550);transform-origin:50% 10.00px">Midpoint Hidden</div>
<div class="t" style="font-size:11.7px;font-family:'Liberation Sans', sans-serif;left:745.0px;top:1376px;transform:translate(-50%,-0.40px) scaleX(0.9550);transform-origin:50% 10.00px">Later Hidden</div>
<div class="t" style="font-size:11.7px;font-family:'Liberation Sans', sans-serif;left:920.8px;top:1376px;transform:translate(-50%,-0.40px) scaleX(0.9550);transform-origin:50% 10.00px">Last</div>
<div class="t" style="font-size:11.7px;font-family:'Liberation Sans', sans-serif;left:129.6px;top:1134px;transform:translate(-50%,0.00px) rotate(-90deg) scaleX(0.9550);transform-origin:50% 10.00px">Kernel</div>
<div class="t" style="font-size:11.7px;font-family:'Liberation Sans', sans-serif;left:129.6px;top:1315px;transform:translate(-50%,-0.30px) rotate(-90deg) scaleX(0.9550);transform-origin:50% 10.00px">Bias</div>
<div class="t" style="font-size:19.6px;font-family:'DejaVu Sans', 'Liberation Sans', sans-serif;left:516.8px;top:1828px;transform:translate(0,1.00px) scaleX(1.0100);transform-origin:0 16.00px">NUTS samples</div>
<div class="t" style="font-size:19.6px;font-family:'DejaVu Sans', 'Liberation Sans', sans-serif;left:516.8px;top:1858px;transform:translate(0,1.00px) scaleX(1.0108);transform-origin:0 16.00px">MFVI samples</div>
<div class="t" style="font-size:22px;font-family:'DejaVu Sans', 'Liberation Sans', sans-serif;left:395.0px;top:1843px;transform:translate(-50%,0.80px) scaleX(0.9200);transform-origin:50% 18.00px"><i style="font-family:'DejaVu Serif','DejaVu Sans',serif">τ</i><sup style="font-size:68%;top:-.5em">2</sup> = 1</div>
<div class="t" style="font-size:22px;font-family:'DejaVu Sans', 'Liberation Sans', sans-serif;left:788.5px;top:1843px;transform:translate(-50%,0.80px) scaleX(0.9200);transform-origin:50% 18.00px"><i style="font-family:'DejaVu Serif','DejaVu Sans',serif">τ</i><sup style="font-size:68%;top:-.5em">2</sup> = 0.1</div>
<div class="t" style="font-size:20.6px;font-family:'DejaVu Sans', 'Liberation Sans', sans-serif;left:227.8px;top:1902px;transform:translate(-100%,0.40px) scaleX(0.9700);transform-origin:100% 17.00px">2</div>
<div class="t" style="font-size:20.6px;font-family:'DejaVu Sans', 'Liberation Sans', sans-serif;left:620.0px;top:1912px;transform:translate(-100%,0.50px) scaleX(0.9700);transform-origin:100% 17.00px">2</div>
<div class="t" style="font-size:20.6px;font-family:'DejaVu Sans', 'Liberation Sans', sans-serif;left:227.8px;top:2007px;transform:translate(-100%,0.70px) scaleX(0.9700);transform-origin:100% 17.00px">0</div>
<div class="t" style="font-size:20.6px;font-family:'DejaVu Sans', 'Liberation Sans', sans-serif;left:620.0px;top:2007px;transform:translate(-100%,0.90px) scaleX(0.9700);transform-origin:100% 17.00px">0</div>
<div class="t" style="font-size:20.6px;font-family:'DejaVu Sans', 'Liberation Sans', sans-serif;left:227.8px;top:2113px;transform:translate(-100%,0.00px) scaleX(0.9700);transform-origin:100% 17.00px">−2</div>
<div class="t" style="font-size:20.6px;font-family:'DejaVu Sans', 'Liberation Sans', sans-serif;left:620.0px;top:2103px;transform:translate(-100%,0.30px) scaleX(0.9700);transform-origin:100% 17.00px">−2</div>
<div class="t" style="font-size:20.6px;font-family:'DejaVu Sans', 'Liberation Sans', sans-serif;left:281.5px;top:2171px;transform:translate(-50%,0.80px) scaleX(0.9700);transform-origin:50% 17.00px">−2</div>
<div class="t" style="font-size:20.6px;font-family:'DejaVu Sans', 'Liberation Sans', sans-serif;left:686.5px;top:2171px;transform:translate(-50%,0.80px) scaleX(0.9700);transform-origin:50% 17.00px">−2</div>
<div class="t" style="font-size:20.6px;font-family:'DejaVu Sans', 'Liberation Sans', sans-serif;left:395.1px;top:2171px;transform:translate(-50%,0.80px) scaleX(0.9700);transform-origin:50% 17.00px">0</div>
<div class="t" style="font-size:20.6px;font-family:'DejaVu Sans', 'Liberation Sans', sans-serif;left:788.6px;top:2171px;transform:translate(-50%,0.80px) scaleX(0.9700);transform-origin:50% 17.00px">0</div>
<div class="t" style="font-size:20.6px;font-family:'DejaVu Sans', 'Liberation Sans', sans-serif;left:508.7px;top:2171px;transform:translate(-50%,0.80px) scaleX(0.9700);transform-origin:50% 17.00px">2</div>
<div class="t" style="font-size:20.6px;font-family:'DejaVu Sans', 'Liberation Sans', sans-serif;left:890.7px;top:2171px;transform:translate(-50%,0.80px) scaleX(0.9700);transform-origin:50% 17.00px">2</div>
<div class="t" style="font-size:22.3px;font-family:'DejaVu Sans', 'Liberation Sans', sans-serif;left:395.1px;top:2195px;transform:translate(-50%,-0.10px) scaleX(0.9883);transform-origin:50% 19.00px">First Layer Weight</div>
<div class="t" style="font-size:22.3px;font-family:'DejaVu Sans', 'Liberation Sans', sans-serif;left:788.6px;top:2195px;transform:translate(-50%,-0.10px) scaleX(0.9883);transform-origin:50% 19.00px">First Layer Weight</div>
<div class="t" style="font-size:22.3px;font-family:'DejaVu Sans', 'Liberation Sans', sans-serif;left:190.5px;top:1998px;transform:translate(-50%,0.20px) rotate(-90deg) scaleX(0.9870);transform-origin:50% 19.00px">Second Layer Weight</div>
<div class="t" style="font-size:22.3px;font-family:'DejaVu Sans', 'Liberation Sans', sans-serif;left:584.0px;top:1998px;transform:translate(-50%,0.20px) rotate(-90deg) scaleX(0.9870);transform-origin:50% 19.00px">Second Layer Weight</div>
<div class="t" style="font-size:20.5px;font-family:'DejaVu Sans', 'Liberation Sans', sans-serif;color:#1a1a1a;left:450.8px;top:2444px;transform:translate(0,0.70px) scaleX(0.9868);transform-origin:0 17.00px">Ensemble</div>
<div class="t" style="font-size:20.5px;font-family:'DejaVu Sans', 'Liberation Sans', sans-serif;color:#1a1a1a;left:570.4px;top:2444px;transform:translate(0,0.70px) scaleX(0.9823);transform-origin:0 17.00px">Individual Chain</div>
<div class="t" style="font-size:21.6px;font-family:'DejaVu Sans', 'Liberation Sans', sans-serif;color:#1a1a1a;left:400.8px;top:2484px;transform:translate(-50%,-0.10px) scaleX(1.0087);transform-origin:50% 18.00px">Permuted Warmstarts</div>
<div class="t" style="font-size:21.6px;font-family:'DejaVu Sans', 'Liberation Sans', sans-serif;color:#1a1a1a;left:768.2px;top:2484px;transform:translate(-50%,-0.10px) scaleX(1.0142);transform-origin:50% 18.00px">Regular Warmstarts</div>
<div class="t" style="font-size:17.5px;font-family:'DejaVu Sans', 'Liberation Sans', sans-serif;color:#4d4d4d;left:219.0px;top:2549px;transform:translate(-100%,1.00px);transform-origin:100% 14.00px">0</div>
<div class="t" style="font-size:17.5px;font-family:'DejaVu Sans', 'Liberation Sans', sans-serif;color:#4d4d4d;left:219.0px;top:2597px;transform:translate(-100%,0.35px);transform-origin:100% 14.00px">-1</div>
<div class="t" style="font-size:17.5px;font-family:'DejaVu Sans', 'Liberation Sans', sans-serif;color:#4d4d4d;left:219.0px;top:2644px;transform:translate(-100%,0.70px);transform-origin:100% 14.00px">-2</div>
<div class="t" style="font-size:17.5px;font-family:'DejaVu Sans', 'Liberation Sans', sans-serif;color:#4d4d4d;left:219.0px;top:2691px;transform:translate(-100%,1.05px);transform-origin:100% 14.00px">-3</div>
<div class="t" style="font-size:17.5px;font-family:'DejaVu Sans', 'Liberation Sans', sans-serif;color:#4d4d4d;left:237.9px;top:2720px;transform:translate(-50%,1.20px);transform-origin:50% 14.00px">1</div>
<div class="t" style="font-size:17.5px;font-family:'DejaVu Sans', 'Liberation Sans', sans-serif;color:#4d4d4d;left:336.9px;top:2720px;transform:translate(-50%,1.20px);transform-origin:50% 14.00px">10</div>
<div class="t" style="font-size:17.5px;font-family:'DejaVu Sans', 'Liberation Sans', sans-serif;color:#4d4d4d;left:435.8px;top:2720px;transform:translate(-50%,1.20px);transform-origin:50% 14.00px">100</div>
<div class="t" style="font-size:17.5px;font-family:'DejaVu Sans', 'Liberation Sans', sans-serif;color:#4d4d4d;left:534.8px;top:2720px;transform:translate(-50%,1.20px);transform-origin:50% 14.00px">1000</div>
<div class="t" style="font-size:17.5px;font-family:'DejaVu Sans', 'Liberation Sans', sans-serif;color:#4d4d4d;left:604.3px;top:2720px;transform:translate(-50%,1.20px);transform-origin:50% 14.00px">1</div>
<div class="t" style="font-size:17.5px;font-family:'DejaVu Sans', 'Liberation Sans', sans-serif;color:#4d4d4d;left:703.4px;top:2720px;transform:translate(-50%,1.20px);transform-origin:50% 14.00px">10</div>
<div class="t" style="font-size:17.5px;font-family:'DejaVu Sans', 'Liberation Sans', sans-serif;color:#4d4d4d;left:802.4px;top:2720px;transform:translate(-50%,1.20px);transform-origin:50% 14.00px">100</div>
<div class="t" style="font-size:17.5px;font-family:'DejaVu Sans', 'Liberation Sans', sans-serif;color:#4d4d4d;left:901.5px;top:2720px;transform:translate(-50%,1.20px);transform-origin:50% 14.00px">1000</div>
<div class="t" style="font-size:21.6px;font-family:'DejaVu Sans', 'Liberation Sans', sans-serif;left:585.0px;top:2745px;transform:translate(-50%,0.20px) scaleX(1.0067);transform-origin:50% 18.00px">#Samples (log scale)</div>
<div class="t" style="font-size:21.6px;font-family:'DejaVu Sans', 'Liberation Sans', sans-serif;left:189.3px;top:2598px;transform:translate(-50%,-0.20px) rotate(-90deg) scaleX(0.9983);transform-origin:50% 18.00px">Cumulative LPPD</div>
<div class="t" style="font-size:17.3px;font-family:'DejaVu Sans', 'Liberation Sans', sans-serif;left:1156.8px;top:431px;transform:translate(-100%,0.90px);transform-origin:100% 14.00px">2</div>
<div class="t" style="font-size:17.3px;font-family:'DejaVu Sans', 'Liberation Sans', sans-serif;left:1156.8px;top:529px;transform:translate(-100%,0.50px);transform-origin:100% 14.00px">0</div>
<div class="t" style="font-size:17.3px;font-family:'DejaVu Sans', 'Liberation Sans', sans-serif;left:1156.8px;top:627px;transform:translate(-100%,0.20px);transform-origin:100% 14.00px">−2</div>
<div class="t" style="font-size:17.3px;font-family:'DejaVu Sans', 'Liberation Sans', sans-serif;left:1258.6px;top:738px;transform:translate(-50%,0.40px);transform-origin:50% 14.00px">−2</div>
<div class="t" style="font-size:17.3px;font-family:'DejaVu Sans', 'Liberation Sans', sans-serif;left:1353.6px;top:738px;transform:translate(-50%,0.40px);transform-origin:50% 14.00px">0</div>
<div class="t" style="font-size:17.3px;font-family:'DejaVu Sans', 'Liberation Sans', sans-serif;left:1448.8px;top:738px;transform:translate(-50%,0.40px);transform-origin:50% 14.00px">2</div>
<div class="t" style="font-size:17.3px;font-family:'DejaVu Sans', 'Liberation Sans', sans-serif;left:1583.0px;top:433px;transform:translate(-100%,0.80px);transform-origin:100% 14.00px">2</div>
<div class="t" style="font-size:17.3px;font-family:'DejaVu Sans', 'Liberation Sans', sans-serif;left:1583.0px;top:529px;transform:translate(-100%,0.30px);transform-origin:100% 14.00px">0</div>
<div class="t" style="font-size:17.3px;font-family:'DejaVu Sans', 'Liberation Sans', sans-serif;left:1583.0px;top:624px;transform:translate(-100%,0.80px);transform-origin:100% 14.00px">−2</div>
<div class="t" style="font-size:17.3px;font-family:'DejaVu Sans', 'Liberation Sans', sans-serif;left:1688.5px;top:733px;transform:translate(-50%,0.80px);transform-origin:50% 14.00px">−2</div>
<div class="t" style="font-size:17.3px;font-family:'DejaVu Sans', 'Liberation Sans', sans-serif;left:1783.5px;top:733px;transform:translate(-50%,0.80px);transform-origin:50% 14.00px">0</div>
<div class="t" style="font-size:17.3px;font-family:'DejaVu Sans', 'Liberation Sans', sans-serif;left:1879.2px;top:733px;transform:translate(-50%,0.80px);transform-origin:50% 14.00px">2</div>
<div class="t" style="font-size:13.1px;font-family:'DejaVu Sans', 'Liberation Sans', sans-serif;color:#4d4d4d;left:1194.7px;top:1419px;transform:translate(-100%,0.30px);transform-origin:100% 11.00px">0.60</div>
<div class="t" style="font-size:13.1px;font-family:'DejaVu Sans', 'Liberation Sans', sans-serif;color:#4d4d4d;left:1194.7px;top:1372px;transform:translate(-100%,-0.20px);transform-origin:100% 11.00px">0.65</div>
<div class="t" style="font-size:13.1px;font-family:'DejaVu Sans', 'Liberation Sans', sans-serif;color:#4d4d4d;left:1194.7px;top:1324px;transform:translate(-100%,0.30px);transform-origin:100% 11.00px">0.70</div>
<div class="t" style="font-size:13.1px;font-family:'DejaVu Sans', 'Liberation Sans', sans-serif;color:#4d4d4d;left:1194.7px;top:1277px;transform:translate(-100%,-0.20px);transform-origin:100% 11.00px">0.75</div>
<div class="t" style="font-size:13.1px;font-family:'DejaVu Sans', 'Liberation Sans', sans-serif;color:#4d4d4d;left:1194.7px;top:1229px;transform:translate(-100%,0.30px);transform-origin:100% 11.00px">0.80</div>
<div class="t" style="font-size:13.1px;font-family:'DejaVu Sans', 'Liberation Sans', sans-serif;color:#4d4d4d;left:1211.3px;top:1460px;transform:translate(-50%,-0.40px);transform-origin:50% 11.00px">1</div>
<div class="t" style="font-size:13.1px;font-family:'DejaVu Sans', 'Liberation Sans', sans-serif;color:#4d4d4d;left:1286.3px;top:1460px;transform:translate(-50%,-0.40px);transform-origin:50% 11.00px">10</div>
<div class="t" style="font-size:13.1px;font-family:'DejaVu Sans', 'Liberation Sans', sans-serif;color:#4d4d4d;left:1361.2px;top:1460px;transform:translate(-50%,-0.40px);transform-origin:50% 11.00px">100</div>
<div class="t" style="font-size:13.1px;font-family:'DejaVu Sans', 'Liberation Sans', sans-serif;color:#4d4d4d;left:1436.2px;top:1460px;transform:translate(-50%,-0.40px);transform-origin:50% 11.00px">1k</div>
<div class="t" style="font-size:13.1px;font-family:'DejaVu Sans', 'Liberation Sans', sans-serif;color:#4d4d4d;left:1511.2px;top:1460px;transform:translate(-50%,-0.40px);transform-origin:50% 11.00px">10k</div>
<div class="t" style="font-size:16.2px;font-family:'DejaVu Sans', 'Liberation Sans', sans-serif;left:1361.2px;top:1475px;transform:translate(-50%,1.20px) scaleX(1.0051);transform-origin:50% 13.00px">#Chains</div>
<div class="t" style="font-size:16.2px;font-family:'DejaVu Sans', 'Liberation Sans', sans-serif;left:1158.5px;top:1322px;transform:translate(-50%,0.90px) rotate(-90deg) scaleX(1.0278);transform-origin:50% 13.00px">Cumulative LPPD</div>
<div class="t" style="font-size:11.1px;font-family:'DejaVu Sans', 'Liberation Sans', sans-serif;left:1941.6px;top:1446px;transform:translate(0,0.70px);transform-origin:0 9.00px">0</div>
<div class="t" style="font-size:11.1px;font-family:'DejaVu Sans', 'Liberation Sans', sans-serif;left:1941.6px;top:1412px;transform:translate(0,0.80px);transform-origin:0 9.00px">2</div>
<div class="t" style="font-size:11.1px;font-family:'DejaVu Sans', 'Liberation Sans', sans-serif;left:1941.6px;top:1379px;transform:translate(0,-0.10px);transform-origin:0 9.00px">4</div>
<div class="t" style="font-size:11.1px;font-family:'DejaVu Sans', 'Liberation Sans', sans-serif;left:1941.6px;top:1345px">6</div>
<div class="t" style="font-size:11.1px;font-family:'DejaVu Sans', 'Liberation Sans', sans-serif;left:1941.6px;top:1311px;transform:translate(0,0.10px);transform-origin:0 9.00px">8</div>
<div class="t" style="font-size:11.1px;font-family:'DejaVu Sans', 'Liberation Sans', sans-serif;left:1941.6px;top:1277px;transform:translate(0,0.20px);transform-origin:0 9.00px">10</div>
<div class="t" style="font-size:11.1px;font-family:'DejaVu Sans', 'Liberation Sans', sans-serif;left:1941.6px;top:1243px;transform:translate(0,0.30px);transform-origin:0 9.00px">12</div>
<div class="t" style="font-size:11.1px;font-family:'DejaVu Sans', 'Liberation Sans', sans-serif;left:1973.0px;top:1327px;transform:translate(-50%,0.60px) rotate(-90deg) scaleX(0.9826);transform-origin:50% 9.00px">Squared Wasserstein Distance</div>
<div class="t" style="font-size:12.2px;font-family:'DejaVu Sans', 'Liberation Sans', sans-serif;left:1619.1px;top:1323px;transform:translate(-50%,0.70px) rotate(-90deg) scaleX(0.9600);transform-origin:50% 10.00px">Posterior Samples</div>
<div class="t" style="font-size:12.2px;font-family:'DejaVu Sans', 'Liberation Sans', sans-serif;left:1768.2px;top:1479px;transform:translate(-50%,0.50px) scaleX(0.9672);transform-origin:50% 10.00px">Posterior Samples</div>
<div class="t" style="font-size:11.1px;font-family:'DejaVu Sans', 'Liberation Sans', sans-serif;left:1623.6px;top:1226px;transform:translate(-50%,-0.10px) rotate(-45deg);transform-origin:50% 9.00px">Chain 1: 0</div>
<div class="t" style="font-size:11.1px;font-family:'DejaVu Sans', 'Liberation Sans', sans-serif;left:1621.6px;top:1467px;transform:translate(-50%,0.80px) rotate(-45deg);transform-origin:50% 9.00px">Chain 1: 50</div>
<div class="t" style="font-size:11.1px;font-family:'DejaVu Sans', 'Liberation Sans', sans-serif;left:1650.6px;top:1472px;transform:translate(-50%,0.40px) rotate(-45deg);transform-origin:50% 9.00px">Chain 1: 0</div>
<div class="t" style="font-size:11.1px;font-family:'DejaVu Sans', 'Liberation Sans', sans-serif;left:1889.5px;top:1475px;transform:translate(-50%,-0.10px) rotate(-45deg);transform-origin:50% 9.00px">Chain 1: 50</div>
<div class="t" style="font-size:17.6px;font-family:'DejaVu Sans', 'Liberation Sans', sans-serif;color:#4d4d4d;left:1290.6px;top:1632px;transform:translate(-100%,0.60px) scaleX(0.9000);transform-origin:100% 14.00px">1</div>
<div class="t" style="font-size:17.6px;font-family:'DejaVu Sans', 'Liberation Sans', sans-serif;color:#4d4d4d;left:1290.6px;top:1668px;transform:translate(-100%,0.75px) scaleX(0.9000);transform-origin:100% 14.00px">2</div>
<div class="t" style="font-size:17.6px;font-family:'DejaVu Sans', 'Liberation Sans', sans-serif;color:#4d4d4d;left:1290.6px;top:1704px;transform:translate(-100%,0.90px) scaleX(0.9000);transform-origin:100% 14.00px">3</div>
<div class="t" style="font-size:17.6px;font-family:'DejaVu Sans', 'Liberation Sans', sans-serif;color:#4d4d4d;left:1290.6px;top:1740px;transform:translate(-100%,1.05px) scaleX(0.9000);transform-origin:100% 14.00px">4</div>
<div class="t" style="font-size:17.6px;font-family:'DejaVu Sans', 'Liberation Sans', sans-serif;color:#4d4d4d;left:1290.6px;top:1776px;transform:translate(-100%,1.20px) scaleX(0.9000);transform-origin:100% 14.00px">5</div>
<div class="t" style="font-size:17.6px;font-family:'DejaVu Sans', 'Liberation Sans', sans-serif;color:#4d4d4d;left:1290.6px;top:1812px;transform:translate(-100%,1.35px) scaleX(0.9000);transform-origin:100% 14.00px">6</div>
<div class="t" style="font-size:16px;font-family:'DejaVu Sans', 'Liberation Sans', sans-serif;color:#4d4d4d;left:1331.2px;top:1876px;transform:translate(-50%,0.40px) scaleX(0.9000);transform-origin:50% 13.00px">0.1</div>
<div class="t" style="font-size:16px;font-family:'DejaVu Sans', 'Liberation Sans', sans-serif;color:#4d4d4d;left:1396.7px;top:1876px;transform:translate(-50%,0.40px) scaleX(0.9000);transform-origin:50% 13.00px">0.2</div>
<div class="t" style="font-size:16px;font-family:'DejaVu Sans', 'Liberation Sans', sans-serif;color:#4d4d4d;left:1462.2px;top:1876px;transform:translate(-50%,0.40px) scaleX(0.9000);transform-origin:50% 13.00px">0.5</div>
<div class="t" style="font-size:16px;font-family:'DejaVu Sans', 'Liberation Sans', sans-serif;color:#4d4d4d;left:1527.7px;top:1876px;transform:translate(-50%,0.40px) scaleX(0.9000);transform-origin:50% 13.00px">1.0</div>
<div class="t" style="font-size:16px;font-family:'DejaVu Sans', 'Liberation Sans', sans-serif;color:#4d4d4d;left:1593.2px;top:1876px;transform:translate(-50%,0.40px) scaleX(0.9000);transform-origin:50% 13.00px">2.0</div>
<div class="t" style="font-size:16px;font-family:'DejaVu Sans', 'Liberation Sans', sans-serif;color:#4d4d4d;left:1658.7px;top:1876px;transform:translate(-50%,0.40px) scaleX(0.9000);transform-origin:50% 13.00px">5.0</div>
<div class="t" style="font-size:16px;font-family:'DejaVu Sans', 'Liberation Sans', sans-serif;color:#4d4d4d;left:1724.2px;top:1876px;transform:translate(-50%,0.40px) scaleX(0.9000);transform-origin:50% 13.00px">10.0</div>
<div class="t" style="font-size:16.6px;font-family:'DejaVu Sans', 'Liberation Sans', sans-serif;left:1527.9px;top:1897px;transform:translate(-50%,0.90px) scaleX(1.0165);transform-origin:50% 13.00px">Prior Scale</div>
<div class="t" style="font-size:16.6px;font-family:'DejaVu Sans', 'Liberation Sans', sans-serif;left:1271.8px;top:1735px;transform:translate(-50%,0.80px) rotate(-90deg) scaleX(1.0247);transform-origin:50% 13.00px">Average LPPD Rank</div>
<div class="t" style="font-size:17.2px;font-family:'DejaVu Sans', 'Liberation Sans', sans-serif;left:1783.3px;top:1700px;transform:translate(0,0.60px) scaleX(0.9765);transform-origin:0 14.00px">#Params</div>
<div class="t" style="font-size:15.6px;font-family:'DejaVu Sans', 'Liberation Sans', sans-serif;left:1802.1px;top:1722px;transform:translate(0,0.90px) scaleX(0.9200);transform-origin:0 12.00px">210</div>
<div class="t" style="font-size:15.6px;font-family:'DejaVu Sans', 'Liberation Sans', sans-serif;left:1802.1px;top:1741px;transform:translate(0,0.97px) scaleX(0.9200);transform-origin:0 12.00px">386</div>
<div class="t" style="font-size:15.6px;font-family:'DejaVu Sans', 'Liberation Sans', sans-serif;left:1802.1px;top:1760px;transform:translate(0,1.04px) scaleX(0.9200);transform-origin:0 12.00px">706</div>
<div class="t" style="font-size:15.6px;font-family:'DejaVu Sans', 'Liberation Sans', sans-serif;left:1802.1px;top:1779px;transform:translate(0,1.11px) scaleX(0.9200);transform-origin:0 12.00px">1026</div>
<div class="t" style="font-size:21px;font-family:'Liberation Sans', sans-serif;font-weight:700;left:1281.8px;top:2068px;transform:translate(-50%,-0.70px) scaleX(1.0179);transform-origin:50% 18.00px">LA</div>
<div class="t" style="font-size:21px;font-family:'Liberation Sans', sans-serif;font-weight:700;left:1433.7px;top:2068px;transform:translate(-50%,-0.70px) scaleX(1.1620);transform-origin:50% 18.00px">MFVI</div>
<div class="t" style="font-size:21px;font-family:'Liberation Sans', sans-serif;font-weight:700;left:1588.2px;top:2068px;transform:translate(-50%,-0.70px) scaleX(1.1857);transform-origin:50% 18.00px">DE (10)</div>
<div class="t" style="font-size:21px;font-family:'Liberation Sans', sans-serif;font-weight:700;left:1740.8px;top:2068px;transform:translate(-50%,-0.70px) scaleX(1.1550);transform-origin:50% 18.00px">BDE (1)</div>
<div class="t" style="font-size:21px;font-family:'Liberation Sans', sans-serif;font-weight:700;left:1895.3px;top:2068px;transform:translate(-50%,-0.70px) scaleX(1.1402);transform-origin:50% 18.00px">BDE (10)</div>
<div class="t" style="font-size:21px;font-family:'Liberation Sans', sans-serif;left:1193.9px;top:2097px;transform:translate(-50%,-0.40px) scaleX(0.9300);transform-origin:50% 18.00px">A</div>
<div class="t" style="font-size:21px;font-family:'Liberation Serif', serif;left:1352.4px;top:2097px;transform:translate(-100%,0.60px) scaleX(1.0944);transform-origin:100% 17.00px">−1.056 ± 0.003</div>
<div class="t" style="font-size:21px;font-family:'Liberation Serif', serif;left:1503.6px;top:2097px;transform:translate(-100%,0.60px) scaleX(1.0944);transform-origin:100% 17.00px">−0.975 ± 0.004</div>
<div class="t" style="font-size:21px;font-family:'Liberation Serif', serif;left:1655.5px;top:2097px;transform:translate(-100%,0.60px) scaleX(1.0944);transform-origin:100% 17.00px">−0.293 ± 0.096</div>
<div class="t" style="font-size:21px;font-family:'Liberation Serif', serif;left:1807.4px;top:2097px;transform:translate(-100%,0.60px) scaleX(1.0658);transform-origin:100% 17.00px">0.016 ± 0.293</div>
<div class="t" style="font-size:21px;font-family:'Liberation Serif', serif;font-weight:700;left:1964.8px;top:2097px;transform:translate(-100%,0.60px) scaleX(1.2615);transform-origin:100% 17.00px">0.665 ± 0.062</div>
<div class="t" style="font-size:21px;font-family:'Liberation Sans', sans-serif;left:1193.9px;top:2125px;transform:translate(-50%,-0.10px) scaleX(0.9300);transform-origin:50% 18.00px">B</div>
<div class="t" style="font-size:21px;font-family:'Liberation Serif', serif;left:1352.4px;top:2125px;transform:translate(-100%,0.90px) scaleX(1.0944);transform-origin:100% 17.00px">−1.046 ± 0.001</div>
<div class="t" style="font-size:21px;font-family:'Liberation Serif', serif;left:1503.6px;top:2125px;transform:translate(-100%,0.90px) scaleX(1.0944);transform-origin:100% 17.00px">−0.990 ± 0.005</div>
<div class="t" style="font-size:21px;font-family:'Liberation Serif', serif;left:1655.5px;top:2125px;transform:translate(-100%,0.90px) scaleX(1.0944);transform-origin:100% 17.00px">−0.223 ± 0.181</div>
<div class="t" style="font-size:21px;font-family:'Liberation Serif', serif;left:1807.4px;top:2125px;transform:translate(-100%,0.90px) scaleX(1.0944);transform-origin:100% 17.00px">−0.060 ± 0.096</div>
<div class="t" style="font-size:21px;font-family:'Liberation Serif', serif;font-weight:700;left:1964.8px;top:2125px;transform:translate(-100%,0.90px) scaleX(1.2615);transform-origin:100% 17.00px">0.226 ± 0.043</div>
<div class="t" style="font-size:21px;font-family:'Liberation Sans', sans-serif;left:1193.9px;top:2154px;transform:translate(-50%,-0.70px) scaleX(0.9300);transform-origin:50% 18.00px">C</div>
<div class="t" style="font-size:21px;font-family:'Liberation Serif', serif;left:1352.4px;top:2154px;transform:translate(-100%,0.30px) scaleX(1.0944);transform-origin:100% 17.00px">−1.131 ± 0.036</div>
<div class="t" style="font-size:21px;font-family:'Liberation Serif', serif;left:1503.6px;top:2154px;transform:translate(-100%,0.30px) scaleX(1.0944);transform-origin:100% 17.00px">−0.998 ± 0.007</div>
<div class="t" style="font-size:21px;font-family:'Liberation Serif', serif;left:1655.5px;top:2154px;transform:translate(-100%,0.30px) scaleX(1.0944);transform-origin:100% 17.00px">−0.510 ± 0.189</div>
<div class="t" style="font-size:21px;font-family:'Liberation Serif', serif;left:1807.4px;top:2154px;transform:translate(-100%,0.30px) scaleX(1.0658);transform-origin:100% 17.00px">0.042 ± 0.056</div>
<div class="t" style="font-size:21px;font-family:'Liberation Serif', serif;font-weight:700;left:1964.8px;top:2154px;transform:translate(-100%,0.30px) scaleX(1.2615);transform-origin:100% 17.00px">0.080 ± 0.061</div>
<div class="t" style="font-size:21px;font-family:'Liberation Sans', sans-serif;left:1193.9px;top:2182px;transform:translate(-50%,-0.40px) scaleX(0.9300);transform-origin:50% 18.00px">E</div>
<div class="t" style="font-size:21px;font-family:'Liberation Serif', serif;left:1352.4px;top:2182px;transform:translate(-100%,0.60px) scaleX(1.0944);transform-origin:100% 17.00px">−1.046 ± 0.004</div>
<div class="t" style="font-size:21px;font-family:'Liberation Serif', serif;left:1503.6px;top:2182px;transform:translate(-100%,0.60px) scaleX(1.0944);transform-origin:100% 17.00px">−0.945 ± 0.002</div>
<div class="t" style="font-size:21px;font-family:'Liberation Serif', serif;left:1655.5px;top:2182px;transform:translate(-100%,0.60px) scaleX(1.0658);transform-origin:100% 17.00px">1.561 ± 0.101</div>
<div class="t" style="font-size:21px;font-family:'Liberation Serif', serif;left:1807.4px;top:2182px;transform:translate(-100%,0.60px) scaleX(1.0658);transform-origin:100% 17.00px">1.947 ± 0.047</div>
<div class="t" style="font-size:21px;font-family:'Liberation Serif', serif;font-weight:700;left:1964.8px;top:2182px;transform:translate(-100%,0.60px) scaleX(1.2615);transform-origin:100% 17.00px">2.204 ± 0.024</div>
<div class="t" style="font-size:21px;font-family:'Liberation Sans', sans-serif;left:1193.9px;top:2210px;transform:translate(-50%,0.20px) scaleX(0.9300);transform-origin:50% 18.00px">A</div>
<div class="t" style="font-size:21px;font-family:'Liberation Serif', serif;left:1352.4px;top:2211px;transform:translate(-100%,0.20px) scaleX(1.0658);transform-origin:100% 17.00px">0.237 ± 0.013</div>
<div class="t" style="font-size:21px;font-family:'Liberation Serif', serif;left:1503.6px;top:2211px;transform:translate(-100%,0.20px) scaleX(1.0658);transform-origin:100% 17.00px">0.276 ± 0.009</div>
<div class="t" style="font-size:21px;font-family:'Liberation Serif', serif;left:1655.5px;top:2211px;transform:translate(-100%,0.20px) scaleX(1.0658);transform-origin:100% 17.00px">0.269 ± 0.016</div>
<div class="t" style="font-size:21px;font-family:'Liberation Serif', serif;left:1807.4px;top:2211px;transform:translate(-100%,0.20px) scaleX(1.0658);transform-origin:100% 17.00px">0.184 ± 0.016</div>
<div class="t" style="font-size:21px;font-family:'Liberation Serif', serif;font-weight:700;left:1964.8px;top:2211px;transform:translate(-100%,0.20px) scaleX(1.2615);transform-origin:100% 17.00px">0.152 ± 0.014</div>
<div class="t" style="font-size:21px;font-family:'Liberation Sans', sans-serif;left:1193.9px;top:2239px;transform:translate(-50%,-0.50px) scaleX(0.9300);transform-origin:50% 18.00px">B</div>
<div class="t" style="font-size:21px;font-family:'Liberation Serif', serif;left:1352.4px;top:2239px;transform:translate(-100%,0.50px) scaleX(1.0658);transform-origin:100% 17.00px">0.252 ± 0.006</div>
<div class="t" style="font-size:21px;font-family:'Liberation Serif', serif;left:1503.6px;top:2239px;transform:translate(-100%,0.50px) scaleX(1.0658);transform-origin:100% 17.00px">0.318 ± 0.018</div>
<div class="t" style="font-size:21px;font-family:'Liberation Serif', serif;left:1655.5px;top:2239px;transform:translate(-100%,0.50px) scaleX(1.0658);transform-origin:100% 17.00px">0.253 ± 0.015</div>
<div class="t" style="font-size:21px;font-family:'Liberation Serif', serif;left:1807.4px;top:2239px;transform:translate(-100%,0.50px) scaleX(1.0658);transform-origin:100% 17.00px">0.262 ± 0.018</div>
<div class="t" style="font-size:21px;font-family:'Liberation Serif', serif;font-weight:700;left:1964.8px;top:2239px;transform:translate(-100%,0.50px) scaleX(1.2615);transform-origin:100% 17.00px">0.229 ± 0.016</div>
<div class="t" style="font-size:21px;font-family:'Liberation Sans', sans-serif;left:1193.9px;top:2267px;transform:translate(-50%,-0.20px) scaleX(0.9300);transform-origin:50% 18.00px">C</div>
<div class="t" style="font-size:21px;font-family:'Liberation Serif', serif;left:1352.4px;top:2267px;transform:translate(-100%,0.80px) scaleX(1.0658);transform-origin:100% 17.00px">0.482 ± 0.100</div>
<div class="t" style="font-size:21px;font-family:'Liberation Serif', serif;left:1503.6px;top:2267px;transform:translate(-100%,0.80px) scaleX(1.0658);transform-origin:100% 17.00px">0.350 ± 0.025</div>
<div class="t" style="font-size:21px;font-family:'Liberation Serif', serif;left:1655.5px;top:2267px;transform:translate(-100%,0.80px) scaleX(1.0658);transform-origin:100% 17.00px">0.297 ± 0.032</div>
<div class="t" style="font-size:21px;font-family:'Liberation Serif', serif;left:1807.4px;top:2267px;transform:translate(-100%,0.80px) scaleX(1.0658);transform-origin:100% 17.00px">0.270 ± 0.034</div>
<div class="t" style="font-size:21px;font-family:'Liberation Serif', serif;font-weight:700;left:1964.8px;top:2267px;transform:translate(-100%,0.80px) scaleX(1.2615);transform-origin:100% 17.00px">0.258 ± 0.037</div>
<div class="t" style="font-size:21px;font-family:'Liberation Sans', sans-serif;left:1193.9px;top:2295px;transform:translate(-50%,0.20px) scaleX(0.9300);transform-origin:50% 18.00px">E</div>
<div class="t" style="font-size:21px;font-family:'Liberation Serif', serif;left:1352.4px;top:2296px;transform:translate(-100%,0.20px) scaleX(1.0658);transform-origin:100% 17.00px">0.065 ± 0.008</div>
<div class="t" style="font-size:21px;font-family:'Liberation Serif', serif;left:1503.6px;top:2296px;transform:translate(-100%,0.20px) scaleX(1.0658);transform-origin:100% 17.00px">0.126 ± 0.007</div>
<div class="t" style="font-size:21px;font-family:'Liberation Serif', serif;left:1655.5px;top:2296px;transform:translate(-100%,0.20px) scaleX(1.0658);transform-origin:100% 17.00px">0.050 ± 0.001</div>
<div class="t" style="font-size:21px;font-family:'Liberation Serif', serif;left:1807.4px;top:2296px;transform:translate(-100%,0.20px) scaleX(1.0658);transform-origin:100% 17.00px">0.041 ± 0.003</div>
<div class="t" style="font-size:21px;font-family:'Liberation Serif', serif;font-weight:700;left:1964.8px;top:2296px;transform:translate(-100%,0.20px) scaleX(1.2615);transform-origin:100% 17.00px">0.032 ± 0.002</div>
<div class="t" style="font-size:21px;font-family:'Liberation Sans', sans-serif;left:1172.6px;top:2129px;transform:translate(-50%,-0.10px) rotate(-90deg) scaleX(1.0330);transform-origin:50% 18.00px">LPPD (↑)</div>
<div class="t" style="font-size:21px;font-family:'Liberation Sans', sans-serif;left:1172.6px;top:2243px;transform:translate(-50%,-0.20px) rotate(-90deg);transform-origin:50% 18.00px">RMSE (↓)</div>
</body></html>
